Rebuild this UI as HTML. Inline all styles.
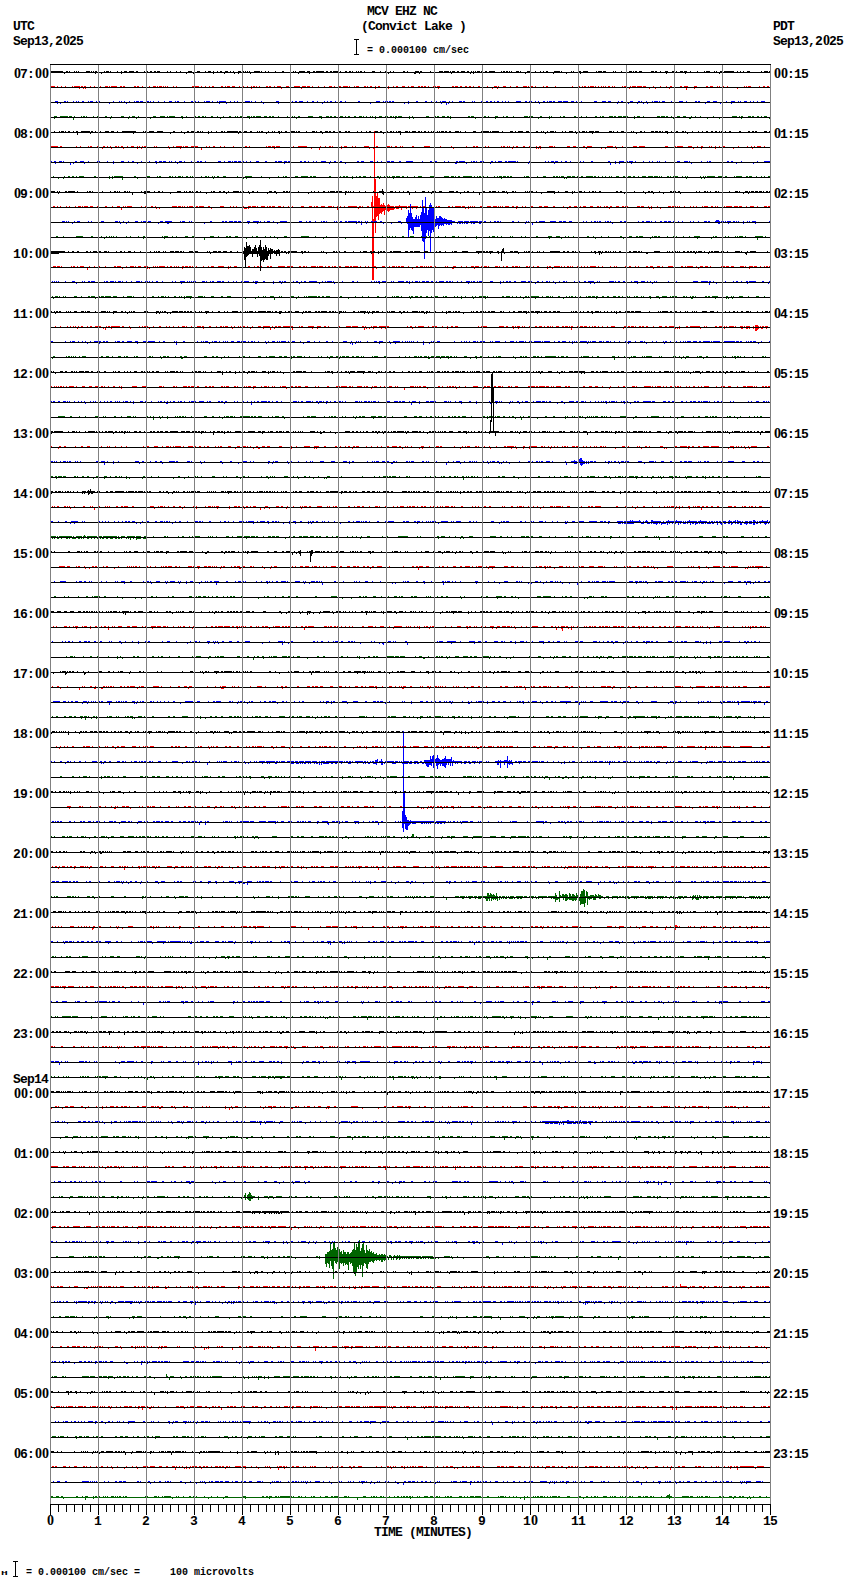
<!DOCTYPE html>
<html><head><meta charset="utf-8"><title>MCV EHZ NC helicorder</title>
<style>
html,body{margin:0;padding:0;background:#fff;}
body{width:850px;height:1584px;position:relative;overflow:hidden;}
.mu{position:absolute;left:1px;top:1569px;font-family:'Liberation Sans','DejaVu Sans',sans-serif;font-weight:bold;font-size:8px;line-height:8px;color:#000;transform:scaleX(1.4);transform-origin:0 0;}
</style></head><body>
<svg width="850" height="1584" viewBox="0 0 850 1584" shape-rendering="crispEdges" style="position:absolute;left:0;top:0"><path fill="#000000" d="M51 71h12v1h-12zM66 71h2v1h-2zM69 71h1v1h-1zM74 71h1v1h-1zM76 71h1v1h-1zM78 71h1v1h-1zM86 71h4v1h-4zM91 71h1v1h-1zM93 71h1v1h-1zM95 71h2v1h-2zM104 71h1v1h-1zM106 71h3v1h-3zM110 71h1v1h-1zM117 71h1v1h-1zM121 71h1v1h-1zM124 71h3v1h-3zM129 71h5v1h-5zM136 71h2v1h-2zM144 71h1v1h-1zM146 71h2v1h-2zM150 71h2v1h-2zM154 71h2v1h-2zM157 71h3v1h-3zM167 71h1v1h-1zM170 71h1v1h-1zM176 71h1v1h-1zM180 71h1v1h-1zM188 71h4v1h-4zM197 71h3v1h-3zM205 71h1v1h-1zM208 71h3v1h-3zM213 71h1v1h-1zM217 71h1v1h-1zM220 71h2v1h-2zM225 71h3v1h-3zM230 71h1v1h-1zM233 71h1v1h-1zM238 71h3v1h-3zM243 71h1v1h-1zM245 71h1v1h-1zM247 71h1v1h-1zM249 71h1v1h-1zM254 71h6v1h-6zM261 71h1v1h-1zM265 71h1v1h-1zM268 71h1v1h-1zM275 71h1v1h-1zM282 71h2v1h-2zM290 71h1v1h-1zM293 71h1v1h-1zM295 71h1v1h-1zM299 71h6v1h-6zM307 71h3v1h-3zM313 71h2v1h-2zM316 71h8v1h-8zM326 71h2v1h-2zM330 71h2v1h-2zM333 71h6v1h-6zM340 71h1v1h-1zM345 71h2v1h-2zM349 71h2v1h-2zM352 71h1v1h-1zM356 71h1v1h-1zM358 71h1v1h-1zM360 71h2v1h-2zM364 71h1v1h-1zM372 71h3v1h-3zM380 71h1v1h-1zM385 71h1v1h-1zM390 71h1v1h-1zM393 71h1v1h-1zM403 71h2v1h-2zM407 71h1v1h-1zM415 71h4v1h-4zM420 71h2v1h-2zM430 71h1v1h-1zM439 71h4v1h-4zM444 71h5v1h-5zM450 71h1v1h-1zM452 71h3v1h-3zM457 71h2v1h-2zM461 71h4v1h-4zM467 71h2v1h-2zM471 71h1v1h-1zM473 71h1v1h-1zM475 71h1v1h-1zM477 71h3v1h-3zM481 71h1v1h-1zM485 71h2v1h-2zM489 71h6v1h-6zM501 71h1v1h-1zM503 71h2v1h-2zM506 71h2v1h-2zM509 71h1v1h-1zM511 71h1v1h-1zM516 71h3v1h-3zM520 71h1v1h-1zM527 71h3v1h-3zM535 71h1v1h-1zM540 71h1v1h-1zM543 71h1v1h-1zM546 71h2v1h-2zM554 71h6v1h-6zM561 71h1v1h-1zM571 71h1v1h-1zM573 71h1v1h-1zM579 71h2v1h-2zM583 71h5v1h-5zM596 71h1v1h-1zM598 71h4v1h-4zM603 71h3v1h-3zM613 71h1v1h-1zM615 71h1v1h-1zM621 71h1v1h-1zM626 71h1v1h-1zM629 71h3v1h-3zM633 71h1v1h-1zM635 71h2v1h-2zM639 71h3v1h-3zM651 71h3v1h-3zM655 71h2v1h-2zM660 71h1v1h-1zM665 71h3v1h-3zM672 71h2v1h-2zM676 71h1v1h-1zM680 71h3v1h-3zM684 71h3v1h-3zM690 71h1v1h-1zM697 71h1v1h-1zM704 71h1v1h-1zM706 71h4v1h-4zM714 71h1v1h-1zM716 71h1v1h-1zM720 71h2v1h-2zM724 71h10v1h-10zM737 71h1v1h-1zM740 71h1v1h-1zM743 71h1v1h-1zM747 71h3v1h-3zM761 71h1v1h-1zM764 71h4v1h-4zM769 71h1v1h-1zM64 73h1v1h-1zM95 73h1v1h-1zM101 73h1v1h-1zM121 73h1v1h-1zM186 73h1v1h-1zM193 73h1v1h-1zM213 73h1v1h-1zM224 73h1v1h-1zM234 73h1v1h-1zM238 73h1v1h-1zM250 73h1v1h-1zM298 73h1v1h-1zM309 73h1v1h-1zM388 73h1v1h-1zM414 73h2v1h-2zM419 73h1v1h-1zM451 73h1v1h-1zM470 73h1v1h-1zM473 73h1v1h-1zM525 73h1v1h-1zM553 73h1v1h-1zM566 73h1v1h-1zM580 73h1v1h-1zM666 73h1v1h-1zM685 73h1v1h-1zM719 73h1v1h-1z"/><path fill="#ff0000" d="M51 86h4v1h-4zM57 86h1v1h-1zM61 86h1v1h-1zM65 86h1v1h-1zM72 86h1v1h-1zM74 86h6v1h-6zM81 86h2v1h-2zM84 86h2v1h-2zM90 86h1v1h-1zM94 86h1v1h-1zM100 86h1v1h-1zM105 86h3v1h-3zM109 86h1v1h-1zM111 86h6v1h-6zM120 86h2v1h-2zM123 86h2v1h-2zM134 86h2v1h-2zM137 86h2v1h-2zM142 86h1v1h-1zM149 86h1v1h-1zM153 86h3v1h-3zM157 86h1v1h-1zM159 86h3v1h-3zM163 86h1v1h-1zM165 86h1v1h-1zM167 86h1v1h-1zM173 86h1v1h-1zM176 86h1v1h-1zM192 86h7v1h-7zM201 86h1v1h-1zM205 86h1v1h-1zM209 86h1v1h-1zM212 86h2v1h-2zM221 86h2v1h-2zM225 86h1v1h-1zM227 86h3v1h-3zM232 86h3v1h-3zM239 86h1v1h-1zM242 86h2v1h-2zM247 86h1v1h-1zM251 86h1v1h-1zM253 86h2v1h-2zM256 86h1v1h-1zM259 86h1v1h-1zM266 86h2v1h-2zM269 86h2v1h-2zM274 86h1v1h-1zM277 86h4v1h-4zM286 86h3v1h-3zM294 86h6v1h-6zM302 86h4v1h-4zM307 86h3v1h-3zM312 86h1v1h-1zM318 86h1v1h-1zM324 86h1v1h-1zM329 86h3v1h-3zM334 86h1v1h-1zM338 86h3v1h-3zM343 86h5v1h-5zM349 86h1v1h-1zM354 86h1v1h-1zM356 86h3v1h-3zM364 86h2v1h-2zM367 86h1v1h-1zM370 86h2v1h-2zM375 86h1v1h-1zM378 86h2v1h-2zM386 86h1v1h-1zM388 86h1v1h-1zM393 86h1v1h-1zM396 86h2v1h-2zM402 86h3v1h-3zM408 86h1v1h-1zM411 86h3v1h-3zM418 86h2v1h-2zM421 86h2v1h-2zM424 86h2v1h-2zM428 86h1v1h-1zM433 86h3v1h-3zM437 86h3v1h-3zM452 86h2v1h-2zM455 86h3v1h-3zM460 86h2v1h-2zM465 86h2v1h-2zM469 86h2v1h-2zM473 86h1v1h-1zM478 86h2v1h-2zM487 86h1v1h-1zM494 86h3v1h-3zM498 86h1v1h-1zM503 86h3v1h-3zM510 86h1v1h-1zM516 86h2v1h-2zM523 86h4v1h-4zM528 86h1v1h-1zM530 86h3v1h-3zM535 86h1v1h-1zM543 86h1v1h-1zM546 86h2v1h-2zM555 86h1v1h-1zM572 86h1v1h-1zM579 86h1v1h-1zM582 86h1v1h-1zM584 86h2v1h-2zM588 86h1v1h-1zM590 86h4v1h-4zM595 86h1v1h-1zM598 86h1v1h-1zM601 86h1v1h-1zM603 86h1v1h-1zM605 86h1v1h-1zM608 86h2v1h-2zM612 86h1v1h-1zM614 86h1v1h-1zM622 86h1v1h-1zM624 86h3v1h-3zM630 86h1v1h-1zM632 86h4v1h-4zM637 86h5v1h-5zM643 86h3v1h-3zM653 86h1v1h-1zM660 86h1v1h-1zM666 86h1v1h-1zM670 86h2v1h-2zM674 86h1v1h-1zM680 86h2v1h-2zM684 86h4v1h-4zM694 86h3v1h-3zM706 86h2v1h-2zM710 86h3v1h-3zM717 86h1v1h-1zM719 86h1v1h-1zM723 86h1v1h-1zM727 86h1v1h-1zM744 86h1v1h-1zM746 86h1v1h-1zM748 86h3v1h-3zM759 86h1v1h-1zM763 86h2v1h-2zM767 86h2v1h-2zM79 88h1v1h-1zM83 88h1v1h-1zM85 88h1v1h-1zM251 88h1v1h-1zM281 88h1v1h-1zM301 88h1v1h-1zM375 88h1v1h-1zM388 88h1v1h-1zM438 88h1v1h-1zM492 88h1v1h-1zM497 88h1v1h-1zM629 88h1v1h-1zM649 88h1v1h-1zM655 88h1v1h-1zM669 88h1v1h-1zM686 88h1v1h-1zM694 88h1v1h-1zM737 88h1v1h-1zM686 89h1v1h-1z"/><path fill="#0000ff" d="M55 101h3v1h-3zM64 101h2v1h-2zM67 101h1v1h-1zM73 101h1v1h-1zM76 101h1v1h-1zM78 101h1v1h-1zM82 101h2v1h-2zM88 101h1v1h-1zM90 101h3v1h-3zM96 101h1v1h-1zM99 101h1v1h-1zM113 101h1v1h-1zM119 101h1v1h-1zM121 101h1v1h-1zM124 101h1v1h-1zM129 101h1v1h-1zM134 101h1v1h-1zM136 101h3v1h-3zM140 101h3v1h-3zM147 101h2v1h-2zM150 101h1v1h-1zM153 101h1v1h-1zM158 101h1v1h-1zM164 101h1v1h-1zM169 101h3v1h-3zM175 101h1v1h-1zM177 101h2v1h-2zM184 101h1v1h-1zM191 101h2v1h-2zM195 101h1v1h-1zM198 101h1v1h-1zM204 101h1v1h-1zM206 101h4v1h-4zM212 101h1v1h-1zM217 101h1v1h-1zM219 101h7v1h-7zM230 101h1v1h-1zM234 101h1v1h-1zM237 101h1v1h-1zM245 101h5v1h-5zM251 101h1v1h-1zM255 101h1v1h-1zM261 101h1v1h-1zM276 101h3v1h-3zM292 101h1v1h-1zM295 101h2v1h-2zM299 101h4v1h-4zM307 101h1v1h-1zM312 101h2v1h-2zM317 101h1v1h-1zM324 101h1v1h-1zM327 101h1v1h-1zM330 101h2v1h-2zM335 101h1v1h-1zM340 101h2v1h-2zM345 101h1v1h-1zM358 101h2v1h-2zM376 101h4v1h-4zM383 101h1v1h-1zM385 101h3v1h-3zM389 101h2v1h-2zM392 101h2v1h-2zM408 101h1v1h-1zM416 101h2v1h-2zM425 101h2v1h-2zM431 101h1v1h-1zM436 101h1v1h-1zM440 101h1v1h-1zM442 101h4v1h-4zM449 101h1v1h-1zM452 101h1v1h-1zM459 101h3v1h-3zM463 101h2v1h-2zM472 101h1v1h-1zM474 101h1v1h-1zM481 101h1v1h-1zM486 101h2v1h-2zM490 101h2v1h-2zM494 101h1v1h-1zM497 101h2v1h-2zM502 101h1v1h-1zM505 101h1v1h-1zM508 101h1v1h-1zM516 101h5v1h-5zM525 101h2v1h-2zM529 101h3v1h-3zM535 101h1v1h-1zM538 101h1v1h-1zM543 101h2v1h-2zM547 101h1v1h-1zM549 101h3v1h-3zM553 101h2v1h-2zM558 101h4v1h-4zM563 101h5v1h-5zM571 101h3v1h-3zM576 101h1v1h-1zM581 101h1v1h-1zM594 101h3v1h-3zM602 101h4v1h-4zM608 101h3v1h-3zM618 101h1v1h-1zM621 101h2v1h-2zM630 101h3v1h-3zM638 101h2v1h-2zM641 101h1v1h-1zM646 101h1v1h-1zM652 101h1v1h-1zM654 101h4v1h-4zM659 101h1v1h-1zM662 101h3v1h-3zM671 101h1v1h-1zM679 101h4v1h-4zM686 101h1v1h-1zM695 101h2v1h-2zM698 101h2v1h-2zM707 101h3v1h-3zM713 101h4v1h-4zM726 101h1v1h-1zM731 101h4v1h-4zM738 101h1v1h-1zM740 101h1v1h-1zM744 101h3v1h-3zM750 101h1v1h-1zM753 101h1v1h-1zM757 101h1v1h-1zM761 101h4v1h-4zM57 103h1v1h-1zM60 103h1v1h-1zM109 103h1v1h-1zM126 103h1v1h-1zM219 103h1v1h-1zM226 103h1v1h-1zM263 103h1v1h-1zM278 103h1v1h-1zM322 103h1v1h-1zM370 103h1v1h-1zM404 103h1v1h-1zM408 103h1v1h-1zM441 103h1v1h-1zM446 103h1v1h-1zM448 103h1v1h-1zM539 103h1v1h-1zM617 103h1v1h-1zM628 103h1v1h-1zM637 103h1v1h-1zM643 103h1v1h-1zM647 103h1v1h-1zM705 103h1v1h-1zM720 103h1v1h-1zM731 103h1v1h-1zM446 104h1v1h-1z"/><path fill="#006400" d="M54 116h3v1h-3zM60 116h8v1h-8zM69 116h3v1h-3zM74 116h1v1h-1zM81 116h1v1h-1zM83 116h2v1h-2zM86 116h1v1h-1zM93 116h1v1h-1zM97 116h1v1h-1zM105 116h2v1h-2zM111 116h1v1h-1zM121 116h3v1h-3zM129 116h1v1h-1zM132 116h3v1h-3zM138 116h1v1h-1zM153 116h3v1h-3zM160 116h5v1h-5zM167 116h1v1h-1zM169 116h6v1h-6zM181 116h2v1h-2zM186 116h1v1h-1zM194 116h2v1h-2zM198 116h2v1h-2zM202 116h2v1h-2zM205 116h1v1h-1zM211 116h2v1h-2zM217 116h1v1h-1zM223 116h1v1h-1zM229 116h2v1h-2zM235 116h1v1h-1zM237 116h1v1h-1zM240 116h3v1h-3zM247 116h3v1h-3zM251 116h1v1h-1zM253 116h2v1h-2zM256 116h5v1h-5zM264 116h3v1h-3zM269 116h2v1h-2zM272 116h2v1h-2zM278 116h1v1h-1zM287 116h1v1h-1zM292 116h1v1h-1zM294 116h1v1h-1zM298 116h2v1h-2zM308 116h5v1h-5zM319 116h3v1h-3zM326 116h3v1h-3zM330 116h2v1h-2zM334 116h2v1h-2zM340 116h3v1h-3zM345 116h1v1h-1zM348 116h2v1h-2zM354 116h2v1h-2zM359 116h3v1h-3zM363 116h1v1h-1zM366 116h1v1h-1zM370 116h1v1h-1zM372 116h1v1h-1zM375 116h1v1h-1zM379 116h3v1h-3zM385 116h3v1h-3zM390 116h2v1h-2zM393 116h1v1h-1zM395 116h2v1h-2zM398 116h4v1h-4zM409 116h1v1h-1zM412 116h1v1h-1zM426 116h3v1h-3zM435 116h1v1h-1zM437 116h2v1h-2zM442 116h3v1h-3zM447 116h2v1h-2zM450 116h1v1h-1zM468 116h2v1h-2zM471 116h3v1h-3zM482 116h1v1h-1zM484 116h2v1h-2zM488 116h1v1h-1zM495 116h3v1h-3zM503 116h1v1h-1zM506 116h2v1h-2zM513 116h1v1h-1zM524 116h4v1h-4zM529 116h4v1h-4zM540 116h2v1h-2zM549 116h1v1h-1zM551 116h1v1h-1zM560 116h1v1h-1zM563 116h2v1h-2zM574 116h2v1h-2zM581 116h1v1h-1zM586 116h1v1h-1zM595 116h2v1h-2zM600 116h1v1h-1zM602 116h2v1h-2zM609 116h4v1h-4zM614 116h2v1h-2zM618 116h4v1h-4zM623 116h3v1h-3zM627 116h1v1h-1zM634 116h1v1h-1zM637 116h3v1h-3zM643 116h1v1h-1zM657 116h3v1h-3zM661 116h4v1h-4zM666 116h2v1h-2zM671 116h1v1h-1zM674 116h1v1h-1zM677 116h3v1h-3zM683 116h3v1h-3zM691 116h1v1h-1zM695 116h1v1h-1zM700 116h1v1h-1zM713 116h1v1h-1zM732 116h5v1h-5zM739 116h1v1h-1zM741 116h2v1h-2zM748 116h3v1h-3zM752 116h2v1h-2zM757 116h2v1h-2zM761 116h1v1h-1zM764 116h3v1h-3zM54 118h1v1h-1zM73 118h1v1h-1zM110 118h1v1h-1zM128 118h1v1h-1zM136 118h1v1h-1zM150 118h1v1h-1zM182 118h1v1h-1zM220 118h1v1h-1zM249 118h1v1h-1zM296 118h1v1h-1zM321 118h1v1h-1zM375 118h1v1h-1zM395 118h1v1h-1zM409 118h1v1h-1zM413 118h1v1h-1zM450 118h1v1h-1zM475 118h1v1h-1zM495 118h1v1h-1zM538 118h1v1h-1zM549 118h1v1h-1zM634 118h1v1h-1zM673 118h1v1h-1zM689 118h2v1h-2zM707 118h1v1h-1zM719 118h1v1h-1zM741 118h1v1h-1zM769 118h1v1h-1zM73 119h1v1h-1z"/><path fill="#000000" d="M54 131h1v1h-1zM59 131h1v1h-1zM61 131h3v1h-3zM65 131h1v1h-1zM68 131h2v1h-2zM73 131h1v1h-1zM76 131h2v1h-2zM81 131h9v1h-9zM91 131h2v1h-2zM95 131h1v1h-1zM100 131h1v1h-1zM105 131h4v1h-4zM111 131h3v1h-3zM117 131h1v1h-1zM122 131h14v1h-14zM143 131h1v1h-1zM145 131h2v1h-2zM149 131h5v1h-5zM157 131h6v1h-6zM173 131h2v1h-2zM181 131h1v1h-1zM187 131h2v1h-2zM191 131h3v1h-3zM197 131h2v1h-2zM200 131h1v1h-1zM202 131h1v1h-1zM208 131h1v1h-1zM211 131h1v1h-1zM216 131h1v1h-1zM221 131h2v1h-2zM224 131h1v1h-1zM227 131h11v1h-11zM239 131h2v1h-2zM242 131h1v1h-1zM244 131h3v1h-3zM250 131h2v1h-2zM257 131h1v1h-1zM259 131h1v1h-1zM261 131h2v1h-2zM268 131h1v1h-1zM272 131h1v1h-1zM274 131h1v1h-1zM278 131h2v1h-2zM281 131h1v1h-1zM285 131h2v1h-2zM290 131h5v1h-5zM296 131h1v1h-1zM298 131h2v1h-2zM306 131h1v1h-1zM312 131h3v1h-3zM316 131h1v1h-1zM320 131h2v1h-2zM325 131h3v1h-3zM329 131h2v1h-2zM333 131h2v1h-2zM339 131h2v1h-2zM345 131h2v1h-2zM348 131h2v1h-2zM357 131h1v1h-1zM361 131h1v1h-1zM366 131h1v1h-1zM369 131h2v1h-2zM375 131h3v1h-3zM380 131h2v1h-2zM387 131h1v1h-1zM390 131h2v1h-2zM393 131h1v1h-1zM396 131h1v1h-1zM398 131h3v1h-3zM405 131h3v1h-3zM409 131h1v1h-1zM412 131h4v1h-4zM418 131h2v1h-2zM421 131h1v1h-1zM424 131h2v1h-2zM428 131h1v1h-1zM431 131h1v1h-1zM433 131h2v1h-2zM437 131h1v1h-1zM439 131h1v1h-1zM441 131h3v1h-3zM445 131h2v1h-2zM449 131h2v1h-2zM455 131h4v1h-4zM460 131h1v1h-1zM465 131h1v1h-1zM473 131h3v1h-3zM481 131h8v1h-8zM490 131h1v1h-1zM492 131h7v1h-7zM502 131h1v1h-1zM510 131h3v1h-3zM515 131h1v1h-1zM518 131h5v1h-5zM526 131h3v1h-3zM536 131h2v1h-2zM541 131h1v1h-1zM543 131h1v1h-1zM547 131h1v1h-1zM550 131h4v1h-4zM555 131h1v1h-1zM562 131h1v1h-1zM565 131h1v1h-1zM569 131h4v1h-4zM575 131h1v1h-1zM579 131h1v1h-1zM582 131h3v1h-3zM586 131h1v1h-1zM589 131h5v1h-5zM595 131h4v1h-4zM609 131h3v1h-3zM613 131h1v1h-1zM617 131h1v1h-1zM621 131h3v1h-3zM631 131h1v1h-1zM633 131h1v1h-1zM640 131h2v1h-2zM644 131h1v1h-1zM651 131h3v1h-3zM655 131h3v1h-3zM659 131h2v1h-2zM662 131h1v1h-1zM665 131h3v1h-3zM671 131h1v1h-1zM676 131h2v1h-2zM682 131h2v1h-2zM685 131h1v1h-1zM692 131h1v1h-1zM698 131h1v1h-1zM702 131h1v1h-1zM706 131h2v1h-2zM711 131h2v1h-2zM715 131h2v1h-2zM719 131h1v1h-1zM721 131h1v1h-1zM725 131h1v1h-1zM729 131h2v1h-2zM739 131h2v1h-2zM748 131h2v1h-2zM752 131h2v1h-2zM755 131h2v1h-2zM764 131h3v1h-3zM769 131h1v1h-1zM77 133h1v1h-1zM90 133h1v1h-1zM133 133h1v1h-1zM170 133h1v1h-1zM184 133h1v1h-1zM208 133h1v1h-1zM238 133h1v1h-1zM266 133h1v1h-1zM279 133h1v1h-1zM322 133h1v1h-1zM383 133h1v1h-1zM400 133h1v1h-1zM545 133h1v1h-1zM576 133h1v1h-1zM592 133h1v1h-1zM636 133h1v1h-1zM667 133h1v1h-1zM687 133h1v1h-1zM77 134h1v1h-1zM400 134h1v1h-1z"/><path fill="#ff0000" d="M51 146h7v1h-7zM60 146h2v1h-2zM76 146h1v1h-1zM80 146h1v1h-1zM88 146h1v1h-1zM90 146h2v1h-2zM97 146h2v1h-2zM103 146h2v1h-2zM107 146h1v1h-1zM110 146h1v1h-1zM115 146h2v1h-2zM118 146h1v1h-1zM121 146h2v1h-2zM127 146h1v1h-1zM131 146h3v1h-3zM137 146h1v1h-1zM139 146h1v1h-1zM142 146h1v1h-1zM144 146h3v1h-3zM154 146h1v1h-1zM156 146h1v1h-1zM168 146h1v1h-1zM173 146h1v1h-1zM176 146h6v1h-6zM183 146h1v1h-1zM185 146h3v1h-3zM191 146h3v1h-3zM195 146h3v1h-3zM206 146h1v1h-1zM209 146h1v1h-1zM213 146h2v1h-2zM220 146h1v1h-1zM224 146h1v1h-1zM233 146h1v1h-1zM245 146h2v1h-2zM249 146h1v1h-1zM266 146h1v1h-1zM268 146h3v1h-3zM272 146h3v1h-3zM276 146h4v1h-4zM293 146h1v1h-1zM298 146h9v1h-9zM320 146h1v1h-1zM325 146h1v1h-1zM329 146h2v1h-2zM332 146h1v1h-1zM341 146h1v1h-1zM344 146h3v1h-3zM352 146h1v1h-1zM355 146h1v1h-1zM364 146h5v1h-5zM376 146h2v1h-2zM386 146h4v1h-4zM391 146h1v1h-1zM395 146h2v1h-2zM400 146h1v1h-1zM402 146h1v1h-1zM412 146h2v1h-2zM424 146h6v1h-6zM434 146h1v1h-1zM440 146h1v1h-1zM451 146h1v1h-1zM466 146h1v1h-1zM473 146h2v1h-2zM476 146h2v1h-2zM485 146h1v1h-1zM488 146h1v1h-1zM501 146h1v1h-1zM503 146h2v1h-2zM507 146h1v1h-1zM509 146h1v1h-1zM513 146h1v1h-1zM516 146h2v1h-2zM523 146h2v1h-2zM529 146h1v1h-1zM536 146h1v1h-1zM539 146h2v1h-2zM549 146h4v1h-4zM554 146h1v1h-1zM567 146h3v1h-3zM573 146h3v1h-3zM583 146h2v1h-2zM587 146h5v1h-5zM607 146h6v1h-6zM615 146h1v1h-1zM622 146h1v1h-1zM633 146h4v1h-4zM639 146h6v1h-6zM665 146h3v1h-3zM674 146h2v1h-2zM677 146h6v1h-6zM688 146h4v1h-4zM697 146h1v1h-1zM701 146h2v1h-2zM709 146h1v1h-1zM711 146h1v1h-1zM715 146h1v1h-1zM719 146h1v1h-1zM722 146h3v1h-3zM738 146h1v1h-1zM747 146h1v1h-1zM751 146h1v1h-1zM754 146h1v1h-1zM757 146h4v1h-4zM764 146h1v1h-1zM102 148h1v1h-1zM111 148h1v1h-1zM123 148h1v1h-1zM137 148h1v1h-1zM141 148h1v1h-1zM169 148h1v1h-1zM180 148h1v1h-1zM201 148h1v1h-1zM274 148h1v1h-1zM311 148h1v1h-1zM319 148h1v1h-1zM341 148h1v1h-1zM369 148h1v1h-1zM373 148h2v1h-2zM453 148h1v1h-1zM512 148h1v1h-1zM536 148h1v1h-1zM538 148h1v1h-1zM540 148h1v1h-1zM586 148h1v1h-1zM601 148h1v1h-1zM605 148h1v1h-1zM616 148h1v1h-1zM693 148h1v1h-1zM701 148h1v1h-1zM715 148h1v1h-1zM733 148h1v1h-1zM752 148h1v1h-1zM201 149h1v1h-1zM319 149h1v1h-1z"/><path fill="#0000ff" d="M51 161h1v1h-1zM54 161h2v1h-2zM59 161h3v1h-3zM63 161h1v1h-1zM75 161h2v1h-2zM80 161h4v1h-4zM88 161h1v1h-1zM97 161h3v1h-3zM107 161h1v1h-1zM113 161h1v1h-1zM121 161h3v1h-3zM128 161h1v1h-1zM132 161h2v1h-2zM141 161h1v1h-1zM149 161h1v1h-1zM155 161h2v1h-2zM159 161h3v1h-3zM163 161h3v1h-3zM169 161h1v1h-1zM171 161h1v1h-1zM175 161h1v1h-1zM179 161h3v1h-3zM184 161h1v1h-1zM191 161h1v1h-1zM194 161h1v1h-1zM197 161h2v1h-2zM200 161h2v1h-2zM205 161h1v1h-1zM218 161h3v1h-3zM224 161h1v1h-1zM228 161h3v1h-3zM232 161h1v1h-1zM234 161h3v1h-3zM238 161h3v1h-3zM243 161h1v1h-1zM246 161h1v1h-1zM250 161h1v1h-1zM256 161h3v1h-3zM265 161h2v1h-2zM275 161h2v1h-2zM278 161h4v1h-4zM284 161h3v1h-3zM288 161h3v1h-3zM300 161h2v1h-2zM304 161h2v1h-2zM308 161h1v1h-1zM313 161h1v1h-1zM316 161h1v1h-1zM321 161h5v1h-5zM330 161h1v1h-1zM334 161h2v1h-2zM340 161h2v1h-2zM357 161h2v1h-2zM361 161h3v1h-3zM370 161h3v1h-3zM377 161h1v1h-1zM381 161h1v1h-1zM386 161h4v1h-4zM391 161h3v1h-3zM399 161h2v1h-2zM406 161h7v1h-7zM422 161h1v1h-1zM430 161h2v1h-2zM434 161h3v1h-3zM444 161h1v1h-1zM448 161h1v1h-1zM456 161h2v1h-2zM459 161h6v1h-6zM471 161h1v1h-1zM473 161h2v1h-2zM476 161h1v1h-1zM480 161h4v1h-4zM491 161h2v1h-2zM495 161h1v1h-1zM498 161h4v1h-4zM505 161h2v1h-2zM508 161h8v1h-8zM517 161h1v1h-1zM529 161h1v1h-1zM545 161h1v1h-1zM548 161h1v1h-1zM551 161h3v1h-3zM555 161h3v1h-3zM561 161h1v1h-1zM565 161h2v1h-2zM570 161h1v1h-1zM578 161h1v1h-1zM580 161h1v1h-1zM583 161h1v1h-1zM591 161h2v1h-2zM608 161h2v1h-2zM615 161h1v1h-1zM619 161h5v1h-5zM627 161h1v1h-1zM629 161h4v1h-4zM635 161h1v1h-1zM643 161h1v1h-1zM649 161h1v1h-1zM652 161h1v1h-1zM657 161h1v1h-1zM659 161h1v1h-1zM665 161h1v1h-1zM677 161h3v1h-3zM684 161h4v1h-4zM689 161h1v1h-1zM701 161h1v1h-1zM707 161h1v1h-1zM709 161h2v1h-2zM727 161h2v1h-2zM731 161h2v1h-2zM741 161h1v1h-1zM757 161h1v1h-1zM764 161h6v1h-6zM55 163h1v1h-1zM70 163h1v1h-1zM73 163h1v1h-1zM84 163h1v1h-1zM113 163h1v1h-1zM137 163h1v1h-1zM156 163h1v1h-1zM177 163h1v1h-1zM284 163h1v1h-1zM329 163h1v1h-1zM345 163h1v1h-1zM455 163h2v1h-2zM466 163h1v1h-1zM490 163h1v1h-1zM528 163h1v1h-1zM554 163h1v1h-1zM610 163h1v1h-1zM615 163h1v1h-1zM619 163h1v1h-1zM631 163h1v1h-1zM691 163h1v1h-1zM736 163h1v1h-1zM753 163h1v1h-1zM70 164h1v1h-1zM610 164h1v1h-1z"/><path fill="#006400" d="M53 176h1v1h-1zM64 176h1v1h-1zM68 176h2v1h-2zM72 176h2v1h-2zM76 176h1v1h-1zM79 176h5v1h-5zM94 176h2v1h-2zM109 176h1v1h-1zM112 176h1v1h-1zM114 176h9v1h-9zM134 176h2v1h-2zM147 176h3v1h-3zM157 176h1v1h-1zM159 176h2v1h-2zM169 176h2v1h-2zM172 176h1v1h-1zM175 176h1v1h-1zM178 176h3v1h-3zM182 176h1v1h-1zM186 176h2v1h-2zM190 176h1v1h-1zM192 176h1v1h-1zM201 176h1v1h-1zM205 176h2v1h-2zM208 176h1v1h-1zM212 176h1v1h-1zM214 176h1v1h-1zM217 176h2v1h-2zM223 176h3v1h-3zM237 176h1v1h-1zM245 176h7v1h-7zM261 176h1v1h-1zM278 176h1v1h-1zM283 176h1v1h-1zM285 176h2v1h-2zM295 176h3v1h-3zM301 176h7v1h-7zM310 176h2v1h-2zM313 176h3v1h-3zM329 176h2v1h-2zM340 176h1v1h-1zM343 176h2v1h-2zM346 176h2v1h-2zM352 176h1v1h-1zM356 176h1v1h-1zM359 176h2v1h-2zM363 176h3v1h-3zM370 176h1v1h-1zM377 176h2v1h-2zM380 176h1v1h-1zM384 176h1v1h-1zM387 176h1v1h-1zM389 176h1v1h-1zM392 176h3v1h-3zM396 176h4v1h-4zM402 176h2v1h-2zM407 176h1v1h-1zM414 176h1v1h-1zM418 176h4v1h-4zM430 176h4v1h-4zM444 176h5v1h-5zM451 176h3v1h-3zM455 176h1v1h-1zM458 176h2v1h-2zM463 176h9v1h-9zM474 176h1v1h-1zM477 176h1v1h-1zM479 176h2v1h-2zM482 176h2v1h-2zM487 176h1v1h-1zM494 176h1v1h-1zM497 176h1v1h-1zM499 176h3v1h-3zM503 176h3v1h-3zM507 176h2v1h-2zM510 176h2v1h-2zM524 176h1v1h-1zM526 176h3v1h-3zM537 176h1v1h-1zM543 176h3v1h-3zM553 176h2v1h-2zM556 176h2v1h-2zM559 176h1v1h-1zM561 176h3v1h-3zM567 176h4v1h-4zM572 176h3v1h-3zM577 176h1v1h-1zM581 176h2v1h-2zM586 176h7v1h-7zM594 176h2v1h-2zM598 176h1v1h-1zM602 176h1v1h-1zM605 176h1v1h-1zM609 176h1v1h-1zM611 176h1v1h-1zM616 176h3v1h-3zM623 176h2v1h-2zM628 176h3v1h-3zM633 176h2v1h-2zM638 176h1v1h-1zM642 176h4v1h-4zM648 176h5v1h-5zM654 176h4v1h-4zM659 176h1v1h-1zM661 176h1v1h-1zM667 176h2v1h-2zM670 176h1v1h-1zM673 176h5v1h-5zM682 176h1v1h-1zM685 176h1v1h-1zM687 176h1v1h-1zM700 176h1v1h-1zM703 176h1v1h-1zM705 176h1v1h-1zM707 176h8v1h-8zM718 176h4v1h-4zM725 176h2v1h-2zM734 176h1v1h-1zM736 176h6v1h-6zM746 176h2v1h-2zM749 176h3v1h-3zM756 176h1v1h-1zM761 176h1v1h-1zM764 176h1v1h-1zM768 176h2v1h-2zM58 178h1v1h-1zM63 178h1v1h-1zM109 178h1v1h-1zM112 178h1v1h-1zM122 178h1v1h-1zM137 178h1v1h-1zM213 178h1v1h-1zM243 178h1v1h-1zM246 178h1v1h-1zM269 178h1v1h-1zM352 178h1v1h-1zM379 178h1v1h-1zM393 178h1v1h-1zM501 178h1v1h-1zM564 178h1v1h-1zM566 178h1v1h-1zM686 178h1v1h-1zM701 178h1v1h-1zM704 178h1v1h-1zM122 179h1v1h-1z"/><path fill="#000000" d="M382 189h1v1h-1zM382 190h1v1h-1zM51 191h4v1h-4zM57 191h1v1h-1zM59 191h1v1h-1zM65 191h2v1h-2zM68 191h7v1h-7zM77 191h1v1h-1zM87 191h1v1h-1zM89 191h2v1h-2zM92 191h1v1h-1zM102 191h1v1h-1zM110 191h1v1h-1zM114 191h2v1h-2zM117 191h1v1h-1zM119 191h1v1h-1zM124 191h2v1h-2zM127 191h1v1h-1zM129 191h1v1h-1zM141 191h1v1h-1zM144 191h2v1h-2zM147 191h3v1h-3zM154 191h1v1h-1zM158 191h2v1h-2zM162 191h1v1h-1zM177 191h4v1h-4zM184 191h1v1h-1zM186 191h1v1h-1zM189 191h2v1h-2zM192 191h1v1h-1zM194 191h1v1h-1zM196 191h2v1h-2zM200 191h1v1h-1zM211 191h1v1h-1zM213 191h2v1h-2zM219 191h2v1h-2zM223 191h2v1h-2zM228 191h1v1h-1zM233 191h6v1h-6zM240 191h1v1h-1zM242 191h2v1h-2zM248 191h1v1h-1zM252 191h2v1h-2zM257 191h1v1h-1zM269 191h3v1h-3zM274 191h2v1h-2zM283 191h2v1h-2zM286 191h2v1h-2zM289 191h1v1h-1zM298 191h1v1h-1zM311 191h1v1h-1zM314 191h1v1h-1zM318 191h1v1h-1zM323 191h2v1h-2zM328 191h1v1h-1zM330 191h5v1h-5zM336 191h2v1h-2zM339 191h3v1h-3zM345 191h2v1h-2zM348 191h1v1h-1zM350 191h1v1h-1zM353 191h1v1h-1zM359 191h1v1h-1zM365 191h1v1h-1zM373 191h1v1h-1zM379 191h5v1h-5zM390 191h3v1h-3zM395 191h1v1h-1zM399 191h1v1h-1zM403 191h1v1h-1zM407 191h2v1h-2zM415 191h1v1h-1zM422 191h3v1h-3zM428 191h1v1h-1zM432 191h4v1h-4zM439 191h3v1h-3zM449 191h5v1h-5zM456 191h2v1h-2zM464 191h1v1h-1zM467 191h2v1h-2zM473 191h1v1h-1zM483 191h2v1h-2zM489 191h2v1h-2zM492 191h4v1h-4zM498 191h1v1h-1zM502 191h3v1h-3zM506 191h1v1h-1zM512 191h2v1h-2zM515 191h1v1h-1zM525 191h1v1h-1zM527 191h1v1h-1zM529 191h4v1h-4zM536 191h1v1h-1zM547 191h8v1h-8zM558 191h1v1h-1zM565 191h3v1h-3zM572 191h1v1h-1zM574 191h1v1h-1zM578 191h4v1h-4zM584 191h1v1h-1zM589 191h1v1h-1zM592 191h2v1h-2zM595 191h1v1h-1zM599 191h2v1h-2zM616 191h2v1h-2zM620 191h2v1h-2zM626 191h1v1h-1zM634 191h1v1h-1zM643 191h1v1h-1zM648 191h2v1h-2zM651 191h2v1h-2zM659 191h1v1h-1zM670 191h2v1h-2zM673 191h1v1h-1zM675 191h1v1h-1zM678 191h2v1h-2zM696 191h1v1h-1zM699 191h1v1h-1zM704 191h2v1h-2zM707 191h1v1h-1zM710 191h1v1h-1zM715 191h2v1h-2zM718 191h1v1h-1zM729 191h1v1h-1zM735 191h3v1h-3zM739 191h1v1h-1zM745 191h3v1h-3zM749 191h1v1h-1zM751 191h3v1h-3zM755 191h3v1h-3zM759 191h3v1h-3zM763 191h1v1h-1zM766 191h2v1h-2zM769 191h1v1h-1zM382 192h2v1h-2zM58 193h1v1h-1zM132 193h1v1h-1zM144 193h2v1h-2zM170 193h1v1h-1zM206 193h1v1h-1zM226 193h1v1h-1zM249 193h1v1h-1zM267 193h1v1h-1zM276 193h1v1h-1zM308 193h1v1h-1zM345 193h1v1h-1zM382 193h2v1h-2zM409 193h1v1h-1zM431 193h1v1h-1zM460 193h1v1h-1zM479 193h1v1h-1zM507 193h1v1h-1zM541 193h1v1h-1zM554 193h1v1h-1zM572 193h1v1h-1zM624 193h1v1h-1zM645 193h1v1h-1zM653 193h1v1h-1zM663 193h1v1h-1zM680 193h1v1h-1zM743 193h1v1h-1zM748 193h1v1h-1zM132 194h1v1h-1zM345 194h1v1h-1zM383 194h1v1h-1zM409 194h1v1h-1zM479 194h1v1h-1z"/><path fill="#ff0000" d="M374 131h1v1h-1zM374 132h1v1h-1zM374 133h1v1h-1zM374 134h1v1h-1zM374 135h1v1h-1zM374 136h1v1h-1zM374 137h1v1h-1zM374 138h1v1h-1zM374 139h1v1h-1zM374 140h1v1h-1zM374 141h1v1h-1zM374 142h1v1h-1zM374 143h1v1h-1zM374 144h1v1h-1zM374 145h1v1h-1zM374 146h1v1h-1zM374 147h1v1h-1zM374 148h1v1h-1zM374 149h1v1h-1zM374 150h1v1h-1zM374 151h1v1h-1zM374 152h1v1h-1zM374 153h1v1h-1zM374 154h1v1h-1zM374 155h1v1h-1zM374 156h1v1h-1zM374 157h1v1h-1zM374 158h1v1h-1zM374 159h1v1h-1zM374 160h1v1h-1zM374 161h1v1h-1zM374 162h1v1h-1zM374 163h1v1h-1zM374 164h1v1h-1zM374 165h1v1h-1zM374 166h1v1h-1zM374 167h1v1h-1zM374 168h1v1h-1zM374 169h1v1h-1zM374 170h1v1h-1zM374 171h1v1h-1zM374 172h1v1h-1zM374 173h1v1h-1zM374 174h1v1h-1zM374 175h1v1h-1zM374 176h1v1h-1zM374 177h1v1h-1zM374 178h1v1h-1zM374 179h2v1h-2zM374 180h2v1h-2zM374 181h2v1h-2zM374 182h2v1h-2zM374 183h2v1h-2zM374 184h2v1h-2zM374 185h2v1h-2zM374 186h2v1h-2zM374 187h2v1h-2zM374 188h2v1h-2zM374 189h2v1h-2zM374 190h2v1h-2zM374 191h2v1h-2zM374 192h2v1h-2zM374 193h2v1h-2zM377 193h1v1h-1zM374 194h2v1h-2zM377 194h1v1h-1zM374 195h2v1h-2zM377 195h1v1h-1zM372 196h1v1h-1zM374 196h4v1h-4zM372 197h1v1h-1zM374 197h4v1h-4zM372 198h1v1h-1zM374 198h6v1h-6zM372 199h1v1h-1zM374 199h6v1h-6zM372 200h1v1h-1zM374 200h6v1h-6zM372 201h1v1h-1zM374 201h6v1h-6zM371 202h2v1h-2zM374 202h6v1h-6zM371 203h2v1h-2zM374 203h6v1h-6zM383 203h1v1h-1zM371 204h2v1h-2zM374 204h6v1h-6zM381 204h1v1h-1zM383 204h1v1h-1zM388 204h1v1h-1zM371 205h2v1h-2zM374 205h11v1h-11zM387 205h3v1h-3zM399 205h1v1h-1zM53 206h2v1h-2zM57 206h1v1h-1zM60 206h1v1h-1zM66 206h1v1h-1zM69 206h1v1h-1zM75 206h1v1h-1zM78 206h3v1h-3zM82 206h1v1h-1zM84 206h4v1h-4zM90 206h3v1h-3zM97 206h1v1h-1zM105 206h2v1h-2zM112 206h1v1h-1zM117 206h3v1h-3zM123 206h1v1h-1zM125 206h1v1h-1zM127 206h5v1h-5zM141 206h1v1h-1zM145 206h1v1h-1zM151 206h2v1h-2zM155 206h1v1h-1zM172 206h5v1h-5zM178 206h3v1h-3zM182 206h1v1h-1zM184 206h1v1h-1zM187 206h1v1h-1zM189 206h4v1h-4zM196 206h2v1h-2zM199 206h5v1h-5zM208 206h2v1h-2zM220 206h4v1h-4zM230 206h1v1h-1zM233 206h1v1h-1zM236 206h1v1h-1zM243 206h1v1h-1zM248 206h3v1h-3zM252 206h4v1h-4zM257 206h1v1h-1zM261 206h4v1h-4zM267 206h1v1h-1zM269 206h2v1h-2zM272 206h3v1h-3zM278 206h3v1h-3zM283 206h1v1h-1zM288 206h1v1h-1zM292 206h1v1h-1zM301 206h3v1h-3zM309 206h3v1h-3zM314 206h1v1h-1zM316 206h2v1h-2zM321 206h4v1h-4zM328 206h4v1h-4zM333 206h1v1h-1zM337 206h2v1h-2zM340 206h1v1h-1zM344 206h1v1h-1zM348 206h9v1h-9zM359 206h2v1h-2zM362 206h1v1h-1zM367 206h2v1h-2zM371 206h23v1h-23zM395 206h12v1h-12zM408 206h10v1h-10zM420 206h1v1h-1zM423 206h3v1h-3zM436 206h1v1h-1zM438 206h2v1h-2zM448 206h2v1h-2zM452 206h1v1h-1zM455 206h6v1h-6zM462 206h3v1h-3zM468 206h1v1h-1zM470 206h1v1h-1zM472 206h1v1h-1zM474 206h1v1h-1zM480 206h2v1h-2zM487 206h4v1h-4zM493 206h4v1h-4zM498 206h1v1h-1zM500 206h1v1h-1zM502 206h1v1h-1zM505 206h4v1h-4zM512 206h2v1h-2zM516 206h2v1h-2zM522 206h1v1h-1zM525 206h1v1h-1zM531 206h2v1h-2zM539 206h3v1h-3zM544 206h4v1h-4zM553 206h2v1h-2zM563 206h1v1h-1zM569 206h2v1h-2zM574 206h3v1h-3zM580 206h1v1h-1zM583 206h3v1h-3zM590 206h3v1h-3zM597 206h2v1h-2zM600 206h1v1h-1zM604 206h1v1h-1zM606 206h2v1h-2zM610 206h2v1h-2zM616 206h3v1h-3zM622 206h2v1h-2zM625 206h1v1h-1zM627 206h1v1h-1zM637 206h3v1h-3zM641 206h3v1h-3zM648 206h1v1h-1zM651 206h1v1h-1zM657 206h1v1h-1zM668 206h3v1h-3zM672 206h4v1h-4zM677 206h1v1h-1zM679 206h1v1h-1zM684 206h1v1h-1zM690 206h1v1h-1zM693 206h1v1h-1zM696 206h1v1h-1zM702 206h1v1h-1zM704 206h4v1h-4zM711 206h2v1h-2zM715 206h1v1h-1zM717 206h1v1h-1zM724 206h1v1h-1zM726 206h6v1h-6zM734 206h4v1h-4zM739 206h3v1h-3zM746 206h1v1h-1zM750 206h4v1h-4zM757 206h1v1h-1zM764 206h3v1h-3zM768 206h2v1h-2zM371 207h2v1h-2zM374 207h30v1h-30zM405 207h2v1h-2zM408 207h5v1h-5zM415 207h3v1h-3zM121 208h1v1h-1zM156 208h1v1h-1zM159 208h1v1h-1zM211 208h1v1h-1zM244 208h3v1h-3zM248 208h1v1h-1zM337 208h1v1h-1zM358 208h1v1h-1zM372 208h1v1h-1zM374 208h21v1h-21zM396 208h3v1h-3zM401 208h1v1h-1zM406 208h1v1h-1zM412 208h1v1h-1zM416 208h1v1h-1zM434 208h1v1h-1zM465 208h1v1h-1zM468 208h1v1h-1zM516 208h1v1h-1zM567 208h1v1h-1zM609 208h1v1h-1zM649 208h1v1h-1zM651 208h1v1h-1zM660 208h1v1h-1zM121 209h1v1h-1zM337 209h1v1h-1zM372 209h1v1h-1zM374 209h20v1h-20zM401 209h1v1h-1zM372 210h1v1h-1zM374 210h11v1h-11zM387 210h3v1h-3zM372 211h1v1h-1zM374 211h9v1h-9zM384 211h1v1h-1zM388 211h1v1h-1zM372 212h1v1h-1zM374 212h8v1h-8zM384 212h1v1h-1zM372 213h1v1h-1zM374 213h6v1h-6zM381 213h1v1h-1zM384 213h1v1h-1zM372 214h1v1h-1zM374 214h5v1h-5zM384 214h1v1h-1zM372 215h1v1h-1zM374 215h5v1h-5zM372 216h1v1h-1zM374 216h3v1h-3zM378 216h1v1h-1zM372 217h1v1h-1zM374 217h2v1h-2zM378 217h1v1h-1zM372 218h1v1h-1zM374 218h2v1h-2zM378 218h1v1h-1zM372 219h4v1h-4zM378 219h1v1h-1zM372 220h4v1h-4zM372 221h4v1h-4zM372 222h2v1h-2zM375 222h1v1h-1zM372 223h2v1h-2zM375 223h1v1h-1zM372 224h2v1h-2zM375 224h1v1h-1zM372 225h2v1h-2zM375 225h1v1h-1zM372 226h2v1h-2zM375 226h1v1h-1zM372 227h2v1h-2zM375 227h1v1h-1zM372 228h2v1h-2zM375 228h1v1h-1zM372 229h2v1h-2zM375 229h1v1h-1zM372 230h2v1h-2zM375 230h1v1h-1zM372 231h2v1h-2zM375 231h1v1h-1zM372 232h2v1h-2zM375 232h1v1h-1zM372 233h2v1h-2zM372 234h2v1h-2zM372 235h2v1h-2zM372 236h2v1h-2zM372 237h2v1h-2zM372 238h2v1h-2zM372 239h2v1h-2zM372 240h2v1h-2zM372 241h2v1h-2zM372 242h2v1h-2zM372 243h2v1h-2zM372 244h2v1h-2zM372 245h2v1h-2zM372 246h2v1h-2zM372 247h2v1h-2zM372 248h2v1h-2zM372 249h2v1h-2zM372 250h2v1h-2zM372 251h2v1h-2zM372 252h2v1h-2zM372 253h2v1h-2zM372 254h2v1h-2zM372 255h2v1h-2zM372 256h2v1h-2zM372 257h2v1h-2zM372 258h2v1h-2zM372 259h2v1h-2zM372 260h2v1h-2zM372 261h2v1h-2zM372 262h2v1h-2zM372 263h2v1h-2zM372 264h2v1h-2zM372 265h2v1h-2zM372 266h2v1h-2zM372 267h2v1h-2zM372 268h2v1h-2zM372 269h2v1h-2zM372 270h2v1h-2zM372 271h2v1h-2zM372 272h2v1h-2zM372 273h2v1h-2zM372 274h2v1h-2zM372 275h2v1h-2zM372 276h2v1h-2zM372 277h2v1h-2zM372 278h2v1h-2zM372 279h2v1h-2z"/><path fill="#0000ff" d="M425 197h1v1h-1zM425 198h1v1h-1zM425 199h1v1h-1zM422 200h1v1h-1zM425 200h1v1h-1zM422 201h1v1h-1zM425 201h1v1h-1zM422 202h1v1h-1zM425 202h1v1h-1zM422 203h1v1h-1zM425 203h1v1h-1zM430 203h1v1h-1zM410 204h1v1h-1zM422 204h1v1h-1zM425 204h1v1h-1zM430 204h1v1h-1zM410 205h1v1h-1zM422 205h1v1h-1zM425 205h1v1h-1zM429 205h3v1h-3zM410 206h1v1h-1zM422 206h1v1h-1zM425 206h1v1h-1zM429 206h3v1h-3zM410 207h1v1h-1zM422 207h1v1h-1zM425 207h2v1h-2zM429 207h5v1h-5zM410 208h1v1h-1zM422 208h2v1h-2zM425 208h2v1h-2zM429 208h5v1h-5zM410 209h1v1h-1zM422 209h2v1h-2zM425 209h2v1h-2zM429 209h5v1h-5zM408 210h1v1h-1zM410 210h1v1h-1zM422 210h2v1h-2zM425 210h2v1h-2zM428 210h7v1h-7zM408 211h1v1h-1zM410 211h1v1h-1zM422 211h2v1h-2zM425 211h2v1h-2zM428 211h7v1h-7zM408 212h1v1h-1zM410 212h1v1h-1zM421 212h3v1h-3zM425 212h2v1h-2zM428 212h7v1h-7zM408 213h4v1h-4zM421 213h6v1h-6zM428 213h7v1h-7zM408 214h4v1h-4zM421 214h6v1h-6zM428 214h7v1h-7zM408 215h4v1h-4zM416 215h1v1h-1zM420 215h15v1h-15zM407 216h5v1h-5zM416 216h1v1h-1zM418 216h1v1h-1zM420 216h15v1h-15zM436 216h1v1h-1zM439 216h2v1h-2zM407 217h6v1h-6zM415 217h2v1h-2zM418 217h1v1h-1zM420 217h15v1h-15zM436 217h1v1h-1zM439 217h3v1h-3zM406 218h7v1h-7zM415 218h2v1h-2zM418 218h1v1h-1zM420 218h15v1h-15zM436 218h7v1h-7zM444 218h1v1h-1zM406 219h41v1h-41zM406 220h46v1h-46zM716 220h3v1h-3zM62 221h3v1h-3zM66 221h1v1h-1zM68 221h1v1h-1zM74 221h1v1h-1zM77 221h3v1h-3zM88 221h1v1h-1zM91 221h1v1h-1zM101 221h3v1h-3zM115 221h3v1h-3zM119 221h1v1h-1zM123 221h1v1h-1zM128 221h1v1h-1zM135 221h3v1h-3zM141 221h1v1h-1zM143 221h4v1h-4zM148 221h3v1h-3zM160 221h3v1h-3zM165 221h7v1h-7zM180 221h1v1h-1zM182 221h3v1h-3zM189 221h1v1h-1zM191 221h1v1h-1zM210 221h2v1h-2zM222 221h2v1h-2zM225 221h2v1h-2zM229 221h4v1h-4zM234 221h3v1h-3zM238 221h3v1h-3zM247 221h3v1h-3zM253 221h6v1h-6zM260 221h1v1h-1zM264 221h1v1h-1zM267 221h3v1h-3zM273 221h1v1h-1zM280 221h7v1h-7zM299 221h3v1h-3zM306 221h1v1h-1zM309 221h2v1h-2zM315 221h1v1h-1zM321 221h1v1h-1zM323 221h2v1h-2zM326 221h1v1h-1zM334 221h1v1h-1zM336 221h1v1h-1zM340 221h2v1h-2zM345 221h2v1h-2zM348 221h9v1h-9zM358 221h2v1h-2zM361 221h1v1h-1zM365 221h1v1h-1zM367 221h1v1h-1zM371 221h2v1h-2zM374 221h3v1h-3zM380 221h2v1h-2zM398 221h3v1h-3zM406 221h49v1h-49zM458 221h5v1h-5zM464 221h5v1h-5zM470 221h8v1h-8zM479 221h3v1h-3zM484 221h2v1h-2zM490 221h1v1h-1zM494 221h2v1h-2zM497 221h2v1h-2zM500 221h1v1h-1zM512 221h2v1h-2zM518 221h1v1h-1zM526 221h1v1h-1zM528 221h1v1h-1zM536 221h1v1h-1zM539 221h6v1h-6zM550 221h6v1h-6zM559 221h3v1h-3zM563 221h3v1h-3zM569 221h3v1h-3zM583 221h1v1h-1zM586 221h1v1h-1zM591 221h1v1h-1zM594 221h2v1h-2zM597 221h1v1h-1zM599 221h2v1h-2zM605 221h1v1h-1zM607 221h2v1h-2zM610 221h1v1h-1zM620 221h2v1h-2zM624 221h2v1h-2zM638 221h1v1h-1zM642 221h2v1h-2zM646 221h4v1h-4zM651 221h1v1h-1zM655 221h1v1h-1zM660 221h2v1h-2zM664 221h3v1h-3zM668 221h3v1h-3zM673 221h1v1h-1zM678 221h1v1h-1zM682 221h1v1h-1zM690 221h1v1h-1zM693 221h1v1h-1zM698 221h1v1h-1zM704 221h3v1h-3zM708 221h2v1h-2zM715 221h5v1h-5zM721 221h1v1h-1zM723 221h1v1h-1zM725 221h1v1h-1zM727 221h4v1h-4zM733 221h2v1h-2zM736 221h1v1h-1zM738 221h1v1h-1zM743 221h1v1h-1zM747 221h1v1h-1zM749 221h1v1h-1zM752 221h4v1h-4zM769 221h1v1h-1zM406 222h49v1h-49zM457 222h6v1h-6zM464 222h5v1h-5zM471 222h7v1h-7zM479 222h3v1h-3zM718 222h2v1h-2zM72 223h1v1h-1zM120 223h1v1h-1zM126 223h1v1h-1zM158 223h1v1h-1zM167 223h2v1h-2zM204 223h1v1h-1zM248 223h1v1h-1zM257 223h1v1h-1zM277 223h1v1h-1zM356 223h1v1h-1zM361 223h1v1h-1zM366 223h1v1h-1zM383 223h1v1h-1zM391 223h1v1h-1zM401 223h1v1h-1zM407 223h45v1h-45zM457 223h1v1h-1zM459 223h2v1h-2zM462 223h1v1h-1zM464 223h1v1h-1zM466 223h2v1h-2zM471 223h1v1h-1zM473 223h2v1h-2zM479 223h2v1h-2zM525 223h1v1h-1zM532 223h1v1h-1zM612 223h1v1h-1zM718 223h2v1h-2zM728 223h1v1h-1zM743 223h1v1h-1zM755 223h1v1h-1zM361 224h1v1h-1zM408 224h36v1h-36zM446 224h1v1h-1zM448 224h2v1h-2zM451 224h1v1h-1zM532 224h1v1h-1zM408 225h12v1h-12zM421 225h16v1h-16zM438 225h2v1h-2zM441 225h1v1h-1zM443 225h1v1h-1zM408 226h12v1h-12zM421 226h15v1h-15zM438 226h1v1h-1zM408 227h6v1h-6zM421 227h13v1h-13zM438 227h1v1h-1zM408 228h2v1h-2zM411 228h3v1h-3zM421 228h13v1h-13zM438 228h1v1h-1zM408 229h2v1h-2zM411 229h3v1h-3zM421 229h13v1h-13zM408 230h1v1h-1zM412 230h2v1h-2zM421 230h6v1h-6zM428 230h4v1h-4zM433 230h1v1h-1zM408 231h1v1h-1zM413 231h1v1h-1zM422 231h5v1h-5zM428 231h1v1h-1zM430 231h2v1h-2zM433 231h1v1h-1zM408 232h1v1h-1zM413 232h1v1h-1zM422 232h5v1h-5zM428 232h1v1h-1zM430 232h2v1h-2zM408 233h1v1h-1zM413 233h1v1h-1zM422 233h4v1h-4zM428 233h1v1h-1zM430 233h1v1h-1zM408 234h1v1h-1zM422 234h4v1h-4zM428 234h1v1h-1zM430 234h1v1h-1zM408 235h1v1h-1zM422 235h4v1h-4zM428 235h1v1h-1zM430 235h1v1h-1zM408 236h1v1h-1zM422 236h4v1h-4zM430 236h1v1h-1zM422 237h4v1h-4zM430 237h1v1h-1zM422 238h4v1h-4zM430 238h1v1h-1zM422 239h3v1h-3zM430 239h1v1h-1zM422 240h3v1h-3zM430 240h1v1h-1zM423 241h2v1h-2zM430 241h1v1h-1zM424 242h1v1h-1zM430 242h1v1h-1zM424 243h1v1h-1zM430 243h1v1h-1zM424 244h1v1h-1zM430 244h1v1h-1zM424 245h1v1h-1zM430 245h1v1h-1zM424 246h1v1h-1zM430 246h1v1h-1zM424 247h1v1h-1zM430 247h1v1h-1zM424 248h1v1h-1zM430 248h1v1h-1zM424 249h1v1h-1zM430 249h1v1h-1zM424 250h1v1h-1zM430 250h1v1h-1zM424 251h1v1h-1zM430 251h1v1h-1zM424 252h1v1h-1zM430 252h1v1h-1zM424 253h1v1h-1zM424 254h1v1h-1zM424 255h1v1h-1zM424 256h1v1h-1zM424 257h1v1h-1zM424 258h1v1h-1z"/><path fill="#006400" d="M56 236h2v1h-2zM63 236h1v1h-1zM76 236h7v1h-7zM91 236h2v1h-2zM101 236h1v1h-1zM106 236h1v1h-1zM109 236h1v1h-1zM111 236h1v1h-1zM113 236h1v1h-1zM116 236h1v1h-1zM126 236h1v1h-1zM130 236h1v1h-1zM138 236h1v1h-1zM143 236h2v1h-2zM162 236h1v1h-1zM164 236h4v1h-4zM172 236h1v1h-1zM176 236h1v1h-1zM185 236h3v1h-3zM192 236h2v1h-2zM210 236h4v1h-4zM218 236h1v1h-1zM226 236h2v1h-2zM229 236h2v1h-2zM235 236h3v1h-3zM252 236h1v1h-1zM256 236h2v1h-2zM265 236h1v1h-1zM270 236h1v1h-1zM274 236h1v1h-1zM284 236h3v1h-3zM301 236h8v1h-8zM315 236h1v1h-1zM326 236h1v1h-1zM364 236h1v1h-1zM367 236h1v1h-1zM382 236h1v1h-1zM387 236h1v1h-1zM389 236h1v1h-1zM392 236h1v1h-1zM395 236h1v1h-1zM402 236h2v1h-2zM410 236h4v1h-4zM421 236h1v1h-1zM426 236h1v1h-1zM429 236h1v1h-1zM438 236h1v1h-1zM445 236h1v1h-1zM452 236h3v1h-3zM458 236h1v1h-1zM465 236h1v1h-1zM476 236h1v1h-1zM489 236h1v1h-1zM492 236h3v1h-3zM497 236h1v1h-1zM501 236h1v1h-1zM510 236h1v1h-1zM512 236h1v1h-1zM521 236h1v1h-1zM525 236h1v1h-1zM536 236h2v1h-2zM548 236h4v1h-4zM556 236h4v1h-4zM565 236h1v1h-1zM568 236h1v1h-1zM573 236h1v1h-1zM587 236h2v1h-2zM593 236h1v1h-1zM601 236h1v1h-1zM608 236h1v1h-1zM620 236h2v1h-2zM629 236h3v1h-3zM636 236h2v1h-2zM639 236h4v1h-4zM652 236h1v1h-1zM654 236h3v1h-3zM658 236h2v1h-2zM667 236h1v1h-1zM673 236h2v1h-2zM676 236h1v1h-1zM683 236h1v1h-1zM689 236h1v1h-1zM694 236h6v1h-6zM713 236h1v1h-1zM715 236h2v1h-2zM725 236h1v1h-1zM728 236h1v1h-1zM735 236h1v1h-1zM737 236h1v1h-1zM739 236h4v1h-4zM745 236h1v1h-1zM755 236h8v1h-8zM765 236h1v1h-1zM104 238h1v1h-1zM143 238h1v1h-1zM164 238h1v1h-1zM204 238h1v1h-1zM246 238h1v1h-1zM277 238h1v1h-1zM323 238h1v1h-1zM345 238h1v1h-1zM386 238h1v1h-1zM476 238h1v1h-1zM549 238h1v1h-1zM561 238h1v1h-1zM595 238h1v1h-1zM623 238h1v1h-1zM650 238h1v1h-1zM697 238h1v1h-1zM711 238h1v1h-1zM757 238h1v1h-1zM204 239h1v1h-1zM757 239h1v1h-1z"/><path fill="#000000" d="M260 240h1v1h-1zM260 241h1v1h-1zM246 242h1v1h-1zM260 242h1v1h-1zM246 243h1v1h-1zM260 243h1v1h-1zM246 244h1v1h-1zM260 244h1v1h-1zM246 245h1v1h-1zM249 245h1v1h-1zM255 245h1v1h-1zM259 245h2v1h-2zM265 245h1v1h-1zM246 246h4v1h-4zM255 246h1v1h-1zM259 246h2v1h-2zM265 246h1v1h-1zM244 247h1v1h-1zM246 247h5v1h-5zM254 247h2v1h-2zM258 247h4v1h-4zM263 247h1v1h-1zM265 247h2v1h-2zM244 248h7v1h-7zM254 248h3v1h-3zM258 248h4v1h-4zM263 248h1v1h-1zM265 248h2v1h-2zM268 248h1v1h-1zM270 248h1v1h-1zM503 248h1v1h-1zM244 249h7v1h-7zM252 249h5v1h-5zM258 249h4v1h-4zM263 249h4v1h-4zM268 249h1v1h-1zM270 249h3v1h-3zM278 249h1v1h-1zM502 249h2v1h-2zM244 250h7v1h-7zM252 250h5v1h-5zM258 250h9v1h-9zM268 250h5v1h-5zM274 250h1v1h-1zM276 250h4v1h-4zM502 250h2v1h-2zM51 251h14v1h-14zM68 251h1v1h-1zM72 251h2v1h-2zM77 251h2v1h-2zM86 251h2v1h-2zM90 251h1v1h-1zM93 251h4v1h-4zM98 251h3v1h-3zM104 251h3v1h-3zM108 251h1v1h-1zM116 251h1v1h-1zM120 251h2v1h-2zM124 251h1v1h-1zM128 251h3v1h-3zM134 251h1v1h-1zM140 251h1v1h-1zM146 251h1v1h-1zM150 251h1v1h-1zM154 251h1v1h-1zM156 251h1v1h-1zM158 251h2v1h-2zM163 251h1v1h-1zM165 251h1v1h-1zM170 251h4v1h-4zM175 251h4v1h-4zM180 251h2v1h-2zM183 251h1v1h-1zM189 251h4v1h-4zM195 251h3v1h-3zM207 251h1v1h-1zM209 251h1v1h-1zM213 251h4v1h-4zM218 251h3v1h-3zM223 251h4v1h-4zM230 251h2v1h-2zM237 251h1v1h-1zM242 251h38v1h-38zM281 251h2v1h-2zM284 251h2v1h-2zM288 251h9v1h-9zM301 251h2v1h-2zM304 251h2v1h-2zM308 251h1v1h-1zM321 251h1v1h-1zM323 251h1v1h-1zM333 251h2v1h-2zM336 251h1v1h-1zM339 251h1v1h-1zM344 251h2v1h-2zM353 251h1v1h-1zM360 251h1v1h-1zM363 251h4v1h-4zM370 251h2v1h-2zM373 251h2v1h-2zM378 251h1v1h-1zM380 251h2v1h-2zM383 251h2v1h-2zM390 251h2v1h-2zM393 251h8v1h-8zM405 251h3v1h-3zM410 251h3v1h-3zM414 251h6v1h-6zM424 251h4v1h-4zM436 251h1v1h-1zM439 251h2v1h-2zM445 251h1v1h-1zM452 251h1v1h-1zM454 251h3v1h-3zM462 251h6v1h-6zM476 251h9v1h-9zM486 251h2v1h-2zM489 251h4v1h-4zM497 251h2v1h-2zM501 251h3v1h-3zM510 251h3v1h-3zM514 251h4v1h-4zM524 251h1v1h-1zM526 251h1v1h-1zM528 251h2v1h-2zM532 251h1v1h-1zM537 251h1v1h-1zM539 251h1v1h-1zM543 251h1v1h-1zM550 251h10v1h-10zM563 251h2v1h-2zM567 251h2v1h-2zM572 251h2v1h-2zM575 251h1v1h-1zM578 251h2v1h-2zM591 251h1v1h-1zM594 251h2v1h-2zM598 251h3v1h-3zM602 251h1v1h-1zM605 251h2v1h-2zM608 251h1v1h-1zM610 251h1v1h-1zM613 251h1v1h-1zM615 251h1v1h-1zM619 251h2v1h-2zM629 251h2v1h-2zM633 251h4v1h-4zM638 251h2v1h-2zM641 251h1v1h-1zM654 251h6v1h-6zM667 251h1v1h-1zM669 251h1v1h-1zM672 251h1v1h-1zM674 251h2v1h-2zM677 251h1v1h-1zM679 251h1v1h-1zM683 251h2v1h-2zM687 251h2v1h-2zM690 251h2v1h-2zM693 251h2v1h-2zM696 251h1v1h-1zM698 251h4v1h-4zM704 251h1v1h-1zM709 251h1v1h-1zM711 251h2v1h-2zM714 251h5v1h-5zM721 251h1v1h-1zM723 251h1v1h-1zM727 251h1v1h-1zM735 251h5v1h-5zM741 251h1v1h-1zM747 251h1v1h-1zM750 251h6v1h-6zM767 251h1v1h-1zM51 252h8v1h-8zM244 252h36v1h-36zM281 252h2v1h-2zM285 252h2v1h-2zM288 252h5v1h-5zM498 252h1v1h-1zM501 252h1v1h-1zM504 252h1v1h-1zM51 253h8v1h-8zM98 253h1v1h-1zM210 253h1v1h-1zM243 253h30v1h-30zM274 253h6v1h-6zM286 253h1v1h-1zM288 253h1v1h-1zM302 253h1v1h-1zM326 253h1v1h-1zM371 253h1v1h-1zM378 253h1v1h-1zM478 253h1v1h-1zM490 253h1v1h-1zM498 253h1v1h-1zM501 253h1v1h-1zM504 253h1v1h-1zM518 253h1v1h-1zM595 253h1v1h-1zM599 253h1v1h-1zM601 253h1v1h-1zM646 253h2v1h-2zM695 253h1v1h-1zM708 253h1v1h-1zM745 253h2v1h-2zM244 254h5v1h-5zM252 254h1v1h-1zM257 254h1v1h-1zM259 254h10v1h-10zM270 254h1v1h-1zM276 254h1v1h-1zM279 254h1v1h-1zM501 254h1v1h-1zM599 254h1v1h-1zM746 254h1v1h-1zM244 255h4v1h-4zM252 255h1v1h-1zM257 255h1v1h-1zM259 255h10v1h-10zM270 255h1v1h-1zM276 255h1v1h-1zM279 255h1v1h-1zM501 255h1v1h-1zM244 256h3v1h-3zM252 256h1v1h-1zM257 256h1v1h-1zM260 256h8v1h-8zM270 256h1v1h-1zM501 256h1v1h-1zM244 257h2v1h-2zM260 257h8v1h-8zM270 257h1v1h-1zM501 257h1v1h-1zM244 258h2v1h-2zM260 258h8v1h-8zM270 258h1v1h-1zM501 258h1v1h-1zM244 259h2v1h-2zM260 259h5v1h-5zM266 259h2v1h-2zM501 259h1v1h-1zM245 260h1v1h-1zM260 260h2v1h-2zM263 260h1v1h-1zM501 260h1v1h-1zM245 261h1v1h-1zM260 261h1v1h-1zM263 261h1v1h-1zM245 262h1v1h-1zM260 262h1v1h-1zM245 263h1v1h-1zM260 263h1v1h-1zM245 264h1v1h-1zM260 264h1v1h-1zM245 265h1v1h-1zM260 265h1v1h-1zM245 266h1v1h-1zM260 266h1v1h-1zM260 267h1v1h-1zM260 268h1v1h-1zM260 269h1v1h-1zM260 270h1v1h-1z"/><path fill="#ff0000" d="M53 266h3v1h-3zM57 266h3v1h-3zM61 266h1v1h-1zM71 266h1v1h-1zM73 266h2v1h-2zM77 266h1v1h-1zM80 266h4v1h-4zM89 266h1v1h-1zM94 266h1v1h-1zM98 266h2v1h-2zM105 266h1v1h-1zM114 266h2v1h-2zM117 266h4v1h-4zM126 266h1v1h-1zM130 266h4v1h-4zM135 266h1v1h-1zM138 266h3v1h-3zM144 266h4v1h-4zM153 266h1v1h-1zM155 266h1v1h-1zM157 266h1v1h-1zM159 266h6v1h-6zM167 266h1v1h-1zM170 266h2v1h-2zM174 266h1v1h-1zM176 266h1v1h-1zM178 266h1v1h-1zM182 266h2v1h-2zM185 266h3v1h-3zM189 266h2v1h-2zM192 266h1v1h-1zM194 266h1v1h-1zM196 266h1v1h-1zM203 266h1v1h-1zM208 266h1v1h-1zM211 266h3v1h-3zM218 266h6v1h-6zM228 266h1v1h-1zM230 266h1v1h-1zM234 266h3v1h-3zM248 266h2v1h-2zM254 266h1v1h-1zM257 266h2v1h-2zM261 266h1v1h-1zM267 266h2v1h-2zM270 266h2v1h-2zM278 266h7v1h-7zM287 266h6v1h-6zM299 266h2v1h-2zM303 266h2v1h-2zM306 266h1v1h-1zM311 266h5v1h-5zM317 266h1v1h-1zM319 266h4v1h-4zM325 266h1v1h-1zM328 266h2v1h-2zM332 266h1v1h-1zM334 266h2v1h-2zM339 266h2v1h-2zM345 266h4v1h-4zM350 266h2v1h-2zM353 266h5v1h-5zM360 266h1v1h-1zM365 266h1v1h-1zM368 266h1v1h-1zM372 266h1v1h-1zM374 266h2v1h-2zM382 266h3v1h-3zM386 266h1v1h-1zM389 266h1v1h-1zM392 266h3v1h-3zM396 266h1v1h-1zM398 266h2v1h-2zM401 266h3v1h-3zM408 266h1v1h-1zM416 266h2v1h-2zM420 266h3v1h-3zM424 266h1v1h-1zM426 266h1v1h-1zM428 266h1v1h-1zM430 266h2v1h-2zM434 266h2v1h-2zM445 266h1v1h-1zM447 266h1v1h-1zM453 266h3v1h-3zM461 266h1v1h-1zM466 266h1v1h-1zM471 266h3v1h-3zM475 266h4v1h-4zM481 266h1v1h-1zM484 266h3v1h-3zM488 266h1v1h-1zM495 266h3v1h-3zM499 266h1v1h-1zM503 266h1v1h-1zM506 266h2v1h-2zM512 266h2v1h-2zM515 266h3v1h-3zM519 266h1v1h-1zM526 266h2v1h-2zM529 266h2v1h-2zM533 266h1v1h-1zM537 266h2v1h-2zM547 266h1v1h-1zM549 266h2v1h-2zM554 266h6v1h-6zM561 266h1v1h-1zM564 266h1v1h-1zM567 266h2v1h-2zM570 266h1v1h-1zM572 266h1v1h-1zM577 266h2v1h-2zM581 266h1v1h-1zM584 266h1v1h-1zM587 266h1v1h-1zM590 266h6v1h-6zM598 266h1v1h-1zM602 266h1v1h-1zM610 266h1v1h-1zM614 266h1v1h-1zM616 266h1v1h-1zM625 266h1v1h-1zM629 266h2v1h-2zM635 266h1v1h-1zM638 266h1v1h-1zM646 266h2v1h-2zM650 266h3v1h-3zM657 266h3v1h-3zM662 266h1v1h-1zM668 266h5v1h-5zM674 266h1v1h-1zM681 266h2v1h-2zM685 266h1v1h-1zM687 266h6v1h-6zM696 266h1v1h-1zM700 266h3v1h-3zM705 266h3v1h-3zM710 266h1v1h-1zM721 266h4v1h-4zM726 266h3v1h-3zM731 266h3v1h-3zM740 266h4v1h-4zM745 266h1v1h-1zM749 266h4v1h-4zM754 266h3v1h-3zM760 266h1v1h-1zM764 266h1v1h-1zM766 266h2v1h-2zM769 266h1v1h-1zM87 268h1v1h-1zM122 268h1v1h-1zM147 268h1v1h-1zM149 268h1v1h-1zM182 268h1v1h-1zM228 268h1v1h-1zM376 268h1v1h-1zM412 268h1v1h-1zM452 268h2v1h-2zM474 268h1v1h-1zM547 268h1v1h-1zM552 268h1v1h-1zM653 268h1v1h-1zM698 268h1v1h-1zM749 268h1v1h-1zM87 269h1v1h-1z"/><path fill="#0000ff" d="M52 281h1v1h-1zM54 281h1v1h-1zM56 281h1v1h-1zM58 281h1v1h-1zM65 281h1v1h-1zM72 281h3v1h-3zM82 281h1v1h-1zM84 281h1v1h-1zM88 281h2v1h-2zM91 281h4v1h-4zM98 281h1v1h-1zM104 281h1v1h-1zM106 281h2v1h-2zM110 281h4v1h-4zM115 281h1v1h-1zM118 281h3v1h-3zM122 281h1v1h-1zM126 281h1v1h-1zM131 281h1v1h-1zM136 281h4v1h-4zM141 281h1v1h-1zM145 281h3v1h-3zM149 281h1v1h-1zM152 281h1v1h-1zM156 281h2v1h-2zM162 281h1v1h-1zM172 281h1v1h-1zM175 281h1v1h-1zM180 281h5v1h-5zM187 281h1v1h-1zM189 281h1v1h-1zM191 281h1v1h-1zM193 281h3v1h-3zM202 281h3v1h-3zM206 281h1v1h-1zM210 281h1v1h-1zM212 281h2v1h-2zM217 281h4v1h-4zM222 281h2v1h-2zM228 281h1v1h-1zM233 281h1v1h-1zM236 281h1v1h-1zM241 281h2v1h-2zM244 281h5v1h-5zM253 281h1v1h-1zM255 281h3v1h-3zM263 281h2v1h-2zM273 281h1v1h-1zM279 281h2v1h-2zM282 281h1v1h-1zM284 281h2v1h-2zM293 281h1v1h-1zM296 281h2v1h-2zM301 281h1v1h-1zM304 281h2v1h-2zM309 281h8v1h-8zM322 281h1v1h-1zM325 281h1v1h-1zM327 281h5v1h-5zM333 281h1v1h-1zM342 281h1v1h-1zM352 281h2v1h-2zM357 281h1v1h-1zM371 281h1v1h-1zM374 281h1v1h-1zM376 281h1v1h-1zM378 281h2v1h-2zM382 281h5v1h-5zM391 281h1v1h-1zM393 281h1v1h-1zM398 281h6v1h-6zM406 281h2v1h-2zM409 281h1v1h-1zM412 281h1v1h-1zM415 281h3v1h-3zM419 281h1v1h-1zM422 281h3v1h-3zM426 281h3v1h-3zM431 281h2v1h-2zM436 281h1v1h-1zM439 281h5v1h-5zM446 281h2v1h-2zM449 281h2v1h-2zM452 281h1v1h-1zM457 281h1v1h-1zM461 281h1v1h-1zM466 281h4v1h-4zM471 281h1v1h-1zM473 281h2v1h-2zM477 281h1v1h-1zM479 281h3v1h-3zM490 281h3v1h-3zM500 281h1v1h-1zM503 281h1v1h-1zM506 281h2v1h-2zM509 281h2v1h-2zM514 281h2v1h-2zM521 281h5v1h-5zM528 281h4v1h-4zM537 281h2v1h-2zM542 281h1v1h-1zM546 281h2v1h-2zM549 281h1v1h-1zM553 281h1v1h-1zM559 281h1v1h-1zM563 281h2v1h-2zM566 281h1v1h-1zM574 281h1v1h-1zM578 281h2v1h-2zM584 281h2v1h-2zM588 281h6v1h-6zM597 281h1v1h-1zM599 281h1v1h-1zM609 281h5v1h-5zM615 281h1v1h-1zM618 281h2v1h-2zM623 281h2v1h-2zM631 281h1v1h-1zM634 281h4v1h-4zM641 281h4v1h-4zM647 281h1v1h-1zM650 281h1v1h-1zM654 281h1v1h-1zM656 281h1v1h-1zM668 281h1v1h-1zM676 281h1v1h-1zM693 281h5v1h-5zM701 281h7v1h-7zM709 281h2v1h-2zM713 281h1v1h-1zM725 281h1v1h-1zM733 281h1v1h-1zM736 281h2v1h-2zM741 281h1v1h-1zM746 281h2v1h-2zM749 281h7v1h-7zM762 281h2v1h-2zM769 281h1v1h-1zM76 283h1v1h-1zM181 283h1v1h-1zM255 283h2v1h-2zM273 283h1v1h-1zM281 283h1v1h-1zM299 283h1v1h-1zM319 283h1v1h-1zM334 283h1v1h-1zM379 283h1v1h-1zM409 283h1v1h-1zM468 283h1v1h-1zM500 283h1v1h-1zM535 283h1v1h-1zM555 283h1v1h-1zM590 283h1v1h-1zM594 283h1v1h-1zM637 283h1v1h-1zM652 283h1v1h-1zM709 283h1v1h-1zM716 283h1v1h-1zM747 283h1v1h-1zM768 283h1v1h-1zM709 284h1v1h-1z"/><path fill="#006400" d="M52 296h1v1h-1zM55 296h3v1h-3zM59 296h1v1h-1zM63 296h1v1h-1zM65 296h1v1h-1zM74 296h3v1h-3zM81 296h1v1h-1zM88 296h2v1h-2zM91 296h4v1h-4zM99 296h1v1h-1zM101 296h3v1h-3zM105 296h6v1h-6zM113 296h4v1h-4zM123 296h1v1h-1zM127 296h5v1h-5zM133 296h1v1h-1zM143 296h1v1h-1zM146 296h1v1h-1zM152 296h2v1h-2zM158 296h1v1h-1zM161 296h3v1h-3zM165 296h1v1h-1zM168 296h1v1h-1zM174 296h2v1h-2zM179 296h1v1h-1zM181 296h1v1h-1zM184 296h1v1h-1zM186 296h6v1h-6zM198 296h5v1h-5zM204 296h1v1h-1zM211 296h3v1h-3zM221 296h2v1h-2zM227 296h4v1h-4zM258 296h1v1h-1zM263 296h1v1h-1zM265 296h1v1h-1zM270 296h4v1h-4zM279 296h1v1h-1zM281 296h1v1h-1zM290 296h4v1h-4zM298 296h1v1h-1zM304 296h1v1h-1zM306 296h1v1h-1zM308 296h9v1h-9zM318 296h2v1h-2zM322 296h2v1h-2zM326 296h4v1h-4zM340 296h2v1h-2zM355 296h1v1h-1zM362 296h1v1h-1zM368 296h1v1h-1zM377 296h2v1h-2zM385 296h2v1h-2zM392 296h1v1h-1zM394 296h1v1h-1zM396 296h3v1h-3zM401 296h1v1h-1zM409 296h1v1h-1zM411 296h2v1h-2zM415 296h3v1h-3zM420 296h2v1h-2zM426 296h2v1h-2zM431 296h1v1h-1zM435 296h3v1h-3zM443 296h1v1h-1zM445 296h2v1h-2zM454 296h1v1h-1zM457 296h1v1h-1zM461 296h1v1h-1zM465 296h1v1h-1zM472 296h1v1h-1zM475 296h1v1h-1zM479 296h7v1h-7zM487 296h1v1h-1zM502 296h2v1h-2zM506 296h4v1h-4zM512 296h1v1h-1zM516 296h1v1h-1zM520 296h1v1h-1zM525 296h2v1h-2zM528 296h1v1h-1zM531 296h8v1h-8zM542 296h1v1h-1zM546 296h3v1h-3zM550 296h1v1h-1zM552 296h1v1h-1zM558 296h2v1h-2zM566 296h1v1h-1zM569 296h1v1h-1zM571 296h2v1h-2zM575 296h1v1h-1zM580 296h1v1h-1zM586 296h1v1h-1zM588 296h3v1h-3zM592 296h3v1h-3zM596 296h2v1h-2zM602 296h2v1h-2zM607 296h2v1h-2zM613 296h3v1h-3zM618 296h2v1h-2zM622 296h1v1h-1zM627 296h1v1h-1zM629 296h1v1h-1zM634 296h1v1h-1zM636 296h2v1h-2zM641 296h1v1h-1zM643 296h1v1h-1zM649 296h2v1h-2zM656 296h3v1h-3zM662 296h5v1h-5zM670 296h1v1h-1zM672 296h2v1h-2zM675 296h2v1h-2zM683 296h2v1h-2zM686 296h1v1h-1zM690 296h1v1h-1zM692 296h2v1h-2zM695 296h1v1h-1zM705 296h2v1h-2zM708 296h2v1h-2zM712 296h6v1h-6zM726 296h2v1h-2zM731 296h1v1h-1zM733 296h1v1h-1zM739 296h4v1h-4zM748 296h1v1h-1zM756 296h3v1h-3zM764 296h1v1h-1zM53 298h1v1h-1zM95 298h1v1h-1zM184 298h1v1h-1zM190 298h1v1h-1zM245 298h1v1h-1zM255 298h1v1h-1zM274 298h1v1h-1zM296 298h1v1h-1zM348 298h1v1h-1zM410 298h1v1h-1zM461 298h1v1h-1zM473 298h1v1h-1zM485 298h1v1h-1zM523 298h1v1h-1zM535 298h1v1h-1zM563 298h1v1h-1zM596 298h1v1h-1zM650 298h1v1h-1zM659 298h1v1h-1zM691 298h2v1h-2zM715 298h1v1h-1zM726 298h1v1h-1zM728 298h1v1h-1zM732 298h1v1h-1zM274 299h1v1h-1z"/><path fill="#000000" d="M51 311h1v1h-1zM54 311h1v1h-1zM56 311h2v1h-2zM59 311h2v1h-2zM66 311h1v1h-1zM68 311h1v1h-1zM70 311h1v1h-1zM74 311h3v1h-3zM81 311h3v1h-3zM85 311h1v1h-1zM87 311h3v1h-3zM95 311h1v1h-1zM101 311h5v1h-5zM107 311h1v1h-1zM109 311h1v1h-1zM113 311h4v1h-4zM121 311h2v1h-2zM125 311h1v1h-1zM129 311h1v1h-1zM131 311h1v1h-1zM133 311h2v1h-2zM144 311h2v1h-2zM147 311h1v1h-1zM156 311h3v1h-3zM160 311h1v1h-1zM162 311h1v1h-1zM164 311h2v1h-2zM172 311h6v1h-6zM179 311h4v1h-4zM184 311h2v1h-2zM187 311h2v1h-2zM190 311h2v1h-2zM195 311h1v1h-1zM199 311h1v1h-1zM201 311h1v1h-1zM205 311h4v1h-4zM212 311h1v1h-1zM218 311h2v1h-2zM224 311h1v1h-1zM227 311h1v1h-1zM232 311h6v1h-6zM240 311h1v1h-1zM245 311h1v1h-1zM247 311h1v1h-1zM249 311h4v1h-4zM255 311h1v1h-1zM258 311h8v1h-8zM267 311h4v1h-4zM272 311h1v1h-1zM275 311h2v1h-2zM279 311h3v1h-3zM285 311h1v1h-1zM288 311h4v1h-4zM295 311h4v1h-4zM303 311h1v1h-1zM305 311h2v1h-2zM308 311h3v1h-3zM315 311h2v1h-2zM318 311h2v1h-2zM321 311h6v1h-6zM329 311h2v1h-2zM332 311h2v1h-2zM335 311h1v1h-1zM339 311h3v1h-3zM343 311h1v1h-1zM345 311h1v1h-1zM353 311h2v1h-2zM358 311h1v1h-1zM360 311h6v1h-6zM367 311h1v1h-1zM369 311h1v1h-1zM372 311h3v1h-3zM376 311h3v1h-3zM382 311h1v1h-1zM387 311h1v1h-1zM389 311h1v1h-1zM391 311h4v1h-4zM399 311h2v1h-2zM403 311h2v1h-2zM407 311h1v1h-1zM412 311h6v1h-6zM419 311h1v1h-1zM421 311h3v1h-3zM426 311h2v1h-2zM429 311h1v1h-1zM435 311h1v1h-1zM442 311h1v1h-1zM446 311h1v1h-1zM448 311h3v1h-3zM453 311h1v1h-1zM455 311h2v1h-2zM458 311h2v1h-2zM471 311h1v1h-1zM473 311h1v1h-1zM476 311h2v1h-2zM480 311h4v1h-4zM485 311h1v1h-1zM488 311h2v1h-2zM491 311h4v1h-4zM500 311h2v1h-2zM503 311h1v1h-1zM509 311h1v1h-1zM513 311h2v1h-2zM518 311h4v1h-4zM523 311h4v1h-4zM528 311h1v1h-1zM531 311h3v1h-3zM535 311h5v1h-5zM541 311h1v1h-1zM544 311h3v1h-3zM549 311h2v1h-2zM553 311h3v1h-3zM557 311h3v1h-3zM571 311h1v1h-1zM573 311h1v1h-1zM575 311h2v1h-2zM580 311h1v1h-1zM583 311h1v1h-1zM587 311h2v1h-2zM591 311h2v1h-2zM595 311h4v1h-4zM600 311h1v1h-1zM604 311h1v1h-1zM607 311h1v1h-1zM611 311h1v1h-1zM614 311h1v1h-1zM616 311h1v1h-1zM619 311h2v1h-2zM625 311h5v1h-5zM631 311h3v1h-3zM635 311h6v1h-6zM649 311h1v1h-1zM658 311h1v1h-1zM660 311h1v1h-1zM662 311h6v1h-6zM670 311h2v1h-2zM675 311h2v1h-2zM680 311h1v1h-1zM685 311h1v1h-1zM687 311h1v1h-1zM692 311h1v1h-1zM694 311h1v1h-1zM696 311h1v1h-1zM702 311h5v1h-5zM710 311h4v1h-4zM717 311h1v1h-1zM725 311h1v1h-1zM729 311h1v1h-1zM733 311h2v1h-2zM737 311h1v1h-1zM741 311h2v1h-2zM746 311h3v1h-3zM750 311h1v1h-1zM757 311h1v1h-1zM762 311h1v1h-1zM765 311h3v1h-3zM769 311h1v1h-1zM55 313h1v1h-1zM113 313h1v1h-1zM127 313h1v1h-1zM156 313h1v1h-1zM159 313h1v1h-1zM167 313h1v1h-1zM170 313h1v1h-1zM206 313h1v1h-1zM279 313h2v1h-2zM302 313h1v1h-1zM339 313h1v1h-1zM364 313h1v1h-1zM368 313h1v1h-1zM372 313h1v1h-1zM386 313h1v1h-1zM401 313h1v1h-1zM424 313h1v1h-1zM426 313h1v1h-1zM446 313h1v1h-1zM463 313h1v1h-1zM526 313h1v1h-1zM537 313h1v1h-1zM592 313h1v1h-1zM616 313h1v1h-1z"/><path fill="#ff0000" d="M755 325h3v1h-3zM55 326h1v1h-1zM60 326h1v1h-1zM67 326h1v1h-1zM70 326h1v1h-1zM73 326h1v1h-1zM75 326h1v1h-1zM78 326h1v1h-1zM81 326h2v1h-2zM87 326h1v1h-1zM90 326h2v1h-2zM95 326h3v1h-3zM99 326h2v1h-2zM106 326h1v1h-1zM108 326h2v1h-2zM111 326h9v1h-9zM122 326h2v1h-2zM129 326h1v1h-1zM139 326h1v1h-1zM142 326h1v1h-1zM144 326h2v1h-2zM147 326h1v1h-1zM153 326h1v1h-1zM159 326h2v1h-2zM166 326h1v1h-1zM169 326h1v1h-1zM173 326h1v1h-1zM178 326h1v1h-1zM182 326h3v1h-3zM186 326h1v1h-1zM191 326h1v1h-1zM197 326h4v1h-4zM202 326h2v1h-2zM209 326h2v1h-2zM216 326h1v1h-1zM220 326h2v1h-2zM223 326h1v1h-1zM225 326h3v1h-3zM231 326h1v1h-1zM234 326h1v1h-1zM238 326h1v1h-1zM240 326h1v1h-1zM242 326h3v1h-3zM247 326h1v1h-1zM252 326h1v1h-1zM258 326h3v1h-3zM263 326h7v1h-7zM272 326h1v1h-1zM275 326h2v1h-2zM278 326h3v1h-3zM283 326h10v1h-10zM299 326h1v1h-1zM301 326h2v1h-2zM308 326h6v1h-6zM317 326h4v1h-4zM324 326h2v1h-2zM328 326h1v1h-1zM339 326h1v1h-1zM346 326h5v1h-5zM352 326h6v1h-6zM362 326h2v1h-2zM365 326h1v1h-1zM371 326h1v1h-1zM373 326h4v1h-4zM379 326h10v1h-10zM407 326h1v1h-1zM410 326h2v1h-2zM415 326h1v1h-1zM418 326h6v1h-6zM428 326h1v1h-1zM432 326h2v1h-2zM435 326h2v1h-2zM442 326h1v1h-1zM447 326h1v1h-1zM451 326h2v1h-2zM455 326h3v1h-3zM478 326h1v1h-1zM481 326h6v1h-6zM499 326h5v1h-5zM506 326h2v1h-2zM512 326h2v1h-2zM515 326h1v1h-1zM517 326h3v1h-3zM522 326h1v1h-1zM524 326h1v1h-1zM529 326h1v1h-1zM535 326h2v1h-2zM539 326h3v1h-3zM544 326h1v1h-1zM547 326h2v1h-2zM550 326h1v1h-1zM552 326h1v1h-1zM556 326h3v1h-3zM562 326h2v1h-2zM565 326h3v1h-3zM569 326h1v1h-1zM571 326h2v1h-2zM577 326h1v1h-1zM580 326h3v1h-3zM584 326h3v1h-3zM589 326h1v1h-1zM592 326h1v1h-1zM594 326h2v1h-2zM598 326h1v1h-1zM602 326h1v1h-1zM607 326h1v1h-1zM611 326h4v1h-4zM624 326h3v1h-3zM628 326h2v1h-2zM631 326h3v1h-3zM635 326h1v1h-1zM639 326h2v1h-2zM642 326h2v1h-2zM646 326h2v1h-2zM653 326h1v1h-1zM659 326h3v1h-3zM665 326h2v1h-2zM669 326h5v1h-5zM679 326h1v1h-1zM686 326h2v1h-2zM690 326h10v1h-10zM704 326h1v1h-1zM706 326h1v1h-1zM715 326h2v1h-2zM719 326h3v1h-3zM724 326h1v1h-1zM726 326h1v1h-1zM729 326h5v1h-5zM735 326h1v1h-1zM740 326h3v1h-3zM744 326h1v1h-1zM746 326h4v1h-4zM753 326h1v1h-1zM755 326h4v1h-4zM760 326h1v1h-1zM762 326h2v1h-2zM765 326h3v1h-3zM740 327h30v1h-30zM77 328h1v1h-1zM103 328h1v1h-1zM105 328h1v1h-1zM111 328h1v1h-1zM130 328h1v1h-1zM149 328h1v1h-1zM203 328h1v1h-1zM232 328h1v1h-1zM250 328h1v1h-1zM263 328h1v1h-1zM270 328h1v1h-1zM274 328h1v1h-1zM292 328h1v1h-1zM312 328h1v1h-1zM317 328h1v1h-1zM364 328h1v1h-1zM366 328h1v1h-1zM369 328h1v1h-1zM373 328h1v1h-1zM381 328h1v1h-1zM385 328h1v1h-1zM412 328h1v1h-1zM447 328h1v1h-1zM513 328h1v1h-1zM518 328h1v1h-1zM571 328h1v1h-1zM578 328h1v1h-1zM623 328h1v1h-1zM675 328h1v1h-1zM677 328h1v1h-1zM679 328h1v1h-1zM700 328h1v1h-1zM724 328h1v1h-1zM741 328h2v1h-2zM746 328h2v1h-2zM749 328h1v1h-1zM753 328h1v1h-1zM755 328h4v1h-4zM761 328h2v1h-2zM766 328h1v1h-1zM105 329h1v1h-1zM270 329h1v1h-1zM292 329h1v1h-1zM364 329h1v1h-1zM571 329h1v1h-1zM755 329h3v1h-3zM755 330h2v1h-2z"/><path fill="#0000ff" d="M51 341h2v1h-2zM65 341h1v1h-1zM70 341h1v1h-1zM72 341h3v1h-3zM78 341h1v1h-1zM82 341h1v1h-1zM85 341h1v1h-1zM90 341h1v1h-1zM94 341h7v1h-7zM103 341h2v1h-2zM106 341h2v1h-2zM115 341h1v1h-1zM117 341h3v1h-3zM122 341h2v1h-2zM127 341h5v1h-5zM135 341h3v1h-3zM143 341h4v1h-4zM148 341h7v1h-7zM159 341h1v1h-1zM163 341h2v1h-2zM174 341h1v1h-1zM176 341h1v1h-1zM183 341h2v1h-2zM197 341h1v1h-1zM201 341h1v1h-1zM203 341h1v1h-1zM205 341h3v1h-3zM212 341h1v1h-1zM214 341h3v1h-3zM219 341h1v1h-1zM223 341h1v1h-1zM225 341h1v1h-1zM227 341h1v1h-1zM231 341h3v1h-3zM237 341h3v1h-3zM241 341h5v1h-5zM248 341h1v1h-1zM251 341h2v1h-2zM254 341h1v1h-1zM258 341h1v1h-1zM265 341h1v1h-1zM268 341h1v1h-1zM272 341h3v1h-3zM277 341h1v1h-1zM279 341h1v1h-1zM281 341h5v1h-5zM288 341h1v1h-1zM292 341h3v1h-3zM300 341h1v1h-1zM307 341h3v1h-3zM314 341h1v1h-1zM319 341h1v1h-1zM326 341h2v1h-2zM332 341h1v1h-1zM338 341h1v1h-1zM343 341h4v1h-4zM351 341h1v1h-1zM356 341h1v1h-1zM358 341h1v1h-1zM360 341h1v1h-1zM367 341h1v1h-1zM374 341h3v1h-3zM379 341h4v1h-4zM386 341h1v1h-1zM389 341h1v1h-1zM393 341h7v1h-7zM402 341h1v1h-1zM405 341h1v1h-1zM407 341h1v1h-1zM409 341h1v1h-1zM411 341h1v1h-1zM413 341h1v1h-1zM417 341h1v1h-1zM423 341h1v1h-1zM431 341h1v1h-1zM433 341h1v1h-1zM437 341h3v1h-3zM454 341h1v1h-1zM461 341h1v1h-1zM464 341h1v1h-1zM466 341h1v1h-1zM469 341h1v1h-1zM473 341h3v1h-3zM477 341h1v1h-1zM480 341h5v1h-5zM490 341h1v1h-1zM492 341h1v1h-1zM495 341h5v1h-5zM505 341h1v1h-1zM510 341h4v1h-4zM516 341h1v1h-1zM519 341h5v1h-5zM525 341h1v1h-1zM529 341h3v1h-3zM534 341h7v1h-7zM542 341h1v1h-1zM544 341h6v1h-6zM554 341h1v1h-1zM558 341h2v1h-2zM562 341h4v1h-4zM569 341h1v1h-1zM572 341h1v1h-1zM574 341h1v1h-1zM576 341h1v1h-1zM578 341h1v1h-1zM580 341h7v1h-7zM588 341h1v1h-1zM590 341h1v1h-1zM592 341h4v1h-4zM599 341h3v1h-3zM603 341h1v1h-1zM606 341h3v1h-3zM610 341h1v1h-1zM614 341h1v1h-1zM619 341h1v1h-1zM625 341h1v1h-1zM628 341h3v1h-3zM635 341h1v1h-1zM640 341h3v1h-3zM644 341h1v1h-1zM652 341h1v1h-1zM656 341h1v1h-1zM663 341h1v1h-1zM665 341h2v1h-2zM670 341h1v1h-1zM676 341h1v1h-1zM680 341h1v1h-1zM683 341h1v1h-1zM685 341h1v1h-1zM687 341h4v1h-4zM693 341h4v1h-4zM699 341h2v1h-2zM703 341h7v1h-7zM711 341h1v1h-1zM713 341h7v1h-7zM724 341h11v1h-11zM736 341h3v1h-3zM740 341h2v1h-2zM746 341h1v1h-1zM748 341h1v1h-1zM750 341h2v1h-2zM753 341h3v1h-3zM761 341h1v1h-1zM769 341h1v1h-1zM87 343h1v1h-1zM99 343h1v1h-1zM137 343h1v1h-1zM176 343h1v1h-1zM209 343h1v1h-1zM266 343h1v1h-1zM303 343h1v1h-1zM350 343h1v1h-1zM352 343h1v1h-1zM355 343h1v1h-1zM379 343h1v1h-1zM390 343h1v1h-1zM395 343h1v1h-1zM423 343h1v1h-1zM429 343h1v1h-1zM572 343h1v1h-1zM587 343h1v1h-1zM628 343h1v1h-1zM646 343h1v1h-1zM664 343h1v1h-1zM758 343h1v1h-1zM176 344h1v1h-1zM352 344h1v1h-1zM423 344h1v1h-1z"/><path fill="#006400" d="M53 356h2v1h-2zM66 356h1v1h-1zM68 356h2v1h-2zM71 356h1v1h-1zM73 356h1v1h-1zM75 356h1v1h-1zM79 356h1v1h-1zM82 356h4v1h-4zM101 356h2v1h-2zM106 356h3v1h-3zM112 356h1v1h-1zM118 356h3v1h-3zM124 356h1v1h-1zM126 356h2v1h-2zM134 356h1v1h-1zM136 356h2v1h-2zM149 356h2v1h-2zM152 356h1v1h-1zM160 356h1v1h-1zM163 356h3v1h-3zM167 356h2v1h-2zM175 356h1v1h-1zM180 356h2v1h-2zM184 356h3v1h-3zM204 356h3v1h-3zM212 356h2v1h-2zM216 356h2v1h-2zM224 356h1v1h-1zM228 356h1v1h-1zM239 356h1v1h-1zM242 356h3v1h-3zM249 356h1v1h-1zM258 356h3v1h-3zM266 356h1v1h-1zM269 356h6v1h-6zM279 356h3v1h-3zM284 356h3v1h-3zM291 356h1v1h-1zM293 356h2v1h-2zM297 356h5v1h-5zM304 356h1v1h-1zM309 356h1v1h-1zM318 356h1v1h-1zM321 356h1v1h-1zM327 356h1v1h-1zM330 356h3v1h-3zM336 356h3v1h-3zM340 356h1v1h-1zM342 356h3v1h-3zM346 356h3v1h-3zM352 356h2v1h-2zM356 356h3v1h-3zM361 356h1v1h-1zM363 356h1v1h-1zM372 356h1v1h-1zM374 356h4v1h-4zM384 356h2v1h-2zM399 356h1v1h-1zM405 356h1v1h-1zM409 356h1v1h-1zM414 356h3v1h-3zM418 356h1v1h-1zM420 356h2v1h-2zM424 356h3v1h-3zM428 356h1v1h-1zM431 356h3v1h-3zM436 356h4v1h-4zM441 356h4v1h-4zM446 356h3v1h-3zM450 356h2v1h-2zM454 356h1v1h-1zM456 356h1v1h-1zM464 356h3v1h-3zM475 356h2v1h-2zM480 356h3v1h-3zM488 356h1v1h-1zM493 356h1v1h-1zM496 356h1v1h-1zM498 356h3v1h-3zM513 356h1v1h-1zM520 356h2v1h-2zM523 356h1v1h-1zM525 356h2v1h-2zM533 356h3v1h-3zM537 356h2v1h-2zM541 356h1v1h-1zM545 356h11v1h-11zM558 356h1v1h-1zM561 356h3v1h-3zM566 356h2v1h-2zM581 356h1v1h-1zM583 356h6v1h-6zM592 356h1v1h-1zM597 356h2v1h-2zM612 356h3v1h-3zM618 356h1v1h-1zM624 356h1v1h-1zM626 356h1v1h-1zM631 356h1v1h-1zM633 356h3v1h-3zM642 356h1v1h-1zM644 356h1v1h-1zM646 356h6v1h-6zM659 356h1v1h-1zM661 356h1v1h-1zM673 356h1v1h-1zM675 356h1v1h-1zM679 356h1v1h-1zM683 356h1v1h-1zM686 356h3v1h-3zM697 356h1v1h-1zM699 356h3v1h-3zM706 356h2v1h-2zM722 356h2v1h-2zM725 356h1v1h-1zM732 356h1v1h-1zM734 356h2v1h-2zM737 356h2v1h-2zM740 356h1v1h-1zM744 356h1v1h-1zM752 356h1v1h-1zM762 356h2v1h-2zM765 356h1v1h-1zM52 358h1v1h-1zM161 358h1v1h-1zM181 358h2v1h-2zM221 358h1v1h-1zM291 358h1v1h-1zM329 358h1v1h-1zM339 358h1v1h-1zM428 358h2v1h-2zM440 358h1v1h-1zM448 358h1v1h-1zM470 358h1v1h-1zM476 358h1v1h-1zM515 358h1v1h-1zM614 358h1v1h-1zM629 358h1v1h-1zM681 358h1v1h-1zM685 358h1v1h-1zM703 358h1v1h-1zM735 358h1v1h-1zM614 359h1v1h-1z"/><path fill="#000000" d="M51 371h1v1h-1zM53 371h1v1h-1zM60 371h3v1h-3zM65 371h2v1h-2zM71 371h2v1h-2zM74 371h1v1h-1zM76 371h1v1h-1zM79 371h5v1h-5zM85 371h4v1h-4zM91 371h2v1h-2zM97 371h1v1h-1zM99 371h1v1h-1zM104 371h2v1h-2zM113 371h1v1h-1zM115 371h1v1h-1zM118 371h2v1h-2zM124 371h1v1h-1zM127 371h1v1h-1zM130 371h1v1h-1zM134 371h3v1h-3zM141 371h2v1h-2zM144 371h1v1h-1zM147 371h1v1h-1zM149 371h1v1h-1zM152 371h2v1h-2zM156 371h3v1h-3zM165 371h1v1h-1zM167 371h1v1h-1zM170 371h5v1h-5zM176 371h2v1h-2zM180 371h1v1h-1zM182 371h1v1h-1zM192 371h1v1h-1zM195 371h2v1h-2zM198 371h3v1h-3zM203 371h1v1h-1zM205 371h1v1h-1zM211 371h1v1h-1zM217 371h4v1h-4zM222 371h1v1h-1zM226 371h1v1h-1zM229 371h2v1h-2zM235 371h1v1h-1zM239 371h1v1h-1zM242 371h3v1h-3zM248 371h2v1h-2zM251 371h4v1h-4zM256 371h1v1h-1zM262 371h4v1h-4zM268 371h1v1h-1zM270 371h1v1h-1zM272 371h3v1h-3zM277 371h1v1h-1zM280 371h1v1h-1zM293 371h2v1h-2zM296 371h6v1h-6zM303 371h3v1h-3zM311 371h1v1h-1zM325 371h1v1h-1zM327 371h3v1h-3zM331 371h2v1h-2zM337 371h1v1h-1zM341 371h1v1h-1zM345 371h2v1h-2zM348 371h1v1h-1zM350 371h5v1h-5zM357 371h8v1h-8zM368 371h3v1h-3zM372 371h1v1h-1zM378 371h2v1h-2zM381 371h1v1h-1zM385 371h1v1h-1zM389 371h2v1h-2zM393 371h2v1h-2zM402 371h1v1h-1zM408 371h2v1h-2zM412 371h1v1h-1zM415 371h1v1h-1zM419 371h3v1h-3zM427 371h1v1h-1zM429 371h1v1h-1zM431 371h2v1h-2zM437 371h3v1h-3zM442 371h1v1h-1zM444 371h2v1h-2zM447 371h2v1h-2zM452 371h2v1h-2zM455 371h4v1h-4zM460 371h1v1h-1zM462 371h3v1h-3zM467 371h1v1h-1zM470 371h1v1h-1zM472 371h1v1h-1zM474 371h1v1h-1zM476 371h4v1h-4zM483 371h2v1h-2zM486 371h4v1h-4zM493 371h2v1h-2zM496 371h1v1h-1zM498 371h4v1h-4zM504 371h1v1h-1zM509 371h1v1h-1zM514 371h2v1h-2zM519 371h1v1h-1zM521 371h2v1h-2zM526 371h2v1h-2zM529 371h1v1h-1zM533 371h1v1h-1zM536 371h1v1h-1zM538 371h2v1h-2zM541 371h2v1h-2zM548 371h4v1h-4zM557 371h1v1h-1zM561 371h2v1h-2zM564 371h1v1h-1zM569 371h4v1h-4zM574 371h4v1h-4zM579 371h6v1h-6zM591 371h3v1h-3zM596 371h2v1h-2zM600 371h1v1h-1zM602 371h6v1h-6zM611 371h1v1h-1zM614 371h1v1h-1zM617 371h2v1h-2zM621 371h3v1h-3zM626 371h1v1h-1zM632 371h2v1h-2zM635 371h2v1h-2zM639 371h3v1h-3zM645 371h1v1h-1zM647 371h1v1h-1zM649 371h1v1h-1zM651 371h1v1h-1zM654 371h1v1h-1zM659 371h2v1h-2zM664 371h5v1h-5zM670 371h1v1h-1zM672 371h1v1h-1zM674 371h1v1h-1zM677 371h2v1h-2zM682 371h1v1h-1zM684 371h1v1h-1zM686 371h1v1h-1zM688 371h1v1h-1zM693 371h1v1h-1zM695 371h5v1h-5zM702 371h1v1h-1zM706 371h4v1h-4zM712 371h2v1h-2zM716 371h1v1h-1zM719 371h2v1h-2zM722 371h2v1h-2zM726 371h2v1h-2zM730 371h3v1h-3zM736 371h1v1h-1zM739 371h1v1h-1zM741 371h4v1h-4zM748 371h1v1h-1zM755 371h1v1h-1zM757 371h1v1h-1zM767 371h2v1h-2zM55 373h1v1h-1zM222 373h1v1h-1zM235 373h1v1h-1zM247 373h1v1h-1zM268 373h1v1h-1zM283 373h1v1h-1zM332 373h1v1h-1zM349 373h1v1h-1zM363 373h1v1h-1zM376 373h1v1h-1zM540 373h1v1h-1zM559 373h1v1h-1zM581 373h1v1h-1zM584 373h1v1h-1zM690 373h1v1h-1zM700 373h1v1h-1zM725 373h1v1h-1zM222 374h1v1h-1z"/><path fill="#ff0000" d="M51 386h1v1h-1zM54 386h1v1h-1zM56 386h1v1h-1zM58 386h1v1h-1zM60 386h2v1h-2zM63 386h1v1h-1zM66 386h1v1h-1zM69 386h5v1h-5zM76 386h1v1h-1zM82 386h3v1h-3zM89 386h3v1h-3zM95 386h4v1h-4zM101 386h2v1h-2zM104 386h1v1h-1zM108 386h1v1h-1zM113 386h2v1h-2zM119 386h1v1h-1zM121 386h1v1h-1zM132 386h5v1h-5zM142 386h4v1h-4zM159 386h3v1h-3zM163 386h1v1h-1zM173 386h2v1h-2zM176 386h1v1h-1zM183 386h4v1h-4zM188 386h2v1h-2zM191 386h4v1h-4zM197 386h2v1h-2zM205 386h2v1h-2zM209 386h2v1h-2zM212 386h2v1h-2zM221 386h2v1h-2zM224 386h1v1h-1zM226 386h3v1h-3zM234 386h2v1h-2zM237 386h1v1h-1zM242 386h1v1h-1zM244 386h1v1h-1zM246 386h1v1h-1zM248 386h3v1h-3zM253 386h3v1h-3zM261 386h1v1h-1zM264 386h3v1h-3zM268 386h1v1h-1zM272 386h1v1h-1zM274 386h1v1h-1zM280 386h1v1h-1zM282 386h4v1h-4zM290 386h3v1h-3zM295 386h2v1h-2zM298 386h3v1h-3zM305 386h3v1h-3zM315 386h1v1h-1zM318 386h1v1h-1zM327 386h2v1h-2zM336 386h4v1h-4zM341 386h6v1h-6zM349 386h2v1h-2zM352 386h1v1h-1zM357 386h5v1h-5zM364 386h1v1h-1zM366 386h2v1h-2zM372 386h1v1h-1zM374 386h3v1h-3zM380 386h1v1h-1zM384 386h1v1h-1zM389 386h3v1h-3zM395 386h1v1h-1zM397 386h1v1h-1zM410 386h4v1h-4zM415 386h1v1h-1zM417 386h1v1h-1zM419 386h2v1h-2zM423 386h3v1h-3zM438 386h2v1h-2zM442 386h1v1h-1zM447 386h1v1h-1zM449 386h2v1h-2zM452 386h2v1h-2zM455 386h1v1h-1zM459 386h1v1h-1zM465 386h1v1h-1zM473 386h5v1h-5zM484 386h2v1h-2zM487 386h3v1h-3zM494 386h2v1h-2zM498 386h3v1h-3zM502 386h1v1h-1zM508 386h2v1h-2zM511 386h1v1h-1zM515 386h3v1h-3zM528 386h2v1h-2zM531 386h4v1h-4zM536 386h2v1h-2zM539 386h6v1h-6zM546 386h3v1h-3zM551 386h1v1h-1zM553 386h1v1h-1zM556 386h5v1h-5zM565 386h2v1h-2zM568 386h2v1h-2zM583 386h2v1h-2zM589 386h3v1h-3zM595 386h3v1h-3zM602 386h1v1h-1zM610 386h1v1h-1zM618 386h1v1h-1zM623 386h2v1h-2zM632 386h3v1h-3zM636 386h1v1h-1zM644 386h7v1h-7zM652 386h1v1h-1zM655 386h1v1h-1zM657 386h4v1h-4zM663 386h1v1h-1zM666 386h1v1h-1zM670 386h2v1h-2zM675 386h1v1h-1zM677 386h2v1h-2zM680 386h1v1h-1zM686 386h1v1h-1zM689 386h1v1h-1zM693 386h2v1h-2zM698 386h1v1h-1zM701 386h1v1h-1zM704 386h5v1h-5zM716 386h1v1h-1zM721 386h4v1h-4zM728 386h3v1h-3zM737 386h1v1h-1zM743 386h3v1h-3zM747 386h6v1h-6zM754 386h1v1h-1zM756 386h1v1h-1zM762 386h2v1h-2zM765 386h2v1h-2zM768 386h2v1h-2zM121 388h1v1h-1zM253 388h1v1h-1zM286 388h1v1h-1zM371 388h1v1h-1zM404 388h1v1h-1zM427 388h1v1h-1zM456 388h1v1h-1zM483 388h1v1h-1zM530 388h1v1h-1zM609 388h1v1h-1zM626 388h1v1h-1zM404 389h1v1h-1z"/><path fill="#0000ff" d="M51 401h1v1h-1zM53 401h2v1h-2zM58 401h2v1h-2zM63 401h3v1h-3zM67 401h1v1h-1zM69 401h1v1h-1zM74 401h1v1h-1zM78 401h1v1h-1zM81 401h1v1h-1zM84 401h1v1h-1zM90 401h1v1h-1zM93 401h1v1h-1zM95 401h1v1h-1zM98 401h1v1h-1zM100 401h1v1h-1zM104 401h1v1h-1zM107 401h1v1h-1zM110 401h2v1h-2zM115 401h1v1h-1zM117 401h1v1h-1zM119 401h1v1h-1zM123 401h1v1h-1zM125 401h3v1h-3zM130 401h1v1h-1zM133 401h1v1h-1zM140 401h3v1h-3zM145 401h1v1h-1zM151 401h1v1h-1zM158 401h1v1h-1zM160 401h2v1h-2zM164 401h1v1h-1zM167 401h1v1h-1zM170 401h1v1h-1zM173 401h2v1h-2zM178 401h1v1h-1zM180 401h2v1h-2zM184 401h1v1h-1zM189 401h1v1h-1zM191 401h5v1h-5zM199 401h5v1h-5zM207 401h1v1h-1zM209 401h2v1h-2zM218 401h2v1h-2zM221 401h2v1h-2zM225 401h2v1h-2zM234 401h1v1h-1zM237 401h1v1h-1zM242 401h2v1h-2zM247 401h1v1h-1zM251 401h1v1h-1zM254 401h1v1h-1zM257 401h2v1h-2zM261 401h6v1h-6zM268 401h2v1h-2zM272 401h1v1h-1zM276 401h2v1h-2zM281 401h1v1h-1zM290 401h1v1h-1zM293 401h4v1h-4zM298 401h1v1h-1zM301 401h2v1h-2zM306 401h5v1h-5zM312 401h1v1h-1zM316 401h2v1h-2zM319 401h3v1h-3zM323 401h1v1h-1zM326 401h2v1h-2zM330 401h1v1h-1zM334 401h2v1h-2zM338 401h3v1h-3zM342 401h1v1h-1zM345 401h1v1h-1zM355 401h3v1h-3zM359 401h1v1h-1zM361 401h1v1h-1zM364 401h3v1h-3zM368 401h2v1h-2zM371 401h1v1h-1zM373 401h3v1h-3zM378 401h1v1h-1zM386 401h4v1h-4zM394 401h4v1h-4zM399 401h2v1h-2zM402 401h3v1h-3zM409 401h1v1h-1zM412 401h4v1h-4zM419 401h1v1h-1zM426 401h3v1h-3zM430 401h6v1h-6zM444 401h3v1h-3zM448 401h1v1h-1zM450 401h1v1h-1zM455 401h1v1h-1zM459 401h3v1h-3zM469 401h2v1h-2zM476 401h1v1h-1zM489 401h1v1h-1zM495 401h3v1h-3zM499 401h1v1h-1zM501 401h1v1h-1zM510 401h1v1h-1zM512 401h1v1h-1zM517 401h2v1h-2zM522 401h1v1h-1zM525 401h3v1h-3zM530 401h1v1h-1zM533 401h1v1h-1zM536 401h5v1h-5zM542 401h3v1h-3zM546 401h1v1h-1zM549 401h2v1h-2zM561 401h2v1h-2zM569 401h5v1h-5zM576 401h3v1h-3zM581 401h3v1h-3zM585 401h1v1h-1zM590 401h1v1h-1zM595 401h1v1h-1zM598 401h1v1h-1zM601 401h1v1h-1zM603 401h1v1h-1zM605 401h2v1h-2zM609 401h1v1h-1zM611 401h4v1h-4zM616 401h1v1h-1zM621 401h1v1h-1zM623 401h2v1h-2zM626 401h2v1h-2zM634 401h2v1h-2zM637 401h2v1h-2zM643 401h8v1h-8zM652 401h3v1h-3zM663 401h3v1h-3zM668 401h2v1h-2zM672 401h3v1h-3zM681 401h2v1h-2zM686 401h1v1h-1zM690 401h2v1h-2zM693 401h3v1h-3zM698 401h2v1h-2zM701 401h1v1h-1zM703 401h5v1h-5zM709 401h1v1h-1zM714 401h1v1h-1zM717 401h2v1h-2zM721 401h1v1h-1zM730 401h1v1h-1zM733 401h1v1h-1zM748 401h1v1h-1zM751 401h1v1h-1zM756 401h3v1h-3zM763 401h2v1h-2zM766 401h1v1h-1zM768 401h1v1h-1zM85 403h1v1h-1zM133 403h1v1h-1zM166 403h2v1h-2zM224 403h1v1h-1zM251 403h1v1h-1zM318 403h1v1h-1zM326 403h1v1h-1zM411 403h1v1h-1zM419 403h1v1h-1zM461 403h1v1h-1zM476 403h1v1h-1zM490 403h1v1h-1zM496 403h1v1h-1zM509 403h1v1h-1zM519 403h1v1h-1zM557 403h1v1h-1zM564 403h1v1h-1zM606 403h1v1h-1zM624 403h1v1h-1zM630 403h1v1h-1zM251 404h1v1h-1zM411 404h1v1h-1z"/><path fill="#006400" d="M58 416h7v1h-7zM70 416h2v1h-2zM79 416h1v1h-1zM85 416h1v1h-1zM95 416h3v1h-3zM103 416h1v1h-1zM105 416h1v1h-1zM114 416h2v1h-2zM121 416h1v1h-1zM127 416h4v1h-4zM133 416h1v1h-1zM135 416h1v1h-1zM146 416h2v1h-2zM150 416h1v1h-1zM153 416h1v1h-1zM159 416h1v1h-1zM162 416h1v1h-1zM167 416h1v1h-1zM175 416h1v1h-1zM177 416h1v1h-1zM179 416h2v1h-2zM182 416h2v1h-2zM185 416h1v1h-1zM191 416h1v1h-1zM204 416h3v1h-3zM212 416h2v1h-2zM219 416h1v1h-1zM224 416h1v1h-1zM226 416h3v1h-3zM230 416h3v1h-3zM234 416h1v1h-1zM240 416h10v1h-10zM251 416h2v1h-2zM254 416h2v1h-2zM258 416h4v1h-4zM268 416h1v1h-1zM272 416h1v1h-1zM275 416h4v1h-4zM282 416h2v1h-2zM303 416h1v1h-1zM307 416h3v1h-3zM311 416h5v1h-5zM324 416h1v1h-1zM329 416h1v1h-1zM331 416h2v1h-2zM334 416h2v1h-2zM342 416h1v1h-1zM345 416h1v1h-1zM353 416h1v1h-1zM356 416h1v1h-1zM359 416h2v1h-2zM362 416h3v1h-3zM371 416h5v1h-5zM378 416h4v1h-4zM384 416h3v1h-3zM392 416h1v1h-1zM404 416h3v1h-3zM414 416h3v1h-3zM419 416h3v1h-3zM426 416h1v1h-1zM430 416h2v1h-2zM435 416h1v1h-1zM438 416h1v1h-1zM442 416h1v1h-1zM448 416h2v1h-2zM452 416h1v1h-1zM454 416h2v1h-2zM458 416h2v1h-2zM462 416h4v1h-4zM471 416h1v1h-1zM482 416h3v1h-3zM487 416h1v1h-1zM489 416h4v1h-4zM495 416h1v1h-1zM497 416h3v1h-3zM503 416h2v1h-2zM509 416h1v1h-1zM512 416h2v1h-2zM520 416h1v1h-1zM523 416h1v1h-1zM528 416h2v1h-2zM545 416h2v1h-2zM553 416h2v1h-2zM565 416h1v1h-1zM567 416h1v1h-1zM572 416h1v1h-1zM574 416h1v1h-1zM579 416h2v1h-2zM582 416h1v1h-1zM587 416h1v1h-1zM589 416h1v1h-1zM591 416h1v1h-1zM593 416h1v1h-1zM595 416h3v1h-3zM601 416h2v1h-2zM604 416h1v1h-1zM606 416h1v1h-1zM610 416h1v1h-1zM620 416h6v1h-6zM635 416h2v1h-2zM647 416h1v1h-1zM651 416h8v1h-8zM663 416h1v1h-1zM670 416h1v1h-1zM681 416h3v1h-3zM693 416h1v1h-1zM698 416h2v1h-2zM705 416h3v1h-3zM710 416h1v1h-1zM712 416h2v1h-2zM715 416h2v1h-2zM727 416h1v1h-1zM729 416h2v1h-2zM734 416h1v1h-1zM740 416h1v1h-1zM749 416h1v1h-1zM754 416h1v1h-1zM757 416h1v1h-1zM760 416h2v1h-2zM153 418h1v1h-1zM160 418h1v1h-1zM167 418h1v1h-1zM222 418h1v1h-1zM284 418h1v1h-1zM338 418h1v1h-1zM355 418h1v1h-1zM373 418h1v1h-1zM487 418h1v1h-1zM515 418h1v1h-1zM521 418h1v1h-1zM537 418h1v1h-1zM565 418h1v1h-1zM585 418h1v1h-1zM633 418h1v1h-1zM677 418h1v1h-1zM737 418h1v1h-1zM153 419h1v1h-1zM521 419h1v1h-1z"/><path fill="#000000" d="M492 372h1v1h-1zM492 373h1v1h-1zM491 374h2v1h-2zM491 375h2v1h-2zM491 376h2v1h-2zM491 377h2v1h-2zM491 378h2v1h-2zM491 379h2v1h-2zM491 380h2v1h-2zM491 381h2v1h-2zM491 382h2v1h-2zM491 383h2v1h-2zM491 384h2v1h-2zM491 385h2v1h-2zM491 386h2v1h-2zM491 387h3v1h-3zM491 388h3v1h-3zM491 389h3v1h-3zM491 390h3v1h-3zM491 391h3v1h-3zM491 392h3v1h-3zM491 393h3v1h-3zM491 394h3v1h-3zM491 395h3v1h-3zM491 396h3v1h-3zM491 397h3v1h-3zM491 398h3v1h-3zM491 399h3v1h-3zM491 400h3v1h-3zM491 401h3v1h-3zM491 402h3v1h-3zM491 403h1v1h-1zM493 403h1v1h-1zM491 404h1v1h-1zM493 404h1v1h-1zM491 405h1v1h-1zM493 405h1v1h-1zM491 406h1v1h-1zM493 406h1v1h-1zM491 407h1v1h-1zM493 407h1v1h-1zM491 408h1v1h-1zM493 408h1v1h-1zM491 409h1v1h-1zM493 409h1v1h-1zM491 410h1v1h-1zM493 410h1v1h-1zM491 411h1v1h-1zM493 411h1v1h-1zM491 412h1v1h-1zM493 412h1v1h-1zM491 413h1v1h-1zM493 413h1v1h-1zM491 414h1v1h-1zM493 414h1v1h-1zM491 415h1v1h-1zM493 415h1v1h-1zM491 416h1v1h-1zM493 416h1v1h-1zM491 417h1v1h-1zM493 417h1v1h-1zM491 418h1v1h-1zM493 418h1v1h-1zM491 419h1v1h-1zM493 419h1v1h-1zM490 420h2v1h-2zM493 420h1v1h-1zM490 421h2v1h-2zM493 421h1v1h-1zM490 422h1v1h-1zM493 422h1v1h-1zM490 423h1v1h-1zM493 423h1v1h-1zM490 424h1v1h-1zM493 424h1v1h-1zM490 425h1v1h-1zM493 425h1v1h-1zM490 426h1v1h-1zM493 426h1v1h-1zM490 427h1v1h-1zM493 427h1v1h-1zM490 428h1v1h-1zM493 428h1v1h-1zM490 429h1v1h-1zM493 429h1v1h-1zM490 430h1v1h-1zM493 430h1v1h-1zM51 431h2v1h-2zM54 431h9v1h-9zM68 431h1v1h-1zM72 431h3v1h-3zM76 431h1v1h-1zM79 431h1v1h-1zM85 431h1v1h-1zM88 431h7v1h-7zM96 431h1v1h-1zM99 431h1v1h-1zM102 431h1v1h-1zM105 431h2v1h-2zM108 431h5v1h-5zM115 431h2v1h-2zM119 431h1v1h-1zM121 431h2v1h-2zM124 431h2v1h-2zM127 431h1v1h-1zM129 431h1v1h-1zM134 431h3v1h-3zM139 431h2v1h-2zM144 431h1v1h-1zM146 431h1v1h-1zM150 431h2v1h-2zM153 431h2v1h-2zM157 431h2v1h-2zM160 431h3v1h-3zM165 431h3v1h-3zM170 431h8v1h-8zM181 431h4v1h-4zM186 431h4v1h-4zM192 431h5v1h-5zM198 431h2v1h-2zM201 431h3v1h-3zM205 431h1v1h-1zM210 431h1v1h-1zM213 431h2v1h-2zM217 431h3v1h-3zM221 431h2v1h-2zM224 431h1v1h-1zM227 431h2v1h-2zM230 431h1v1h-1zM235 431h6v1h-6zM244 431h1v1h-1zM248 431h7v1h-7zM258 431h3v1h-3zM262 431h3v1h-3zM268 431h1v1h-1zM270 431h3v1h-3zM276 431h2v1h-2zM279 431h3v1h-3zM283 431h1v1h-1zM286 431h3v1h-3zM293 431h1v1h-1zM295 431h1v1h-1zM298 431h1v1h-1zM300 431h1v1h-1zM302 431h1v1h-1zM310 431h5v1h-5zM317 431h1v1h-1zM320 431h1v1h-1zM323 431h2v1h-2zM330 431h1v1h-1zM338 431h1v1h-1zM345 431h5v1h-5zM352 431h2v1h-2zM356 431h2v1h-2zM360 431h1v1h-1zM363 431h1v1h-1zM366 431h2v1h-2zM372 431h2v1h-2zM375 431h2v1h-2zM378 431h2v1h-2zM382 431h1v1h-1zM384 431h2v1h-2zM388 431h1v1h-1zM391 431h1v1h-1zM393 431h3v1h-3zM397 431h7v1h-7zM405 431h1v1h-1zM407 431h2v1h-2zM412 431h6v1h-6zM419 431h2v1h-2zM423 431h1v1h-1zM429 431h2v1h-2zM432 431h4v1h-4zM438 431h1v1h-1zM440 431h1v1h-1zM442 431h1v1h-1zM444 431h2v1h-2zM449 431h4v1h-4zM458 431h3v1h-3zM463 431h4v1h-4zM468 431h1v1h-1zM471 431h1v1h-1zM474 431h1v1h-1zM478 431h2v1h-2zM481 431h2v1h-2zM485 431h1v1h-1zM489 431h10v1h-10zM502 431h1v1h-1zM505 431h1v1h-1zM510 431h3v1h-3zM515 431h1v1h-1zM517 431h1v1h-1zM520 431h1v1h-1zM523 431h4v1h-4zM529 431h3v1h-3zM534 431h1v1h-1zM539 431h1v1h-1zM542 431h4v1h-4zM547 431h1v1h-1zM549 431h1v1h-1zM553 431h1v1h-1zM559 431h3v1h-3zM563 431h2v1h-2zM570 431h3v1h-3zM574 431h1v1h-1zM577 431h3v1h-3zM583 431h4v1h-4zM590 431h1v1h-1zM595 431h3v1h-3zM601 431h3v1h-3zM605 431h3v1h-3zM609 431h1v1h-1zM611 431h1v1h-1zM615 431h2v1h-2zM618 431h2v1h-2zM621 431h2v1h-2zM626 431h2v1h-2zM629 431h1v1h-1zM633 431h4v1h-4zM638 431h5v1h-5zM644 431h1v1h-1zM646 431h1v1h-1zM649 431h2v1h-2zM657 431h4v1h-4zM666 431h1v1h-1zM669 431h3v1h-3zM675 431h2v1h-2zM678 431h5v1h-5zM684 431h2v1h-2zM688 431h5v1h-5zM694 431h1v1h-1zM702 431h1v1h-1zM706 431h5v1h-5zM712 431h1v1h-1zM714 431h2v1h-2zM717 431h4v1h-4zM723 431h1v1h-1zM725 431h1v1h-1zM727 431h1v1h-1zM732 431h1v1h-1zM734 431h6v1h-6zM742 431h1v1h-1zM744 431h1v1h-1zM747 431h2v1h-2zM750 431h2v1h-2zM754 431h1v1h-1zM757 431h2v1h-2zM761 431h2v1h-2zM765 431h5v1h-5zM490 432h1v1h-1zM493 432h1v1h-1zM495 432h1v1h-1zM51 433h1v1h-1zM113 433h1v1h-1zM124 433h1v1h-1zM201 433h1v1h-1zM213 433h1v1h-1zM224 433h1v1h-1zM262 433h1v1h-1zM320 433h2v1h-2zM335 433h1v1h-1zM377 433h1v1h-1zM383 433h1v1h-1zM406 433h1v1h-1zM427 433h1v1h-1zM466 433h1v1h-1zM489 433h1v1h-1zM495 433h1v1h-1zM519 433h1v1h-1zM587 433h1v1h-1zM615 433h1v1h-1zM668 433h1v1h-1zM677 433h1v1h-1zM729 433h1v1h-1zM760 433h1v1h-1zM213 434h1v1h-1zM495 434h1v1h-1zM587 434h1v1h-1zM760 434h1v1h-1zM495 435h1v1h-1z"/><path fill="#ff0000" d="M51 446h1v1h-1zM59 446h2v1h-2zM64 446h2v1h-2zM75 446h1v1h-1zM81 446h2v1h-2zM87 446h3v1h-3zM101 446h1v1h-1zM107 446h1v1h-1zM109 446h1v1h-1zM115 446h1v1h-1zM121 446h1v1h-1zM126 446h1v1h-1zM143 446h1v1h-1zM147 446h2v1h-2zM154 446h4v1h-4zM162 446h1v1h-1zM166 446h3v1h-3zM170 446h1v1h-1zM173 446h1v1h-1zM175 446h6v1h-6zM183 446h1v1h-1zM188 446h5v1h-5zM195 446h1v1h-1zM199 446h2v1h-2zM204 446h1v1h-1zM207 446h2v1h-2zM215 446h1v1h-1zM218 446h1v1h-1zM220 446h2v1h-2zM228 446h3v1h-3zM237 446h3v1h-3zM243 446h3v1h-3zM247 446h1v1h-1zM250 446h1v1h-1zM256 446h2v1h-2zM262 446h3v1h-3zM267 446h3v1h-3zM279 446h3v1h-3zM290 446h2v1h-2zM296 446h1v1h-1zM304 446h6v1h-6zM314 446h5v1h-5zM324 446h2v1h-2zM335 446h2v1h-2zM338 446h1v1h-1zM340 446h1v1h-1zM345 446h1v1h-1zM348 446h2v1h-2zM353 446h2v1h-2zM356 446h3v1h-3zM366 446h1v1h-1zM371 446h1v1h-1zM377 446h1v1h-1zM381 446h1v1h-1zM386 446h3v1h-3zM392 446h5v1h-5zM399 446h2v1h-2zM405 446h1v1h-1zM407 446h1v1h-1zM411 446h1v1h-1zM421 446h3v1h-3zM429 446h1v1h-1zM436 446h3v1h-3zM440 446h2v1h-2zM454 446h1v1h-1zM462 446h1v1h-1zM465 446h1v1h-1zM467 446h3v1h-3zM475 446h2v1h-2zM478 446h1v1h-1zM482 446h1v1h-1zM484 446h1v1h-1zM489 446h1v1h-1zM496 446h1v1h-1zM504 446h2v1h-2zM507 446h7v1h-7zM515 446h1v1h-1zM523 446h2v1h-2zM529 446h8v1h-8zM541 446h2v1h-2zM544 446h1v1h-1zM548 446h1v1h-1zM551 446h1v1h-1zM554 446h1v1h-1zM557 446h1v1h-1zM562 446h1v1h-1zM564 446h2v1h-2zM567 446h1v1h-1zM572 446h3v1h-3zM576 446h3v1h-3zM583 446h1v1h-1zM586 446h1v1h-1zM590 446h1v1h-1zM594 446h1v1h-1zM596 446h1v1h-1zM600 446h2v1h-2zM603 446h1v1h-1zM605 446h1v1h-1zM622 446h3v1h-3zM628 446h1v1h-1zM637 446h1v1h-1zM639 446h1v1h-1zM645 446h2v1h-2zM649 446h1v1h-1zM660 446h3v1h-3zM674 446h3v1h-3zM680 446h7v1h-7zM688 446h2v1h-2zM692 446h2v1h-2zM698 446h2v1h-2zM703 446h6v1h-6zM711 446h8v1h-8zM722 446h1v1h-1zM730 446h4v1h-4zM736 446h1v1h-1zM738 446h1v1h-1zM741 446h1v1h-1zM744 446h1v1h-1zM748 446h1v1h-1zM751 446h6v1h-6zM767 446h2v1h-2zM58 448h1v1h-1zM235 448h1v1h-1zM253 448h1v1h-1zM258 448h2v1h-2zM291 448h1v1h-1zM314 448h1v1h-1zM316 448h1v1h-1zM352 448h1v1h-1zM402 448h1v1h-1zM419 448h1v1h-1zM422 448h1v1h-1zM460 448h1v1h-1zM490 448h1v1h-1zM511 448h1v1h-1zM516 448h1v1h-1zM523 448h1v1h-1zM529 448h1v1h-1zM550 448h1v1h-1zM615 448h1v1h-1zM641 448h1v1h-1zM664 448h1v1h-1zM666 448h1v1h-1zM688 448h1v1h-1zM728 448h1v1h-1zM733 448h1v1h-1zM745 448h1v1h-1zM749 448h1v1h-1z"/><path fill="#0000ff" d="M580 458h2v1h-2zM579 459h3v1h-3zM574 460h1v1h-1zM579 460h4v1h-4zM51 461h2v1h-2zM54 461h1v1h-1zM56 461h1v1h-1zM60 461h1v1h-1zM63 461h3v1h-3zM67 461h1v1h-1zM69 461h2v1h-2zM75 461h1v1h-1zM77 461h1v1h-1zM80 461h1v1h-1zM96 461h3v1h-3zM101 461h4v1h-4zM107 461h1v1h-1zM113 461h1v1h-1zM118 461h1v1h-1zM135 461h4v1h-4zM142 461h2v1h-2zM150 461h1v1h-1zM155 461h2v1h-2zM160 461h2v1h-2zM169 461h6v1h-6zM176 461h2v1h-2zM187 461h3v1h-3zM191 461h1v1h-1zM200 461h1v1h-1zM204 461h1v1h-1zM220 461h2v1h-2zM230 461h2v1h-2zM243 461h4v1h-4zM250 461h1v1h-1zM253 461h1v1h-1zM268 461h2v1h-2zM273 461h1v1h-1zM275 461h3v1h-3zM287 461h1v1h-1zM290 461h2v1h-2zM298 461h1v1h-1zM306 461h1v1h-1zM310 461h1v1h-1zM312 461h1v1h-1zM320 461h4v1h-4zM331 461h4v1h-4zM343 461h4v1h-4zM349 461h1v1h-1zM352 461h2v1h-2zM367 461h1v1h-1zM372 461h1v1h-1zM374 461h1v1h-1zM376 461h3v1h-3zM382 461h3v1h-3zM387 461h2v1h-2zM393 461h2v1h-2zM396 461h1v1h-1zM406 461h2v1h-2zM409 461h1v1h-1zM411 461h3v1h-3zM422 461h2v1h-2zM426 461h1v1h-1zM428 461h1v1h-1zM434 461h1v1h-1zM436 461h1v1h-1zM448 461h1v1h-1zM453 461h1v1h-1zM456 461h4v1h-4zM464 461h1v1h-1zM469 461h2v1h-2zM472 461h1v1h-1zM474 461h1v1h-1zM476 461h1v1h-1zM483 461h1v1h-1zM487 461h1v1h-1zM490 461h1v1h-1zM492 461h3v1h-3zM497 461h2v1h-2zM503 461h1v1h-1zM506 461h1v1h-1zM519 461h1v1h-1zM528 461h3v1h-3zM532 461h1v1h-1zM536 461h2v1h-2zM539 461h1v1h-1zM541 461h2v1h-2zM546 461h4v1h-4zM552 461h1v1h-1zM565 461h1v1h-1zM571 461h6v1h-6zM578 461h7v1h-7zM586 461h1v1h-1zM588 461h1v1h-1zM590 461h3v1h-3zM594 461h2v1h-2zM605 461h1v1h-1zM608 461h2v1h-2zM611 461h1v1h-1zM614 461h2v1h-2zM618 461h1v1h-1zM621 461h3v1h-3zM625 461h4v1h-4zM638 461h4v1h-4zM649 461h5v1h-5zM655 461h1v1h-1zM661 461h3v1h-3zM670 461h2v1h-2zM674 461h1v1h-1zM680 461h2v1h-2zM684 461h3v1h-3zM688 461h4v1h-4zM698 461h1v1h-1zM700 461h1v1h-1zM704 461h2v1h-2zM707 461h2v1h-2zM717 461h1v1h-1zM721 461h1v1h-1zM728 461h6v1h-6zM742 461h3v1h-3zM753 461h2v1h-2zM757 461h2v1h-2zM762 461h1v1h-1zM574 462h3v1h-3zM579 462h6v1h-6zM586 462h1v1h-1zM588 462h1v1h-1zM104 463h1v1h-1zM113 463h1v1h-1zM139 463h1v1h-1zM162 463h1v1h-1zM201 463h1v1h-1zM222 463h1v1h-1zM238 463h1v1h-1zM268 463h1v1h-1zM272 463h1v1h-1zM288 463h1v1h-1zM349 463h1v1h-1zM391 463h2v1h-2zM446 463h1v1h-1zM460 463h1v1h-1zM488 463h1v1h-1zM499 463h1v1h-1zM501 463h1v1h-1zM509 463h1v1h-1zM566 463h1v1h-1zM574 463h3v1h-3zM580 463h5v1h-5zM586 463h1v1h-1zM588 463h1v1h-1zM608 463h1v1h-1zM619 463h1v1h-1zM644 463h1v1h-1zM104 464h1v1h-1zM446 464h1v1h-1zM566 464h1v1h-1zM580 464h3v1h-3zM581 465h1v1h-1z"/><path fill="#006400" d="M51 476h2v1h-2zM55 476h2v1h-2zM58 476h4v1h-4zM63 476h3v1h-3zM74 476h2v1h-2zM77 476h1v1h-1zM82 476h2v1h-2zM87 476h2v1h-2zM96 476h3v1h-3zM104 476h3v1h-3zM110 476h1v1h-1zM115 476h2v1h-2zM119 476h1v1h-1zM121 476h1v1h-1zM126 476h1v1h-1zM143 476h2v1h-2zM151 476h1v1h-1zM158 476h1v1h-1zM178 476h2v1h-2zM188 476h1v1h-1zM195 476h1v1h-1zM197 476h1v1h-1zM201 476h1v1h-1zM212 476h3v1h-3zM223 476h1v1h-1zM226 476h1v1h-1zM236 476h2v1h-2zM243 476h2v1h-2zM248 476h1v1h-1zM261 476h1v1h-1zM266 476h2v1h-2zM270 476h1v1h-1zM272 476h1v1h-1zM274 476h1v1h-1zM284 476h4v1h-4zM293 476h1v1h-1zM297 476h1v1h-1zM304 476h2v1h-2zM309 476h1v1h-1zM318 476h1v1h-1zM327 476h3v1h-3zM341 476h1v1h-1zM362 476h1v1h-1zM374 476h1v1h-1zM379 476h1v1h-1zM383 476h5v1h-5zM389 476h2v1h-2zM392 476h4v1h-4zM399 476h1v1h-1zM406 476h2v1h-2zM409 476h1v1h-1zM425 476h1v1h-1zM430 476h1v1h-1zM435 476h1v1h-1zM441 476h1v1h-1zM443 476h2v1h-2zM449 476h2v1h-2zM454 476h2v1h-2zM457 476h1v1h-1zM462 476h2v1h-2zM466 476h1v1h-1zM468 476h1v1h-1zM471 476h2v1h-2zM474 476h1v1h-1zM477 476h1v1h-1zM486 476h1v1h-1zM488 476h1v1h-1zM498 476h2v1h-2zM502 476h3v1h-3zM513 476h2v1h-2zM525 476h1v1h-1zM538 476h2v1h-2zM549 476h1v1h-1zM554 476h1v1h-1zM560 476h1v1h-1zM564 476h4v1h-4zM570 476h1v1h-1zM577 476h1v1h-1zM581 476h1v1h-1zM587 476h2v1h-2zM590 476h5v1h-5zM598 476h1v1h-1zM604 476h3v1h-3zM609 476h1v1h-1zM615 476h1v1h-1zM618 476h3v1h-3zM622 476h1v1h-1zM625 476h2v1h-2zM629 476h5v1h-5zM635 476h3v1h-3zM641 476h2v1h-2zM647 476h1v1h-1zM652 476h2v1h-2zM658 476h1v1h-1zM660 476h1v1h-1zM663 476h1v1h-1zM669 476h4v1h-4zM674 476h3v1h-3zM679 476h1v1h-1zM685 476h1v1h-1zM687 476h5v1h-5zM696 476h2v1h-2zM702 476h2v1h-2zM705 476h1v1h-1zM709 476h1v1h-1zM712 476h2v1h-2zM718 476h2v1h-2zM726 476h2v1h-2zM744 476h1v1h-1zM756 476h1v1h-1zM758 476h3v1h-3zM56 478h1v1h-1zM93 478h1v1h-1zM104 478h1v1h-1zM126 478h1v1h-1zM129 478h1v1h-1zM142 478h1v1h-1zM173 478h1v1h-1zM184 478h1v1h-1zM240 478h1v1h-1zM268 478h1v1h-1zM298 478h1v1h-1zM313 478h1v1h-1zM324 478h1v1h-1zM326 478h1v1h-1zM434 478h1v1h-1zM463 478h1v1h-1zM518 478h1v1h-1zM610 478h1v1h-1zM636 478h1v1h-1zM651 478h1v1h-1zM661 478h1v1h-1zM672 478h1v1h-1zM686 478h1v1h-1zM705 478h1v1h-1zM463 479h1v1h-1z"/><path fill="#000000" d="M90 489h1v1h-1zM88 490h1v1h-1zM90 490h1v1h-1zM51 491h2v1h-2zM55 491h2v1h-2zM58 491h3v1h-3zM62 491h1v1h-1zM65 491h1v1h-1zM67 491h2v1h-2zM70 491h1v1h-1zM73 491h1v1h-1zM77 491h1v1h-1zM82 491h4v1h-4zM87 491h8v1h-8zM97 491h1v1h-1zM99 491h1v1h-1zM106 491h2v1h-2zM110 491h3v1h-3zM115 491h9v1h-9zM126 491h1v1h-1zM128 491h6v1h-6zM135 491h2v1h-2zM138 491h5v1h-5zM144 491h1v1h-1zM146 491h2v1h-2zM149 491h2v1h-2zM159 491h2v1h-2zM163 491h1v1h-1zM166 491h2v1h-2zM173 491h2v1h-2zM176 491h1v1h-1zM178 491h1v1h-1zM183 491h2v1h-2zM187 491h1v1h-1zM189 491h1v1h-1zM191 491h5v1h-5zM197 491h3v1h-3zM207 491h1v1h-1zM209 491h1v1h-1zM211 491h1v1h-1zM213 491h1v1h-1zM215 491h1v1h-1zM221 491h3v1h-3zM225 491h1v1h-1zM227 491h5v1h-5zM234 491h2v1h-2zM237 491h1v1h-1zM240 491h1v1h-1zM242 491h1v1h-1zM244 491h2v1h-2zM247 491h1v1h-1zM249 491h2v1h-2zM253 491h1v1h-1zM257 491h1v1h-1zM259 491h4v1h-4zM264 491h1v1h-1zM266 491h2v1h-2zM269 491h2v1h-2zM272 491h1v1h-1zM274 491h1v1h-1zM277 491h1v1h-1zM281 491h1v1h-1zM283 491h1v1h-1zM285 491h2v1h-2zM290 491h1v1h-1zM293 491h1v1h-1zM295 491h2v1h-2zM299 491h3v1h-3zM307 491h2v1h-2zM310 491h4v1h-4zM316 491h2v1h-2zM320 491h1v1h-1zM326 491h3v1h-3zM330 491h9v1h-9zM341 491h2v1h-2zM344 491h3v1h-3zM349 491h2v1h-2zM353 491h1v1h-1zM355 491h2v1h-2zM362 491h3v1h-3zM367 491h3v1h-3zM372 491h3v1h-3zM377 491h1v1h-1zM379 491h1v1h-1zM383 491h3v1h-3zM387 491h2v1h-2zM391 491h2v1h-2zM402 491h5v1h-5zM408 491h2v1h-2zM411 491h1v1h-1zM413 491h2v1h-2zM416 491h1v1h-1zM418 491h2v1h-2zM423 491h3v1h-3zM427 491h2v1h-2zM436 491h3v1h-3zM440 491h2v1h-2zM446 491h1v1h-1zM448 491h1v1h-1zM450 491h2v1h-2zM453 491h1v1h-1zM455 491h1v1h-1zM457 491h1v1h-1zM460 491h1v1h-1zM463 491h2v1h-2zM467 491h2v1h-2zM470 491h2v1h-2zM476 491h2v1h-2zM479 491h5v1h-5zM486 491h1v1h-1zM489 491h1v1h-1zM491 491h1v1h-1zM493 491h3v1h-3zM497 491h3v1h-3zM501 491h1v1h-1zM503 491h1v1h-1zM506 491h3v1h-3zM510 491h2v1h-2zM517 491h1v1h-1zM519 491h2v1h-2zM522 491h1v1h-1zM527 491h1v1h-1zM529 491h1v1h-1zM533 491h3v1h-3zM537 491h4v1h-4zM544 491h2v1h-2zM547 491h2v1h-2zM550 491h1v1h-1zM552 491h3v1h-3zM557 491h1v1h-1zM559 491h1v1h-1zM561 491h1v1h-1zM563 491h2v1h-2zM570 491h1v1h-1zM572 491h1v1h-1zM574 491h1v1h-1zM576 491h1v1h-1zM582 491h1v1h-1zM585 491h2v1h-2zM589 491h5v1h-5zM595 491h1v1h-1zM602 491h3v1h-3zM607 491h2v1h-2zM612 491h3v1h-3zM620 491h1v1h-1zM624 491h3v1h-3zM628 491h2v1h-2zM633 491h3v1h-3zM637 491h1v1h-1zM640 491h2v1h-2zM646 491h1v1h-1zM653 491h2v1h-2zM656 491h1v1h-1zM661 491h1v1h-1zM663 491h2v1h-2zM667 491h2v1h-2zM671 491h2v1h-2zM677 491h2v1h-2zM681 491h2v1h-2zM684 491h3v1h-3zM688 491h3v1h-3zM692 491h1v1h-1zM696 491h1v1h-1zM699 491h2v1h-2zM702 491h1v1h-1zM704 491h1v1h-1zM707 491h4v1h-4zM717 491h2v1h-2zM722 491h3v1h-3zM727 491h1v1h-1zM732 491h3v1h-3zM736 491h1v1h-1zM741 491h2v1h-2zM744 491h3v1h-3zM748 491h1v1h-1zM759 491h1v1h-1zM763 491h1v1h-1zM766 491h1v1h-1zM769 491h1v1h-1zM82 492h1v1h-1zM84 492h1v1h-1zM88 492h5v1h-5zM51 493h1v1h-1zM82 493h1v1h-1zM84 493h1v1h-1zM88 493h2v1h-2zM91 493h2v1h-2zM168 493h1v1h-1zM172 493h1v1h-1zM228 493h1v1h-1zM341 493h1v1h-1zM460 493h1v1h-1zM525 493h1v1h-1zM620 493h1v1h-1zM656 493h1v1h-1zM719 493h1v1h-1zM88 494h1v1h-1z"/><path fill="#ff0000" d="M52 506h1v1h-1zM54 506h1v1h-1zM57 506h2v1h-2zM64 506h2v1h-2zM67 506h1v1h-1zM69 506h1v1h-1zM74 506h1v1h-1zM83 506h2v1h-2zM90 506h1v1h-1zM92 506h1v1h-1zM99 506h1v1h-1zM105 506h1v1h-1zM107 506h1v1h-1zM109 506h1v1h-1zM116 506h2v1h-2zM121 506h2v1h-2zM124 506h4v1h-4zM132 506h2v1h-2zM150 506h4v1h-4zM158 506h1v1h-1zM160 506h3v1h-3zM164 506h1v1h-1zM168 506h1v1h-1zM173 506h2v1h-2zM179 506h2v1h-2zM184 506h1v1h-1zM193 506h1v1h-1zM196 506h1v1h-1zM205 506h1v1h-1zM208 506h3v1h-3zM212 506h1v1h-1zM214 506h1v1h-1zM216 506h3v1h-3zM229 506h1v1h-1zM234 506h3v1h-3zM238 506h2v1h-2zM242 506h2v1h-2zM246 506h2v1h-2zM250 506h1v1h-1zM253 506h3v1h-3zM265 506h3v1h-3zM276 506h3v1h-3zM281 506h2v1h-2zM287 506h1v1h-1zM293 506h1v1h-1zM300 506h1v1h-1zM302 506h1v1h-1zM304 506h3v1h-3zM309 506h2v1h-2zM317 506h5v1h-5zM327 506h1v1h-1zM329 506h1v1h-1zM333 506h1v1h-1zM335 506h2v1h-2zM348 506h2v1h-2zM354 506h1v1h-1zM357 506h3v1h-3zM362 506h2v1h-2zM369 506h1v1h-1zM375 506h3v1h-3zM379 506h1v1h-1zM385 506h1v1h-1zM393 506h1v1h-1zM397 506h1v1h-1zM400 506h4v1h-4zM407 506h1v1h-1zM409 506h2v1h-2zM412 506h3v1h-3zM417 506h1v1h-1zM421 506h2v1h-2zM424 506h2v1h-2zM430 506h1v1h-1zM433 506h2v1h-2zM437 506h1v1h-1zM440 506h1v1h-1zM442 506h1v1h-1zM445 506h4v1h-4zM451 506h2v1h-2zM454 506h1v1h-1zM461 506h2v1h-2zM472 506h1v1h-1zM475 506h1v1h-1zM478 506h1v1h-1zM482 506h1v1h-1zM484 506h2v1h-2zM489 506h2v1h-2zM502 506h1v1h-1zM504 506h1v1h-1zM511 506h2v1h-2zM517 506h1v1h-1zM519 506h3v1h-3zM523 506h1v1h-1zM528 506h1v1h-1zM533 506h1v1h-1zM537 506h1v1h-1zM543 506h1v1h-1zM550 506h3v1h-3zM554 506h1v1h-1zM556 506h5v1h-5zM562 506h1v1h-1zM567 506h3v1h-3zM581 506h1v1h-1zM588 506h2v1h-2zM591 506h2v1h-2zM595 506h6v1h-6zM616 506h2v1h-2zM625 506h2v1h-2zM632 506h1v1h-1zM637 506h1v1h-1zM643 506h2v1h-2zM652 506h1v1h-1zM659 506h1v1h-1zM664 506h1v1h-1zM667 506h1v1h-1zM669 506h1v1h-1zM671 506h4v1h-4zM676 506h1v1h-1zM679 506h1v1h-1zM682 506h1v1h-1zM688 506h2v1h-2zM693 506h1v1h-1zM695 506h1v1h-1zM697 506h3v1h-3zM702 506h2v1h-2zM706 506h2v1h-2zM711 506h2v1h-2zM717 506h2v1h-2zM722 506h1v1h-1zM728 506h4v1h-4zM734 506h2v1h-2zM742 506h1v1h-1zM744 506h2v1h-2zM749 506h1v1h-1zM751 506h2v1h-2zM755 506h1v1h-1zM759 506h3v1h-3zM70 508h1v1h-1zM94 508h1v1h-1zM154 508h1v1h-1zM182 508h1v1h-1zM196 508h1v1h-1zM217 508h1v1h-1zM229 508h1v1h-1zM244 508h1v1h-1zM260 508h1v1h-1zM264 508h1v1h-1zM269 508h1v1h-1zM286 508h1v1h-1zM301 508h1v1h-1zM530 508h1v1h-1zM540 508h1v1h-1zM635 508h1v1h-1zM675 508h1v1h-1zM679 508h1v1h-1zM689 508h1v1h-1zM701 508h1v1h-1zM94 509h1v1h-1zM260 509h1v1h-1zM701 509h1v1h-1z"/><path fill="#0000ff" d="M630 520h1v1h-1zM632 520h1v1h-1zM639 520h1v1h-1zM646 520h1v1h-1zM651 520h2v1h-2zM668 520h1v1h-1zM676 520h1v1h-1zM689 520h1v1h-1zM700 520h1v1h-1zM729 520h1v1h-1zM735 520h1v1h-1zM737 520h1v1h-1zM753 520h2v1h-2zM762 520h1v1h-1zM767 520h1v1h-1zM51 521h2v1h-2zM58 521h1v1h-1zM65 521h2v1h-2zM71 521h7v1h-7zM82 521h1v1h-1zM84 521h1v1h-1zM98 521h2v1h-2zM102 521h1v1h-1zM105 521h1v1h-1zM108 521h1v1h-1zM114 521h1v1h-1zM118 521h1v1h-1zM122 521h1v1h-1zM125 521h2v1h-2zM128 521h2v1h-2zM132 521h3v1h-3zM142 521h1v1h-1zM147 521h2v1h-2zM155 521h2v1h-2zM160 521h3v1h-3zM164 521h1v1h-1zM166 521h2v1h-2zM169 521h1v1h-1zM175 521h1v1h-1zM179 521h2v1h-2zM187 521h1v1h-1zM195 521h3v1h-3zM199 521h2v1h-2zM202 521h1v1h-1zM209 521h2v1h-2zM220 521h1v1h-1zM224 521h2v1h-2zM228 521h1v1h-1zM233 521h1v1h-1zM239 521h5v1h-5zM246 521h1v1h-1zM248 521h6v1h-6zM257 521h1v1h-1zM260 521h5v1h-5zM267 521h2v1h-2zM272 521h2v1h-2zM275 521h2v1h-2zM278 521h1v1h-1zM289 521h1v1h-1zM293 521h3v1h-3zM300 521h2v1h-2zM308 521h1v1h-1zM310 521h1v1h-1zM312 521h2v1h-2zM316 521h2v1h-2zM322 521h1v1h-1zM324 521h1v1h-1zM328 521h1v1h-1zM334 521h1v1h-1zM348 521h2v1h-2zM353 521h1v1h-1zM356 521h4v1h-4zM361 521h1v1h-1zM363 521h1v1h-1zM365 521h2v1h-2zM369 521h1v1h-1zM377 521h2v1h-2zM385 521h2v1h-2zM388 521h6v1h-6zM403 521h2v1h-2zM406 521h3v1h-3zM414 521h2v1h-2zM417 521h3v1h-3zM422 521h1v1h-1zM426 521h1v1h-1zM428 521h1v1h-1zM430 521h1v1h-1zM432 521h2v1h-2zM435 521h1v1h-1zM441 521h7v1h-7zM451 521h1v1h-1zM453 521h1v1h-1zM456 521h5v1h-5zM469 521h2v1h-2zM473 521h1v1h-1zM476 521h1v1h-1zM491 521h3v1h-3zM501 521h1v1h-1zM503 521h2v1h-2zM506 521h3v1h-3zM520 521h2v1h-2zM525 521h1v1h-1zM530 521h2v1h-2zM533 521h1v1h-1zM539 521h4v1h-4zM545 521h1v1h-1zM552 521h1v1h-1zM557 521h1v1h-1zM565 521h1v1h-1zM567 521h1v1h-1zM572 521h3v1h-3zM579 521h5v1h-5zM589 521h8v1h-8zM600 521h3v1h-3zM604 521h2v1h-2zM608 521h2v1h-2zM617 521h6v1h-6zM624 521h17v1h-17zM643 521h1v1h-1zM645 521h3v1h-3zM651 521h10v1h-10zM663 521h1v1h-1zM666 521h16v1h-16zM683 521h1v1h-1zM685 521h1v1h-1zM687 521h10v1h-10zM698 521h9v1h-9zM709 521h1v1h-1zM711 521h2v1h-2zM714 521h1v1h-1zM716 521h2v1h-2zM719 521h2v1h-2zM722 521h4v1h-4zM728 521h4v1h-4zM733 521h3v1h-3zM737 521h4v1h-4zM742 521h1v1h-1zM745 521h3v1h-3zM749 521h3v1h-3zM753 521h3v1h-3zM757 521h1v1h-1zM759 521h9v1h-9zM769 521h1v1h-1zM617 522h153v1h-153zM70 523h1v1h-1zM74 523h1v1h-1zM136 523h1v1h-1zM140 523h1v1h-1zM172 523h1v1h-1zM253 523h1v1h-1zM268 523h1v1h-1zM283 523h1v1h-1zM289 523h1v1h-1zM295 523h1v1h-1zM308 523h1v1h-1zM311 523h1v1h-1zM340 523h1v1h-1zM417 523h1v1h-1zM438 523h1v1h-1zM499 523h1v1h-1zM565 523h2v1h-2zM608 523h1v1h-1zM618 523h3v1h-3zM622 523h1v1h-1zM624 523h2v1h-2zM627 523h7v1h-7zM641 523h3v1h-3zM647 523h3v1h-3zM651 523h1v1h-1zM653 523h5v1h-5zM659 523h1v1h-1zM661 523h5v1h-5zM667 523h1v1h-1zM669 523h1v1h-1zM672 523h1v1h-1zM675 523h1v1h-1zM678 523h1v1h-1zM680 523h1v1h-1zM683 523h3v1h-3zM687 523h1v1h-1zM690 523h1v1h-1zM692 523h2v1h-2zM695 523h3v1h-3zM699 523h1v1h-1zM701 523h3v1h-3zM705 523h1v1h-1zM707 523h4v1h-4zM712 523h2v1h-2zM717 523h1v1h-1zM720 523h3v1h-3zM724 523h2v1h-2zM728 523h2v1h-2zM731 523h2v1h-2zM735 523h1v1h-1zM737 523h2v1h-2zM740 523h2v1h-2zM744 523h4v1h-4zM749 523h3v1h-3zM753 523h2v1h-2zM756 523h2v1h-2zM760 523h1v1h-1zM764 523h3v1h-3zM768 523h1v1h-1zM656 524h1v1h-1zM661 524h1v1h-1zM667 524h1v1h-1zM678 524h1v1h-1zM690 524h1v1h-1zM695 524h1v1h-1zM717 524h1v1h-1zM721 524h1v1h-1zM731 524h1v1h-1zM740 524h2v1h-2zM746 524h1v1h-1zM753 524h2v1h-2zM765 524h1v1h-1z"/><path fill="#006400" d="M84 535h1v1h-1zM51 536h5v1h-5zM57 536h1v1h-1zM59 536h13v1h-13zM73 536h1v1h-1zM76 536h6v1h-6zM83 536h3v1h-3zM87 536h10v1h-10zM98 536h4v1h-4zM103 536h14v1h-14zM118 536h1v1h-1zM121 536h4v1h-4zM127 536h8v1h-8zM136 536h5v1h-5zM144 536h2v1h-2zM153 536h1v1h-1zM164 536h2v1h-2zM167 536h1v1h-1zM178 536h1v1h-1zM182 536h2v1h-2zM189 536h1v1h-1zM192 536h1v1h-1zM195 536h5v1h-5zM208 536h1v1h-1zM210 536h1v1h-1zM212 536h1v1h-1zM216 536h1v1h-1zM226 536h3v1h-3zM232 536h1v1h-1zM237 536h6v1h-6zM244 536h6v1h-6zM251 536h4v1h-4zM256 536h2v1h-2zM263 536h1v1h-1zM268 536h3v1h-3zM272 536h3v1h-3zM276 536h3v1h-3zM289 536h1v1h-1zM293 536h2v1h-2zM299 536h3v1h-3zM303 536h5v1h-5zM310 536h4v1h-4zM316 536h2v1h-2zM319 536h2v1h-2zM326 536h2v1h-2zM332 536h1v1h-1zM336 536h3v1h-3zM347 536h1v1h-1zM352 536h1v1h-1zM356 536h1v1h-1zM361 536h1v1h-1zM367 536h3v1h-3zM382 536h1v1h-1zM387 536h1v1h-1zM398 536h10v1h-10zM417 536h1v1h-1zM420 536h1v1h-1zM434 536h1v1h-1zM437 536h2v1h-2zM441 536h4v1h-4zM449 536h1v1h-1zM455 536h1v1h-1zM461 536h2v1h-2zM469 536h4v1h-4zM490 536h6v1h-6zM500 536h2v1h-2zM507 536h1v1h-1zM511 536h1v1h-1zM521 536h4v1h-4zM526 536h3v1h-3zM530 536h3v1h-3zM539 536h3v1h-3zM549 536h1v1h-1zM555 536h1v1h-1zM568 536h2v1h-2zM571 536h2v1h-2zM582 536h1v1h-1zM586 536h3v1h-3zM590 536h1v1h-1zM598 536h2v1h-2zM604 536h1v1h-1zM610 536h2v1h-2zM619 536h1v1h-1zM632 536h2v1h-2zM645 536h3v1h-3zM654 536h1v1h-1zM656 536h1v1h-1zM658 536h1v1h-1zM668 536h2v1h-2zM676 536h1v1h-1zM699 536h4v1h-4zM712 536h4v1h-4zM723 536h2v1h-2zM726 536h2v1h-2zM741 536h3v1h-3zM752 536h1v1h-1zM758 536h1v1h-1zM765 536h2v1h-2zM51 537h95v1h-95zM52 538h1v1h-1zM54 538h1v1h-1zM57 538h2v1h-2zM61 538h1v1h-1zM66 538h2v1h-2zM69 538h1v1h-1zM72 538h4v1h-4zM78 538h2v1h-2zM81 538h1v1h-1zM83 538h1v1h-1zM87 538h2v1h-2zM91 538h1v1h-1zM94 538h1v1h-1zM97 538h2v1h-2zM100 538h1v1h-1zM102 538h2v1h-2zM106 538h2v1h-2zM110 538h3v1h-3zM115 538h2v1h-2zM118 538h2v1h-2zM121 538h1v1h-1zM126 538h1v1h-1zM128 538h1v1h-1zM130 538h1v1h-1zM133 538h1v1h-1zM136 538h5v1h-5zM143 538h3v1h-3zM246 538h1v1h-1zM285 538h1v1h-1zM360 538h1v1h-1zM438 538h1v1h-1zM460 538h1v1h-1zM463 538h1v1h-1zM610 538h1v1h-1zM659 538h1v1h-1zM130 539h1v1h-1zM136 539h1v1h-1zM659 539h1v1h-1z"/><path fill="#000000" d="M300 550h1v1h-1zM311 550h2v1h-2zM51 551h1v1h-1zM54 551h1v1h-1zM68 551h2v1h-2zM77 551h3v1h-3zM81 551h1v1h-1zM84 551h1v1h-1zM86 551h2v1h-2zM94 551h2v1h-2zM97 551h1v1h-1zM100 551h2v1h-2zM108 551h1v1h-1zM114 551h1v1h-1zM124 551h1v1h-1zM126 551h1v1h-1zM129 551h2v1h-2zM134 551h4v1h-4zM143 551h1v1h-1zM146 551h4v1h-4zM154 551h1v1h-1zM156 551h3v1h-3zM160 551h3v1h-3zM166 551h3v1h-3zM177 551h2v1h-2zM180 551h7v1h-7zM189 551h4v1h-4zM202 551h1v1h-1zM207 551h2v1h-2zM221 551h2v1h-2zM225 551h2v1h-2zM228 551h2v1h-2zM231 551h4v1h-4zM238 551h1v1h-1zM243 551h1v1h-1zM245 551h1v1h-1zM247 551h2v1h-2zM251 551h7v1h-7zM267 551h2v1h-2zM274 551h3v1h-3zM282 551h2v1h-2zM286 551h4v1h-4zM294 551h1v1h-1zM298 551h3v1h-3zM307 551h1v1h-1zM309 551h4v1h-4zM315 551h5v1h-5zM321 551h1v1h-1zM323 551h2v1h-2zM327 551h2v1h-2zM331 551h1v1h-1zM336 551h2v1h-2zM340 551h4v1h-4zM350 551h1v1h-1zM352 551h2v1h-2zM355 551h1v1h-1zM357 551h1v1h-1zM360 551h2v1h-2zM368 551h3v1h-3zM372 551h2v1h-2zM381 551h1v1h-1zM392 551h1v1h-1zM394 551h4v1h-4zM400 551h1v1h-1zM405 551h1v1h-1zM407 551h1v1h-1zM416 551h1v1h-1zM421 551h1v1h-1zM425 551h4v1h-4zM433 551h2v1h-2zM438 551h3v1h-3zM444 551h1v1h-1zM446 551h4v1h-4zM452 551h1v1h-1zM456 551h1v1h-1zM459 551h2v1h-2zM462 551h1v1h-1zM470 551h2v1h-2zM476 551h2v1h-2zM484 551h5v1h-5zM490 551h5v1h-5zM502 551h1v1h-1zM508 551h1v1h-1zM510 551h1v1h-1zM522 551h1v1h-1zM524 551h3v1h-3zM529 551h1v1h-1zM535 551h4v1h-4zM540 551h3v1h-3zM545 551h2v1h-2zM548 551h1v1h-1zM551 551h1v1h-1zM555 551h1v1h-1zM565 551h1v1h-1zM567 551h1v1h-1zM570 551h1v1h-1zM575 551h1v1h-1zM579 551h2v1h-2zM588 551h1v1h-1zM590 551h2v1h-2zM594 551h2v1h-2zM600 551h2v1h-2zM603 551h1v1h-1zM609 551h1v1h-1zM611 551h1v1h-1zM615 551h2v1h-2zM620 551h1v1h-1zM622 551h2v1h-2zM634 551h2v1h-2zM638 551h3v1h-3zM642 551h4v1h-4zM647 551h3v1h-3zM652 551h2v1h-2zM656 551h1v1h-1zM658 551h1v1h-1zM661 551h3v1h-3zM665 551h1v1h-1zM670 551h2v1h-2zM673 551h3v1h-3zM677 551h1v1h-1zM679 551h1v1h-1zM686 551h2v1h-2zM690 551h2v1h-2zM694 551h4v1h-4zM701 551h1v1h-1zM704 551h4v1h-4zM709 551h3v1h-3zM715 551h1v1h-1zM718 551h2v1h-2zM721 551h1v1h-1zM723 551h2v1h-2zM737 551h1v1h-1zM739 551h3v1h-3zM746 551h1v1h-1zM750 551h1v1h-1zM758 551h1v1h-1zM760 551h1v1h-1zM300 552h1v1h-1zM310 552h3v1h-3zM166 553h1v1h-1zM205 553h2v1h-2zM224 553h1v1h-1zM247 553h1v1h-1zM292 553h1v1h-1zM296 553h1v1h-1zM299 553h2v1h-2zM310 553h3v1h-3zM370 553h1v1h-1zM442 553h1v1h-1zM455 553h1v1h-1zM472 553h1v1h-1zM503 553h1v1h-1zM505 553h1v1h-1zM550 553h1v1h-1zM607 553h1v1h-1zM614 553h1v1h-1zM621 553h1v1h-1zM681 553h1v1h-1zM708 553h1v1h-1zM721 553h1v1h-1zM726 553h1v1h-1zM292 554h1v1h-1zM300 554h1v1h-1zM310 554h2v1h-2zM300 555h1v1h-1zM310 555h2v1h-2zM310 556h1v1h-1zM310 557h1v1h-1zM310 558h1v1h-1zM310 559h1v1h-1zM310 560h1v1h-1zM310 561h1v1h-1z"/><path fill="#ff0000" d="M59 566h6v1h-6zM67 566h3v1h-3zM76 566h1v1h-1zM78 566h2v1h-2zM84 566h1v1h-1zM92 566h2v1h-2zM95 566h2v1h-2zM103 566h1v1h-1zM106 566h2v1h-2zM118 566h1v1h-1zM127 566h1v1h-1zM129 566h1v1h-1zM131 566h1v1h-1zM133 566h1v1h-1zM135 566h2v1h-2zM139 566h1v1h-1zM146 566h2v1h-2zM150 566h1v1h-1zM155 566h1v1h-1zM161 566h1v1h-1zM163 566h1v1h-1zM165 566h2v1h-2zM168 566h4v1h-4zM175 566h2v1h-2zM179 566h1v1h-1zM188 566h4v1h-4zM193 566h2v1h-2zM197 566h3v1h-3zM204 566h3v1h-3zM208 566h3v1h-3zM212 566h1v1h-1zM214 566h1v1h-1zM216 566h1v1h-1zM221 566h1v1h-1zM223 566h2v1h-2zM231 566h1v1h-1zM234 566h2v1h-2zM237 566h3v1h-3zM242 566h3v1h-3zM250 566h2v1h-2zM253 566h1v1h-1zM262 566h1v1h-1zM271 566h1v1h-1zM274 566h3v1h-3zM292 566h1v1h-1zM295 566h1v1h-1zM300 566h3v1h-3zM305 566h4v1h-4zM312 566h1v1h-1zM314 566h3v1h-3zM319 566h1v1h-1zM323 566h1v1h-1zM326 566h1v1h-1zM331 566h5v1h-5zM338 566h1v1h-1zM340 566h2v1h-2zM347 566h3v1h-3zM353 566h3v1h-3zM357 566h2v1h-2zM363 566h2v1h-2zM367 566h2v1h-2zM372 566h2v1h-2zM377 566h5v1h-5zM389 566h1v1h-1zM403 566h1v1h-1zM412 566h2v1h-2zM416 566h2v1h-2zM419 566h4v1h-4zM426 566h3v1h-3zM439 566h1v1h-1zM442 566h2v1h-2zM447 566h1v1h-1zM453 566h3v1h-3zM460 566h2v1h-2zM465 566h5v1h-5zM472 566h1v1h-1zM476 566h1v1h-1zM478 566h4v1h-4zM486 566h1v1h-1zM489 566h6v1h-6zM504 566h4v1h-4zM511 566h3v1h-3zM517 566h1v1h-1zM522 566h1v1h-1zM536 566h1v1h-1zM539 566h3v1h-3zM544 566h2v1h-2zM547 566h1v1h-1zM549 566h2v1h-2zM559 566h4v1h-4zM566 566h1v1h-1zM569 566h1v1h-1zM573 566h1v1h-1zM579 566h1v1h-1zM581 566h3v1h-3zM589 566h5v1h-5zM598 566h5v1h-5zM604 566h1v1h-1zM614 566h1v1h-1zM616 566h1v1h-1zM624 566h1v1h-1zM627 566h1v1h-1zM629 566h2v1h-2zM637 566h2v1h-2zM643 566h3v1h-3zM647 566h2v1h-2zM651 566h1v1h-1zM653 566h1v1h-1zM667 566h6v1h-6zM688 566h1v1h-1zM691 566h1v1h-1zM693 566h1v1h-1zM698 566h2v1h-2zM706 566h1v1h-1zM713 566h7v1h-7zM723 566h2v1h-2zM729 566h1v1h-1zM731 566h7v1h-7zM748 566h1v1h-1zM750 566h1v1h-1zM752 566h2v1h-2zM755 566h8v1h-8zM766 566h1v1h-1zM85 568h1v1h-1zM89 568h1v1h-1zM114 568h1v1h-1zM198 568h1v1h-1zM220 568h1v1h-1zM239 568h2v1h-2zM264 568h1v1h-1zM270 568h1v1h-1zM370 568h1v1h-1zM418 568h1v1h-1zM488 568h1v1h-1zM492 568h1v1h-1zM545 568h1v1h-1zM554 568h1v1h-1zM654 568h1v1h-1zM657 568h1v1h-1zM699 568h1v1h-1zM708 568h1v1h-1zM745 568h1v1h-1zM747 568h1v1h-1zM758 568h1v1h-1zM418 569h1v1h-1z"/><path fill="#0000ff" d="M54 581h1v1h-1zM60 581h6v1h-6zM76 581h1v1h-1zM79 581h3v1h-3zM84 581h2v1h-2zM89 581h1v1h-1zM91 581h1v1h-1zM98 581h1v1h-1zM101 581h1v1h-1zM106 581h1v1h-1zM115 581h1v1h-1zM117 581h1v1h-1zM121 581h4v1h-4zM130 581h2v1h-2zM143 581h1v1h-1zM146 581h3v1h-3zM150 581h1v1h-1zM156 581h4v1h-4zM165 581h1v1h-1zM167 581h1v1h-1zM170 581h5v1h-5zM178 581h1v1h-1zM180 581h1v1h-1zM186 581h1v1h-1zM190 581h3v1h-3zM201 581h1v1h-1zM205 581h1v1h-1zM207 581h1v1h-1zM210 581h2v1h-2zM214 581h5v1h-5zM226 581h2v1h-2zM235 581h1v1h-1zM238 581h3v1h-3zM243 581h1v1h-1zM245 581h1v1h-1zM256 581h1v1h-1zM261 581h1v1h-1zM266 581h2v1h-2zM269 581h1v1h-1zM272 581h1v1h-1zM276 581h2v1h-2zM281 581h5v1h-5zM287 581h1v1h-1zM290 581h1v1h-1zM295 581h5v1h-5zM303 581h1v1h-1zM305 581h1v1h-1zM311 581h4v1h-4zM316 581h2v1h-2zM319 581h1v1h-1zM321 581h1v1h-1zM334 581h2v1h-2zM338 581h1v1h-1zM343 581h1v1h-1zM354 581h1v1h-1zM356 581h1v1h-1zM359 581h1v1h-1zM365 581h3v1h-3zM372 581h1v1h-1zM380 581h1v1h-1zM403 581h1v1h-1zM405 581h1v1h-1zM407 581h2v1h-2zM416 581h2v1h-2zM423 581h2v1h-2zM431 581h1v1h-1zM442 581h2v1h-2zM445 581h1v1h-1zM447 581h3v1h-3zM452 581h1v1h-1zM455 581h1v1h-1zM460 581h1v1h-1zM475 581h3v1h-3zM482 581h1v1h-1zM488 581h1v1h-1zM494 581h1v1h-1zM504 581h4v1h-4zM516 581h2v1h-2zM519 581h1v1h-1zM521 581h1v1h-1zM535 581h3v1h-3zM540 581h1v1h-1zM546 581h1v1h-1zM550 581h3v1h-3zM555 581h1v1h-1zM557 581h1v1h-1zM560 581h1v1h-1zM581 581h1v1h-1zM588 581h2v1h-2zM592 581h1v1h-1zM594 581h1v1h-1zM596 581h3v1h-3zM602 581h4v1h-4zM607 581h1v1h-1zM609 581h6v1h-6zM629 581h4v1h-4zM635 581h3v1h-3zM639 581h3v1h-3zM643 581h1v1h-1zM645 581h2v1h-2zM655 581h2v1h-2zM658 581h5v1h-5zM668 581h2v1h-2zM671 581h2v1h-2zM675 581h2v1h-2zM680 581h6v1h-6zM687 581h1v1h-1zM692 581h1v1h-1zM694 581h3v1h-3zM700 581h1v1h-1zM703 581h2v1h-2zM706 581h1v1h-1zM710 581h1v1h-1zM712 581h2v1h-2zM728 581h5v1h-5zM738 581h3v1h-3zM744 581h2v1h-2zM747 581h4v1h-4zM755 581h1v1h-1zM758 581h2v1h-2zM764 581h2v1h-2zM768 581h2v1h-2zM124 583h1v1h-1zM151 583h1v1h-1zM166 583h1v1h-1zM179 583h1v1h-1zM186 583h1v1h-1zM199 583h1v1h-1zM216 583h1v1h-1zM267 583h1v1h-1zM304 583h1v1h-1zM309 583h1v1h-1zM322 583h1v1h-1zM392 583h1v1h-1zM395 583h1v1h-1zM424 583h1v1h-1zM443 583h1v1h-1zM476 583h1v1h-1zM499 583h1v1h-1zM528 583h1v1h-1zM530 583h2v1h-2zM543 583h1v1h-1zM562 583h1v1h-1zM569 583h1v1h-1zM577 583h1v1h-1zM636 583h1v1h-1zM647 583h1v1h-1zM702 583h1v1h-1zM724 583h1v1h-1zM746 583h1v1h-1zM750 583h1v1h-1zM753 583h1v1h-1zM216 584h1v1h-1zM322 584h1v1h-1zM443 584h1v1h-1zM577 584h1v1h-1zM746 584h1v1h-1z"/><path fill="#006400" d="M54 596h2v1h-2zM64 596h1v1h-1zM68 596h1v1h-1zM78 596h1v1h-1zM86 596h2v1h-2zM92 596h1v1h-1zM94 596h6v1h-6zM104 596h2v1h-2zM117 596h1v1h-1zM151 596h2v1h-2zM156 596h1v1h-1zM168 596h1v1h-1zM172 596h2v1h-2zM189 596h3v1h-3zM194 596h1v1h-1zM196 596h1v1h-1zM198 596h3v1h-3zM203 596h3v1h-3zM208 596h1v1h-1zM212 596h1v1h-1zM216 596h2v1h-2zM223 596h1v1h-1zM227 596h1v1h-1zM230 596h2v1h-2zM233 596h2v1h-2zM241 596h1v1h-1zM264 596h1v1h-1zM267 596h2v1h-2zM275 596h1v1h-1zM282 596h2v1h-2zM288 596h2v1h-2zM296 596h2v1h-2zM315 596h2v1h-2zM331 596h6v1h-6zM359 596h2v1h-2zM363 596h1v1h-1zM365 596h2v1h-2zM373 596h3v1h-3zM381 596h1v1h-1zM388 596h1v1h-1zM394 596h3v1h-3zM399 596h1v1h-1zM401 596h2v1h-2zM411 596h2v1h-2zM414 596h3v1h-3zM426 596h1v1h-1zM428 596h1v1h-1zM430 596h1v1h-1zM437 596h1v1h-1zM441 596h2v1h-2zM446 596h2v1h-2zM460 596h1v1h-1zM464 596h1v1h-1zM481 596h2v1h-2zM486 596h2v1h-2zM496 596h6v1h-6zM504 596h2v1h-2zM511 596h2v1h-2zM515 596h1v1h-1zM537 596h4v1h-4zM543 596h8v1h-8zM554 596h1v1h-1zM562 596h1v1h-1zM565 596h2v1h-2zM570 596h2v1h-2zM589 596h3v1h-3zM593 596h1v1h-1zM601 596h3v1h-3zM605 596h2v1h-2zM627 596h2v1h-2zM632 596h2v1h-2zM639 596h1v1h-1zM643 596h1v1h-1zM647 596h1v1h-1zM655 596h1v1h-1zM657 596h1v1h-1zM659 596h1v1h-1zM666 596h3v1h-3zM672 596h2v1h-2zM676 596h1v1h-1zM688 596h1v1h-1zM693 596h1v1h-1zM697 596h2v1h-2zM700 596h1v1h-1zM704 596h2v1h-2zM721 596h2v1h-2zM724 596h3v1h-3zM729 596h1v1h-1zM738 596h3v1h-3zM759 596h2v1h-2zM764 596h2v1h-2zM767 596h2v1h-2zM122 598h1v1h-1zM135 598h1v1h-1zM141 598h1v1h-1zM258 598h1v1h-1zM342 598h1v1h-1zM351 598h1v1h-1zM461 598h1v1h-1zM497 598h1v1h-1zM518 598h1v1h-1zM584 598h1v1h-1zM587 598h1v1h-1zM653 598h1v1h-1z"/><path fill="#000000" d="M51 611h3v1h-3zM57 611h4v1h-4zM64 611h3v1h-3zM70 611h4v1h-4zM78 611h3v1h-3zM83 611h2v1h-2zM86 611h2v1h-2zM89 611h1v1h-1zM91 611h2v1h-2zM94 611h1v1h-1zM96 611h1v1h-1zM98 611h2v1h-2zM102 611h1v1h-1zM106 611h1v1h-1zM108 611h1v1h-1zM110 611h2v1h-2zM113 611h4v1h-4zM119 611h1v1h-1zM122 611h7v1h-7zM130 611h1v1h-1zM134 611h2v1h-2zM138 611h5v1h-5zM149 611h3v1h-3zM154 611h1v1h-1zM157 611h1v1h-1zM166 611h2v1h-2zM169 611h2v1h-2zM176 611h1v1h-1zM178 611h1v1h-1zM180 611h1v1h-1zM182 611h2v1h-2zM189 611h3v1h-3zM193 611h1v1h-1zM201 611h1v1h-1zM209 611h1v1h-1zM212 611h1v1h-1zM215 611h2v1h-2zM218 611h1v1h-1zM221 611h2v1h-2zM227 611h2v1h-2zM230 611h2v1h-2zM233 611h2v1h-2zM236 611h2v1h-2zM240 611h3v1h-3zM246 611h4v1h-4zM252 611h2v1h-2zM263 611h3v1h-3zM279 611h2v1h-2zM288 611h2v1h-2zM292 611h1v1h-1zM299 611h1v1h-1zM302 611h1v1h-1zM307 611h4v1h-4zM320 611h1v1h-1zM323 611h7v1h-7zM332 611h1v1h-1zM336 611h2v1h-2zM339 611h2v1h-2zM343 611h1v1h-1zM345 611h1v1h-1zM349 611h1v1h-1zM352 611h1v1h-1zM355 611h1v1h-1zM361 611h2v1h-2zM365 611h3v1h-3zM369 611h1v1h-1zM371 611h1v1h-1zM373 611h3v1h-3zM381 611h1v1h-1zM383 611h1v1h-1zM386 611h6v1h-6zM394 611h2v1h-2zM399 611h4v1h-4zM405 611h1v1h-1zM410 611h2v1h-2zM413 611h1v1h-1zM415 611h1v1h-1zM419 611h1v1h-1zM421 611h2v1h-2zM426 611h1v1h-1zM433 611h1v1h-1zM442 611h1v1h-1zM446 611h2v1h-2zM449 611h1v1h-1zM451 611h6v1h-6zM458 611h4v1h-4zM468 611h1v1h-1zM471 611h1v1h-1zM475 611h1v1h-1zM480 611h5v1h-5zM486 611h2v1h-2zM490 611h2v1h-2zM496 611h1v1h-1zM499 611h3v1h-3zM504 611h1v1h-1zM506 611h3v1h-3zM512 611h2v1h-2zM516 611h1v1h-1zM518 611h1v1h-1zM522 611h1v1h-1zM526 611h2v1h-2zM529 611h5v1h-5zM536 611h1v1h-1zM541 611h2v1h-2zM545 611h1v1h-1zM549 611h1v1h-1zM552 611h4v1h-4zM559 611h1v1h-1zM562 611h2v1h-2zM565 611h1v1h-1zM568 611h1v1h-1zM571 611h1v1h-1zM575 611h2v1h-2zM578 611h1v1h-1zM581 611h1v1h-1zM583 611h2v1h-2zM588 611h2v1h-2zM592 611h1v1h-1zM598 611h1v1h-1zM602 611h1v1h-1zM605 611h3v1h-3zM609 611h1v1h-1zM612 611h2v1h-2zM616 611h2v1h-2zM621 611h2v1h-2zM625 611h2v1h-2zM629 611h1v1h-1zM635 611h1v1h-1zM642 611h4v1h-4zM648 611h2v1h-2zM654 611h1v1h-1zM656 611h2v1h-2zM659 611h2v1h-2zM663 611h1v1h-1zM665 611h1v1h-1zM669 611h1v1h-1zM675 611h3v1h-3zM679 611h2v1h-2zM688 611h2v1h-2zM697 611h3v1h-3zM701 611h4v1h-4zM706 611h1v1h-1zM709 611h4v1h-4zM724 611h4v1h-4zM733 611h1v1h-1zM737 611h1v1h-1zM741 611h1v1h-1zM743 611h1v1h-1zM747 611h1v1h-1zM751 611h1v1h-1zM758 611h1v1h-1zM765 611h2v1h-2zM123 613h1v1h-1zM125 613h1v1h-1zM172 613h1v1h-1zM214 613h1v1h-1zM281 613h1v1h-1zM286 613h1v1h-1zM300 613h1v1h-1zM307 613h1v1h-1zM309 613h1v1h-1zM313 613h1v1h-1zM319 613h1v1h-1zM333 613h1v1h-1zM366 613h1v1h-1zM383 613h1v1h-1zM396 613h1v1h-1zM440 613h1v1h-1zM453 613h1v1h-1zM468 613h1v1h-1zM511 613h1v1h-1zM548 613h1v1h-1zM638 613h1v1h-1zM645 613h1v1h-1zM693 613h1v1h-1zM701 613h1v1h-1zM125 614h1v1h-1zM307 614h1v1h-1zM366 614h1v1h-1z"/><path fill="#ff0000" d="M53 626h1v1h-1zM56 626h1v1h-1zM64 626h3v1h-3zM69 626h1v1h-1zM73 626h1v1h-1zM75 626h3v1h-3zM82 626h1v1h-1zM84 626h3v1h-3zM90 626h1v1h-1zM95 626h2v1h-2zM98 626h1v1h-1zM101 626h1v1h-1zM104 626h2v1h-2zM108 626h1v1h-1zM112 626h1v1h-1zM114 626h1v1h-1zM118 626h4v1h-4zM127 626h3v1h-3zM132 626h5v1h-5zM142 626h1v1h-1zM145 626h2v1h-2zM151 626h5v1h-5zM157 626h4v1h-4zM163 626h3v1h-3zM167 626h1v1h-1zM173 626h1v1h-1zM178 626h1v1h-1zM180 626h1v1h-1zM183 626h2v1h-2zM189 626h1v1h-1zM193 626h1v1h-1zM206 626h1v1h-1zM211 626h2v1h-2zM215 626h2v1h-2zM218 626h5v1h-5zM224 626h6v1h-6zM232 626h2v1h-2zM236 626h2v1h-2zM239 626h1v1h-1zM241 626h1v1h-1zM243 626h1v1h-1zM245 626h1v1h-1zM250 626h2v1h-2zM256 626h1v1h-1zM258 626h1v1h-1zM262 626h2v1h-2zM265 626h3v1h-3zM273 626h1v1h-1zM275 626h5v1h-5zM282 626h2v1h-2zM285 626h2v1h-2zM288 626h2v1h-2zM296 626h1v1h-1zM301 626h2v1h-2zM305 626h2v1h-2zM308 626h6v1h-6zM324 626h3v1h-3zM328 626h1v1h-1zM330 626h2v1h-2zM334 626h2v1h-2zM337 626h1v1h-1zM341 626h1v1h-1zM345 626h1v1h-1zM349 626h1v1h-1zM352 626h1v1h-1zM362 626h2v1h-2zM368 626h5v1h-5zM375 626h1v1h-1zM380 626h4v1h-4zM386 626h1v1h-1zM389 626h1v1h-1zM394 626h8v1h-8zM406 626h1v1h-1zM408 626h1v1h-1zM410 626h1v1h-1zM414 626h1v1h-1zM417 626h1v1h-1zM419 626h1v1h-1zM424 626h1v1h-1zM426 626h2v1h-2zM430 626h1v1h-1zM432 626h3v1h-3zM445 626h1v1h-1zM451 626h1v1h-1zM457 626h4v1h-4zM466 626h2v1h-2zM469 626h2v1h-2zM474 626h1v1h-1zM476 626h1v1h-1zM481 626h1v1h-1zM485 626h1v1h-1zM490 626h4v1h-4zM497 626h3v1h-3zM502 626h4v1h-4zM507 626h3v1h-3zM511 626h1v1h-1zM514 626h1v1h-1zM521 626h1v1h-1zM526 626h1v1h-1zM532 626h6v1h-6zM543 626h2v1h-2zM551 626h2v1h-2zM555 626h1v1h-1zM558 626h1v1h-1zM561 626h4v1h-4zM566 626h2v1h-2zM571 626h1v1h-1zM573 626h1v1h-1zM577 626h2v1h-2zM584 626h1v1h-1zM586 626h1v1h-1zM589 626h2v1h-2zM592 626h1v1h-1zM594 626h2v1h-2zM599 626h2v1h-2zM602 626h2v1h-2zM605 626h3v1h-3zM609 626h1v1h-1zM613 626h4v1h-4zM618 626h2v1h-2zM621 626h3v1h-3zM626 626h1v1h-1zM628 626h1v1h-1zM632 626h3v1h-3zM638 626h2v1h-2zM641 626h1v1h-1zM643 626h1v1h-1zM646 626h2v1h-2zM652 626h2v1h-2zM659 626h2v1h-2zM664 626h2v1h-2zM669 626h1v1h-1zM673 626h1v1h-1zM676 626h5v1h-5zM685 626h3v1h-3zM689 626h1v1h-1zM692 626h2v1h-2zM697 626h1v1h-1zM700 626h1v1h-1zM702 626h1v1h-1zM707 626h1v1h-1zM714 626h1v1h-1zM716 626h4v1h-4zM722 626h1v1h-1zM727 626h1v1h-1zM733 626h1v1h-1zM742 626h1v1h-1zM745 626h1v1h-1zM748 626h1v1h-1zM750 626h1v1h-1zM752 626h2v1h-2zM755 626h2v1h-2zM760 626h2v1h-2zM763 626h1v1h-1zM765 626h1v1h-1zM561 627h2v1h-2zM76 628h1v1h-1zM90 628h1v1h-1zM108 628h1v1h-1zM152 628h1v1h-1zM192 628h1v1h-1zM237 628h1v1h-1zM269 628h1v1h-1zM304 628h1v1h-1zM393 628h1v1h-1zM419 628h1v1h-1zM429 628h1v1h-1zM467 628h1v1h-1zM492 628h1v1h-1zM496 628h1v1h-1zM515 628h1v1h-1zM556 628h1v1h-1zM561 628h2v1h-2zM568 628h1v1h-1zM571 628h1v1h-1zM639 628h1v1h-1zM709 628h1v1h-1zM750 628h1v1h-1zM108 629h1v1h-1zM304 629h1v1h-1zM556 629h1v1h-1zM562 629h1v1h-1zM571 629h1v1h-1zM562 630h1v1h-1z"/><path fill="#0000ff" d="M52 641h1v1h-1zM62 641h1v1h-1zM65 641h1v1h-1zM68 641h2v1h-2zM72 641h1v1h-1zM79 641h2v1h-2zM84 641h3v1h-3zM88 641h2v1h-2zM94 641h2v1h-2zM100 641h2v1h-2zM109 641h1v1h-1zM111 641h1v1h-1zM119 641h2v1h-2zM125 641h1v1h-1zM132 641h1v1h-1zM138 641h1v1h-1zM145 641h1v1h-1zM148 641h2v1h-2zM162 641h1v1h-1zM167 641h3v1h-3zM176 641h1v1h-1zM190 641h1v1h-1zM194 641h3v1h-3zM199 641h1v1h-1zM207 641h3v1h-3zM213 641h1v1h-1zM215 641h1v1h-1zM217 641h1v1h-1zM222 641h2v1h-2zM229 641h3v1h-3zM237 641h2v1h-2zM245 641h5v1h-5zM269 641h1v1h-1zM278 641h5v1h-5zM284 641h1v1h-1zM291 641h2v1h-2zM313 641h2v1h-2zM317 641h1v1h-1zM321 641h2v1h-2zM328 641h1v1h-1zM333 641h1v1h-1zM335 641h3v1h-3zM341 641h2v1h-2zM348 641h2v1h-2zM351 641h2v1h-2zM354 641h1v1h-1zM371 641h1v1h-1zM374 641h1v1h-1zM388 641h3v1h-3zM393 641h1v1h-1zM395 641h1v1h-1zM405 641h2v1h-2zM437 641h1v1h-1zM439 641h4v1h-4zM447 641h9v1h-9zM460 641h1v1h-1zM469 641h6v1h-6zM478 641h3v1h-3zM485 641h2v1h-2zM494 641h4v1h-4zM501 641h2v1h-2zM504 641h1v1h-1zM510 641h2v1h-2zM515 641h1v1h-1zM520 641h4v1h-4zM526 641h1v1h-1zM532 641h1v1h-1zM539 641h5v1h-5zM548 641h2v1h-2zM553 641h1v1h-1zM557 641h3v1h-3zM564 641h1v1h-1zM566 641h1v1h-1zM575 641h4v1h-4zM580 641h3v1h-3zM593 641h4v1h-4zM599 641h1v1h-1zM603 641h1v1h-1zM607 641h2v1h-2zM611 641h2v1h-2zM615 641h3v1h-3zM625 641h3v1h-3zM631 641h1v1h-1zM636 641h2v1h-2zM643 641h2v1h-2zM646 641h4v1h-4zM651 641h2v1h-2zM656 641h2v1h-2zM668 641h4v1h-4zM677 641h1v1h-1zM681 641h2v1h-2zM684 641h3v1h-3zM695 641h4v1h-4zM700 641h1v1h-1zM706 641h1v1h-1zM710 641h1v1h-1zM719 641h3v1h-3zM724 641h6v1h-6zM739 641h1v1h-1zM744 641h2v1h-2zM747 641h2v1h-2zM751 641h1v1h-1zM754 641h2v1h-2zM759 641h1v1h-1zM121 643h1v1h-1zM138 643h1v1h-1zM187 643h1v1h-1zM208 643h1v1h-1zM214 643h1v1h-1zM218 643h1v1h-1zM262 643h1v1h-1zM282 643h1v1h-1zM288 643h1v1h-1zM360 643h1v1h-1zM379 643h1v1h-1zM382 643h2v1h-2zM407 643h1v1h-1zM451 643h1v1h-1zM474 643h1v1h-1zM482 643h1v1h-1zM515 643h1v1h-1zM543 643h1v1h-1zM613 643h1v1h-1zM623 643h1v1h-1zM646 643h1v1h-1zM703 643h1v1h-1zM706 643h1v1h-1zM710 643h1v1h-1zM746 643h1v1h-1zM282 644h1v1h-1zM383 644h1v1h-1zM407 644h1v1h-1z"/><path fill="#006400" d="M66 656h1v1h-1zM70 656h3v1h-3zM74 656h1v1h-1zM83 656h1v1h-1zM90 656h2v1h-2zM97 656h2v1h-2zM108 656h1v1h-1zM117 656h1v1h-1zM120 656h1v1h-1zM133 656h2v1h-2zM137 656h2v1h-2zM152 656h2v1h-2zM158 656h1v1h-1zM161 656h2v1h-2zM169 656h1v1h-1zM178 656h2v1h-2zM192 656h1v1h-1zM196 656h5v1h-5zM209 656h2v1h-2zM215 656h1v1h-1zM217 656h2v1h-2zM220 656h4v1h-4zM237 656h3v1h-3zM247 656h2v1h-2zM254 656h1v1h-1zM257 656h2v1h-2zM262 656h2v1h-2zM269 656h1v1h-1zM271 656h1v1h-1zM273 656h4v1h-4zM282 656h5v1h-5zM288 656h3v1h-3zM293 656h1v1h-1zM297 656h3v1h-3zM317 656h2v1h-2zM323 656h2v1h-2zM338 656h1v1h-1zM341 656h2v1h-2zM347 656h1v1h-1zM357 656h1v1h-1zM359 656h1v1h-1zM368 656h2v1h-2zM373 656h2v1h-2zM376 656h2v1h-2zM387 656h7v1h-7zM395 656h4v1h-4zM400 656h5v1h-5zM415 656h1v1h-1zM419 656h3v1h-3zM428 656h1v1h-1zM434 656h1v1h-1zM436 656h2v1h-2zM439 656h1v1h-1zM441 656h2v1h-2zM446 656h1v1h-1zM449 656h1v1h-1zM455 656h4v1h-4zM463 656h5v1h-5zM470 656h2v1h-2zM474 656h3v1h-3zM483 656h6v1h-6zM490 656h1v1h-1zM494 656h1v1h-1zM499 656h2v1h-2zM513 656h1v1h-1zM529 656h2v1h-2zM538 656h3v1h-3zM550 656h1v1h-1zM554 656h1v1h-1zM556 656h2v1h-2zM562 656h4v1h-4zM569 656h2v1h-2zM577 656h2v1h-2zM583 656h1v1h-1zM587 656h2v1h-2zM593 656h1v1h-1zM596 656h2v1h-2zM600 656h2v1h-2zM603 656h1v1h-1zM608 656h4v1h-4zM618 656h1v1h-1zM622 656h4v1h-4zM627 656h1v1h-1zM629 656h4v1h-4zM634 656h2v1h-2zM638 656h4v1h-4zM644 656h2v1h-2zM647 656h1v1h-1zM650 656h1v1h-1zM652 656h3v1h-3zM657 656h1v1h-1zM663 656h1v1h-1zM667 656h1v1h-1zM669 656h6v1h-6zM680 656h2v1h-2zM684 656h1v1h-1zM686 656h2v1h-2zM694 656h1v1h-1zM697 656h1v1h-1zM700 656h1v1h-1zM708 656h3v1h-3zM714 656h2v1h-2zM717 656h3v1h-3zM721 656h1v1h-1zM729 656h2v1h-2zM733 656h1v1h-1zM736 656h2v1h-2zM739 656h1v1h-1zM742 656h2v1h-2zM746 656h2v1h-2zM754 656h1v1h-1zM756 656h2v1h-2zM759 656h1v1h-1zM767 656h2v1h-2zM117 658h1v1h-1zM122 658h1v1h-1zM208 658h1v1h-1zM253 658h1v1h-1zM263 658h1v1h-1zM307 658h1v1h-1zM359 658h1v1h-1zM364 658h1v1h-1zM423 658h2v1h-2zM447 658h1v1h-1zM489 658h1v1h-1zM506 658h1v1h-1zM510 658h1v1h-1zM543 658h1v1h-1zM553 658h1v1h-1zM599 658h1v1h-1zM607 658h1v1h-1zM613 658h1v1h-1zM679 658h1v1h-1zM695 658h1v1h-1zM710 658h1v1h-1zM253 659h1v1h-1z"/><path fill="#000000" d="M60 671h1v1h-1zM62 671h4v1h-4zM67 671h1v1h-1zM69 671h2v1h-2zM72 671h2v1h-2zM77 671h1v1h-1zM83 671h1v1h-1zM88 671h1v1h-1zM99 671h3v1h-3zM108 671h2v1h-2zM113 671h1v1h-1zM118 671h1v1h-1zM120 671h3v1h-3zM130 671h1v1h-1zM139 671h2v1h-2zM143 671h1v1h-1zM146 671h1v1h-1zM157 671h1v1h-1zM161 671h1v1h-1zM182 671h1v1h-1zM190 671h3v1h-3zM200 671h1v1h-1zM202 671h1v1h-1zM205 671h2v1h-2zM208 671h1v1h-1zM214 671h5v1h-5zM221 671h2v1h-2zM224 671h8v1h-8zM233 671h1v1h-1zM236 671h2v1h-2zM239 671h1v1h-1zM242 671h2v1h-2zM245 671h1v1h-1zM247 671h1v1h-1zM250 671h2v1h-2zM269 671h2v1h-2zM275 671h1v1h-1zM288 671h1v1h-1zM291 671h1v1h-1zM294 671h5v1h-5zM303 671h1v1h-1zM309 671h2v1h-2zM312 671h2v1h-2zM315 671h5v1h-5zM324 671h1v1h-1zM326 671h1v1h-1zM328 671h1v1h-1zM335 671h2v1h-2zM343 671h2v1h-2zM348 671h3v1h-3zM354 671h7v1h-7zM362 671h4v1h-4zM367 671h1v1h-1zM369 671h1v1h-1zM371 671h1v1h-1zM373 671h1v1h-1zM378 671h3v1h-3zM384 671h1v1h-1zM392 671h1v1h-1zM397 671h2v1h-2zM400 671h5v1h-5zM411 671h4v1h-4zM420 671h1v1h-1zM426 671h3v1h-3zM432 671h4v1h-4zM439 671h2v1h-2zM450 671h2v1h-2zM454 671h1v1h-1zM461 671h1v1h-1zM468 671h2v1h-2zM478 671h1v1h-1zM482 671h2v1h-2zM485 671h1v1h-1zM489 671h2v1h-2zM494 671h1v1h-1zM497 671h2v1h-2zM501 671h6v1h-6zM508 671h2v1h-2zM518 671h3v1h-3zM525 671h4v1h-4zM530 671h2v1h-2zM542 671h2v1h-2zM547 671h1v1h-1zM550 671h1v1h-1zM555 671h4v1h-4zM571 671h1v1h-1zM575 671h3v1h-3zM580 671h3v1h-3zM587 671h1v1h-1zM591 671h1v1h-1zM593 671h2v1h-2zM596 671h1v1h-1zM601 671h4v1h-4zM609 671h1v1h-1zM611 671h3v1h-3zM622 671h3v1h-3zM627 671h2v1h-2zM639 671h1v1h-1zM646 671h5v1h-5zM652 671h1v1h-1zM655 671h1v1h-1zM660 671h2v1h-2zM663 671h1v1h-1zM666 671h2v1h-2zM669 671h2v1h-2zM673 671h2v1h-2zM676 671h2v1h-2zM682 671h2v1h-2zM689 671h2v1h-2zM692 671h2v1h-2zM695 671h2v1h-2zM698 671h2v1h-2zM702 671h1v1h-1zM704 671h1v1h-1zM715 671h2v1h-2zM718 671h3v1h-3zM725 671h1v1h-1zM727 671h2v1h-2zM733 671h1v1h-1zM735 671h2v1h-2zM742 671h1v1h-1zM744 671h1v1h-1zM746 671h1v1h-1zM752 671h1v1h-1zM767 671h2v1h-2zM53 673h1v1h-1zM65 673h2v1h-2zM84 673h2v1h-2zM129 673h1v1h-1zM203 673h1v1h-1zM216 673h1v1h-1zM279 673h1v1h-1zM311 673h1v1h-1zM357 673h1v1h-1zM364 673h1v1h-1zM389 673h1v1h-1zM428 673h1v1h-1zM458 673h1v1h-1zM493 673h1v1h-1zM540 673h1v1h-1zM685 673h1v1h-1zM696 673h1v1h-1zM700 673h1v1h-1zM65 674h1v1h-1zM84 674h1v1h-1zM311 674h1v1h-1z"/><path fill="#ff0000" d="M52 686h1v1h-1zM57 686h2v1h-2zM67 686h1v1h-1zM82 686h1v1h-1zM84 686h1v1h-1zM90 686h2v1h-2zM95 686h1v1h-1zM103 686h2v1h-2zM106 686h1v1h-1zM108 686h1v1h-1zM110 686h2v1h-2zM113 686h1v1h-1zM120 686h2v1h-2zM124 686h1v1h-1zM127 686h2v1h-2zM130 686h5v1h-5zM139 686h1v1h-1zM141 686h3v1h-3zM153 686h6v1h-6zM161 686h1v1h-1zM170 686h1v1h-1zM178 686h2v1h-2zM184 686h3v1h-3zM189 686h3v1h-3zM207 686h1v1h-1zM215 686h1v1h-1zM220 686h1v1h-1zM222 686h4v1h-4zM232 686h1v1h-1zM234 686h1v1h-1zM238 686h1v1h-1zM250 686h1v1h-1zM257 686h5v1h-5zM265 686h1v1h-1zM277 686h1v1h-1zM281 686h2v1h-2zM285 686h2v1h-2zM297 686h2v1h-2zM307 686h3v1h-3zM312 686h2v1h-2zM315 686h3v1h-3zM320 686h3v1h-3zM330 686h3v1h-3zM339 686h3v1h-3zM345 686h1v1h-1zM349 686h1v1h-1zM355 686h3v1h-3zM361 686h2v1h-2zM365 686h1v1h-1zM369 686h5v1h-5zM375 686h2v1h-2zM382 686h1v1h-1zM389 686h3v1h-3zM395 686h1v1h-1zM399 686h1v1h-1zM401 686h1v1h-1zM403 686h3v1h-3zM410 686h2v1h-2zM420 686h1v1h-1zM422 686h1v1h-1zM427 686h2v1h-2zM430 686h1v1h-1zM434 686h3v1h-3zM438 686h1v1h-1zM440 686h1v1h-1zM442 686h1v1h-1zM445 686h1v1h-1zM453 686h1v1h-1zM456 686h1v1h-1zM458 686h1v1h-1zM464 686h1v1h-1zM471 686h3v1h-3zM478 686h2v1h-2zM482 686h1v1h-1zM486 686h1v1h-1zM500 686h2v1h-2zM505 686h3v1h-3zM514 686h1v1h-1zM516 686h2v1h-2zM519 686h3v1h-3zM524 686h1v1h-1zM531 686h1v1h-1zM533 686h2v1h-2zM539 686h2v1h-2zM543 686h4v1h-4zM548 686h1v1h-1zM550 686h1v1h-1zM557 686h2v1h-2zM565 686h3v1h-3zM571 686h2v1h-2zM579 686h1v1h-1zM586 686h1v1h-1zM593 686h1v1h-1zM601 686h5v1h-5zM607 686h4v1h-4zM613 686h2v1h-2zM628 686h2v1h-2zM635 686h2v1h-2zM646 686h2v1h-2zM654 686h1v1h-1zM656 686h1v1h-1zM662 686h1v1h-1zM675 686h6v1h-6zM682 686h1v1h-1zM690 686h1v1h-1zM696 686h9v1h-9zM708 686h1v1h-1zM710 686h3v1h-3zM715 686h5v1h-5zM721 686h3v1h-3zM726 686h2v1h-2zM733 686h1v1h-1zM735 686h1v1h-1zM738 686h2v1h-2zM743 686h4v1h-4zM759 686h3v1h-3zM764 686h1v1h-1zM766 686h4v1h-4zM60 688h1v1h-1zM79 688h1v1h-1zM94 688h2v1h-2zM101 688h2v1h-2zM137 688h1v1h-1zM188 688h1v1h-1zM221 688h3v1h-3zM282 688h1v1h-1zM376 688h1v1h-1zM402 688h2v1h-2zM429 688h1v1h-1zM467 688h1v1h-1zM525 688h1v1h-1zM569 688h1v1h-1zM612 688h1v1h-1zM620 688h1v1h-1zM630 688h1v1h-1zM692 688h1v1h-1zM79 689h1v1h-1zM525 689h1v1h-1z"/><path fill="#0000ff" d="M53 701h7v1h-7zM63 701h3v1h-3zM68 701h1v1h-1zM71 701h2v1h-2zM75 701h3v1h-3zM83 701h4v1h-4zM88 701h1v1h-1zM91 701h1v1h-1zM93 701h1v1h-1zM95 701h1v1h-1zM98 701h2v1h-2zM101 701h2v1h-2zM107 701h5v1h-5zM116 701h1v1h-1zM118 701h2v1h-2zM121 701h1v1h-1zM123 701h1v1h-1zM125 701h2v1h-2zM132 701h3v1h-3zM137 701h1v1h-1zM140 701h1v1h-1zM142 701h2v1h-2zM150 701h2v1h-2zM153 701h1v1h-1zM157 701h1v1h-1zM160 701h1v1h-1zM164 701h1v1h-1zM168 701h1v1h-1zM173 701h2v1h-2zM185 701h8v1h-8zM197 701h3v1h-3zM208 701h1v1h-1zM213 701h2v1h-2zM216 701h5v1h-5zM229 701h2v1h-2zM232 701h1v1h-1zM238 701h1v1h-1zM240 701h3v1h-3zM244 701h1v1h-1zM249 701h1v1h-1zM251 701h2v1h-2zM260 701h1v1h-1zM264 701h2v1h-2zM269 701h2v1h-2zM272 701h4v1h-4zM282 701h2v1h-2zM286 701h1v1h-1zM294 701h1v1h-1zM299 701h1v1h-1zM302 701h2v1h-2zM320 701h1v1h-1zM323 701h1v1h-1zM326 701h3v1h-3zM331 701h1v1h-1zM333 701h2v1h-2zM342 701h5v1h-5zM353 701h5v1h-5zM365 701h2v1h-2zM373 701h3v1h-3zM377 701h2v1h-2zM380 701h3v1h-3zM389 701h1v1h-1zM402 701h1v1h-1zM404 701h1v1h-1zM411 701h1v1h-1zM420 701h3v1h-3zM426 701h2v1h-2zM431 701h1v1h-1zM435 701h1v1h-1zM439 701h2v1h-2zM444 701h1v1h-1zM446 701h1v1h-1zM449 701h2v1h-2zM452 701h1v1h-1zM462 701h1v1h-1zM468 701h1v1h-1zM471 701h1v1h-1zM476 701h1v1h-1zM478 701h6v1h-6zM487 701h1v1h-1zM492 701h3v1h-3zM498 701h2v1h-2zM503 701h3v1h-3zM510 701h1v1h-1zM517 701h1v1h-1zM519 701h2v1h-2zM522 701h2v1h-2zM528 701h1v1h-1zM532 701h5v1h-5zM540 701h1v1h-1zM546 701h2v1h-2zM551 701h2v1h-2zM555 701h1v1h-1zM560 701h11v1h-11zM575 701h3v1h-3zM581 701h1v1h-1zM583 701h1v1h-1zM585 701h1v1h-1zM590 701h3v1h-3zM600 701h8v1h-8zM611 701h2v1h-2zM614 701h3v1h-3zM620 701h1v1h-1zM623 701h3v1h-3zM627 701h2v1h-2zM636 701h2v1h-2zM642 701h1v1h-1zM651 701h6v1h-6zM670 701h3v1h-3zM675 701h2v1h-2zM680 701h1v1h-1zM686 701h1v1h-1zM698 701h1v1h-1zM701 701h1v1h-1zM703 701h1v1h-1zM707 701h2v1h-2zM710 701h1v1h-1zM720 701h1v1h-1zM722 701h3v1h-3zM727 701h4v1h-4zM732 701h1v1h-1zM734 701h1v1h-1zM737 701h2v1h-2zM741 701h9v1h-9zM751 701h1v1h-1zM753 701h4v1h-4zM758 701h3v1h-3zM766 701h2v1h-2zM82 703h1v1h-1zM87 703h1v1h-1zM109 703h1v1h-1zM134 703h1v1h-1zM136 703h1v1h-1zM180 703h1v1h-1zM237 703h1v1h-1zM247 703h1v1h-1zM277 703h1v1h-1zM326 703h1v1h-1zM331 703h1v1h-1zM347 703h1v1h-1zM385 703h1v1h-1zM411 703h1v1h-1zM451 703h1v1h-1zM468 703h2v1h-2zM487 703h1v1h-1zM523 703h1v1h-1zM542 703h1v1h-1zM566 703h1v1h-1zM579 703h1v1h-1zM622 703h1v1h-1zM638 703h1v1h-1zM668 703h1v1h-1zM673 703h1v1h-1zM675 703h1v1h-1zM698 703h1v1h-1zM721 703h1v1h-1zM738 703h1v1h-1zM754 703h1v1h-1zM764 703h1v1h-1zM109 704h1v1h-1zM579 704h1v1h-1zM738 704h1v1h-1zM764 704h1v1h-1z"/><path fill="#006400" d="M52 716h1v1h-1zM56 716h2v1h-2zM64 716h2v1h-2zM69 716h3v1h-3zM74 716h2v1h-2zM80 716h3v1h-3zM84 716h3v1h-3zM88 716h1v1h-1zM93 716h2v1h-2zM96 716h1v1h-1zM98 716h1v1h-1zM107 716h1v1h-1zM109 716h3v1h-3zM116 716h1v1h-1zM118 716h1v1h-1zM125 716h1v1h-1zM127 716h2v1h-2zM130 716h3v1h-3zM138 716h4v1h-4zM144 716h1v1h-1zM152 716h2v1h-2zM168 716h2v1h-2zM173 716h2v1h-2zM182 716h6v1h-6zM197 716h1v1h-1zM200 716h1v1h-1zM210 716h2v1h-2zM215 716h2v1h-2zM221 716h2v1h-2zM229 716h3v1h-3zM234 716h2v1h-2zM237 716h2v1h-2zM240 716h1v1h-1zM242 716h1v1h-1zM247 716h1v1h-1zM252 716h1v1h-1zM255 716h3v1h-3zM259 716h2v1h-2zM265 716h3v1h-3zM270 716h1v1h-1zM279 716h6v1h-6zM289 716h2v1h-2zM292 716h2v1h-2zM297 716h1v1h-1zM299 716h3v1h-3zM306 716h4v1h-4zM312 716h1v1h-1zM317 716h1v1h-1zM321 716h1v1h-1zM324 716h3v1h-3zM328 716h2v1h-2zM335 716h2v1h-2zM344 716h1v1h-1zM359 716h6v1h-6zM366 716h1v1h-1zM373 716h1v1h-1zM388 716h2v1h-2zM391 716h5v1h-5zM403 716h3v1h-3zM409 716h1v1h-1zM413 716h1v1h-1zM420 716h3v1h-3zM427 716h1v1h-1zM429 716h2v1h-2zM435 716h6v1h-6zM442 716h1v1h-1zM448 716h1v1h-1zM452 716h3v1h-3zM458 716h2v1h-2zM462 716h1v1h-1zM468 716h1v1h-1zM471 716h1v1h-1zM479 716h1v1h-1zM481 716h1v1h-1zM489 716h2v1h-2zM494 716h2v1h-2zM504 716h1v1h-1zM509 716h7v1h-7zM518 716h1v1h-1zM529 716h1v1h-1zM533 716h1v1h-1zM546 716h3v1h-3zM551 716h2v1h-2zM558 716h3v1h-3zM563 716h3v1h-3zM572 716h1v1h-1zM575 716h1v1h-1zM577 716h1v1h-1zM580 716h8v1h-8zM595 716h1v1h-1zM598 716h4v1h-4zM606 716h3v1h-3zM620 716h3v1h-3zM629 716h2v1h-2zM633 716h12v1h-12zM647 716h1v1h-1zM651 716h6v1h-6zM658 716h2v1h-2zM668 716h1v1h-1zM670 716h2v1h-2zM676 716h6v1h-6zM684 716h5v1h-5zM690 716h2v1h-2zM694 716h2v1h-2zM697 716h2v1h-2zM700 716h1v1h-1zM709 716h6v1h-6zM716 716h1v1h-1zM718 716h1v1h-1zM724 716h1v1h-1zM726 716h6v1h-6zM735 716h2v1h-2zM738 716h3v1h-3zM748 716h1v1h-1zM750 716h1v1h-1zM754 716h1v1h-1zM763 716h1v1h-1zM81 718h1v1h-1zM85 718h1v1h-1zM91 718h1v1h-1zM96 718h1v1h-1zM132 718h1v1h-1zM134 718h1v1h-1zM200 718h1v1h-1zM205 718h1v1h-1zM315 718h1v1h-1zM417 718h1v1h-1zM420 718h1v1h-1zM454 718h1v1h-1zM471 718h1v1h-1zM507 718h1v1h-1zM598 718h1v1h-1zM605 718h1v1h-1zM628 718h1v1h-1zM635 718h1v1h-1zM656 718h1v1h-1zM665 718h1v1h-1zM719 718h1v1h-1zM737 718h1v1h-1zM754 718h1v1h-1zM85 719h1v1h-1z"/><path fill="#000000" d="M52 731h3v1h-3zM56 731h1v1h-1zM59 731h1v1h-1zM61 731h1v1h-1zM63 731h1v1h-1zM65 731h1v1h-1zM68 731h1v1h-1zM75 731h1v1h-1zM80 731h2v1h-2zM83 731h1v1h-1zM85 731h2v1h-2zM90 731h3v1h-3zM94 731h3v1h-3zM99 731h3v1h-3zM103 731h2v1h-2zM106 731h2v1h-2zM111 731h1v1h-1zM114 731h2v1h-2zM118 731h1v1h-1zM120 731h2v1h-2zM125 731h3v1h-3zM130 731h2v1h-2zM135 731h1v1h-1zM137 731h2v1h-2zM143 731h1v1h-1zM145 731h1v1h-1zM148 731h4v1h-4zM156 731h1v1h-1zM158 731h3v1h-3zM162 731h1v1h-1zM164 731h1v1h-1zM168 731h7v1h-7zM176 731h2v1h-2zM179 731h2v1h-2zM184 731h1v1h-1zM190 731h2v1h-2zM194 731h1v1h-1zM198 731h1v1h-1zM206 731h1v1h-1zM210 731h3v1h-3zM214 731h2v1h-2zM217 731h1v1h-1zM219 731h1v1h-1zM224 731h5v1h-5zM233 731h4v1h-4zM239 731h2v1h-2zM242 731h3v1h-3zM247 731h8v1h-8zM258 731h3v1h-3zM262 731h1v1h-1zM268 731h1v1h-1zM272 731h1v1h-1zM276 731h4v1h-4zM281 731h1v1h-1zM283 731h2v1h-2zM290 731h1v1h-1zM293 731h1v1h-1zM297 731h1v1h-1zM299 731h6v1h-6zM306 731h2v1h-2zM309 731h4v1h-4zM315 731h3v1h-3zM319 731h1v1h-1zM321 731h2v1h-2zM325 731h3v1h-3zM330 731h3v1h-3zM335 731h2v1h-2zM339 731h6v1h-6zM347 731h1v1h-1zM352 731h3v1h-3zM356 731h2v1h-2zM361 731h1v1h-1zM363 731h1v1h-1zM366 731h2v1h-2zM372 731h5v1h-5zM378 731h2v1h-2zM381 731h1v1h-1zM383 731h1v1h-1zM385 731h1v1h-1zM388 731h1v1h-1zM391 731h3v1h-3zM396 731h4v1h-4zM402 731h2v1h-2zM408 731h2v1h-2zM411 731h6v1h-6zM419 731h4v1h-4zM425 731h3v1h-3zM431 731h1v1h-1zM433 731h3v1h-3zM440 731h2v1h-2zM444 731h7v1h-7zM455 731h2v1h-2zM459 731h1v1h-1zM461 731h1v1h-1zM465 731h1v1h-1zM471 731h2v1h-2zM476 731h1v1h-1zM479 731h1v1h-1zM486 731h4v1h-4zM494 731h1v1h-1zM496 731h4v1h-4zM501 731h1v1h-1zM503 731h2v1h-2zM507 731h1v1h-1zM512 731h1v1h-1zM514 731h4v1h-4zM524 731h1v1h-1zM527 731h1v1h-1zM532 731h1v1h-1zM538 731h1v1h-1zM540 731h2v1h-2zM544 731h1v1h-1zM547 731h2v1h-2zM553 731h1v1h-1zM556 731h3v1h-3zM560 731h1v1h-1zM563 731h1v1h-1zM566 731h1v1h-1zM572 731h1v1h-1zM574 731h2v1h-2zM577 731h2v1h-2zM581 731h1v1h-1zM583 731h3v1h-3zM587 731h1v1h-1zM589 731h1v1h-1zM591 731h2v1h-2zM595 731h1v1h-1zM614 731h3v1h-3zM623 731h1v1h-1zM628 731h1v1h-1zM632 731h1v1h-1zM637 731h1v1h-1zM641 731h1v1h-1zM644 731h7v1h-7zM653 731h1v1h-1zM656 731h3v1h-3zM668 731h1v1h-1zM673 731h3v1h-3zM677 731h3v1h-3zM682 731h2v1h-2zM685 731h1v1h-1zM687 731h1v1h-1zM689 731h1v1h-1zM692 731h1v1h-1zM700 731h1v1h-1zM702 731h1v1h-1zM704 731h5v1h-5zM711 731h4v1h-4zM719 731h3v1h-3zM723 731h1v1h-1zM731 731h3v1h-3zM735 731h1v1h-1zM737 731h1v1h-1zM739 731h1v1h-1zM742 731h2v1h-2zM745 731h2v1h-2zM748 731h1v1h-1zM750 731h1v1h-1zM759 731h2v1h-2zM762 731h3v1h-3zM766 731h3v1h-3zM51 733h1v1h-1zM68 733h1v1h-1zM79 733h1v1h-1zM129 733h1v1h-1zM146 733h1v1h-1zM149 733h1v1h-1zM167 733h1v1h-1zM196 733h1v1h-1zM213 733h1v1h-1zM229 733h1v1h-1zM231 733h1v1h-1zM306 733h1v1h-1zM320 733h1v1h-1zM338 733h1v1h-1zM349 733h1v1h-1zM362 733h1v1h-1zM443 733h1v1h-1zM454 733h1v1h-1zM461 733h1v1h-1zM465 733h1v1h-1zM468 733h1v1h-1zM549 733h1v1h-1zM600 733h1v1h-1zM621 733h1v1h-1zM647 733h1v1h-1zM659 733h1v1h-1zM678 733h1v1h-1zM680 733h1v1h-1zM705 733h1v1h-1zM764 733h1v1h-1zM68 734h1v1h-1zM443 734h1v1h-1z"/><path fill="#ff0000" d="M56 746h1v1h-1zM60 746h1v1h-1zM64 746h1v1h-1zM67 746h1v1h-1zM72 746h2v1h-2zM83 746h2v1h-2zM86 746h4v1h-4zM92 746h1v1h-1zM98 746h2v1h-2zM105 746h1v1h-1zM107 746h1v1h-1zM112 746h2v1h-2zM117 746h2v1h-2zM121 746h4v1h-4zM132 746h4v1h-4zM139 746h1v1h-1zM143 746h1v1h-1zM145 746h3v1h-3zM150 746h4v1h-4zM171 746h2v1h-2zM175 746h2v1h-2zM178 746h2v1h-2zM185 746h2v1h-2zM198 746h1v1h-1zM200 746h2v1h-2zM208 746h1v1h-1zM211 746h1v1h-1zM213 746h1v1h-1zM216 746h2v1h-2zM225 746h2v1h-2zM229 746h2v1h-2zM237 746h2v1h-2zM246 746h1v1h-1zM249 746h1v1h-1zM252 746h2v1h-2zM255 746h1v1h-1zM257 746h5v1h-5zM263 746h1v1h-1zM271 746h2v1h-2zM276 746h1v1h-1zM281 746h4v1h-4zM290 746h1v1h-1zM292 746h1v1h-1zM300 746h2v1h-2zM308 746h2v1h-2zM315 746h1v1h-1zM319 746h2v1h-2zM322 746h1v1h-1zM324 746h3v1h-3zM329 746h2v1h-2zM334 746h1v1h-1zM344 746h2v1h-2zM357 746h1v1h-1zM359 746h2v1h-2zM364 746h1v1h-1zM366 746h1v1h-1zM372 746h2v1h-2zM375 746h3v1h-3zM380 746h1v1h-1zM383 746h1v1h-1zM393 746h1v1h-1zM397 746h2v1h-2zM400 746h1v1h-1zM402 746h4v1h-4zM410 746h1v1h-1zM413 746h6v1h-6zM424 746h4v1h-4zM431 746h1v1h-1zM436 746h3v1h-3zM441 746h1v1h-1zM443 746h1v1h-1zM445 746h1v1h-1zM447 746h3v1h-3zM451 746h3v1h-3zM455 746h2v1h-2zM459 746h3v1h-3zM465 746h1v1h-1zM467 746h3v1h-3zM472 746h1v1h-1zM474 746h1v1h-1zM476 746h1v1h-1zM480 746h3v1h-3zM484 746h1v1h-1zM488 746h4v1h-4zM493 746h1v1h-1zM497 746h2v1h-2zM500 746h2v1h-2zM503 746h2v1h-2zM506 746h2v1h-2zM509 746h4v1h-4zM517 746h1v1h-1zM533 746h3v1h-3zM539 746h1v1h-1zM544 746h1v1h-1zM547 746h5v1h-5zM555 746h3v1h-3zM563 746h3v1h-3zM567 746h1v1h-1zM572 746h2v1h-2zM587 746h3v1h-3zM594 746h1v1h-1zM597 746h4v1h-4zM607 746h1v1h-1zM609 746h1v1h-1zM614 746h2v1h-2zM617 746h5v1h-5zM624 746h1v1h-1zM628 746h1v1h-1zM630 746h2v1h-2zM639 746h1v1h-1zM641 746h3v1h-3zM645 746h3v1h-3zM649 746h1v1h-1zM651 746h1v1h-1zM654 746h1v1h-1zM656 746h6v1h-6zM663 746h4v1h-4zM677 746h1v1h-1zM679 746h1v1h-1zM681 746h2v1h-2zM687 746h8v1h-8zM698 746h1v1h-1zM700 746h2v1h-2zM705 746h2v1h-2zM709 746h1v1h-1zM711 746h2v1h-2zM714 746h1v1h-1zM716 746h1v1h-1zM720 746h1v1h-1zM722 746h9v1h-9zM733 746h1v1h-1zM740 746h12v1h-12zM761 746h2v1h-2zM767 746h3v1h-3zM59 748h1v1h-1zM115 748h1v1h-1zM209 748h1v1h-1zM273 748h1v1h-1zM289 748h1v1h-1zM353 748h1v1h-1zM366 748h1v1h-1zM443 748h1v1h-1zM477 748h2v1h-2zM554 748h1v1h-1zM581 748h1v1h-1zM619 748h1v1h-1zM639 748h1v1h-1zM662 748h1v1h-1zM705 748h1v1h-1zM705 749h1v1h-1z"/><path fill="#0000ff" d="M433 755h1v1h-1zM437 755h1v1h-1zM430 756h1v1h-1zM432 756h2v1h-2zM437 756h1v1h-1zM445 756h1v1h-1zM507 756h1v1h-1zM430 757h1v1h-1zM432 757h2v1h-2zM437 757h1v1h-1zM445 757h1v1h-1zM451 757h1v1h-1zM507 757h1v1h-1zM430 758h1v1h-1zM432 758h3v1h-3zM436 758h3v1h-3zM444 758h2v1h-2zM451 758h1v1h-1zM507 758h1v1h-1zM377 759h1v1h-1zM381 759h1v1h-1zM430 759h10v1h-10zM442 759h10v1h-10zM507 759h1v1h-1zM375 760h3v1h-3zM381 760h1v1h-1zM424 760h28v1h-28zM453 760h1v1h-1zM498 760h1v1h-1zM500 760h1v1h-1zM504 760h4v1h-4zM509 760h1v1h-1zM511 760h1v1h-1zM51 761h1v1h-1zM54 761h1v1h-1zM60 761h2v1h-2zM67 761h2v1h-2zM70 761h1v1h-1zM74 761h1v1h-1zM79 761h2v1h-2zM85 761h1v1h-1zM92 761h5v1h-5zM100 761h2v1h-2zM104 761h2v1h-2zM109 761h2v1h-2zM117 761h3v1h-3zM122 761h2v1h-2zM125 761h1v1h-1zM131 761h1v1h-1zM134 761h3v1h-3zM139 761h1v1h-1zM141 761h2v1h-2zM144 761h3v1h-3zM149 761h2v1h-2zM152 761h1v1h-1zM158 761h3v1h-3zM166 761h1v1h-1zM172 761h6v1h-6zM186 761h2v1h-2zM189 761h1v1h-1zM192 761h5v1h-5zM199 761h1v1h-1zM209 761h1v1h-1zM217 761h1v1h-1zM219 761h1v1h-1zM221 761h1v1h-1zM223 761h4v1h-4zM231 761h1v1h-1zM234 761h3v1h-3zM238 761h1v1h-1zM244 761h1v1h-1zM250 761h1v1h-1zM254 761h1v1h-1zM256 761h1v1h-1zM259 761h6v1h-6zM266 761h9v1h-9zM276 761h2v1h-2zM279 761h1v1h-1zM281 761h4v1h-4zM287 761h7v1h-7zM295 761h3v1h-3zM299 761h5v1h-5zM305 761h6v1h-6zM312 761h5v1h-5zM319 761h1v1h-1zM321 761h4v1h-4zM326 761h12v1h-12zM339 761h4v1h-4zM344 761h1v1h-1zM346 761h2v1h-2zM349 761h2v1h-2zM352 761h1v1h-1zM355 761h8v1h-8zM364 761h2v1h-2zM367 761h1v1h-1zM370 761h1v1h-1zM372 761h2v1h-2zM375 761h3v1h-3zM379 761h4v1h-4zM385 761h9v1h-9zM395 761h3v1h-3zM399 761h1v1h-1zM401 761h1v1h-1zM403 761h6v1h-6zM410 761h2v1h-2zM414 761h4v1h-4zM420 761h2v1h-2zM424 761h38v1h-38zM464 761h3v1h-3zM468 761h2v1h-2zM472 761h4v1h-4zM477 761h1v1h-1zM479 761h4v1h-4zM486 761h1v1h-1zM488 761h1v1h-1zM495 761h17v1h-17zM515 761h2v1h-2zM518 761h4v1h-4zM523 761h3v1h-3zM528 761h3v1h-3zM532 761h6v1h-6zM539 761h1v1h-1zM541 761h3v1h-3zM547 761h1v1h-1zM553 761h1v1h-1zM558 761h1v1h-1zM564 761h1v1h-1zM569 761h1v1h-1zM572 761h3v1h-3zM581 761h1v1h-1zM587 761h1v1h-1zM590 761h1v1h-1zM592 761h1v1h-1zM594 761h3v1h-3zM599 761h4v1h-4zM605 761h1v1h-1zM607 761h1v1h-1zM609 761h2v1h-2zM612 761h1v1h-1zM614 761h1v1h-1zM618 761h2v1h-2zM623 761h5v1h-5zM630 761h1v1h-1zM634 761h1v1h-1zM639 761h1v1h-1zM641 761h1v1h-1zM644 761h1v1h-1zM646 761h3v1h-3zM650 761h2v1h-2zM654 761h1v1h-1zM657 761h3v1h-3zM667 761h1v1h-1zM670 761h1v1h-1zM673 761h1v1h-1zM678 761h4v1h-4zM686 761h1v1h-1zM690 761h1v1h-1zM692 761h6v1h-6zM707 761h1v1h-1zM709 761h4v1h-4zM714 761h1v1h-1zM718 761h8v1h-8zM729 761h1v1h-1zM731 761h1v1h-1zM734 761h1v1h-1zM738 761h3v1h-3zM742 761h4v1h-4zM751 761h1v1h-1zM754 761h1v1h-1zM756 761h2v1h-2zM759 761h1v1h-1zM762 761h3v1h-3zM767 761h2v1h-2zM262 762h1v1h-1zM264 762h1v1h-1zM266 762h7v1h-7zM274 762h4v1h-4zM279 762h1v1h-1zM281 762h1v1h-1zM283 762h2v1h-2zM287 762h2v1h-2zM291 762h3v1h-3zM295 762h10v1h-10zM306 762h1v1h-1zM308 762h1v1h-1zM310 762h1v1h-1zM312 762h1v1h-1zM314 762h4v1h-4zM319 762h1v1h-1zM321 762h12v1h-12zM334 762h5v1h-5zM340 762h3v1h-3zM344 762h1v1h-1zM346 762h2v1h-2zM349 762h2v1h-2zM352 762h1v1h-1zM355 762h1v1h-1zM357 762h1v1h-1zM359 762h2v1h-2zM362 762h4v1h-4zM367 762h4v1h-4zM372 762h6v1h-6zM379 762h4v1h-4zM385 762h11v1h-11zM397 762h1v1h-1zM399 762h1v1h-1zM402 762h1v1h-1zM404 762h8v1h-8zM414 762h2v1h-2zM417 762h2v1h-2zM420 762h38v1h-38zM459 762h3v1h-3zM464 762h2v1h-2zM468 762h3v1h-3zM472 762h4v1h-4zM477 762h1v1h-1zM479 762h1v1h-1zM481 762h2v1h-2zM496 762h7v1h-7zM504 762h9v1h-9zM65 763h1v1h-1zM101 763h1v1h-1zM103 763h1v1h-1zM182 763h1v1h-1zM207 763h1v1h-1zM245 763h1v1h-1zM248 763h1v1h-1zM262 763h1v1h-1zM267 763h1v1h-1zM269 763h1v1h-1zM275 763h2v1h-2zM291 763h3v1h-3zM296 763h3v1h-3zM300 763h1v1h-1zM302 763h1v1h-1zM304 763h2v1h-2zM308 763h1v1h-1zM310 763h1v1h-1zM314 763h1v1h-1zM316 763h2v1h-2zM319 763h1v1h-1zM321 763h1v1h-1zM323 763h6v1h-6zM331 763h2v1h-2zM335 763h2v1h-2zM338 763h1v1h-1zM341 763h1v1h-1zM348 763h3v1h-3zM357 763h1v1h-1zM363 763h1v1h-1zM365 763h1v1h-1zM368 763h2v1h-2zM373 763h4v1h-4zM381 763h2v1h-2zM384 763h1v1h-1zM386 763h1v1h-1zM392 763h4v1h-4zM402 763h1v1h-1zM404 763h4v1h-4zM409 763h3v1h-3zM414 763h2v1h-2zM417 763h2v1h-2zM422 763h2v1h-2zM425 763h7v1h-7zM433 763h2v1h-2zM436 763h11v1h-11zM448 763h1v1h-1zM450 763h1v1h-1zM452 763h1v1h-1zM455 763h1v1h-1zM457 763h1v1h-1zM461 763h1v1h-1zM464 763h2v1h-2zM469 763h2v1h-2zM474 763h1v1h-1zM479 763h1v1h-1zM497 763h2v1h-2zM500 763h1v1h-1zM504 763h1v1h-1zM507 763h6v1h-6zM519 763h1v1h-1zM530 763h1v1h-1zM561 763h1v1h-1zM564 763h1v1h-1zM609 763h1v1h-1zM656 763h1v1h-1zM666 763h1v1h-1zM701 763h1v1h-1zM706 763h1v1h-1zM207 764h1v1h-1zM319 764h1v1h-1zM321 764h1v1h-1zM376 764h1v1h-1zM381 764h2v1h-2zM426 764h6v1h-6zM433 764h2v1h-2zM436 764h3v1h-3zM440 764h1v1h-1zM442 764h5v1h-5zM448 764h1v1h-1zM450 764h1v1h-1zM452 764h1v1h-1zM497 764h2v1h-2zM500 764h1v1h-1zM504 764h1v1h-1zM507 764h1v1h-1zM509 764h1v1h-1zM512 764h1v1h-1zM609 764h1v1h-1zM426 765h3v1h-3zM431 765h1v1h-1zM433 765h2v1h-2zM436 765h2v1h-2zM440 765h1v1h-1zM442 765h4v1h-4zM450 765h1v1h-1zM452 765h1v1h-1zM500 765h1v1h-1zM507 765h1v1h-1zM427 766h2v1h-2zM433 766h1v1h-1zM437 766h1v1h-1zM444 766h2v1h-2zM500 766h1v1h-1zM507 766h1v1h-1zM433 767h1v1h-1zM437 767h1v1h-1zM445 767h1v1h-1zM500 767h1v1h-1zM507 767h1v1h-1zM437 768h1v1h-1z"/><path fill="#006400" d="M60 776h2v1h-2zM72 776h2v1h-2zM79 776h1v1h-1zM83 776h4v1h-4zM89 776h1v1h-1zM98 776h1v1h-1zM101 776h1v1h-1zM104 776h2v1h-2zM107 776h3v1h-3zM112 776h1v1h-1zM118 776h1v1h-1zM123 776h3v1h-3zM140 776h3v1h-3zM145 776h3v1h-3zM152 776h3v1h-3zM157 776h3v1h-3zM166 776h3v1h-3zM172 776h1v1h-1zM176 776h2v1h-2zM181 776h1v1h-1zM187 776h1v1h-1zM195 776h1v1h-1zM202 776h1v1h-1zM204 776h4v1h-4zM210 776h1v1h-1zM218 776h2v1h-2zM222 776h3v1h-3zM236 776h1v1h-1zM239 776h2v1h-2zM243 776h1v1h-1zM246 776h1v1h-1zM249 776h2v1h-2zM261 776h3v1h-3zM268 776h4v1h-4zM275 776h2v1h-2zM278 776h1v1h-1zM281 776h1v1h-1zM284 776h1v1h-1zM289 776h2v1h-2zM298 776h2v1h-2zM304 776h1v1h-1zM316 776h1v1h-1zM322 776h1v1h-1zM326 776h1v1h-1zM331 776h2v1h-2zM338 776h1v1h-1zM342 776h1v1h-1zM348 776h3v1h-3zM352 776h1v1h-1zM360 776h1v1h-1zM365 776h1v1h-1zM367 776h4v1h-4zM372 776h1v1h-1zM380 776h1v1h-1zM386 776h3v1h-3zM390 776h7v1h-7zM402 776h1v1h-1zM408 776h2v1h-2zM419 776h6v1h-6zM430 776h3v1h-3zM435 776h2v1h-2zM438 776h3v1h-3zM443 776h1v1h-1zM449 776h1v1h-1zM463 776h3v1h-3zM467 776h5v1h-5zM473 776h1v1h-1zM475 776h1v1h-1zM479 776h2v1h-2zM482 776h2v1h-2zM487 776h2v1h-2zM490 776h1v1h-1zM497 776h1v1h-1zM499 776h2v1h-2zM504 776h4v1h-4zM511 776h1v1h-1zM513 776h2v1h-2zM523 776h1v1h-1zM526 776h3v1h-3zM530 776h2v1h-2zM534 776h2v1h-2zM539 776h1v1h-1zM542 776h1v1h-1zM545 776h3v1h-3zM555 776h1v1h-1zM558 776h2v1h-2zM565 776h2v1h-2zM572 776h2v1h-2zM582 776h2v1h-2zM587 776h1v1h-1zM589 776h2v1h-2zM595 776h1v1h-1zM603 776h1v1h-1zM612 776h1v1h-1zM627 776h1v1h-1zM630 776h2v1h-2zM633 776h1v1h-1zM639 776h6v1h-6zM647 776h3v1h-3zM655 776h2v1h-2zM668 776h2v1h-2zM672 776h6v1h-6zM687 776h3v1h-3zM691 776h2v1h-2zM702 776h1v1h-1zM709 776h2v1h-2zM717 776h1v1h-1zM719 776h2v1h-2zM722 776h1v1h-1zM726 776h2v1h-2zM729 776h3v1h-3zM734 776h1v1h-1zM740 776h1v1h-1zM745 776h1v1h-1zM751 776h1v1h-1zM755 776h1v1h-1zM760 776h2v1h-2zM763 776h5v1h-5zM101 778h1v1h-1zM250 778h1v1h-1zM264 778h1v1h-1zM269 778h1v1h-1zM301 778h1v1h-1zM338 778h1v1h-1zM342 778h1v1h-1zM361 778h1v1h-1zM375 778h1v1h-1zM383 778h1v1h-1zM505 778h1v1h-1zM544 778h1v1h-1zM549 778h1v1h-1zM562 778h2v1h-2zM568 778h1v1h-1zM581 778h1v1h-1zM595 778h1v1h-1zM608 778h1v1h-1zM610 778h1v1h-1zM639 778h1v1h-1zM733 778h1v1h-1zM549 779h1v1h-1zM733 779h1v1h-1z"/><path fill="#000000" d="M51 791h2v1h-2zM55 791h1v1h-1zM59 791h2v1h-2zM63 791h2v1h-2zM66 791h1v1h-1zM68 791h1v1h-1zM70 791h1v1h-1zM74 791h1v1h-1zM77 791h1v1h-1zM79 791h1v1h-1zM86 791h3v1h-3zM91 791h1v1h-1zM98 791h2v1h-2zM110 791h1v1h-1zM112 791h3v1h-3zM118 791h3v1h-3zM129 791h1v1h-1zM134 791h2v1h-2zM154 791h1v1h-1zM159 791h1v1h-1zM163 791h1v1h-1zM166 791h1v1h-1zM173 791h3v1h-3zM178 791h3v1h-3zM183 791h1v1h-1zM186 791h1v1h-1zM188 791h3v1h-3zM196 791h3v1h-3zM200 791h1v1h-1zM202 791h1v1h-1zM209 791h1v1h-1zM220 791h2v1h-2zM228 791h1v1h-1zM231 791h1v1h-1zM236 791h1v1h-1zM238 791h1v1h-1zM240 791h1v1h-1zM243 791h1v1h-1zM245 791h1v1h-1zM247 791h1v1h-1zM252 791h4v1h-4zM257 791h1v1h-1zM259 791h3v1h-3zM265 791h1v1h-1zM267 791h1v1h-1zM270 791h2v1h-2zM273 791h3v1h-3zM277 791h3v1h-3zM281 791h1v1h-1zM288 791h6v1h-6zM295 791h1v1h-1zM298 791h3v1h-3zM303 791h1v1h-1zM308 791h1v1h-1zM313 791h3v1h-3zM322 791h1v1h-1zM325 791h2v1h-2zM329 791h1v1h-1zM332 791h2v1h-2zM336 791h1v1h-1zM338 791h1v1h-1zM341 791h1v1h-1zM343 791h4v1h-4zM348 791h1v1h-1zM350 791h1v1h-1zM353 791h5v1h-5zM360 791h3v1h-3zM369 791h4v1h-4zM377 791h2v1h-2zM392 791h1v1h-1zM394 791h3v1h-3zM400 791h1v1h-1zM403 791h3v1h-3zM409 791h1v1h-1zM414 791h1v1h-1zM417 791h1v1h-1zM419 791h1v1h-1zM423 791h1v1h-1zM426 791h8v1h-8zM436 791h2v1h-2zM439 791h4v1h-4zM444 791h4v1h-4zM450 791h2v1h-2zM456 791h1v1h-1zM463 791h1v1h-1zM469 791h2v1h-2zM477 791h7v1h-7zM494 791h2v1h-2zM497 791h6v1h-6zM507 791h4v1h-4zM513 791h2v1h-2zM517 791h2v1h-2zM521 791h5v1h-5zM527 791h3v1h-3zM534 791h3v1h-3zM542 791h3v1h-3zM548 791h1v1h-1zM550 791h2v1h-2zM553 791h1v1h-1zM556 791h1v1h-1zM563 791h1v1h-1zM565 791h1v1h-1zM567 791h5v1h-5zM579 791h1v1h-1zM583 791h3v1h-3zM595 791h1v1h-1zM598 791h1v1h-1zM600 791h2v1h-2zM603 791h1v1h-1zM605 791h1v1h-1zM609 791h1v1h-1zM615 791h1v1h-1zM618 791h1v1h-1zM627 791h2v1h-2zM634 791h1v1h-1zM637 791h1v1h-1zM641 791h1v1h-1zM643 791h1v1h-1zM646 791h2v1h-2zM650 791h2v1h-2zM654 791h2v1h-2zM658 791h2v1h-2zM665 791h1v1h-1zM667 791h1v1h-1zM669 791h1v1h-1zM671 791h2v1h-2zM676 791h1v1h-1zM678 791h1v1h-1zM681 791h1v1h-1zM684 791h3v1h-3zM689 791h1v1h-1zM693 791h1v1h-1zM696 791h2v1h-2zM701 791h1v1h-1zM703 791h2v1h-2zM709 791h2v1h-2zM712 791h1v1h-1zM721 791h1v1h-1zM723 791h2v1h-2zM729 791h2v1h-2zM734 791h2v1h-2zM738 791h2v1h-2zM742 791h3v1h-3zM746 791h1v1h-1zM749 791h1v1h-1zM751 791h1v1h-1zM756 791h1v1h-1zM758 791h1v1h-1zM762 791h2v1h-2zM766 791h1v1h-1zM70 793h1v1h-1zM98 793h1v1h-1zM103 793h1v1h-1zM123 793h1v1h-1zM180 793h1v1h-1zM189 793h1v1h-1zM200 793h1v1h-1zM206 793h1v1h-1zM244 793h1v1h-1zM250 793h1v1h-1zM264 793h1v1h-1zM270 793h1v1h-1zM303 793h1v1h-1zM395 793h1v1h-1zM431 793h1v1h-1zM458 793h1v1h-1zM469 793h1v1h-1zM494 793h1v1h-1zM519 793h2v1h-2zM612 793h1v1h-1zM614 793h1v1h-1zM682 793h1v1h-1zM768 793h1v1h-1zM244 794h1v1h-1zM270 794h1v1h-1zM458 794h1v1h-1z"/><path fill="#ff0000" d="M67 806h4v1h-4zM79 806h2v1h-2zM82 806h1v1h-1zM90 806h1v1h-1zM98 806h3v1h-3zM105 806h1v1h-1zM111 806h1v1h-1zM115 806h1v1h-1zM117 806h1v1h-1zM122 806h3v1h-3zM126 806h3v1h-3zM139 806h1v1h-1zM142 806h1v1h-1zM146 806h3v1h-3zM150 806h1v1h-1zM152 806h3v1h-3zM160 806h1v1h-1zM168 806h2v1h-2zM176 806h1v1h-1zM178 806h1v1h-1zM184 806h2v1h-2zM188 806h3v1h-3zM195 806h1v1h-1zM202 806h1v1h-1zM207 806h3v1h-3zM215 806h2v1h-2zM220 806h2v1h-2zM223 806h1v1h-1zM231 806h2v1h-2zM234 806h1v1h-1zM239 806h1v1h-1zM245 806h2v1h-2zM248 806h1v1h-1zM254 806h2v1h-2zM259 806h1v1h-1zM263 806h3v1h-3zM278 806h1v1h-1zM281 806h6v1h-6zM288 806h1v1h-1zM296 806h2v1h-2zM299 806h1v1h-1zM301 806h3v1h-3zM314 806h3v1h-3zM319 806h3v1h-3zM329 806h1v1h-1zM333 806h1v1h-1zM341 806h3v1h-3zM347 806h3v1h-3zM352 806h1v1h-1zM357 806h2v1h-2zM364 806h4v1h-4zM370 806h1v1h-1zM372 806h2v1h-2zM384 806h1v1h-1zM389 806h2v1h-2zM400 806h2v1h-2zM417 806h2v1h-2zM428 806h1v1h-1zM430 806h2v1h-2zM433 806h1v1h-1zM437 806h2v1h-2zM440 806h2v1h-2zM444 806h1v1h-1zM446 806h2v1h-2zM451 806h3v1h-3zM458 806h1v1h-1zM460 806h1v1h-1zM471 806h3v1h-3zM478 806h3v1h-3zM487 806h1v1h-1zM489 806h3v1h-3zM496 806h1v1h-1zM502 806h2v1h-2zM509 806h3v1h-3zM518 806h3v1h-3zM523 806h1v1h-1zM532 806h1v1h-1zM535 806h2v1h-2zM542 806h1v1h-1zM547 806h1v1h-1zM551 806h2v1h-2zM560 806h1v1h-1zM563 806h1v1h-1zM565 806h1v1h-1zM567 806h3v1h-3zM573 806h3v1h-3zM580 806h1v1h-1zM591 806h1v1h-1zM593 806h1v1h-1zM595 806h6v1h-6zM602 806h1v1h-1zM604 806h1v1h-1zM608 806h4v1h-4zM617 806h1v1h-1zM622 806h1v1h-1zM624 806h1v1h-1zM627 806h1v1h-1zM630 806h4v1h-4zM635 806h1v1h-1zM637 806h1v1h-1zM640 806h1v1h-1zM647 806h3v1h-3zM656 806h2v1h-2zM662 806h2v1h-2zM668 806h1v1h-1zM675 806h7v1h-7zM685 806h1v1h-1zM689 806h1v1h-1zM699 806h2v1h-2zM703 806h1v1h-1zM705 806h3v1h-3zM712 806h3v1h-3zM716 806h2v1h-2zM719 806h1v1h-1zM730 806h1v1h-1zM734 806h1v1h-1zM737 806h1v1h-1zM739 806h1v1h-1zM746 806h2v1h-2zM753 806h3v1h-3zM761 806h1v1h-1zM769 806h1v1h-1zM69 808h1v1h-1zM114 808h2v1h-2zM130 808h1v1h-1zM214 808h1v1h-1zM235 808h1v1h-1zM421 808h1v1h-1zM423 808h1v1h-1zM427 808h1v1h-1zM432 808h1v1h-1zM442 808h1v1h-1zM453 808h1v1h-1zM484 808h1v1h-1zM538 808h1v1h-1zM568 808h1v1h-1zM615 808h1v1h-1zM692 808h1v1h-1zM717 808h1v1h-1zM739 808h1v1h-1z"/><path fill="#0000ff" d="M403 731h1v1h-1zM403 732h1v1h-1zM403 733h1v1h-1zM403 734h1v1h-1zM403 735h1v1h-1zM403 736h1v1h-1zM403 737h1v1h-1zM403 738h1v1h-1zM403 739h1v1h-1zM403 740h1v1h-1zM403 741h1v1h-1zM403 742h1v1h-1zM403 743h1v1h-1zM403 744h1v1h-1zM403 745h1v1h-1zM403 746h1v1h-1zM403 747h1v1h-1zM403 748h1v1h-1zM403 749h1v1h-1zM403 750h1v1h-1zM403 751h1v1h-1zM403 752h1v1h-1zM403 753h1v1h-1zM403 754h1v1h-1zM403 755h1v1h-1zM403 756h1v1h-1zM403 757h1v1h-1zM403 758h1v1h-1zM403 759h1v1h-1zM403 760h1v1h-1zM403 761h1v1h-1zM403 762h1v1h-1zM403 763h1v1h-1zM403 764h1v1h-1zM403 765h1v1h-1zM403 766h1v1h-1zM403 767h1v1h-1zM403 768h1v1h-1zM403 769h1v1h-1zM403 770h1v1h-1zM403 771h1v1h-1zM403 772h1v1h-1zM403 773h1v1h-1zM403 774h1v1h-1zM403 775h1v1h-1zM403 776h1v1h-1zM403 777h1v1h-1zM403 778h1v1h-1zM403 779h1v1h-1zM403 780h1v1h-1zM403 781h1v1h-1zM403 782h1v1h-1zM403 783h1v1h-1zM403 784h1v1h-1zM403 785h1v1h-1zM403 786h1v1h-1zM403 787h1v1h-1zM403 788h1v1h-1zM403 789h1v1h-1zM403 790h1v1h-1zM403 791h1v1h-1zM403 792h2v1h-2zM403 793h2v1h-2zM403 794h2v1h-2zM403 795h2v1h-2zM403 796h2v1h-2zM403 797h2v1h-2zM403 798h2v1h-2zM403 799h2v1h-2zM403 800h2v1h-2zM403 801h2v1h-2zM403 802h2v1h-2zM403 803h2v1h-2zM403 804h2v1h-2zM403 805h2v1h-2zM403 806h2v1h-2zM403 807h2v1h-2zM403 808h2v1h-2zM403 809h2v1h-2zM403 810h2v1h-2zM402 811h3v1h-3zM402 812h3v1h-3zM402 813h3v1h-3zM402 814h3v1h-3zM402 815h4v1h-4zM402 816h4v1h-4zM402 817h5v1h-5zM402 818h5v1h-5zM402 819h5v1h-5zM402 820h7v1h-7zM410 820h1v1h-1zM52 821h2v1h-2zM55 821h1v1h-1zM57 821h2v1h-2zM60 821h2v1h-2zM69 821h2v1h-2zM74 821h1v1h-1zM80 821h2v1h-2zM83 821h2v1h-2zM88 821h3v1h-3zM93 821h1v1h-1zM96 821h4v1h-4zM104 821h1v1h-1zM109 821h4v1h-4zM114 821h2v1h-2zM121 821h5v1h-5zM128 821h2v1h-2zM131 821h1v1h-1zM138 821h4v1h-4zM144 821h1v1h-1zM146 821h2v1h-2zM153 821h2v1h-2zM156 821h4v1h-4zM161 821h2v1h-2zM165 821h4v1h-4zM171 821h2v1h-2zM179 821h2v1h-2zM183 821h3v1h-3zM188 821h2v1h-2zM191 821h5v1h-5zM197 821h1v1h-1zM200 821h2v1h-2zM205 821h1v1h-1zM207 821h2v1h-2zM223 821h1v1h-1zM225 821h3v1h-3zM229 821h1v1h-1zM231 821h1v1h-1zM237 821h1v1h-1zM240 821h2v1h-2zM243 821h6v1h-6zM250 821h4v1h-4zM259 821h7v1h-7zM268 821h8v1h-8zM277 821h1v1h-1zM281 821h3v1h-3zM288 821h4v1h-4zM297 821h2v1h-2zM300 821h1v1h-1zM302 821h2v1h-2zM305 821h1v1h-1zM308 821h3v1h-3zM317 821h2v1h-2zM322 821h6v1h-6zM332 821h3v1h-3zM336 821h2v1h-2zM339 821h1v1h-1zM342 821h1v1h-1zM345 821h3v1h-3zM354 821h5v1h-5zM363 821h1v1h-1zM369 821h1v1h-1zM372 821h2v1h-2zM375 821h3v1h-3zM381 821h2v1h-2zM386 821h1v1h-1zM395 821h1v1h-1zM398 821h1v1h-1zM400 821h1v1h-1zM402 821h33v1h-33zM436 821h10v1h-10zM448 821h1v1h-1zM450 821h1v1h-1zM453 821h2v1h-2zM457 821h1v1h-1zM460 821h1v1h-1zM462 821h6v1h-6zM470 821h3v1h-3zM478 821h1v1h-1zM480 821h1v1h-1zM488 821h1v1h-1zM498 821h1v1h-1zM501 821h1v1h-1zM510 821h1v1h-1zM512 821h5v1h-5zM527 821h1v1h-1zM536 821h8v1h-8zM545 821h2v1h-2zM558 821h2v1h-2zM561 821h2v1h-2zM564 821h1v1h-1zM567 821h2v1h-2zM570 821h2v1h-2zM576 821h1v1h-1zM578 821h4v1h-4zM583 821h1v1h-1zM592 821h1v1h-1zM597 821h1v1h-1zM599 821h4v1h-4zM604 821h1v1h-1zM606 821h3v1h-3zM610 821h1v1h-1zM615 821h1v1h-1zM619 821h1v1h-1zM621 821h3v1h-3zM628 821h1v1h-1zM632 821h2v1h-2zM639 821h4v1h-4zM646 821h3v1h-3zM651 821h1v1h-1zM658 821h3v1h-3zM662 821h5v1h-5zM670 821h3v1h-3zM677 821h1v1h-1zM681 821h2v1h-2zM687 821h1v1h-1zM695 821h3v1h-3zM700 821h1v1h-1zM703 821h3v1h-3zM707 821h2v1h-2zM710 821h5v1h-5zM719 821h2v1h-2zM732 821h4v1h-4zM738 821h3v1h-3zM746 821h1v1h-1zM751 821h3v1h-3zM760 821h2v1h-2zM765 821h2v1h-2zM402 822h40v1h-40zM443 822h3v1h-3zM119 823h1v1h-1zM137 823h1v1h-1zM194 823h1v1h-1zM199 823h1v1h-1zM205 823h1v1h-1zM275 823h1v1h-1zM317 823h1v1h-1zM327 823h2v1h-2zM339 823h1v1h-1zM355 823h1v1h-1zM358 823h1v1h-1zM378 823h1v1h-1zM402 823h9v1h-9zM412 823h4v1h-4zM421 823h2v1h-2zM424 823h1v1h-1zM426 823h1v1h-1zM428 823h1v1h-1zM430 823h1v1h-1zM435 823h1v1h-1zM437 823h2v1h-2zM440 823h2v1h-2zM444 823h1v1h-1zM461 823h1v1h-1zM543 823h1v1h-1zM550 823h1v1h-1zM565 823h1v1h-1zM651 823h1v1h-1zM705 823h1v1h-1zM199 824h1v1h-1zM205 824h1v1h-1zM328 824h1v1h-1zM378 824h1v1h-1zM402 824h2v1h-2zM405 824h5v1h-5zM402 825h2v1h-2zM405 825h4v1h-4zM402 826h2v1h-2zM405 826h3v1h-3zM402 827h2v1h-2zM405 827h3v1h-3zM403 828h1v1h-1zM405 828h3v1h-3zM403 829h1v1h-1zM406 829h2v1h-2zM403 830h1v1h-1zM403 831h1v1h-1z"/><path fill="#006400" d="M412 834h2v1h-2zM412 835h2v1h-2zM51 836h1v1h-1zM54 836h1v1h-1zM62 836h3v1h-3zM67 836h1v1h-1zM69 836h3v1h-3zM77 836h1v1h-1zM81 836h3v1h-3zM85 836h1v1h-1zM94 836h2v1h-2zM101 836h4v1h-4zM106 836h1v1h-1zM111 836h3v1h-3zM120 836h4v1h-4zM128 836h6v1h-6zM136 836h1v1h-1zM139 836h2v1h-2zM142 836h3v1h-3zM147 836h2v1h-2zM150 836h1v1h-1zM155 836h2v1h-2zM158 836h1v1h-1zM162 836h2v1h-2zM166 836h2v1h-2zM174 836h1v1h-1zM179 836h1v1h-1zM183 836h1v1h-1zM191 836h3v1h-3zM198 836h4v1h-4zM204 836h1v1h-1zM212 836h1v1h-1zM214 836h1v1h-1zM218 836h1v1h-1zM227 836h1v1h-1zM234 836h2v1h-2zM237 836h1v1h-1zM240 836h2v1h-2zM243 836h1v1h-1zM247 836h1v1h-1zM252 836h2v1h-2zM255 836h3v1h-3zM272 836h5v1h-5zM291 836h2v1h-2zM297 836h2v1h-2zM301 836h3v1h-3zM311 836h2v1h-2zM319 836h5v1h-5zM325 836h2v1h-2zM329 836h2v1h-2zM332 836h2v1h-2zM336 836h1v1h-1zM338 836h1v1h-1zM345 836h2v1h-2zM353 836h1v1h-1zM365 836h1v1h-1zM367 836h2v1h-2zM370 836h1v1h-1zM372 836h1v1h-1zM376 836h1v1h-1zM381 836h1v1h-1zM383 836h1v1h-1zM385 836h1v1h-1zM387 836h3v1h-3zM393 836h2v1h-2zM404 836h1v1h-1zM407 836h1v1h-1zM411 836h3v1h-3zM416 836h1v1h-1zM425 836h1v1h-1zM428 836h3v1h-3zM434 836h1v1h-1zM442 836h1v1h-1zM447 836h3v1h-3zM451 836h4v1h-4zM463 836h5v1h-5zM473 836h10v1h-10zM490 836h6v1h-6zM501 836h4v1h-4zM511 836h5v1h-5zM518 836h8v1h-8zM527 836h2v1h-2zM533 836h1v1h-1zM536 836h1v1h-1zM539 836h3v1h-3zM548 836h1v1h-1zM563 836h2v1h-2zM566 836h1v1h-1zM569 836h3v1h-3zM577 836h2v1h-2zM584 836h1v1h-1zM586 836h1v1h-1zM594 836h2v1h-2zM599 836h1v1h-1zM608 836h2v1h-2zM615 836h1v1h-1zM617 836h3v1h-3zM622 836h2v1h-2zM627 836h2v1h-2zM634 836h3v1h-3zM639 836h3v1h-3zM645 836h1v1h-1zM647 836h3v1h-3zM653 836h1v1h-1zM655 836h5v1h-5zM664 836h2v1h-2zM667 836h3v1h-3zM675 836h1v1h-1zM682 836h4v1h-4zM696 836h3v1h-3zM702 836h5v1h-5zM715 836h2v1h-2zM723 836h5v1h-5zM740 836h4v1h-4zM759 836h1v1h-1zM761 836h1v1h-1zM764 836h3v1h-3zM89 838h1v1h-1zM108 838h1v1h-1zM235 838h1v1h-1zM254 838h1v1h-1zM258 838h1v1h-1zM342 838h1v1h-1zM348 838h1v1h-1zM401 838h1v1h-1zM407 838h1v1h-1zM419 838h1v1h-1zM441 838h1v1h-1zM451 838h1v1h-1zM472 838h1v1h-1zM510 838h1v1h-1zM570 838h1v1h-1zM583 838h1v1h-1zM682 838h1v1h-1zM714 838h1v1h-1zM737 838h1v1h-1z"/><path fill="#000000" d="M51 851h2v1h-2zM56 851h1v1h-1zM59 851h2v1h-2zM63 851h2v1h-2zM66 851h1v1h-1zM80 851h2v1h-2zM83 851h2v1h-2zM91 851h2v1h-2zM94 851h1v1h-1zM99 851h2v1h-2zM102 851h2v1h-2zM105 851h1v1h-1zM107 851h1v1h-1zM109 851h1v1h-1zM111 851h1v1h-1zM123 851h3v1h-3zM127 851h4v1h-4zM135 851h3v1h-3zM141 851h1v1h-1zM143 851h2v1h-2zM147 851h2v1h-2zM152 851h1v1h-1zM157 851h1v1h-1zM160 851h2v1h-2zM163 851h1v1h-1zM166 851h6v1h-6zM173 851h1v1h-1zM180 851h1v1h-1zM182 851h2v1h-2zM186 851h1v1h-1zM188 851h1v1h-1zM196 851h2v1h-2zM201 851h2v1h-2zM207 851h2v1h-2zM212 851h2v1h-2zM217 851h2v1h-2zM221 851h3v1h-3zM225 851h1v1h-1zM228 851h3v1h-3zM232 851h2v1h-2zM237 851h1v1h-1zM240 851h1v1h-1zM242 851h1v1h-1zM251 851h3v1h-3zM255 851h2v1h-2zM260 851h1v1h-1zM262 851h2v1h-2zM265 851h2v1h-2zM270 851h2v1h-2zM275 851h4v1h-4zM282 851h1v1h-1zM287 851h5v1h-5zM293 851h1v1h-1zM295 851h1v1h-1zM297 851h1v1h-1zM300 851h1v1h-1zM302 851h3v1h-3zM308 851h1v1h-1zM310 851h1v1h-1zM312 851h7v1h-7zM320 851h1v1h-1zM324 851h2v1h-2zM327 851h6v1h-6zM335 851h1v1h-1zM337 851h1v1h-1zM342 851h1v1h-1zM344 851h3v1h-3zM350 851h1v1h-1zM353 851h1v1h-1zM362 851h1v1h-1zM365 851h1v1h-1zM368 851h3v1h-3zM372 851h1v1h-1zM374 851h1v1h-1zM379 851h1v1h-1zM381 851h3v1h-3zM385 851h1v1h-1zM387 851h1v1h-1zM389 851h1v1h-1zM392 851h1v1h-1zM398 851h2v1h-2zM402 851h1v1h-1zM404 851h1v1h-1zM406 851h2v1h-2zM410 851h6v1h-6zM419 851h1v1h-1zM428 851h1v1h-1zM431 851h2v1h-2zM435 851h1v1h-1zM437 851h1v1h-1zM439 851h3v1h-3zM444 851h5v1h-5zM450 851h6v1h-6zM461 851h1v1h-1zM464 851h5v1h-5zM470 851h2v1h-2zM474 851h1v1h-1zM481 851h1v1h-1zM490 851h1v1h-1zM492 851h1v1h-1zM495 851h4v1h-4zM501 851h1v1h-1zM504 851h2v1h-2zM509 851h2v1h-2zM513 851h6v1h-6zM522 851h1v1h-1zM525 851h1v1h-1zM528 851h2v1h-2zM531 851h3v1h-3zM537 851h1v1h-1zM543 851h3v1h-3zM549 851h3v1h-3zM553 851h3v1h-3zM557 851h1v1h-1zM561 851h1v1h-1zM563 851h1v1h-1zM565 851h1v1h-1zM571 851h1v1h-1zM578 851h1v1h-1zM588 851h2v1h-2zM598 851h4v1h-4zM604 851h1v1h-1zM609 851h2v1h-2zM612 851h4v1h-4zM617 851h3v1h-3zM621 851h2v1h-2zM627 851h1v1h-1zM631 851h4v1h-4zM636 851h2v1h-2zM642 851h1v1h-1zM650 851h2v1h-2zM654 851h1v1h-1zM657 851h3v1h-3zM661 851h2v1h-2zM667 851h2v1h-2zM671 851h3v1h-3zM677 851h1v1h-1zM683 851h1v1h-1zM688 851h2v1h-2zM691 851h3v1h-3zM696 851h1v1h-1zM699 851h2v1h-2zM704 851h1v1h-1zM706 851h2v1h-2zM710 851h2v1h-2zM717 851h1v1h-1zM719 851h3v1h-3zM723 851h1v1h-1zM725 851h3v1h-3zM729 851h4v1h-4zM736 851h1v1h-1zM738 851h3v1h-3zM745 851h1v1h-1zM748 851h1v1h-1zM751 851h4v1h-4zM759 851h1v1h-1zM763 851h4v1h-4zM768 851h2v1h-2zM90 853h1v1h-1zM95 853h1v1h-1zM100 853h2v1h-2zM181 853h1v1h-1zM214 853h1v1h-1zM290 853h1v1h-1zM320 853h1v1h-1zM380 853h1v1h-1zM409 853h1v1h-1zM432 853h1v1h-1zM457 853h1v1h-1zM478 853h1v1h-1zM547 853h1v1h-1zM640 853h1v1h-1zM659 853h1v1h-1zM682 853h1v1h-1zM685 853h1v1h-1zM714 853h1v1h-1zM763 853h1v1h-1zM768 853h1v1h-1zM380 854h1v1h-1z"/><path fill="#ff0000" d="M52 866h1v1h-1zM55 866h2v1h-2zM59 866h1v1h-1zM62 866h3v1h-3zM67 866h1v1h-1zM70 866h2v1h-2zM74 866h2v1h-2zM80 866h4v1h-4zM85 866h1v1h-1zM87 866h1v1h-1zM90 866h2v1h-2zM98 866h1v1h-1zM100 866h3v1h-3zM105 866h1v1h-1zM111 866h3v1h-3zM119 866h2v1h-2zM122 866h1v1h-1zM124 866h2v1h-2zM127 866h1v1h-1zM132 866h1v1h-1zM138 866h2v1h-2zM141 866h1v1h-1zM143 866h5v1h-5zM149 866h1v1h-1zM152 866h3v1h-3zM156 866h1v1h-1zM158 866h2v1h-2zM167 866h5v1h-5zM175 866h3v1h-3zM181 866h3v1h-3zM186 866h1v1h-1zM188 866h1v1h-1zM190 866h2v1h-2zM197 866h1v1h-1zM204 866h3v1h-3zM208 866h3v1h-3zM215 866h1v1h-1zM218 866h2v1h-2zM221 866h2v1h-2zM229 866h1v1h-1zM237 866h2v1h-2zM243 866h3v1h-3zM250 866h2v1h-2zM255 866h2v1h-2zM258 866h1v1h-1zM262 866h4v1h-4zM267 866h3v1h-3zM275 866h1v1h-1zM279 866h1v1h-1zM281 866h4v1h-4zM287 866h1v1h-1zM291 866h2v1h-2zM297 866h2v1h-2zM301 866h1v1h-1zM303 866h1v1h-1zM311 866h2v1h-2zM314 866h1v1h-1zM316 866h2v1h-2zM321 866h3v1h-3zM330 866h4v1h-4zM335 866h4v1h-4zM345 866h2v1h-2zM348 866h1v1h-1zM350 866h1v1h-1zM352 866h2v1h-2zM356 866h1v1h-1zM358 866h4v1h-4zM365 866h3v1h-3zM371 866h1v1h-1zM373 866h1v1h-1zM376 866h2v1h-2zM382 866h2v1h-2zM388 866h1v1h-1zM393 866h2v1h-2zM396 866h5v1h-5zM403 866h3v1h-3zM413 866h6v1h-6zM425 866h1v1h-1zM431 866h2v1h-2zM436 866h1v1h-1zM438 866h1v1h-1zM444 866h1v1h-1zM446 866h3v1h-3zM451 866h6v1h-6zM458 866h1v1h-1zM460 866h3v1h-3zM464 866h2v1h-2zM467 866h3v1h-3zM471 866h1v1h-1zM474 866h1v1h-1zM476 866h2v1h-2zM479 866h1v1h-1zM482 866h5v1h-5zM491 866h1v1h-1zM495 866h8v1h-8zM512 866h3v1h-3zM517 866h1v1h-1zM519 866h1v1h-1zM522 866h4v1h-4zM528 866h4v1h-4zM533 866h2v1h-2zM542 866h1v1h-1zM544 866h2v1h-2zM547 866h3v1h-3zM554 866h1v1h-1zM557 866h1v1h-1zM561 866h1v1h-1zM565 866h1v1h-1zM568 866h4v1h-4zM573 866h3v1h-3zM577 866h1v1h-1zM579 866h2v1h-2zM582 866h1v1h-1zM584 866h1v1h-1zM586 866h3v1h-3zM590 866h2v1h-2zM595 866h3v1h-3zM602 866h1v1h-1zM605 866h3v1h-3zM618 866h2v1h-2zM622 866h2v1h-2zM625 866h1v1h-1zM627 866h7v1h-7zM636 866h2v1h-2zM639 866h1v1h-1zM641 866h2v1h-2zM646 866h1v1h-1zM648 866h6v1h-6zM655 866h1v1h-1zM662 866h2v1h-2zM671 866h4v1h-4zM676 866h1v1h-1zM680 866h5v1h-5zM687 866h3v1h-3zM692 866h1v1h-1zM694 866h1v1h-1zM696 866h2v1h-2zM703 866h1v1h-1zM705 866h1v1h-1zM707 866h1v1h-1zM712 866h1v1h-1zM714 866h3v1h-3zM721 866h5v1h-5zM728 866h1v1h-1zM731 866h1v1h-1zM734 866h2v1h-2zM737 866h2v1h-2zM740 866h2v1h-2zM744 866h2v1h-2zM751 866h1v1h-1zM754 866h2v1h-2zM758 866h1v1h-1zM761 866h1v1h-1zM764 866h3v1h-3zM58 868h1v1h-1zM74 868h1v1h-1zM89 868h1v1h-1zM124 868h1v1h-1zM139 868h1v1h-1zM155 868h1v1h-1zM174 868h1v1h-1zM217 868h1v1h-1zM232 868h1v1h-1zM275 868h1v1h-1zM280 868h1v1h-1zM301 868h1v1h-1zM306 868h1v1h-1zM359 868h1v1h-1zM378 868h1v1h-1zM439 868h1v1h-1zM536 868h1v1h-1zM564 868h1v1h-1zM567 868h1v1h-1zM586 868h1v1h-1zM609 868h1v1h-1zM651 868h1v1h-1zM752 868h1v1h-1zM124 869h1v1h-1zM378 869h1v1h-1z"/><path fill="#0000ff" d="M52 881h3v1h-3zM56 881h3v1h-3zM62 881h6v1h-6zM69 881h2v1h-2zM73 881h2v1h-2zM76 881h2v1h-2zM86 881h1v1h-1zM89 881h2v1h-2zM98 881h2v1h-2zM108 881h2v1h-2zM114 881h1v1h-1zM116 881h4v1h-4zM121 881h1v1h-1zM123 881h1v1h-1zM126 881h1v1h-1zM130 881h2v1h-2zM135 881h2v1h-2zM141 881h1v1h-1zM147 881h1v1h-1zM155 881h3v1h-3zM161 881h4v1h-4zM174 881h1v1h-1zM177 881h2v1h-2zM180 881h2v1h-2zM193 881h3v1h-3zM200 881h2v1h-2zM208 881h3v1h-3zM215 881h2v1h-2zM223 881h1v1h-1zM229 881h5v1h-5zM238 881h4v1h-4zM247 881h5v1h-5zM257 881h1v1h-1zM259 881h2v1h-2zM262 881h2v1h-2zM265 881h4v1h-4zM270 881h2v1h-2zM280 881h1v1h-1zM290 881h2v1h-2zM294 881h4v1h-4zM302 881h1v1h-1zM309 881h1v1h-1zM312 881h3v1h-3zM318 881h1v1h-1zM320 881h2v1h-2zM323 881h2v1h-2zM329 881h1v1h-1zM333 881h3v1h-3zM352 881h1v1h-1zM355 881h1v1h-1zM359 881h1v1h-1zM366 881h1v1h-1zM368 881h1v1h-1zM370 881h1v1h-1zM374 881h2v1h-2zM381 881h5v1h-5zM391 881h1v1h-1zM398 881h1v1h-1zM406 881h3v1h-3zM411 881h2v1h-2zM415 881h1v1h-1zM432 881h1v1h-1zM434 881h1v1h-1zM446 881h2v1h-2zM449 881h2v1h-2zM454 881h2v1h-2zM461 881h1v1h-1zM466 881h1v1h-1zM468 881h1v1h-1zM472 881h5v1h-5zM481 881h4v1h-4zM488 881h1v1h-1zM498 881h1v1h-1zM500 881h2v1h-2zM505 881h1v1h-1zM507 881h1v1h-1zM512 881h1v1h-1zM517 881h4v1h-4zM525 881h1v1h-1zM527 881h1v1h-1zM531 881h1v1h-1zM535 881h2v1h-2zM548 881h1v1h-1zM555 881h3v1h-3zM567 881h1v1h-1zM569 881h1v1h-1zM571 881h1v1h-1zM575 881h1v1h-1zM577 881h1v1h-1zM580 881h2v1h-2zM586 881h6v1h-6zM600 881h1v1h-1zM604 881h1v1h-1zM609 881h2v1h-2zM613 881h1v1h-1zM618 881h1v1h-1zM623 881h1v1h-1zM626 881h1v1h-1zM628 881h1v1h-1zM634 881h3v1h-3zM638 881h2v1h-2zM646 881h3v1h-3zM653 881h1v1h-1zM656 881h3v1h-3zM665 881h1v1h-1zM672 881h1v1h-1zM676 881h1v1h-1zM678 881h3v1h-3zM691 881h2v1h-2zM694 881h2v1h-2zM701 881h1v1h-1zM703 881h1v1h-1zM706 881h3v1h-3zM713 881h1v1h-1zM715 881h1v1h-1zM717 881h2v1h-2zM723 881h6v1h-6zM730 881h3v1h-3zM734 881h3v1h-3zM738 881h1v1h-1zM740 881h1v1h-1zM743 881h1v1h-1zM745 881h1v1h-1zM748 881h2v1h-2zM752 881h1v1h-1zM754 881h2v1h-2zM762 881h4v1h-4zM122 883h1v1h-1zM128 883h1v1h-1zM140 883h1v1h-1zM158 883h1v1h-1zM208 883h1v1h-1zM216 883h1v1h-1zM235 883h1v1h-1zM239 883h1v1h-1zM243 883h2v1h-2zM247 883h1v1h-1zM370 883h1v1h-1zM395 883h1v1h-1zM410 883h1v1h-1zM423 883h1v1h-1zM449 883h1v1h-1zM549 883h1v1h-1zM598 883h1v1h-1zM614 883h1v1h-1zM616 883h1v1h-1zM649 883h1v1h-1zM247 884h1v1h-1zM598 884h1v1h-1z"/><path fill="#006400" d="M583 889h1v1h-1zM583 890h2v1h-2zM559 891h1v1h-1zM581 891h4v1h-4zM586 891h1v1h-1zM559 892h1v1h-1zM581 892h4v1h-4zM586 892h2v1h-2zM487 893h2v1h-2zM490 893h1v1h-1zM496 893h1v1h-1zM555 893h1v1h-1zM559 893h1v1h-1zM569 893h1v1h-1zM576 893h1v1h-1zM581 893h4v1h-4zM586 893h2v1h-2zM487 894h2v1h-2zM490 894h2v1h-2zM493 894h1v1h-1zM496 894h1v1h-1zM555 894h1v1h-1zM559 894h1v1h-1zM562 894h2v1h-2zM565 894h2v1h-2zM569 894h2v1h-2zM572 894h2v1h-2zM576 894h1v1h-1zM578 894h1v1h-1zM580 894h5v1h-5zM586 894h2v1h-2zM595 894h1v1h-1zM598 894h1v1h-1zM487 895h8v1h-8zM496 895h1v1h-1zM555 895h2v1h-2zM559 895h2v1h-2zM562 895h6v1h-6zM569 895h2v1h-2zM572 895h3v1h-3zM576 895h3v1h-3zM580 895h5v1h-5zM586 895h2v1h-2zM590 895h4v1h-4zM595 895h2v1h-2zM598 895h3v1h-3zM693 895h1v1h-1zM695 895h1v1h-1zM697 895h1v1h-1zM699 895h1v1h-1zM51 896h1v1h-1zM54 896h1v1h-1zM56 896h2v1h-2zM67 896h4v1h-4zM72 896h2v1h-2zM75 896h1v1h-1zM78 896h1v1h-1zM87 896h3v1h-3zM92 896h2v1h-2zM98 896h2v1h-2zM111 896h3v1h-3zM124 896h2v1h-2zM142 896h2v1h-2zM145 896h1v1h-1zM150 896h1v1h-1zM161 896h1v1h-1zM166 896h3v1h-3zM174 896h1v1h-1zM179 896h5v1h-5zM185 896h3v1h-3zM197 896h1v1h-1zM201 896h1v1h-1zM212 896h1v1h-1zM224 896h1v1h-1zM236 896h2v1h-2zM242 896h1v1h-1zM253 896h1v1h-1zM258 896h1v1h-1zM266 896h4v1h-4zM272 896h1v1h-1zM278 896h1v1h-1zM288 896h2v1h-2zM291 896h3v1h-3zM295 896h2v1h-2zM298 896h1v1h-1zM305 896h5v1h-5zM318 896h1v1h-1zM323 896h1v1h-1zM328 896h2v1h-2zM334 896h3v1h-3zM339 896h1v1h-1zM343 896h1v1h-1zM359 896h3v1h-3zM369 896h5v1h-5zM378 896h1v1h-1zM382 896h1v1h-1zM386 896h3v1h-3zM390 896h3v1h-3zM398 896h1v1h-1zM405 896h2v1h-2zM408 896h1v1h-1zM410 896h1v1h-1zM412 896h1v1h-1zM414 896h1v1h-1zM416 896h2v1h-2zM419 896h2v1h-2zM424 896h2v1h-2zM430 896h4v1h-4zM443 896h1v1h-1zM455 896h4v1h-4zM460 896h5v1h-5zM466 896h1v1h-1zM468 896h5v1h-5zM474 896h3v1h-3zM478 896h20v1h-20zM499 896h2v1h-2zM502 896h3v1h-3zM506 896h1v1h-1zM508 896h1v1h-1zM510 896h4v1h-4zM516 896h7v1h-7zM524 896h3v1h-3zM529 896h1v1h-1zM531 896h3v1h-3zM535 896h1v1h-1zM538 896h9v1h-9zM548 896h9v1h-9zM559 896h9v1h-9zM569 896h10v1h-10zM580 896h23v1h-23zM606 896h3v1h-3zM612 896h6v1h-6zM619 896h2v1h-2zM622 896h2v1h-2zM625 896h1v1h-1zM627 896h2v1h-2zM631 896h8v1h-8zM640 896h4v1h-4zM645 896h1v1h-1zM647 896h6v1h-6zM654 896h1v1h-1zM657 896h7v1h-7zM665 896h2v1h-2zM670 896h2v1h-2zM673 896h2v1h-2zM678 896h5v1h-5zM684 896h3v1h-3zM690 896h1v1h-1zM692 896h4v1h-4zM697 896h1v1h-1zM699 896h3v1h-3zM703 896h6v1h-6zM710 896h4v1h-4zM716 896h6v1h-6zM725 896h11v1h-11zM737 896h5v1h-5zM743 896h1v1h-1zM749 896h6v1h-6zM756 896h1v1h-1zM758 896h2v1h-2zM761 896h1v1h-1zM763 896h2v1h-2zM766 896h2v1h-2zM769 896h1v1h-1zM462 897h3v1h-3zM466 897h1v1h-1zM468 897h5v1h-5zM474 897h3v1h-3zM478 897h20v1h-20zM499 897h8v1h-8zM508 897h1v1h-1zM510 897h5v1h-5zM516 897h7v1h-7zM524 897h3v1h-3zM529 897h5v1h-5zM535 897h2v1h-2zM538 897h5v1h-5zM544 897h1v1h-1zM546 897h1v1h-1zM548 897h13v1h-13zM562 897h41v1h-41zM604 897h1v1h-1zM607 897h2v1h-2zM612 897h6v1h-6zM620 897h1v1h-1zM622 897h2v1h-2zM625 897h5v1h-5zM631 897h8v1h-8zM640 897h4v1h-4zM645 897h6v1h-6zM652 897h1v1h-1zM654 897h1v1h-1zM657 897h2v1h-2zM660 897h1v1h-1zM662 897h2v1h-2zM665 897h2v1h-2zM669 897h3v1h-3zM673 897h3v1h-3zM677 897h10v1h-10zM690 897h1v1h-1zM692 897h10v1h-10zM703 897h6v1h-6zM710 897h4v1h-4zM716 897h2v1h-2zM719 897h4v1h-4zM725 897h9v1h-9zM736 897h6v1h-6zM743 897h1v1h-1zM745 897h1v1h-1zM749 897h11v1h-11zM763 897h2v1h-2zM766 897h4v1h-4zM94 898h1v1h-1zM142 898h1v1h-1zM175 898h1v1h-1zM201 898h1v1h-1zM254 898h1v1h-1zM278 898h1v1h-1zM366 898h1v1h-1zM413 898h1v1h-1zM446 898h1v1h-1zM462 898h2v1h-2zM469 898h2v1h-2zM475 898h1v1h-1zM478 898h3v1h-3zM482 898h1v1h-1zM485 898h5v1h-5zM491 898h7v1h-7zM499 898h1v1h-1zM501 898h1v1h-1zM503 898h1v1h-1zM505 898h2v1h-2zM509 898h4v1h-4zM514 898h1v1h-1zM517 898h2v1h-2zM520 898h2v1h-2zM530 898h1v1h-1zM532 898h1v1h-1zM536 898h1v1h-1zM538 898h1v1h-1zM542 898h1v1h-1zM551 898h1v1h-1zM553 898h7v1h-7zM563 898h1v1h-1zM565 898h12v1h-12zM578 898h8v1h-8zM587 898h5v1h-5zM593 898h3v1h-3zM599 898h2v1h-2zM604 898h1v1h-1zM608 898h1v1h-1zM612 898h1v1h-1zM617 898h1v1h-1zM625 898h2v1h-2zM628 898h2v1h-2zM634 898h1v1h-1zM636 898h1v1h-1zM645 898h2v1h-2zM648 898h3v1h-3zM652 898h1v1h-1zM657 898h1v1h-1zM660 898h1v1h-1zM662 898h1v1h-1zM669 898h1v1h-1zM673 898h1v1h-1zM675 898h1v1h-1zM677 898h1v1h-1zM679 898h2v1h-2zM683 898h1v1h-1zM692 898h2v1h-2zM695 898h4v1h-4zM700 898h1v1h-1zM703 898h1v1h-1zM706 898h2v1h-2zM713 898h1v1h-1zM719 898h1v1h-1zM722 898h1v1h-1zM725 898h1v1h-1zM730 898h1v1h-1zM732 898h1v1h-1zM736 898h1v1h-1zM745 898h1v1h-1zM751 898h1v1h-1zM753 898h1v1h-1zM755 898h1v1h-1zM757 898h1v1h-1zM759 898h2v1h-2zM768 898h1v1h-1zM446 899h1v1h-1zM486 899h2v1h-2zM489 899h1v1h-1zM491 899h1v1h-1zM493 899h1v1h-1zM495 899h1v1h-1zM497 899h1v1h-1zM499 899h1v1h-1zM555 899h3v1h-3zM559 899h1v1h-1zM563 899h1v1h-1zM565 899h3v1h-3zM569 899h8v1h-8zM578 899h8v1h-8zM587 899h1v1h-1zM589 899h1v1h-1zM593 899h3v1h-3zM692 899h1v1h-1zM696 899h3v1h-3zM725 899h1v1h-1zM486 900h2v1h-2zM489 900h1v1h-1zM491 900h1v1h-1zM497 900h1v1h-1zM555 900h1v1h-1zM559 900h1v1h-1zM565 900h2v1h-2zM572 900h2v1h-2zM575 900h1v1h-1zM578 900h8v1h-8zM587 900h1v1h-1zM555 901h1v1h-1zM559 901h1v1h-1zM580 901h6v1h-6zM587 901h1v1h-1zM580 902h6v1h-6zM587 902h1v1h-1zM580 903h5v1h-5zM587 903h1v1h-1zM580 904h1v1h-1zM584 904h1v1h-1zM587 904h1v1h-1zM584 905h1v1h-1zM584 906h1v1h-1z"/><path fill="#000000" d="M53 911h3v1h-3zM58 911h4v1h-4zM63 911h1v1h-1zM65 911h1v1h-1zM69 911h2v1h-2zM75 911h1v1h-1zM78 911h1v1h-1zM82 911h1v1h-1zM84 911h2v1h-2zM88 911h2v1h-2zM96 911h2v1h-2zM99 911h1v1h-1zM105 911h1v1h-1zM108 911h1v1h-1zM110 911h1v1h-1zM112 911h3v1h-3zM116 911h3v1h-3zM121 911h4v1h-4zM126 911h2v1h-2zM129 911h2v1h-2zM132 911h1v1h-1zM135 911h1v1h-1zM140 911h1v1h-1zM142 911h5v1h-5zM149 911h1v1h-1zM152 911h1v1h-1zM157 911h1v1h-1zM159 911h1v1h-1zM163 911h2v1h-2zM179 911h3v1h-3zM186 911h4v1h-4zM191 911h5v1h-5zM200 911h1v1h-1zM208 911h1v1h-1zM212 911h2v1h-2zM215 911h3v1h-3zM219 911h1v1h-1zM221 911h4v1h-4zM228 911h1v1h-1zM230 911h6v1h-6zM237 911h1v1h-1zM239 911h1v1h-1zM241 911h1v1h-1zM251 911h4v1h-4zM256 911h10v1h-10zM267 911h2v1h-2zM270 911h1v1h-1zM272 911h1v1h-1zM280 911h3v1h-3zM286 911h1v1h-1zM288 911h2v1h-2zM291 911h1v1h-1zM294 911h4v1h-4zM299 911h2v1h-2zM303 911h1v1h-1zM308 911h1v1h-1zM312 911h1v1h-1zM315 911h1v1h-1zM317 911h2v1h-2zM320 911h1v1h-1zM325 911h1v1h-1zM327 911h1v1h-1zM331 911h2v1h-2zM335 911h1v1h-1zM337 911h3v1h-3zM341 911h1v1h-1zM343 911h1v1h-1zM346 911h1v1h-1zM348 911h2v1h-2zM353 911h3v1h-3zM360 911h1v1h-1zM364 911h1v1h-1zM368 911h3v1h-3zM372 911h5v1h-5zM379 911h1v1h-1zM381 911h1v1h-1zM383 911h1v1h-1zM387 911h4v1h-4zM392 911h3v1h-3zM400 911h3v1h-3zM405 911h2v1h-2zM410 911h1v1h-1zM414 911h2v1h-2zM417 911h1v1h-1zM422 911h1v1h-1zM425 911h3v1h-3zM430 911h2v1h-2zM433 911h1v1h-1zM436 911h1v1h-1zM438 911h2v1h-2zM445 911h1v1h-1zM449 911h1v1h-1zM452 911h1v1h-1zM461 911h1v1h-1zM464 911h1v1h-1zM467 911h3v1h-3zM472 911h1v1h-1zM477 911h1v1h-1zM480 911h1v1h-1zM488 911h2v1h-2zM491 911h2v1h-2zM499 911h1v1h-1zM503 911h2v1h-2zM507 911h2v1h-2zM510 911h1v1h-1zM515 911h1v1h-1zM518 911h4v1h-4zM524 911h2v1h-2zM528 911h1v1h-1zM533 911h1v1h-1zM538 911h1v1h-1zM548 911h1v1h-1zM551 911h6v1h-6zM558 911h1v1h-1zM561 911h1v1h-1zM565 911h2v1h-2zM571 911h2v1h-2zM574 911h1v1h-1zM576 911h1v1h-1zM580 911h3v1h-3zM584 911h2v1h-2zM587 911h1v1h-1zM593 911h1v1h-1zM596 911h1v1h-1zM600 911h2v1h-2zM603 911h1v1h-1zM607 911h1v1h-1zM609 911h2v1h-2zM612 911h1v1h-1zM614 911h1v1h-1zM616 911h1v1h-1zM619 911h2v1h-2zM625 911h2v1h-2zM629 911h1v1h-1zM631 911h2v1h-2zM634 911h2v1h-2zM638 911h1v1h-1zM640 911h2v1h-2zM644 911h3v1h-3zM650 911h1v1h-1zM652 911h1v1h-1zM659 911h1v1h-1zM661 911h1v1h-1zM663 911h2v1h-2zM668 911h2v1h-2zM672 911h2v1h-2zM676 911h2v1h-2zM679 911h2v1h-2zM683 911h1v1h-1zM687 911h1v1h-1zM690 911h1v1h-1zM693 911h3v1h-3zM705 911h1v1h-1zM707 911h1v1h-1zM710 911h1v1h-1zM715 911h2v1h-2zM719 911h4v1h-4zM724 911h2v1h-2zM727 911h1v1h-1zM731 911h2v1h-2zM738 911h4v1h-4zM744 911h4v1h-4zM749 911h4v1h-4zM754 911h3v1h-3zM758 911h2v1h-2zM762 911h3v1h-3zM125 913h1v1h-1zM145 913h1v1h-1zM178 913h1v1h-1zM196 913h1v1h-1zM236 913h1v1h-1zM277 913h1v1h-1zM330 913h1v1h-1zM345 913h1v1h-1zM372 913h1v1h-1zM400 913h1v1h-1zM587 913h1v1h-1zM606 913h1v1h-1zM652 913h1v1h-1zM677 913h1v1h-1zM679 913h1v1h-1zM681 913h1v1h-1zM717 913h1v1h-1zM722 913h1v1h-1zM766 913h1v1h-1zM400 914h1v1h-1zM717 914h1v1h-1z"/><path fill="#ff0000" d="M675 925h2v1h-2zM52 926h1v1h-1zM55 926h1v1h-1zM58 926h1v1h-1zM61 926h1v1h-1zM70 926h4v1h-4zM78 926h1v1h-1zM81 926h1v1h-1zM84 926h1v1h-1zM86 926h1v1h-1zM89 926h1v1h-1zM93 926h2v1h-2zM99 926h2v1h-2zM110 926h1v1h-1zM116 926h1v1h-1zM118 926h1v1h-1zM128 926h5v1h-5zM150 926h2v1h-2zM153 926h1v1h-1zM156 926h1v1h-1zM158 926h1v1h-1zM166 926h1v1h-1zM169 926h1v1h-1zM173 926h1v1h-1zM179 926h2v1h-2zM198 926h2v1h-2zM208 926h1v1h-1zM214 926h1v1h-1zM221 926h3v1h-3zM231 926h1v1h-1zM234 926h1v1h-1zM241 926h6v1h-6zM249 926h2v1h-2zM253 926h3v1h-3zM257 926h7v1h-7zM269 926h1v1h-1zM291 926h5v1h-5zM301 926h1v1h-1zM320 926h1v1h-1zM326 926h5v1h-5zM332 926h6v1h-6zM345 926h2v1h-2zM351 926h1v1h-1zM353 926h4v1h-4zM362 926h1v1h-1zM372 926h2v1h-2zM383 926h2v1h-2zM386 926h3v1h-3zM392 926h1v1h-1zM398 926h1v1h-1zM400 926h4v1h-4zM405 926h2v1h-2zM413 926h1v1h-1zM418 926h1v1h-1zM420 926h3v1h-3zM425 926h1v1h-1zM430 926h7v1h-7zM438 926h2v1h-2zM447 926h1v1h-1zM451 926h2v1h-2zM458 926h2v1h-2zM465 926h1v1h-1zM467 926h1v1h-1zM471 926h2v1h-2zM478 926h2v1h-2zM483 926h3v1h-3zM491 926h2v1h-2zM494 926h1v1h-1zM500 926h2v1h-2zM511 926h2v1h-2zM519 926h1v1h-1zM530 926h3v1h-3zM535 926h3v1h-3zM540 926h2v1h-2zM543 926h1v1h-1zM547 926h2v1h-2zM552 926h1v1h-1zM555 926h1v1h-1zM560 926h3v1h-3zM566 926h2v1h-2zM572 926h6v1h-6zM580 926h1v1h-1zM590 926h2v1h-2zM607 926h5v1h-5zM615 926h1v1h-1zM619 926h5v1h-5zM630 926h1v1h-1zM636 926h1v1h-1zM642 926h4v1h-4zM650 926h3v1h-3zM656 926h2v1h-2zM666 926h1v1h-1zM670 926h1v1h-1zM675 926h3v1h-3zM679 926h1v1h-1zM688 926h1v1h-1zM690 926h1v1h-1zM694 926h1v1h-1zM701 926h1v1h-1zM703 926h2v1h-2zM706 926h1v1h-1zM713 926h3v1h-3zM720 926h1v1h-1zM725 926h1v1h-1zM733 926h1v1h-1zM739 926h2v1h-2zM746 926h1v1h-1zM751 926h2v1h-2zM754 926h1v1h-1zM756 926h2v1h-2zM763 926h1v1h-1zM766 926h1v1h-1zM675 927h1v1h-1zM92 928h2v1h-2zM117 928h1v1h-1zM122 928h1v1h-1zM153 928h1v1h-1zM179 928h1v1h-1zM193 928h1v1h-1zM255 928h1v1h-1zM308 928h1v1h-1zM356 928h1v1h-1zM389 928h1v1h-1zM402 928h1v1h-1zM522 928h1v1h-1zM542 928h1v1h-1zM619 928h1v1h-1zM639 928h1v1h-1zM665 928h1v1h-1zM675 928h1v1h-1zM700 928h1v1h-1zM723 928h1v1h-1zM730 928h1v1h-1zM747 928h1v1h-1zM751 928h1v1h-1zM92 929h1v1h-1zM308 929h1v1h-1zM665 929h1v1h-1zM675 929h1v1h-1z"/><path fill="#0000ff" d="M51 941h2v1h-2zM57 941h1v1h-1zM63 941h1v1h-1zM65 941h3v1h-3zM69 941h3v1h-3zM73 941h1v1h-1zM77 941h2v1h-2zM81 941h3v1h-3zM87 941h2v1h-2zM91 941h2v1h-2zM96 941h5v1h-5zM105 941h6v1h-6zM116 941h2v1h-2zM121 941h1v1h-1zM131 941h1v1h-1zM138 941h1v1h-1zM140 941h3v1h-3zM144 941h1v1h-1zM147 941h5v1h-5zM157 941h9v1h-9zM168 941h1v1h-1zM170 941h11v1h-11zM182 941h1v1h-1zM184 941h1v1h-1zM187 941h1v1h-1zM189 941h1v1h-1zM191 941h1v1h-1zM194 941h1v1h-1zM197 941h1v1h-1zM200 941h4v1h-4zM206 941h3v1h-3zM215 941h4v1h-4zM222 941h2v1h-2zM225 941h1v1h-1zM228 941h5v1h-5zM235 941h1v1h-1zM242 941h1v1h-1zM247 941h1v1h-1zM250 941h3v1h-3zM255 941h1v1h-1zM259 941h1v1h-1zM267 941h1v1h-1zM270 941h2v1h-2zM281 941h1v1h-1zM284 941h2v1h-2zM287 941h3v1h-3zM295 941h1v1h-1zM303 941h1v1h-1zM313 941h1v1h-1zM317 941h1v1h-1zM321 941h3v1h-3zM327 941h4v1h-4zM333 941h2v1h-2zM338 941h4v1h-4zM344 941h1v1h-1zM347 941h1v1h-1zM349 941h1v1h-1zM351 941h1v1h-1zM356 941h1v1h-1zM368 941h2v1h-2zM373 941h2v1h-2zM376 941h1v1h-1zM380 941h4v1h-4zM388 941h1v1h-1zM391 941h3v1h-3zM399 941h2v1h-2zM402 941h1v1h-1zM404 941h2v1h-2zM408 941h6v1h-6zM415 941h2v1h-2zM421 941h3v1h-3zM432 941h1v1h-1zM441 941h2v1h-2zM446 941h2v1h-2zM450 941h2v1h-2zM453 941h4v1h-4zM458 941h1v1h-1zM461 941h1v1h-1zM469 941h2v1h-2zM472 941h1v1h-1zM476 941h1v1h-1zM478 941h2v1h-2zM482 941h3v1h-3zM488 941h1v1h-1zM491 941h3v1h-3zM496 941h1v1h-1zM499 941h3v1h-3zM507 941h1v1h-1zM509 941h1v1h-1zM511 941h1v1h-1zM513 941h1v1h-1zM515 941h1v1h-1zM517 941h2v1h-2zM520 941h4v1h-4zM525 941h2v1h-2zM537 941h1v1h-1zM540 941h3v1h-3zM550 941h1v1h-1zM553 941h1v1h-1zM555 941h1v1h-1zM558 941h1v1h-1zM560 941h1v1h-1zM562 941h2v1h-2zM567 941h1v1h-1zM574 941h2v1h-2zM585 941h1v1h-1zM587 941h1v1h-1zM593 941h2v1h-2zM597 941h1v1h-1zM603 941h1v1h-1zM609 941h4v1h-4zM615 941h4v1h-4zM622 941h1v1h-1zM633 941h1v1h-1zM638 941h1v1h-1zM640 941h1v1h-1zM643 941h3v1h-3zM648 941h1v1h-1zM650 941h6v1h-6zM659 941h2v1h-2zM664 941h1v1h-1zM666 941h1v1h-1zM669 941h1v1h-1zM671 941h1v1h-1zM673 941h2v1h-2zM683 941h1v1h-1zM687 941h4v1h-4zM696 941h1v1h-1zM698 941h1v1h-1zM700 941h5v1h-5zM706 941h1v1h-1zM713 941h1v1h-1zM719 941h2v1h-2zM722 941h1v1h-1zM725 941h3v1h-3zM731 941h2v1h-2zM734 941h3v1h-3zM739 941h1v1h-1zM746 941h3v1h-3zM750 941h3v1h-3zM754 941h4v1h-4zM764 941h1v1h-1zM766 941h4v1h-4zM64 943h1v1h-1zM108 943h1v1h-1zM152 943h1v1h-1zM163 943h1v1h-1zM190 943h2v1h-2zM194 943h1v1h-1zM234 943h1v1h-1zM251 943h1v1h-1zM289 943h1v1h-1zM328 943h1v1h-1zM330 943h1v1h-1zM342 943h1v1h-1zM344 943h1v1h-1zM474 943h1v1h-1zM509 943h1v1h-1zM566 943h1v1h-1zM600 943h1v1h-1zM619 943h1v1h-1zM626 943h1v1h-1zM634 943h1v1h-1zM674 943h1v1h-1zM713 943h1v1h-1zM757 943h1v1h-1zM194 944h1v1h-1zM330 944h1v1h-1zM474 944h1v1h-1z"/><path fill="#006400" d="M52 956h2v1h-2zM55 956h1v1h-1zM61 956h1v1h-1zM66 956h2v1h-2zM69 956h2v1h-2zM79 956h1v1h-1zM82 956h6v1h-6zM102 956h1v1h-1zM105 956h1v1h-1zM110 956h4v1h-4zM117 956h3v1h-3zM136 956h4v1h-4zM141 956h1v1h-1zM145 956h1v1h-1zM160 956h1v1h-1zM165 956h1v1h-1zM168 956h1v1h-1zM170 956h1v1h-1zM172 956h1v1h-1zM180 956h1v1h-1zM185 956h1v1h-1zM198 956h1v1h-1zM203 956h1v1h-1zM216 956h1v1h-1zM221 956h4v1h-4zM227 956h3v1h-3zM232 956h2v1h-2zM236 956h4v1h-4zM253 956h1v1h-1zM255 956h2v1h-2zM267 956h3v1h-3zM271 956h1v1h-1zM278 956h2v1h-2zM285 956h5v1h-5zM297 956h2v1h-2zM302 956h2v1h-2zM315 956h1v1h-1zM317 956h1v1h-1zM322 956h1v1h-1zM327 956h3v1h-3zM331 956h1v1h-1zM344 956h3v1h-3zM356 956h1v1h-1zM364 956h1v1h-1zM371 956h1v1h-1zM374 956h1v1h-1zM377 956h1v1h-1zM382 956h2v1h-2zM389 956h2v1h-2zM410 956h1v1h-1zM419 956h1v1h-1zM424 956h1v1h-1zM432 956h2v1h-2zM438 956h2v1h-2zM445 956h1v1h-1zM451 956h2v1h-2zM460 956h2v1h-2zM465 956h3v1h-3zM469 956h1v1h-1zM476 956h1v1h-1zM479 956h2v1h-2zM482 956h1v1h-1zM486 956h4v1h-4zM494 956h1v1h-1zM496 956h2v1h-2zM500 956h4v1h-4zM507 956h1v1h-1zM510 956h3v1h-3zM525 956h3v1h-3zM538 956h1v1h-1zM543 956h1v1h-1zM549 956h2v1h-2zM565 956h5v1h-5zM572 956h1v1h-1zM585 956h1v1h-1zM588 956h3v1h-3zM600 956h2v1h-2zM609 956h5v1h-5zM620 956h2v1h-2zM623 956h1v1h-1zM630 956h1v1h-1zM640 956h2v1h-2zM648 956h2v1h-2zM654 956h3v1h-3zM660 956h2v1h-2zM666 956h2v1h-2zM669 956h2v1h-2zM678 956h1v1h-1zM680 956h4v1h-4zM694 956h2v1h-2zM697 956h5v1h-5zM704 956h6v1h-6zM715 956h1v1h-1zM717 956h4v1h-4zM727 956h2v1h-2zM746 956h1v1h-1zM752 956h1v1h-1zM755 956h2v1h-2zM762 956h3v1h-3zM144 958h1v1h-1zM209 958h1v1h-1zM215 958h1v1h-1zM225 958h1v1h-1zM228 958h1v1h-1zM242 958h1v1h-1zM348 958h1v1h-1zM364 958h1v1h-1zM440 958h1v1h-1zM490 958h1v1h-1zM505 958h1v1h-1zM527 958h1v1h-1zM532 958h1v1h-1zM547 958h1v1h-1zM602 958h1v1h-1zM617 958h1v1h-1zM708 958h1v1h-1zM765 958h1v1h-1zM547 959h1v1h-1zM708 959h1v1h-1z"/><path fill="#000000" d="M51 971h1v1h-1zM54 971h2v1h-2zM65 971h5v1h-5zM72 971h4v1h-4zM82 971h2v1h-2zM86 971h1v1h-1zM91 971h5v1h-5zM98 971h2v1h-2zM104 971h1v1h-1zM106 971h1v1h-1zM112 971h1v1h-1zM114 971h5v1h-5zM121 971h1v1h-1zM124 971h2v1h-2zM132 971h1v1h-1zM134 971h3v1h-3zM139 971h2v1h-2zM143 971h2v1h-2zM146 971h1v1h-1zM148 971h6v1h-6zM164 971h7v1h-7zM173 971h2v1h-2zM176 971h1v1h-1zM178 971h1v1h-1zM181 971h2v1h-2zM184 971h3v1h-3zM188 971h3v1h-3zM193 971h2v1h-2zM201 971h1v1h-1zM203 971h1v1h-1zM207 971h2v1h-2zM213 971h3v1h-3zM217 971h1v1h-1zM220 971h3v1h-3zM225 971h3v1h-3zM229 971h1v1h-1zM234 971h1v1h-1zM236 971h1v1h-1zM238 971h3v1h-3zM242 971h6v1h-6zM250 971h1v1h-1zM252 971h2v1h-2zM260 971h1v1h-1zM268 971h2v1h-2zM276 971h1v1h-1zM278 971h1v1h-1zM287 971h2v1h-2zM294 971h4v1h-4zM299 971h1v1h-1zM302 971h4v1h-4zM309 971h2v1h-2zM312 971h1v1h-1zM316 971h3v1h-3zM320 971h2v1h-2zM323 971h2v1h-2zM327 971h1v1h-1zM330 971h8v1h-8zM339 971h1v1h-1zM341 971h1v1h-1zM344 971h1v1h-1zM347 971h7v1h-7zM356 971h1v1h-1zM362 971h4v1h-4zM368 971h3v1h-3zM374 971h1v1h-1zM377 971h1v1h-1zM388 971h1v1h-1zM397 971h3v1h-3zM404 971h1v1h-1zM413 971h1v1h-1zM417 971h7v1h-7zM425 971h1v1h-1zM427 971h1v1h-1zM429 971h1v1h-1zM431 971h2v1h-2zM435 971h1v1h-1zM437 971h1v1h-1zM442 971h1v1h-1zM444 971h1v1h-1zM447 971h1v1h-1zM452 971h1v1h-1zM454 971h2v1h-2zM458 971h3v1h-3zM462 971h1v1h-1zM464 971h1v1h-1zM467 971h1v1h-1zM471 971h4v1h-4zM478 971h1v1h-1zM483 971h3v1h-3zM487 971h3v1h-3zM491 971h2v1h-2zM495 971h1v1h-1zM497 971h1v1h-1zM499 971h1v1h-1zM501 971h2v1h-2zM504 971h3v1h-3zM508 971h3v1h-3zM512 971h5v1h-5zM526 971h1v1h-1zM531 971h1v1h-1zM544 971h3v1h-3zM548 971h2v1h-2zM552 971h1v1h-1zM554 971h4v1h-4zM560 971h3v1h-3zM564 971h2v1h-2zM567 971h1v1h-1zM571 971h1v1h-1zM574 971h2v1h-2zM577 971h1v1h-1zM581 971h2v1h-2zM586 971h1v1h-1zM593 971h1v1h-1zM598 971h1v1h-1zM600 971h3v1h-3zM605 971h2v1h-2zM617 971h2v1h-2zM625 971h1v1h-1zM627 971h2v1h-2zM630 971h2v1h-2zM633 971h1v1h-1zM635 971h3v1h-3zM640 971h3v1h-3zM644 971h2v1h-2zM647 971h1v1h-1zM650 971h1v1h-1zM652 971h2v1h-2zM655 971h2v1h-2zM660 971h1v1h-1zM666 971h1v1h-1zM670 971h3v1h-3zM674 971h1v1h-1zM676 971h1v1h-1zM678 971h2v1h-2zM683 971h1v1h-1zM686 971h1v1h-1zM689 971h1v1h-1zM694 971h1v1h-1zM699 971h2v1h-2zM702 971h1v1h-1zM705 971h2v1h-2zM710 971h3v1h-3zM716 971h1v1h-1zM719 971h2v1h-2zM723 971h1v1h-1zM725 971h1v1h-1zM732 971h1v1h-1zM741 971h2v1h-2zM744 971h3v1h-3zM749 971h3v1h-3zM753 971h1v1h-1zM755 971h1v1h-1zM760 971h1v1h-1zM762 971h2v1h-2zM767 971h1v1h-1zM769 971h1v1h-1zM135 973h1v1h-1zM186 973h1v1h-1zM205 973h1v1h-1zM275 973h1v1h-1zM281 973h1v1h-1zM316 973h1v1h-1zM369 973h1v1h-1zM373 973h1v1h-1zM462 973h1v1h-1zM521 973h1v1h-1zM556 973h1v1h-1zM738 973h1v1h-1zM764 973h1v1h-1z"/><path fill="#ff0000" d="M51 986h3v1h-3zM55 986h4v1h-4zM60 986h1v1h-1zM62 986h4v1h-4zM68 986h6v1h-6zM79 986h1v1h-1zM82 986h1v1h-1zM86 986h2v1h-2zM90 986h4v1h-4zM99 986h2v1h-2zM105 986h1v1h-1zM108 986h1v1h-1zM110 986h2v1h-2zM113 986h3v1h-3zM117 986h1v1h-1zM119 986h1v1h-1zM122 986h2v1h-2zM130 986h3v1h-3zM134 986h3v1h-3zM139 986h2v1h-2zM142 986h3v1h-3zM147 986h2v1h-2zM150 986h1v1h-1zM152 986h1v1h-1zM158 986h1v1h-1zM161 986h2v1h-2zM165 986h8v1h-8zM176 986h1v1h-1zM178 986h2v1h-2zM181 986h1v1h-1zM185 986h1v1h-1zM192 986h1v1h-1zM195 986h1v1h-1zM201 986h5v1h-5zM208 986h1v1h-1zM210 986h4v1h-4zM215 986h2v1h-2zM224 986h1v1h-1zM227 986h2v1h-2zM232 986h1v1h-1zM238 986h1v1h-1zM254 986h1v1h-1zM258 986h2v1h-2zM265 986h1v1h-1zM267 986h2v1h-2zM272 986h2v1h-2zM281 986h3v1h-3zM285 986h1v1h-1zM287 986h3v1h-3zM292 986h2v1h-2zM295 986h2v1h-2zM304 986h1v1h-1zM306 986h1v1h-1zM313 986h1v1h-1zM323 986h1v1h-1zM325 986h2v1h-2zM330 986h1v1h-1zM334 986h1v1h-1zM336 986h3v1h-3zM343 986h1v1h-1zM347 986h2v1h-2zM351 986h2v1h-2zM355 986h3v1h-3zM362 986h1v1h-1zM364 986h1v1h-1zM366 986h1v1h-1zM368 986h1v1h-1zM371 986h1v1h-1zM376 986h2v1h-2zM383 986h3v1h-3zM389 986h3v1h-3zM397 986h1v1h-1zM403 986h3v1h-3zM409 986h1v1h-1zM411 986h1v1h-1zM415 986h2v1h-2zM419 986h2v1h-2zM422 986h2v1h-2zM425 986h2v1h-2zM428 986h1v1h-1zM432 986h1v1h-1zM437 986h1v1h-1zM445 986h2v1h-2zM448 986h3v1h-3zM453 986h1v1h-1zM458 986h6v1h-6zM469 986h4v1h-4zM476 986h1v1h-1zM487 986h1v1h-1zM489 986h1v1h-1zM496 986h3v1h-3zM502 986h1v1h-1zM511 986h1v1h-1zM513 986h1v1h-1zM517 986h1v1h-1zM523 986h1v1h-1zM525 986h4v1h-4zM534 986h1v1h-1zM537 986h3v1h-3zM541 986h4v1h-4zM547 986h5v1h-5zM554 986h1v1h-1zM559 986h4v1h-4zM565 986h1v1h-1zM574 986h1v1h-1zM576 986h1v1h-1zM583 986h1v1h-1zM595 986h1v1h-1zM599 986h1v1h-1zM610 986h3v1h-3zM615 986h2v1h-2zM629 986h2v1h-2zM632 986h1v1h-1zM638 986h2v1h-2zM642 986h6v1h-6zM649 986h2v1h-2zM653 986h2v1h-2zM658 986h1v1h-1zM660 986h1v1h-1zM667 986h3v1h-3zM678 986h1v1h-1zM680 986h2v1h-2zM683 986h2v1h-2zM688 986h2v1h-2zM693 986h1v1h-1zM706 986h1v1h-1zM708 986h1v1h-1zM717 986h3v1h-3zM724 986h3v1h-3zM731 986h2v1h-2zM734 986h3v1h-3zM740 986h1v1h-1zM745 986h2v1h-2zM752 986h3v1h-3zM759 986h1v1h-1zM761 986h2v1h-2zM766 986h1v1h-1zM64 988h1v1h-1zM125 988h1v1h-1zM176 988h1v1h-1zM182 988h1v1h-1zM196 988h1v1h-1zM206 988h1v1h-1zM284 988h1v1h-1zM314 988h1v1h-1zM355 988h1v1h-1zM367 988h1v1h-1zM392 988h1v1h-1zM439 988h1v1h-1zM444 988h1v1h-1zM467 988h1v1h-1zM539 988h1v1h-1zM541 988h1v1h-1zM590 988h1v1h-1zM596 988h1v1h-1zM610 988h1v1h-1zM677 988h1v1h-1zM746 988h1v1h-1zM766 988h1v1h-1zM768 988h1v1h-1z"/><path fill="#0000ff" d="M51 1001h1v1h-1zM56 1001h2v1h-2zM62 1001h5v1h-5zM75 1001h1v1h-1zM77 1001h3v1h-3zM85 1001h2v1h-2zM95 1001h1v1h-1zM97 1001h10v1h-10zM109 1001h1v1h-1zM112 1001h3v1h-3zM118 1001h2v1h-2zM131 1001h1v1h-1zM138 1001h1v1h-1zM146 1001h1v1h-1zM159 1001h2v1h-2zM163 1001h1v1h-1zM165 1001h1v1h-1zM167 1001h3v1h-3zM181 1001h3v1h-3zM185 1001h3v1h-3zM191 1001h2v1h-2zM198 1001h1v1h-1zM202 1001h1v1h-1zM208 1001h1v1h-1zM210 1001h4v1h-4zM233 1001h2v1h-2zM237 1001h1v1h-1zM243 1001h2v1h-2zM248 1001h2v1h-2zM251 1001h1v1h-1zM253 1001h2v1h-2zM256 1001h2v1h-2zM259 1001h5v1h-5zM266 1001h4v1h-4zM280 1001h2v1h-2zM300 1001h1v1h-1zM304 1001h1v1h-1zM306 1001h3v1h-3zM314 1001h2v1h-2zM317 1001h2v1h-2zM320 1001h1v1h-1zM322 1001h1v1h-1zM326 1001h3v1h-3zM335 1001h4v1h-4zM347 1001h1v1h-1zM361 1001h1v1h-1zM363 1001h1v1h-1zM368 1001h1v1h-1zM375 1001h3v1h-3zM379 1001h1v1h-1zM386 1001h1v1h-1zM391 1001h2v1h-2zM396 1001h3v1h-3zM400 1001h2v1h-2zM408 1001h2v1h-2zM411 1001h1v1h-1zM426 1001h1v1h-1zM432 1001h1v1h-1zM434 1001h3v1h-3zM439 1001h2v1h-2zM451 1001h2v1h-2zM457 1001h1v1h-1zM460 1001h1v1h-1zM462 1001h1v1h-1zM474 1001h2v1h-2zM486 1001h6v1h-6zM495 1001h1v1h-1zM498 1001h1v1h-1zM500 1001h4v1h-4zM513 1001h1v1h-1zM517 1001h2v1h-2zM524 1001h3v1h-3zM532 1001h2v1h-2zM537 1001h3v1h-3zM552 1001h4v1h-4zM557 1001h1v1h-1zM565 1001h1v1h-1zM568 1001h5v1h-5zM580 1001h4v1h-4zM593 1001h1v1h-1zM597 1001h1v1h-1zM602 1001h5v1h-5zM616 1001h2v1h-2zM621 1001h2v1h-2zM627 1001h1v1h-1zM629 1001h1v1h-1zM631 1001h3v1h-3zM640 1001h2v1h-2zM645 1001h2v1h-2zM654 1001h1v1h-1zM658 1001h2v1h-2zM661 1001h1v1h-1zM668 1001h1v1h-1zM673 1001h1v1h-1zM675 1001h2v1h-2zM678 1001h1v1h-1zM692 1001h3v1h-3zM696 1001h1v1h-1zM707 1001h2v1h-2zM715 1001h1v1h-1zM719 1001h9v1h-9zM739 1001h2v1h-2zM748 1001h1v1h-1zM761 1001h4v1h-4zM768 1001h2v1h-2zM143 1003h1v1h-1zM183 1003h1v1h-1zM233 1003h1v1h-1zM318 1003h1v1h-1zM362 1003h1v1h-1zM480 1003h1v1h-1zM532 1003h1v1h-1zM580 1003h1v1h-1zM604 1003h1v1h-1zM663 1003h1v1h-1zM719 1003h1v1h-1zM721 1003h1v1h-1zM143 1004h1v1h-1zM532 1004h1v1h-1z"/><path fill="#006400" d="M51 1016h1v1h-1zM55 1016h1v1h-1zM57 1016h1v1h-1zM62 1016h9v1h-9zM72 1016h6v1h-6zM91 1016h1v1h-1zM101 1016h6v1h-6zM112 1016h1v1h-1zM115 1016h1v1h-1zM123 1016h1v1h-1zM125 1016h3v1h-3zM131 1016h1v1h-1zM133 1016h2v1h-2zM138 1016h2v1h-2zM146 1016h1v1h-1zM148 1016h1v1h-1zM152 1016h5v1h-5zM160 1016h1v1h-1zM163 1016h1v1h-1zM188 1016h3v1h-3zM195 1016h2v1h-2zM200 1016h2v1h-2zM206 1016h2v1h-2zM213 1016h2v1h-2zM216 1016h2v1h-2zM220 1016h3v1h-3zM229 1016h5v1h-5zM243 1016h1v1h-1zM245 1016h1v1h-1zM249 1016h1v1h-1zM251 1016h1v1h-1zM257 1016h3v1h-3zM265 1016h3v1h-3zM270 1016h3v1h-3zM276 1016h1v1h-1zM281 1016h1v1h-1zM283 1016h2v1h-2zM292 1016h1v1h-1zM300 1016h2v1h-2zM304 1016h3v1h-3zM309 1016h2v1h-2zM312 1016h1v1h-1zM315 1016h1v1h-1zM320 1016h1v1h-1zM323 1016h1v1h-1zM329 1016h2v1h-2zM333 1016h1v1h-1zM338 1016h2v1h-2zM353 1016h3v1h-3zM358 1016h1v1h-1zM361 1016h6v1h-6zM368 1016h4v1h-4zM373 1016h1v1h-1zM376 1016h1v1h-1zM379 1016h2v1h-2zM383 1016h1v1h-1zM388 1016h2v1h-2zM393 1016h1v1h-1zM395 1016h5v1h-5zM402 1016h2v1h-2zM407 1016h1v1h-1zM412 1016h1v1h-1zM414 1016h1v1h-1zM417 1016h2v1h-2zM424 1016h1v1h-1zM433 1016h2v1h-2zM440 1016h2v1h-2zM444 1016h1v1h-1zM451 1016h1v1h-1zM454 1016h1v1h-1zM456 1016h3v1h-3zM462 1016h1v1h-1zM465 1016h1v1h-1zM468 1016h1v1h-1zM470 1016h3v1h-3zM475 1016h1v1h-1zM479 1016h1v1h-1zM484 1016h1v1h-1zM486 1016h1v1h-1zM492 1016h9v1h-9zM502 1016h2v1h-2zM506 1016h1v1h-1zM510 1016h4v1h-4zM518 1016h1v1h-1zM520 1016h1v1h-1zM531 1016h6v1h-6zM538 1016h1v1h-1zM540 1016h1v1h-1zM549 1016h4v1h-4zM566 1016h7v1h-7zM585 1016h2v1h-2zM588 1016h1v1h-1zM590 1016h2v1h-2zM596 1016h1v1h-1zM600 1016h1v1h-1zM610 1016h1v1h-1zM616 1016h1v1h-1zM620 1016h4v1h-4zM625 1016h3v1h-3zM629 1016h2v1h-2zM639 1016h4v1h-4zM648 1016h4v1h-4zM660 1016h1v1h-1zM663 1016h2v1h-2zM667 1016h1v1h-1zM672 1016h1v1h-1zM674 1016h2v1h-2zM679 1016h2v1h-2zM682 1016h1v1h-1zM687 1016h4v1h-4zM696 1016h2v1h-2zM701 1016h7v1h-7zM709 1016h4v1h-4zM714 1016h1v1h-1zM726 1016h1v1h-1zM730 1016h2v1h-2zM735 1016h3v1h-3zM741 1016h6v1h-6zM749 1016h2v1h-2zM753 1016h2v1h-2zM756 1016h1v1h-1zM758 1016h1v1h-1zM766 1016h1v1h-1zM91 1018h1v1h-1zM252 1018h1v1h-1zM286 1018h1v1h-1zM325 1018h1v1h-1zM327 1018h1v1h-1zM367 1018h1v1h-1zM437 1018h1v1h-1zM482 1018h1v1h-1zM487 1018h1v1h-1zM504 1018h1v1h-1zM511 1018h1v1h-1zM520 1018h1v1h-1zM525 1018h1v1h-1zM535 1018h1v1h-1zM543 1018h1v1h-1zM587 1018h1v1h-1zM658 1018h1v1h-1zM703 1018h1v1h-1zM367 1019h1v1h-1zM437 1019h1v1h-1zM482 1019h1v1h-1zM658 1019h1v1h-1z"/><path fill="#000000" d="M52 1031h2v1h-2zM56 1031h2v1h-2zM59 1031h2v1h-2zM64 1031h3v1h-3zM68 1031h1v1h-1zM74 1031h3v1h-3zM78 1031h1v1h-1zM80 1031h3v1h-3zM84 1031h2v1h-2zM87 1031h1v1h-1zM93 1031h1v1h-1zM96 1031h1v1h-1zM99 1031h3v1h-3zM103 1031h3v1h-3zM108 1031h4v1h-4zM113 1031h1v1h-1zM118 1031h2v1h-2zM124 1031h1v1h-1zM127 1031h2v1h-2zM132 1031h2v1h-2zM135 1031h3v1h-3zM141 1031h4v1h-4zM149 1031h1v1h-1zM152 1031h1v1h-1zM154 1031h2v1h-2zM157 1031h3v1h-3zM161 1031h3v1h-3zM169 1031h1v1h-1zM173 1031h2v1h-2zM178 1031h1v1h-1zM181 1031h2v1h-2zM184 1031h3v1h-3zM189 1031h1v1h-1zM195 1031h4v1h-4zM201 1031h2v1h-2zM204 1031h2v1h-2zM208 1031h1v1h-1zM210 1031h1v1h-1zM213 1031h3v1h-3zM220 1031h1v1h-1zM225 1031h1v1h-1zM230 1031h1v1h-1zM232 1031h2v1h-2zM236 1031h1v1h-1zM238 1031h2v1h-2zM241 1031h1v1h-1zM245 1031h2v1h-2zM249 1031h1v1h-1zM251 1031h1v1h-1zM253 1031h1v1h-1zM259 1031h2v1h-2zM263 1031h1v1h-1zM265 1031h3v1h-3zM270 1031h2v1h-2zM277 1031h1v1h-1zM279 1031h1v1h-1zM282 1031h2v1h-2zM286 1031h3v1h-3zM290 1031h1v1h-1zM295 1031h1v1h-1zM299 1031h6v1h-6zM309 1031h6v1h-6zM316 1031h1v1h-1zM320 1031h1v1h-1zM323 1031h2v1h-2zM337 1031h1v1h-1zM340 1031h2v1h-2zM344 1031h2v1h-2zM348 1031h1v1h-1zM354 1031h2v1h-2zM357 1031h1v1h-1zM362 1031h2v1h-2zM365 1031h5v1h-5zM371 1031h2v1h-2zM379 1031h5v1h-5zM386 1031h2v1h-2zM390 1031h2v1h-2zM398 1031h1v1h-1zM400 1031h1v1h-1zM402 1031h1v1h-1zM405 1031h3v1h-3zM410 1031h1v1h-1zM413 1031h5v1h-5zM419 1031h3v1h-3zM424 1031h1v1h-1zM430 1031h1v1h-1zM432 1031h2v1h-2zM435 1031h12v1h-12zM454 1031h2v1h-2zM458 1031h3v1h-3zM464 1031h1v1h-1zM468 1031h2v1h-2zM473 1031h1v1h-1zM478 1031h1v1h-1zM482 1031h1v1h-1zM485 1031h3v1h-3zM489 1031h2v1h-2zM492 1031h1v1h-1zM497 1031h2v1h-2zM515 1031h1v1h-1zM518 1031h1v1h-1zM522 1031h1v1h-1zM526 1031h1v1h-1zM529 1031h2v1h-2zM533 1031h3v1h-3zM537 1031h2v1h-2zM540 1031h1v1h-1zM542 1031h2v1h-2zM545 1031h2v1h-2zM548 1031h1v1h-1zM552 1031h1v1h-1zM554 1031h1v1h-1zM558 1031h3v1h-3zM562 1031h2v1h-2zM565 1031h2v1h-2zM572 1031h1v1h-1zM575 1031h1v1h-1zM582 1031h4v1h-4zM587 1031h7v1h-7zM596 1031h1v1h-1zM600 1031h1v1h-1zM602 1031h1v1h-1zM604 1031h1v1h-1zM607 1031h1v1h-1zM610 1031h3v1h-3zM614 1031h2v1h-2zM617 1031h1v1h-1zM624 1031h1v1h-1zM627 1031h2v1h-2zM631 1031h4v1h-4zM636 1031h2v1h-2zM639 1031h1v1h-1zM642 1031h1v1h-1zM644 1031h4v1h-4zM650 1031h1v1h-1zM652 1031h8v1h-8zM661 1031h1v1h-1zM668 1031h6v1h-6zM676 1031h2v1h-2zM679 1031h1v1h-1zM683 1031h3v1h-3zM687 1031h2v1h-2zM694 1031h1v1h-1zM697 1031h4v1h-4zM706 1031h2v1h-2zM710 1031h2v1h-2zM718 1031h2v1h-2zM722 1031h3v1h-3zM732 1031h1v1h-1zM734 1031h1v1h-1zM740 1031h6v1h-6zM752 1031h2v1h-2zM756 1031h1v1h-1zM763 1031h1v1h-1zM767 1031h2v1h-2zM70 1033h1v1h-1zM86 1033h1v1h-1zM109 1033h1v1h-1zM124 1033h1v1h-1zM161 1033h1v1h-1zM173 1033h1v1h-1zM202 1033h1v1h-1zM226 1033h1v1h-1zM233 1033h1v1h-1zM280 1033h2v1h-2zM316 1033h1v1h-1zM346 1033h1v1h-1zM379 1033h1v1h-1zM396 1033h1v1h-1zM423 1033h1v1h-1zM514 1033h1v1h-1zM520 1033h1v1h-1zM522 1033h1v1h-1zM612 1033h1v1h-1zM653 1033h1v1h-1zM672 1033h1v1h-1zM687 1033h1v1h-1zM689 1033h1v1h-1zM696 1033h1v1h-1zM710 1033h1v1h-1zM109 1034h1v1h-1zM124 1034h1v1h-1zM514 1034h1v1h-1z"/><path fill="#ff0000" d="M51 1046h2v1h-2zM54 1046h1v1h-1zM61 1046h2v1h-2zM73 1046h2v1h-2zM81 1046h1v1h-1zM83 1046h1v1h-1zM88 1046h1v1h-1zM93 1046h1v1h-1zM98 1046h1v1h-1zM102 1046h2v1h-2zM105 1046h2v1h-2zM109 1046h1v1h-1zM111 1046h1v1h-1zM117 1046h1v1h-1zM119 1046h1v1h-1zM121 1046h1v1h-1zM124 1046h1v1h-1zM134 1046h2v1h-2zM137 1046h2v1h-2zM141 1046h5v1h-5zM147 1046h3v1h-3zM151 1046h1v1h-1zM153 1046h1v1h-1zM155 1046h1v1h-1zM158 1046h5v1h-5zM166 1046h1v1h-1zM175 1046h1v1h-1zM180 1046h1v1h-1zM185 1046h1v1h-1zM190 1046h2v1h-2zM202 1046h2v1h-2zM205 1046h1v1h-1zM207 1046h1v1h-1zM210 1046h1v1h-1zM212 1046h6v1h-6zM220 1046h1v1h-1zM222 1046h3v1h-3zM227 1046h1v1h-1zM232 1046h3v1h-3zM236 1046h1v1h-1zM244 1046h1v1h-1zM249 1046h1v1h-1zM251 1046h1v1h-1zM254 1046h2v1h-2zM258 1046h1v1h-1zM263 1046h2v1h-2zM270 1046h5v1h-5zM276 1046h1v1h-1zM279 1046h3v1h-3zM284 1046h4v1h-4zM291 1046h1v1h-1zM293 1046h1v1h-1zM302 1046h4v1h-4zM307 1046h1v1h-1zM315 1046h1v1h-1zM317 1046h1v1h-1zM320 1046h3v1h-3zM329 1046h2v1h-2zM332 1046h1v1h-1zM334 1046h1v1h-1zM337 1046h2v1h-2zM345 1046h1v1h-1zM347 1046h2v1h-2zM355 1046h1v1h-1zM359 1046h1v1h-1zM363 1046h3v1h-3zM367 1046h1v1h-1zM371 1046h1v1h-1zM374 1046h7v1h-7zM383 1046h1v1h-1zM386 1046h2v1h-2zM392 1046h10v1h-10zM404 1046h1v1h-1zM406 1046h1v1h-1zM408 1046h2v1h-2zM411 1046h3v1h-3zM415 1046h3v1h-3zM429 1046h1v1h-1zM432 1046h5v1h-5zM447 1046h4v1h-4zM452 1046h3v1h-3zM456 1046h1v1h-1zM460 1046h1v1h-1zM464 1046h1v1h-1zM466 1046h1v1h-1zM469 1046h2v1h-2zM473 1046h2v1h-2zM477 1046h1v1h-1zM479 1046h1v1h-1zM483 1046h1v1h-1zM485 1046h4v1h-4zM495 1046h2v1h-2zM508 1046h1v1h-1zM512 1046h3v1h-3zM516 1046h4v1h-4zM521 1046h2v1h-2zM526 1046h1v1h-1zM529 1046h2v1h-2zM538 1046h2v1h-2zM543 1046h2v1h-2zM547 1046h3v1h-3zM552 1046h1v1h-1zM559 1046h1v1h-1zM561 1046h1v1h-1zM564 1046h1v1h-1zM568 1046h5v1h-5zM574 1046h4v1h-4zM581 1046h5v1h-5zM589 1046h3v1h-3zM596 1046h3v1h-3zM606 1046h1v1h-1zM617 1046h2v1h-2zM621 1046h2v1h-2zM624 1046h2v1h-2zM627 1046h1v1h-1zM630 1046h4v1h-4zM635 1046h2v1h-2zM640 1046h6v1h-6zM647 1046h1v1h-1zM654 1046h4v1h-4zM659 1046h4v1h-4zM665 1046h6v1h-6zM672 1046h2v1h-2zM677 1046h2v1h-2zM680 1046h2v1h-2zM686 1046h1v1h-1zM688 1046h2v1h-2zM692 1046h2v1h-2zM695 1046h4v1h-4zM700 1046h1v1h-1zM709 1046h2v1h-2zM716 1046h1v1h-1zM722 1046h1v1h-1zM727 1046h2v1h-2zM731 1046h1v1h-1zM736 1046h2v1h-2zM747 1046h3v1h-3zM752 1046h2v1h-2zM760 1046h2v1h-2zM765 1046h1v1h-1zM768 1046h2v1h-2zM118 1048h1v1h-1zM143 1048h1v1h-1zM218 1048h1v1h-1zM228 1048h1v1h-1zM247 1048h1v1h-1zM261 1048h1v1h-1zM286 1048h1v1h-1zM294 1048h2v1h-2zM323 1048h1v1h-1zM421 1048h1v1h-1zM449 1048h1v1h-1zM465 1048h1v1h-1zM480 1048h1v1h-1zM511 1048h1v1h-1zM531 1048h1v1h-1zM541 1048h1v1h-1zM554 1048h1v1h-1zM576 1048h1v1h-1zM616 1048h1v1h-1zM619 1048h1v1h-1zM632 1048h1v1h-1zM634 1048h1v1h-1zM709 1048h1v1h-1zM755 1048h1v1h-1zM480 1049h1v1h-1z"/><path fill="#0000ff" d="M51 1061h3v1h-3zM55 1061h4v1h-4zM61 1061h1v1h-1zM65 1061h1v1h-1zM67 1061h1v1h-1zM79 1061h5v1h-5zM85 1061h2v1h-2zM89 1061h1v1h-1zM94 1061h1v1h-1zM96 1061h1v1h-1zM115 1061h1v1h-1zM121 1061h4v1h-4zM127 1061h7v1h-7zM136 1061h1v1h-1zM141 1061h2v1h-2zM151 1061h2v1h-2zM161 1061h1v1h-1zM163 1061h1v1h-1zM168 1061h3v1h-3zM176 1061h2v1h-2zM183 1061h1v1h-1zM185 1061h1v1h-1zM193 1061h1v1h-1zM198 1061h1v1h-1zM202 1061h1v1h-1zM205 1061h2v1h-2zM208 1061h1v1h-1zM211 1061h1v1h-1zM213 1061h1v1h-1zM217 1061h1v1h-1zM228 1061h4v1h-4zM236 1061h1v1h-1zM238 1061h3v1h-3zM245 1061h2v1h-2zM251 1061h1v1h-1zM253 1061h2v1h-2zM259 1061h5v1h-5zM269 1061h3v1h-3zM273 1061h2v1h-2zM277 1061h2v1h-2zM281 1061h1v1h-1zM303 1061h1v1h-1zM306 1061h3v1h-3zM312 1061h4v1h-4zM318 1061h2v1h-2zM323 1061h1v1h-1zM326 1061h1v1h-1zM337 1061h1v1h-1zM339 1061h1v1h-1zM345 1061h1v1h-1zM347 1061h3v1h-3zM352 1061h4v1h-4zM360 1061h10v1h-10zM377 1061h1v1h-1zM389 1061h1v1h-1zM394 1061h4v1h-4zM400 1061h2v1h-2zM404 1061h2v1h-2zM407 1061h1v1h-1zM415 1061h2v1h-2zM419 1061h1v1h-1zM422 1061h2v1h-2zM429 1061h2v1h-2zM434 1061h1v1h-1zM438 1061h2v1h-2zM441 1061h1v1h-1zM448 1061h2v1h-2zM457 1061h3v1h-3zM462 1061h1v1h-1zM464 1061h2v1h-2zM467 1061h2v1h-2zM470 1061h3v1h-3zM475 1061h1v1h-1zM486 1061h1v1h-1zM490 1061h3v1h-3zM494 1061h1v1h-1zM498 1061h3v1h-3zM502 1061h2v1h-2zM506 1061h4v1h-4zM511 1061h1v1h-1zM517 1061h4v1h-4zM525 1061h3v1h-3zM529 1061h2v1h-2zM533 1061h2v1h-2zM539 1061h2v1h-2zM547 1061h1v1h-1zM550 1061h1v1h-1zM552 1061h1v1h-1zM554 1061h2v1h-2zM557 1061h2v1h-2zM565 1061h1v1h-1zM568 1061h2v1h-2zM575 1061h1v1h-1zM588 1061h3v1h-3zM594 1061h1v1h-1zM600 1061h1v1h-1zM602 1061h2v1h-2zM608 1061h2v1h-2zM611 1061h2v1h-2zM614 1061h1v1h-1zM618 1061h1v1h-1zM628 1061h1v1h-1zM632 1061h1v1h-1zM635 1061h2v1h-2zM639 1061h3v1h-3zM643 1061h5v1h-5zM649 1061h2v1h-2zM656 1061h2v1h-2zM659 1061h1v1h-1zM661 1061h1v1h-1zM666 1061h2v1h-2zM676 1061h1v1h-1zM682 1061h4v1h-4zM688 1061h4v1h-4zM695 1061h1v1h-1zM697 1061h1v1h-1zM707 1061h1v1h-1zM714 1061h1v1h-1zM721 1061h1v1h-1zM726 1061h1v1h-1zM730 1061h2v1h-2zM734 1061h1v1h-1zM737 1061h3v1h-3zM748 1061h1v1h-1zM753 1061h2v1h-2zM756 1061h4v1h-4zM761 1061h1v1h-1zM59 1063h1v1h-1zM119 1063h1v1h-1zM151 1063h1v1h-1zM198 1063h1v1h-1zM211 1063h1v1h-1zM231 1063h1v1h-1zM281 1063h1v1h-1zM302 1063h1v1h-1zM319 1063h1v1h-1zM347 1063h1v1h-1zM355 1063h1v1h-1zM394 1063h1v1h-1zM413 1063h1v1h-1zM440 1063h1v1h-1zM471 1063h1v1h-1zM507 1063h1v1h-1zM542 1063h1v1h-1zM560 1063h1v1h-1zM594 1063h2v1h-2zM633 1063h2v1h-2zM642 1063h1v1h-1zM659 1063h1v1h-1zM673 1063h1v1h-1zM697 1063h1v1h-1zM730 1063h1v1h-1zM753 1063h1v1h-1zM761 1063h1v1h-1zM59 1064h1v1h-1zM198 1064h1v1h-1zM231 1064h1v1h-1zM542 1064h1v1h-1zM753 1064h1v1h-1z"/><path fill="#006400" d="M51 1076h1v1h-1zM54 1076h1v1h-1zM58 1076h1v1h-1zM63 1076h1v1h-1zM66 1076h1v1h-1zM68 1076h1v1h-1zM80 1076h1v1h-1zM82 1076h2v1h-2zM85 1076h1v1h-1zM87 1076h2v1h-2zM95 1076h1v1h-1zM97 1076h4v1h-4zM102 1076h6v1h-6zM114 1076h3v1h-3zM120 1076h1v1h-1zM134 1076h1v1h-1zM138 1076h1v1h-1zM141 1076h1v1h-1zM150 1076h2v1h-2zM153 1076h1v1h-1zM162 1076h1v1h-1zM168 1076h1v1h-1zM172 1076h2v1h-2zM181 1076h1v1h-1zM183 1076h1v1h-1zM196 1076h3v1h-3zM201 1076h1v1h-1zM204 1076h1v1h-1zM215 1076h2v1h-2zM218 1076h5v1h-5zM225 1076h4v1h-4zM233 1076h3v1h-3zM237 1076h2v1h-2zM252 1076h4v1h-4zM259 1076h1v1h-1zM261 1076h5v1h-5zM268 1076h3v1h-3zM272 1076h2v1h-2zM275 1076h10v1h-10zM287 1076h3v1h-3zM302 1076h2v1h-2zM307 1076h3v1h-3zM314 1076h4v1h-4zM324 1076h1v1h-1zM329 1076h1v1h-1zM336 1076h1v1h-1zM339 1076h2v1h-2zM342 1076h1v1h-1zM345 1076h1v1h-1zM359 1076h2v1h-2zM367 1076h1v1h-1zM370 1076h1v1h-1zM372 1076h1v1h-1zM374 1076h1v1h-1zM377 1076h1v1h-1zM389 1076h2v1h-2zM392 1076h2v1h-2zM398 1076h5v1h-5zM404 1076h2v1h-2zM408 1076h1v1h-1zM411 1076h3v1h-3zM416 1076h1v1h-1zM420 1076h1v1h-1zM426 1076h1v1h-1zM431 1076h1v1h-1zM434 1076h1v1h-1zM439 1076h2v1h-2zM459 1076h1v1h-1zM461 1076h1v1h-1zM463 1076h1v1h-1zM470 1076h1v1h-1zM483 1076h1v1h-1zM487 1076h1v1h-1zM490 1076h1v1h-1zM494 1076h3v1h-3zM502 1076h5v1h-5zM517 1076h1v1h-1zM524 1076h1v1h-1zM529 1076h1v1h-1zM538 1076h1v1h-1zM541 1076h6v1h-6zM553 1076h1v1h-1zM561 1076h1v1h-1zM563 1076h2v1h-2zM567 1076h1v1h-1zM581 1076h1v1h-1zM590 1076h1v1h-1zM601 1076h2v1h-2zM605 1076h1v1h-1zM611 1076h4v1h-4zM622 1076h3v1h-3zM626 1076h1v1h-1zM630 1076h2v1h-2zM633 1076h1v1h-1zM638 1076h1v1h-1zM640 1076h1v1h-1zM651 1076h1v1h-1zM653 1076h2v1h-2zM658 1076h1v1h-1zM663 1076h1v1h-1zM665 1076h3v1h-3zM671 1076h3v1h-3zM678 1076h2v1h-2zM691 1076h4v1h-4zM696 1076h2v1h-2zM704 1076h1v1h-1zM710 1076h1v1h-1zM713 1076h3v1h-3zM723 1076h3v1h-3zM735 1076h5v1h-5zM741 1076h1v1h-1zM744 1076h2v1h-2zM752 1076h3v1h-3zM756 1076h2v1h-2zM767 1076h2v1h-2zM105 1078h1v1h-1zM128 1078h1v1h-1zM144 1078h1v1h-1zM147 1078h1v1h-1zM154 1078h1v1h-1zM219 1078h1v1h-1zM241 1078h1v1h-1zM268 1078h1v1h-1zM274 1078h1v1h-1zM280 1078h2v1h-2zM341 1078h1v1h-1zM364 1078h1v1h-1zM393 1078h1v1h-1zM412 1078h1v1h-1zM414 1078h1v1h-1zM417 1078h1v1h-1zM429 1078h1v1h-1zM439 1078h2v1h-2zM454 1078h1v1h-1zM496 1078h1v1h-1zM650 1078h1v1h-1zM700 1078h1v1h-1zM705 1078h1v1h-1zM709 1078h1v1h-1zM147 1079h1v1h-1zM341 1079h1v1h-1zM393 1079h1v1h-1zM496 1079h1v1h-1z"/><path fill="#000000" d="M51 1091h3v1h-3zM56 1091h4v1h-4zM61 1091h1v1h-1zM63 1091h1v1h-1zM65 1091h1v1h-1zM67 1091h4v1h-4zM72 1091h1v1h-1zM79 1091h1v1h-1zM82 1091h1v1h-1zM84 1091h3v1h-3zM90 1091h1v1h-1zM95 1091h1v1h-1zM97 1091h2v1h-2zM104 1091h2v1h-2zM107 1091h1v1h-1zM110 1091h3v1h-3zM114 1091h1v1h-1zM117 1091h1v1h-1zM119 1091h1v1h-1zM125 1091h1v1h-1zM128 1091h5v1h-5zM135 1091h3v1h-3zM141 1091h1v1h-1zM143 1091h2v1h-2zM146 1091h4v1h-4zM151 1091h1v1h-1zM157 1091h3v1h-3zM162 1091h1v1h-1zM166 1091h2v1h-2zM169 1091h5v1h-5zM175 1091h2v1h-2zM179 1091h3v1h-3zM184 1091h1v1h-1zM187 1091h1v1h-1zM191 1091h2v1h-2zM197 1091h2v1h-2zM201 1091h1v1h-1zM203 1091h2v1h-2zM210 1091h5v1h-5zM217 1091h7v1h-7zM225 1091h2v1h-2zM229 1091h1v1h-1zM233 1091h1v1h-1zM235 1091h6v1h-6zM242 1091h1v1h-1zM257 1091h4v1h-4zM262 1091h1v1h-1zM266 1091h1v1h-1zM268 1091h4v1h-4zM274 1091h3v1h-3zM279 1091h6v1h-6zM286 1091h1v1h-1zM288 1091h1v1h-1zM291 1091h2v1h-2zM294 1091h1v1h-1zM298 1091h1v1h-1zM302 1091h1v1h-1zM306 1091h1v1h-1zM309 1091h2v1h-2zM312 1091h2v1h-2zM316 1091h1v1h-1zM319 1091h1v1h-1zM327 1091h1v1h-1zM331 1091h4v1h-4zM336 1091h1v1h-1zM338 1091h1v1h-1zM341 1091h1v1h-1zM343 1091h1v1h-1zM346 1091h1v1h-1zM349 1091h1v1h-1zM352 1091h3v1h-3zM364 1091h1v1h-1zM368 1091h1v1h-1zM374 1091h2v1h-2zM381 1091h1v1h-1zM384 1091h2v1h-2zM389 1091h2v1h-2zM392 1091h1v1h-1zM394 1091h1v1h-1zM398 1091h3v1h-3zM405 1091h2v1h-2zM408 1091h1v1h-1zM412 1091h1v1h-1zM416 1091h1v1h-1zM419 1091h1v1h-1zM424 1091h2v1h-2zM427 1091h1v1h-1zM429 1091h2v1h-2zM438 1091h1v1h-1zM440 1091h1v1h-1zM442 1091h1v1h-1zM444 1091h2v1h-2zM447 1091h2v1h-2zM452 1091h2v1h-2zM457 1091h1v1h-1zM464 1091h1v1h-1zM466 1091h1v1h-1zM468 1091h4v1h-4zM473 1091h1v1h-1zM477 1091h2v1h-2zM480 1091h1v1h-1zM483 1091h2v1h-2zM486 1091h2v1h-2zM491 1091h3v1h-3zM506 1091h1v1h-1zM509 1091h2v1h-2zM516 1091h1v1h-1zM518 1091h1v1h-1zM521 1091h1v1h-1zM524 1091h1v1h-1zM527 1091h1v1h-1zM530 1091h4v1h-4zM535 1091h5v1h-5zM541 1091h4v1h-4zM546 1091h1v1h-1zM549 1091h3v1h-3zM554 1091h1v1h-1zM556 1091h1v1h-1zM558 1091h3v1h-3zM562 1091h2v1h-2zM565 1091h2v1h-2zM568 1091h3v1h-3zM572 1091h1v1h-1zM574 1091h2v1h-2zM579 1091h1v1h-1zM581 1091h5v1h-5zM590 1091h1v1h-1zM592 1091h2v1h-2zM595 1091h2v1h-2zM598 1091h3v1h-3zM602 1091h1v1h-1zM605 1091h1v1h-1zM607 1091h3v1h-3zM612 1091h1v1h-1zM615 1091h1v1h-1zM620 1091h3v1h-3zM627 1091h2v1h-2zM631 1091h9v1h-9zM644 1091h1v1h-1zM648 1091h1v1h-1zM650 1091h2v1h-2zM653 1091h1v1h-1zM657 1091h2v1h-2zM663 1091h1v1h-1zM667 1091h3v1h-3zM673 1091h1v1h-1zM678 1091h1v1h-1zM682 1091h1v1h-1zM686 1091h2v1h-2zM692 1091h1v1h-1zM699 1091h1v1h-1zM703 1091h2v1h-2zM706 1091h3v1h-3zM710 1091h1v1h-1zM720 1091h1v1h-1zM722 1091h1v1h-1zM724 1091h1v1h-1zM726 1091h4v1h-4zM733 1091h1v1h-1zM735 1091h2v1h-2zM738 1091h3v1h-3zM743 1091h4v1h-4zM749 1091h1v1h-1zM751 1091h1v1h-1zM754 1091h1v1h-1zM756 1091h3v1h-3zM761 1091h3v1h-3zM767 1091h1v1h-1zM151 1093h1v1h-1zM183 1093h1v1h-1zM234 1093h1v1h-1zM260 1093h1v1h-1zM262 1093h1v1h-1zM278 1093h1v1h-1zM290 1093h1v1h-1zM322 1093h1v1h-1zM346 1093h1v1h-1zM387 1093h1v1h-1zM410 1093h1v1h-1zM472 1093h1v1h-1zM476 1093h1v1h-1zM534 1093h1v1h-1zM540 1093h1v1h-1zM575 1093h1v1h-1zM620 1093h1v1h-1zM387 1094h1v1h-1zM620 1094h1v1h-1z"/><path fill="#ff0000" d="M55 1106h2v1h-2zM58 1106h1v1h-1zM65 1106h3v1h-3zM70 1106h4v1h-4zM81 1106h2v1h-2zM88 1106h1v1h-1zM96 1106h1v1h-1zM102 1106h1v1h-1zM106 1106h1v1h-1zM110 1106h4v1h-4zM116 1106h2v1h-2zM121 1106h2v1h-2zM124 1106h3v1h-3zM129 1106h1v1h-1zM137 1106h2v1h-2zM142 1106h4v1h-4zM151 1106h3v1h-3zM155 1106h1v1h-1zM157 1106h2v1h-2zM161 1106h2v1h-2zM171 1106h2v1h-2zM174 1106h1v1h-1zM183 1106h2v1h-2zM186 1106h2v1h-2zM202 1106h1v1h-1zM206 1106h1v1h-1zM209 1106h1v1h-1zM225 1106h1v1h-1zM231 1106h1v1h-1zM235 1106h3v1h-3zM245 1106h1v1h-1zM260 1106h1v1h-1zM265 1106h1v1h-1zM268 1106h4v1h-4zM273 1106h3v1h-3zM280 1106h1v1h-1zM284 1106h1v1h-1zM295 1106h2v1h-2zM298 1106h1v1h-1zM304 1106h1v1h-1zM307 1106h3v1h-3zM314 1106h1v1h-1zM318 1106h3v1h-3zM327 1106h3v1h-3zM334 1106h2v1h-2zM351 1106h7v1h-7zM384 1106h2v1h-2zM392 1106h2v1h-2zM397 1106h6v1h-6zM405 1106h2v1h-2zM408 1106h3v1h-3zM419 1106h1v1h-1zM424 1106h2v1h-2zM442 1106h1v1h-1zM448 1106h1v1h-1zM450 1106h1v1h-1zM458 1106h1v1h-1zM461 1106h1v1h-1zM463 1106h5v1h-5zM471 1106h2v1h-2zM482 1106h1v1h-1zM486 1106h2v1h-2zM493 1106h1v1h-1zM502 1106h2v1h-2zM507 1106h1v1h-1zM510 1106h1v1h-1zM523 1106h4v1h-4zM530 1106h2v1h-2zM533 1106h4v1h-4zM543 1106h2v1h-2zM548 1106h4v1h-4zM554 1106h2v1h-2zM557 1106h3v1h-3zM564 1106h4v1h-4zM571 1106h3v1h-3zM575 1106h1v1h-1zM580 1106h1v1h-1zM584 1106h1v1h-1zM589 1106h1v1h-1zM592 1106h2v1h-2zM595 1106h1v1h-1zM598 1106h1v1h-1zM600 1106h2v1h-2zM605 1106h1v1h-1zM607 1106h1v1h-1zM614 1106h2v1h-2zM617 1106h1v1h-1zM620 1106h3v1h-3zM625 1106h1v1h-1zM629 1106h1v1h-1zM638 1106h3v1h-3zM647 1106h2v1h-2zM650 1106h3v1h-3zM661 1106h1v1h-1zM663 1106h5v1h-5zM669 1106h1v1h-1zM674 1106h2v1h-2zM678 1106h2v1h-2zM685 1106h1v1h-1zM689 1106h1v1h-1zM692 1106h4v1h-4zM698 1106h5v1h-5zM706 1106h1v1h-1zM708 1106h1v1h-1zM725 1106h2v1h-2zM728 1106h1v1h-1zM730 1106h3v1h-3zM734 1106h2v1h-2zM743 1106h1v1h-1zM746 1106h2v1h-2zM762 1106h1v1h-1zM764 1106h1v1h-1zM768 1106h1v1h-1zM51 1108h1v1h-1zM62 1108h1v1h-1zM85 1108h1v1h-1zM102 1108h1v1h-1zM159 1108h2v1h-2zM175 1108h1v1h-1zM191 1108h1v1h-1zM225 1108h1v1h-1zM229 1108h1v1h-1zM232 1108h1v1h-1zM263 1108h1v1h-1zM271 1108h1v1h-1zM291 1108h2v1h-2zM326 1108h1v1h-1zM328 1108h1v1h-1zM362 1108h1v1h-1zM378 1108h1v1h-1zM409 1108h1v1h-1zM431 1108h1v1h-1zM558 1108h1v1h-1zM561 1108h1v1h-1zM599 1108h1v1h-1zM684 1108h1v1h-1zM708 1108h1v1h-1zM738 1108h1v1h-1zM229 1109h1v1h-1z"/><path fill="#0000ff" d="M567 1120h2v1h-2zM580 1120h1v1h-1zM55 1121h1v1h-1zM57 1121h2v1h-2zM62 1121h1v1h-1zM64 1121h1v1h-1zM78 1121h3v1h-3zM83 1121h3v1h-3zM88 1121h2v1h-2zM92 1121h1v1h-1zM95 1121h5v1h-5zM102 1121h1v1h-1zM111 1121h1v1h-1zM114 1121h3v1h-3zM120 1121h1v1h-1zM124 1121h1v1h-1zM126 1121h1v1h-1zM128 1121h3v1h-3zM132 1121h6v1h-6zM139 1121h2v1h-2zM142 1121h1v1h-1zM144 1121h1v1h-1zM151 1121h1v1h-1zM153 1121h1v1h-1zM156 1121h1v1h-1zM158 1121h1v1h-1zM160 1121h1v1h-1zM168 1121h1v1h-1zM171 1121h1v1h-1zM177 1121h3v1h-3zM181 1121h1v1h-1zM183 1121h1v1h-1zM187 1121h4v1h-4zM192 1121h1v1h-1zM196 1121h1v1h-1zM201 1121h3v1h-3zM206 1121h1v1h-1zM209 1121h1v1h-1zM213 1121h1v1h-1zM217 1121h2v1h-2zM226 1121h1v1h-1zM233 1121h1v1h-1zM236 1121h2v1h-2zM241 1121h1v1h-1zM244 1121h1v1h-1zM250 1121h6v1h-6zM257 1121h1v1h-1zM259 1121h3v1h-3zM264 1121h1v1h-1zM266 1121h7v1h-7zM274 1121h1v1h-1zM280 1121h3v1h-3zM292 1121h1v1h-1zM294 1121h1v1h-1zM297 1121h1v1h-1zM299 1121h3v1h-3zM310 1121h1v1h-1zM315 1121h1v1h-1zM320 1121h1v1h-1zM326 1121h1v1h-1zM335 1121h1v1h-1zM341 1121h7v1h-7zM349 1121h1v1h-1zM353 1121h2v1h-2zM356 1121h2v1h-2zM362 1121h1v1h-1zM365 1121h1v1h-1zM367 1121h1v1h-1zM373 1121h1v1h-1zM375 1121h2v1h-2zM381 1121h2v1h-2zM388 1121h1v1h-1zM398 1121h7v1h-7zM407 1121h2v1h-2zM411 1121h2v1h-2zM415 1121h1v1h-1zM422 1121h2v1h-2zM425 1121h4v1h-4zM430 1121h4v1h-4zM439 1121h1v1h-1zM441 1121h1v1h-1zM445 1121h1v1h-1zM448 1121h1v1h-1zM452 1121h6v1h-6zM459 1121h2v1h-2zM462 1121h2v1h-2zM467 1121h1v1h-1zM470 1121h1v1h-1zM472 1121h1v1h-1zM477 1121h1v1h-1zM485 1121h1v1h-1zM488 1121h1v1h-1zM495 1121h1v1h-1zM497 1121h2v1h-2zM500 1121h1v1h-1zM502 1121h2v1h-2zM505 1121h1v1h-1zM508 1121h1v1h-1zM512 1121h5v1h-5zM519 1121h1v1h-1zM525 1121h1v1h-1zM530 1121h2v1h-2zM535 1121h1v1h-1zM540 1121h1v1h-1zM542 1121h17v1h-17zM560 1121h1v1h-1zM562 1121h12v1h-12zM575 1121h6v1h-6zM582 1121h5v1h-5zM588 1121h5v1h-5zM595 1121h2v1h-2zM602 1121h1v1h-1zM606 1121h1v1h-1zM609 1121h1v1h-1zM611 1121h1v1h-1zM613 1121h1v1h-1zM615 1121h2v1h-2zM619 1121h1v1h-1zM621 1121h1v1h-1zM623 1121h2v1h-2zM627 1121h2v1h-2zM631 1121h9v1h-9zM643 1121h2v1h-2zM646 1121h1v1h-1zM648 1121h1v1h-1zM651 1121h2v1h-2zM656 1121h2v1h-2zM663 1121h1v1h-1zM670 1121h3v1h-3zM675 1121h3v1h-3zM679 1121h2v1h-2zM685 1121h1v1h-1zM687 1121h1v1h-1zM690 1121h4v1h-4zM699 1121h1v1h-1zM705 1121h2v1h-2zM711 1121h1v1h-1zM715 1121h4v1h-4zM720 1121h1v1h-1zM723 1121h1v1h-1zM725 1121h1v1h-1zM731 1121h3v1h-3zM736 1121h1v1h-1zM738 1121h1v1h-1zM740 1121h1v1h-1zM747 1121h1v1h-1zM749 1121h1v1h-1zM751 1121h1v1h-1zM756 1121h4v1h-4zM765 1121h2v1h-2zM768 1121h1v1h-1zM545 1122h48v1h-48zM67 1123h1v1h-1zM104 1123h1v1h-1zM111 1123h1v1h-1zM172 1123h1v1h-1zM182 1123h1v1h-1zM205 1123h1v1h-1zM260 1123h1v1h-1zM265 1123h1v1h-1zM279 1123h1v1h-1zM305 1123h1v1h-1zM339 1123h1v1h-1zM351 1123h1v1h-1zM447 1123h1v1h-1zM449 1123h1v1h-1zM471 1123h1v1h-1zM513 1123h1v1h-1zM545 1123h4v1h-4zM550 1123h3v1h-3zM554 1123h4v1h-4zM559 1123h1v1h-1zM561 1123h1v1h-1zM563 1123h1v1h-1zM567 1123h5v1h-5zM573 1123h3v1h-3zM577 1123h1v1h-1zM579 1123h1v1h-1zM581 1123h1v1h-1zM583 1123h4v1h-4zM589 1123h2v1h-2zM658 1123h1v1h-1zM690 1123h1v1h-1zM733 1123h1v1h-1zM260 1124h1v1h-1zM471 1124h1v1h-1zM559 1124h1v1h-1zM563 1124h1v1h-1zM590 1124h1v1h-1z"/><path fill="#006400" d="M65 1136h3v1h-3zM73 1136h5v1h-5zM80 1136h1v1h-1zM86 1136h1v1h-1zM91 1136h2v1h-2zM96 1136h1v1h-1zM101 1136h7v1h-7zM113 1136h2v1h-2zM116 1136h3v1h-3zM122 1136h4v1h-4zM128 1136h1v1h-1zM130 1136h1v1h-1zM135 1136h2v1h-2zM138 1136h1v1h-1zM155 1136h2v1h-2zM161 1136h2v1h-2zM166 1136h1v1h-1zM176 1136h2v1h-2zM181 1136h1v1h-1zM188 1136h5v1h-5zM194 1136h2v1h-2zM203 1136h6v1h-6zM212 1136h1v1h-1zM228 1136h1v1h-1zM230 1136h5v1h-5zM236 1136h2v1h-2zM251 1136h2v1h-2zM261 1136h1v1h-1zM273 1136h2v1h-2zM287 1136h2v1h-2zM296 1136h2v1h-2zM299 1136h2v1h-2zM309 1136h2v1h-2zM313 1136h1v1h-1zM330 1136h5v1h-5zM347 1136h4v1h-4zM354 1136h2v1h-2zM358 1136h2v1h-2zM362 1136h4v1h-4zM367 1136h2v1h-2zM376 1136h2v1h-2zM383 1136h1v1h-1zM385 1136h5v1h-5zM394 1136h2v1h-2zM398 1136h2v1h-2zM401 1136h2v1h-2zM408 1136h2v1h-2zM417 1136h1v1h-1zM421 1136h1v1h-1zM427 1136h3v1h-3zM438 1136h1v1h-1zM442 1136h3v1h-3zM448 1136h1v1h-1zM450 1136h3v1h-3zM457 1136h3v1h-3zM461 1136h1v1h-1zM472 1136h1v1h-1zM475 1136h1v1h-1zM490 1136h5v1h-5zM499 1136h1v1h-1zM502 1136h6v1h-6zM510 1136h2v1h-2zM516 1136h3v1h-3zM520 1136h1v1h-1zM531 1136h3v1h-3zM537 1136h2v1h-2zM547 1136h1v1h-1zM554 1136h1v1h-1zM572 1136h2v1h-2zM580 1136h5v1h-5zM586 1136h1v1h-1zM589 1136h1v1h-1zM604 1136h1v1h-1zM607 1136h1v1h-1zM609 1136h2v1h-2zM619 1136h1v1h-1zM635 1136h1v1h-1zM638 1136h3v1h-3zM648 1136h3v1h-3zM654 1136h2v1h-2zM658 1136h1v1h-1zM662 1136h4v1h-4zM668 1136h2v1h-2zM672 1136h3v1h-3zM691 1136h1v1h-1zM697 1136h1v1h-1zM706 1136h1v1h-1zM712 1136h2v1h-2zM722 1136h7v1h-7zM744 1136h1v1h-1zM749 1136h4v1h-4zM756 1136h2v1h-2zM762 1136h1v1h-1zM766 1136h1v1h-1zM60 1138h1v1h-1zM72 1138h1v1h-1zM138 1138h1v1h-1zM166 1138h1v1h-1zM186 1138h1v1h-1zM188 1138h1v1h-1zM206 1138h1v1h-1zM220 1138h2v1h-2zM226 1138h1v1h-1zM241 1138h1v1h-1zM246 1138h2v1h-2zM262 1138h1v1h-1zM339 1138h1v1h-1zM352 1138h1v1h-1zM383 1138h1v1h-1zM439 1138h1v1h-1zM504 1138h1v1h-1zM515 1138h1v1h-1zM521 1138h1v1h-1zM532 1138h1v1h-1zM549 1138h1v1h-1zM606 1138h1v1h-1zM634 1138h1v1h-1zM636 1138h1v1h-1zM658 1138h1v1h-1zM664 1138h1v1h-1zM694 1138h1v1h-1zM715 1138h1v1h-1zM352 1139h1v1h-1zM439 1139h1v1h-1zM504 1139h1v1h-1zM532 1139h1v1h-1zM636 1139h1v1h-1z"/><path fill="#000000" d="M53 1151h1v1h-1zM59 1151h1v1h-1zM63 1151h1v1h-1zM65 1151h1v1h-1zM71 1151h1v1h-1zM74 1151h3v1h-3zM81 1151h1v1h-1zM87 1151h2v1h-2zM90 1151h1v1h-1zM92 1151h8v1h-8zM101 1151h1v1h-1zM108 1151h1v1h-1zM115 1151h3v1h-3zM122 1151h2v1h-2zM126 1151h2v1h-2zM132 1151h1v1h-1zM135 1151h1v1h-1zM137 1151h1v1h-1zM143 1151h1v1h-1zM148 1151h1v1h-1zM150 1151h1v1h-1zM153 1151h1v1h-1zM160 1151h1v1h-1zM164 1151h1v1h-1zM168 1151h1v1h-1zM170 1151h1v1h-1zM176 1151h1v1h-1zM178 1151h1v1h-1zM181 1151h2v1h-2zM184 1151h1v1h-1zM189 1151h1v1h-1zM192 1151h3v1h-3zM202 1151h1v1h-1zM204 1151h1v1h-1zM206 1151h4v1h-4zM211 1151h2v1h-2zM215 1151h1v1h-1zM218 1151h3v1h-3zM225 1151h4v1h-4zM232 1151h5v1h-5zM239 1151h1v1h-1zM243 1151h1v1h-1zM246 1151h5v1h-5zM254 1151h1v1h-1zM258 1151h1v1h-1zM260 1151h1v1h-1zM265 1151h2v1h-2zM269 1151h1v1h-1zM278 1151h5v1h-5zM284 1151h2v1h-2zM294 1151h2v1h-2zM297 1151h1v1h-1zM307 1151h3v1h-3zM312 1151h6v1h-6zM320 1151h1v1h-1zM323 1151h1v1h-1zM325 1151h1v1h-1zM335 1151h2v1h-2zM342 1151h2v1h-2zM346 1151h1v1h-1zM349 1151h2v1h-2zM352 1151h1v1h-1zM360 1151h2v1h-2zM365 1151h2v1h-2zM368 1151h3v1h-3zM374 1151h2v1h-2zM378 1151h1v1h-1zM380 1151h2v1h-2zM385 1151h1v1h-1zM388 1151h2v1h-2zM391 1151h2v1h-2zM394 1151h2v1h-2zM398 1151h2v1h-2zM402 1151h2v1h-2zM407 1151h1v1h-1zM411 1151h4v1h-4zM416 1151h1v1h-1zM418 1151h2v1h-2zM425 1151h3v1h-3zM433 1151h4v1h-4zM438 1151h1v1h-1zM441 1151h1v1h-1zM445 1151h3v1h-3zM451 1151h1v1h-1zM453 1151h2v1h-2zM458 1151h1v1h-1zM463 1151h5v1h-5zM482 1151h2v1h-2zM487 1151h1v1h-1zM490 1151h1v1h-1zM493 1151h8v1h-8zM503 1151h2v1h-2zM509 1151h1v1h-1zM522 1151h1v1h-1zM526 1151h1v1h-1zM533 1151h2v1h-2zM536 1151h1v1h-1zM539 1151h1v1h-1zM545 1151h1v1h-1zM552 1151h2v1h-2zM555 1151h3v1h-3zM560 1151h1v1h-1zM569 1151h1v1h-1zM574 1151h3v1h-3zM592 1151h1v1h-1zM594 1151h1v1h-1zM597 1151h1v1h-1zM600 1151h1v1h-1zM610 1151h4v1h-4zM619 1151h1v1h-1zM622 1151h2v1h-2zM626 1151h2v1h-2zM632 1151h1v1h-1zM644 1151h5v1h-5zM652 1151h1v1h-1zM654 1151h1v1h-1zM658 1151h2v1h-2zM663 1151h2v1h-2zM670 1151h1v1h-1zM675 1151h2v1h-2zM680 1151h3v1h-3zM685 1151h1v1h-1zM688 1151h3v1h-3zM696 1151h1v1h-1zM700 1151h2v1h-2zM712 1151h2v1h-2zM717 1151h1v1h-1zM720 1151h1v1h-1zM722 1151h2v1h-2zM727 1151h3v1h-3zM732 1151h1v1h-1zM734 1151h1v1h-1zM741 1151h1v1h-1zM748 1151h1v1h-1zM751 1151h2v1h-2zM754 1151h2v1h-2zM759 1151h1v1h-1zM761 1151h1v1h-1zM768 1151h1v1h-1zM64 1153h1v1h-1zM82 1153h1v1h-1zM162 1153h1v1h-1zM192 1153h1v1h-1zM308 1153h1v1h-1zM365 1153h1v1h-1zM382 1153h1v1h-1zM406 1153h1v1h-1zM438 1153h1v1h-1zM447 1153h1v1h-1zM459 1153h1v1h-1zM517 1153h1v1h-1zM534 1153h1v1h-1zM540 1153h1v1h-1zM573 1153h1v1h-1zM587 1153h1v1h-1zM590 1153h1v1h-1zM602 1153h1v1h-1zM648 1153h1v1h-1zM653 1153h1v1h-1zM659 1153h1v1h-1zM675 1153h1v1h-1zM681 1153h1v1h-1zM687 1153h1v1h-1zM698 1153h1v1h-1zM701 1153h1v1h-1zM712 1153h1v1h-1zM718 1153h1v1h-1zM730 1153h1v1h-1zM701 1154h1v1h-1z"/><path fill="#ff0000" d="M51 1166h7v1h-7zM63 1166h2v1h-2zM66 1166h3v1h-3zM72 1166h4v1h-4zM79 1166h1v1h-1zM81 1166h1v1h-1zM83 1166h2v1h-2zM89 1166h1v1h-1zM91 1166h1v1h-1zM94 1166h1v1h-1zM98 1166h2v1h-2zM102 1166h1v1h-1zM107 1166h2v1h-2zM110 1166h2v1h-2zM114 1166h3v1h-3zM118 1166h1v1h-1zM121 1166h1v1h-1zM123 1166h1v1h-1zM132 1166h1v1h-1zM134 1166h1v1h-1zM136 1166h2v1h-2zM143 1166h1v1h-1zM145 1166h3v1h-3zM165 1166h2v1h-2zM168 1166h2v1h-2zM172 1166h2v1h-2zM183 1166h3v1h-3zM190 1166h1v1h-1zM193 1166h1v1h-1zM200 1166h1v1h-1zM203 1166h1v1h-1zM206 1166h1v1h-1zM211 1166h1v1h-1zM214 1166h3v1h-3zM220 1166h2v1h-2zM223 1166h1v1h-1zM228 1166h1v1h-1zM232 1166h1v1h-1zM237 1166h3v1h-3zM241 1166h1v1h-1zM243 1166h3v1h-3zM247 1166h1v1h-1zM250 1166h1v1h-1zM252 1166h2v1h-2zM260 1166h2v1h-2zM265 1166h3v1h-3zM271 1166h1v1h-1zM281 1166h2v1h-2zM284 1166h3v1h-3zM288 1166h2v1h-2zM291 1166h1v1h-1zM295 1166h3v1h-3zM299 1166h2v1h-2zM304 1166h4v1h-4zM310 1166h3v1h-3zM315 1166h1v1h-1zM318 1166h1v1h-1zM321 1166h1v1h-1zM324 1166h4v1h-4zM329 1166h2v1h-2zM334 1166h1v1h-1zM338 1166h1v1h-1zM340 1166h6v1h-6zM349 1166h1v1h-1zM352 1166h1v1h-1zM355 1166h3v1h-3zM359 1166h1v1h-1zM361 1166h3v1h-3zM365 1166h2v1h-2zM369 1166h1v1h-1zM378 1166h3v1h-3zM383 1166h3v1h-3zM387 1166h1v1h-1zM389 1166h1v1h-1zM395 1166h2v1h-2zM403 1166h1v1h-1zM406 1166h4v1h-4zM413 1166h7v1h-7zM421 1166h2v1h-2zM426 1166h2v1h-2zM429 1166h1v1h-1zM433 1166h3v1h-3zM440 1166h1v1h-1zM442 1166h2v1h-2zM445 1166h3v1h-3zM453 1166h1v1h-1zM455 1166h1v1h-1zM457 1166h1v1h-1zM459 1166h2v1h-2zM464 1166h1v1h-1zM470 1166h2v1h-2zM474 1166h1v1h-1zM477 1166h4v1h-4zM482 1166h2v1h-2zM485 1166h1v1h-1zM492 1166h1v1h-1zM495 1166h1v1h-1zM500 1166h2v1h-2zM504 1166h1v1h-1zM511 1166h1v1h-1zM515 1166h3v1h-3zM519 1166h4v1h-4zM531 1166h3v1h-3zM535 1166h1v1h-1zM537 1166h2v1h-2zM543 1166h2v1h-2zM546 1166h2v1h-2zM552 1166h1v1h-1zM554 1166h2v1h-2zM561 1166h3v1h-3zM568 1166h1v1h-1zM573 1166h3v1h-3zM582 1166h1v1h-1zM584 1166h1v1h-1zM587 1166h1v1h-1zM589 1166h3v1h-3zM593 1166h4v1h-4zM598 1166h1v1h-1zM601 1166h3v1h-3zM608 1166h2v1h-2zM617 1166h2v1h-2zM621 1166h2v1h-2zM629 1166h1v1h-1zM632 1166h4v1h-4zM637 1166h3v1h-3zM642 1166h1v1h-1zM646 1166h2v1h-2zM650 1166h4v1h-4zM655 1166h1v1h-1zM657 1166h4v1h-4zM663 1166h2v1h-2zM668 1166h4v1h-4zM673 1166h2v1h-2zM683 1166h2v1h-2zM689 1166h8v1h-8zM702 1166h1v1h-1zM705 1166h4v1h-4zM712 1166h2v1h-2zM715 1166h1v1h-1zM717 1166h1v1h-1zM720 1166h3v1h-3zM724 1166h1v1h-1zM729 1166h7v1h-7zM742 1166h1v1h-1zM744 1166h1v1h-1zM750 1166h1v1h-1zM755 1166h3v1h-3zM759 1166h1v1h-1zM761 1166h2v1h-2zM764 1166h1v1h-1zM766 1166h2v1h-2zM105 1168h1v1h-1zM119 1168h1v1h-1zM201 1168h1v1h-1zM216 1168h1v1h-1zM279 1168h1v1h-1zM305 1168h1v1h-1zM313 1168h1v1h-1zM341 1168h1v1h-1zM385 1168h1v1h-1zM455 1168h1v1h-1zM535 1168h1v1h-1zM562 1168h1v1h-1zM592 1168h1v1h-1zM640 1168h1v1h-1zM667 1168h1v1h-1zM724 1168h1v1h-1zM305 1169h1v1h-1zM385 1169h1v1h-1zM455 1169h1v1h-1z"/><path fill="#0000ff" d="M54 1181h1v1h-1zM58 1181h3v1h-3zM65 1181h1v1h-1zM70 1181h2v1h-2zM74 1181h2v1h-2zM79 1181h1v1h-1zM81 1181h1v1h-1zM86 1181h1v1h-1zM92 1181h1v1h-1zM95 1181h2v1h-2zM99 1181h2v1h-2zM104 1181h1v1h-1zM120 1181h2v1h-2zM134 1181h1v1h-1zM137 1181h1v1h-1zM146 1181h4v1h-4zM151 1181h6v1h-6zM162 1181h2v1h-2zM171 1181h1v1h-1zM174 1181h2v1h-2zM181 1181h1v1h-1zM186 1181h4v1h-4zM191 1181h3v1h-3zM212 1181h1v1h-1zM219 1181h1v1h-1zM223 1181h3v1h-3zM234 1181h1v1h-1zM244 1181h2v1h-2zM258 1181h1v1h-1zM264 1181h3v1h-3zM274 1181h3v1h-3zM283 1181h1v1h-1zM292 1181h1v1h-1zM295 1181h5v1h-5zM304 1181h1v1h-1zM308 1181h2v1h-2zM344 1181h1v1h-1zM350 1181h2v1h-2zM355 1181h2v1h-2zM372 1181h2v1h-2zM378 1181h2v1h-2zM386 1181h3v1h-3zM395 1181h1v1h-1zM399 1181h3v1h-3zM403 1181h2v1h-2zM411 1181h2v1h-2zM424 1181h2v1h-2zM429 1181h1v1h-1zM433 1181h4v1h-4zM452 1181h6v1h-6zM459 1181h2v1h-2zM464 1181h2v1h-2zM467 1181h2v1h-2zM489 1181h9v1h-9zM500 1181h1v1h-1zM505 1181h1v1h-1zM509 1181h1v1h-1zM511 1181h2v1h-2zM520 1181h4v1h-4zM525 1181h1v1h-1zM543 1181h3v1h-3zM547 1181h1v1h-1zM559 1181h1v1h-1zM572 1181h2v1h-2zM577 1181h1v1h-1zM584 1181h3v1h-3zM588 1181h1v1h-1zM590 1181h1v1h-1zM597 1181h1v1h-1zM602 1181h1v1h-1zM604 1181h2v1h-2zM612 1181h1v1h-1zM616 1181h1v1h-1zM619 1181h2v1h-2zM625 1181h1v1h-1zM628 1181h1v1h-1zM639 1181h1v1h-1zM644 1181h1v1h-1zM646 1181h3v1h-3zM650 1181h1v1h-1zM653 1181h2v1h-2zM658 1181h1v1h-1zM664 1181h3v1h-3zM682 1181h2v1h-2zM690 1181h3v1h-3zM695 1181h1v1h-1zM706 1181h2v1h-2zM709 1181h1v1h-1zM716 1181h5v1h-5zM723 1181h2v1h-2zM730 1181h2v1h-2zM734 1181h2v1h-2zM742 1181h1v1h-1zM749 1181h4v1h-4zM764 1181h1v1h-1zM766 1181h1v1h-1zM189 1183h2v1h-2zM215 1183h1v1h-1zM279 1183h1v1h-1zM293 1183h1v1h-1zM305 1183h1v1h-1zM378 1183h1v1h-1zM392 1183h1v1h-1zM399 1183h1v1h-1zM513 1183h1v1h-1zM647 1183h1v1h-1zM658 1183h1v1h-1zM661 1183h1v1h-1zM670 1183h1v1h-1zM717 1183h1v1h-1zM769 1183h1v1h-1zM658 1184h1v1h-1zM661 1184h1v1h-1zM670 1184h1v1h-1z"/><path fill="#006400" d="M249 1192h1v1h-1zM245 1193h1v1h-1zM249 1193h2v1h-2zM245 1194h1v1h-1zM248 1194h3v1h-3zM244 1195h2v1h-2zM247 1195h5v1h-5zM53 1196h1v1h-1zM59 1196h1v1h-1zM61 1196h2v1h-2zM70 1196h3v1h-3zM78 1196h5v1h-5zM84 1196h1v1h-1zM87 1196h1v1h-1zM90 1196h2v1h-2zM93 1196h1v1h-1zM95 1196h1v1h-1zM99 1196h1v1h-1zM102 1196h3v1h-3zM111 1196h3v1h-3zM117 1196h2v1h-2zM121 1196h2v1h-2zM126 1196h1v1h-1zM128 1196h1v1h-1zM138 1196h1v1h-1zM143 1196h1v1h-1zM146 1196h3v1h-3zM154 1196h1v1h-1zM157 1196h8v1h-8zM167 1196h1v1h-1zM178 1196h2v1h-2zM183 1196h2v1h-2zM187 1196h2v1h-2zM199 1196h2v1h-2zM204 1196h1v1h-1zM206 1196h2v1h-2zM212 1196h1v1h-1zM224 1196h1v1h-1zM228 1196h2v1h-2zM232 1196h1v1h-1zM244 1196h2v1h-2zM247 1196h8v1h-8zM258 1196h1v1h-1zM264 1196h4v1h-4zM269 1196h4v1h-4zM276 1196h6v1h-6zM289 1196h1v1h-1zM291 1196h1v1h-1zM295 1196h2v1h-2zM306 1196h2v1h-2zM310 1196h2v1h-2zM318 1196h1v1h-1zM334 1196h3v1h-3zM339 1196h1v1h-1zM344 1196h1v1h-1zM346 1196h2v1h-2zM349 1196h1v1h-1zM365 1196h1v1h-1zM367 1196h1v1h-1zM372 1196h2v1h-2zM378 1196h4v1h-4zM384 1196h4v1h-4zM389 1196h1v1h-1zM392 1196h1v1h-1zM396 1196h3v1h-3zM401 1196h1v1h-1zM404 1196h1v1h-1zM407 1196h2v1h-2zM413 1196h1v1h-1zM427 1196h4v1h-4zM442 1196h1v1h-1zM445 1196h2v1h-2zM450 1196h1v1h-1zM457 1196h1v1h-1zM463 1196h4v1h-4zM468 1196h1v1h-1zM473 1196h2v1h-2zM478 1196h1v1h-1zM481 1196h3v1h-3zM485 1196h1v1h-1zM489 1196h4v1h-4zM498 1196h1v1h-1zM502 1196h1v1h-1zM506 1196h1v1h-1zM515 1196h4v1h-4zM522 1196h4v1h-4zM527 1196h2v1h-2zM531 1196h1v1h-1zM554 1196h1v1h-1zM560 1196h1v1h-1zM563 1196h2v1h-2zM569 1196h2v1h-2zM573 1196h1v1h-1zM581 1196h1v1h-1zM583 1196h1v1h-1zM586 1196h2v1h-2zM590 1196h1v1h-1zM592 1196h1v1h-1zM597 1196h1v1h-1zM600 1196h1v1h-1zM604 1196h7v1h-7zM625 1196h1v1h-1zM633 1196h6v1h-6zM640 1196h2v1h-2zM647 1196h4v1h-4zM653 1196h2v1h-2zM657 1196h1v1h-1zM659 1196h2v1h-2zM675 1196h1v1h-1zM681 1196h3v1h-3zM685 1196h2v1h-2zM689 1196h1v1h-1zM691 1196h1v1h-1zM693 1196h1v1h-1zM702 1196h3v1h-3zM706 1196h2v1h-2zM711 1196h7v1h-7zM725 1196h4v1h-4zM732 1196h2v1h-2zM736 1196h1v1h-1zM740 1196h2v1h-2zM744 1196h1v1h-1zM747 1196h5v1h-5zM757 1196h3v1h-3zM764 1196h3v1h-3zM244 1197h2v1h-2zM247 1197h6v1h-6zM69 1198h1v1h-1zM117 1198h1v1h-1zM133 1198h1v1h-1zM142 1198h1v1h-1zM193 1198h1v1h-1zM241 1198h1v1h-1zM245 1198h1v1h-1zM247 1198h6v1h-6zM258 1198h1v1h-1zM268 1198h1v1h-1zM273 1198h1v1h-1zM290 1198h1v1h-1zM320 1198h1v1h-1zM375 1198h1v1h-1zM430 1198h1v1h-1zM446 1198h1v1h-1zM485 1198h1v1h-1zM495 1198h1v1h-1zM529 1198h1v1h-1zM550 1198h1v1h-1zM579 1198h1v1h-1zM584 1198h1v1h-1zM587 1198h1v1h-1zM657 1198h1v1h-1zM667 1198h1v1h-1zM680 1198h1v1h-1zM727 1198h1v1h-1zM245 1199h1v1h-1zM248 1199h3v1h-3zM258 1199h1v1h-1zM727 1199h1v1h-1zM249 1200h2v1h-2z"/><path fill="#000000" d="M52 1211h1v1h-1zM54 1211h2v1h-2zM60 1211h1v1h-1zM62 1211h2v1h-2zM66 1211h4v1h-4zM74 1211h2v1h-2zM79 1211h1v1h-1zM87 1211h1v1h-1zM92 1211h1v1h-1zM96 1211h1v1h-1zM98 1211h2v1h-2zM103 1211h1v1h-1zM107 1211h2v1h-2zM110 1211h1v1h-1zM112 1211h1v1h-1zM114 1211h1v1h-1zM117 1211h3v1h-3zM121 1211h1v1h-1zM123 1211h2v1h-2zM127 1211h1v1h-1zM132 1211h1v1h-1zM138 1211h1v1h-1zM141 1211h2v1h-2zM144 1211h3v1h-3zM148 1211h1v1h-1zM150 1211h1v1h-1zM157 1211h3v1h-3zM161 1211h2v1h-2zM166 1211h5v1h-5zM172 1211h3v1h-3zM176 1211h1v1h-1zM178 1211h2v1h-2zM185 1211h3v1h-3zM189 1211h2v1h-2zM193 1211h1v1h-1zM195 1211h5v1h-5zM201 1211h1v1h-1zM203 1211h2v1h-2zM207 1211h2v1h-2zM210 1211h2v1h-2zM213 1211h2v1h-2zM218 1211h1v1h-1zM220 1211h2v1h-2zM226 1211h1v1h-1zM232 1211h1v1h-1zM236 1211h4v1h-4zM243 1211h8v1h-8zM252 1211h9v1h-9zM262 1211h17v1h-17zM280 1211h9v1h-9zM290 1211h1v1h-1zM292 1211h1v1h-1zM296 1211h2v1h-2zM299 1211h3v1h-3zM305 1211h3v1h-3zM312 1211h1v1h-1zM314 1211h1v1h-1zM316 1211h2v1h-2zM321 1211h6v1h-6zM328 1211h1v1h-1zM331 1211h1v1h-1zM334 1211h2v1h-2zM338 1211h1v1h-1zM340 1211h1v1h-1zM342 1211h2v1h-2zM346 1211h1v1h-1zM350 1211h1v1h-1zM352 1211h3v1h-3zM356 1211h2v1h-2zM360 1211h1v1h-1zM362 1211h1v1h-1zM365 1211h1v1h-1zM367 1211h1v1h-1zM373 1211h1v1h-1zM375 1211h1v1h-1zM381 1211h3v1h-3zM390 1211h2v1h-2zM396 1211h1v1h-1zM398 1211h2v1h-2zM404 1211h4v1h-4zM409 1211h1v1h-1zM411 1211h1v1h-1zM413 1211h3v1h-3zM418 1211h2v1h-2zM422 1211h2v1h-2zM426 1211h5v1h-5zM432 1211h1v1h-1zM434 1211h1v1h-1zM438 1211h1v1h-1zM442 1211h10v1h-10zM454 1211h2v1h-2zM457 1211h1v1h-1zM459 1211h2v1h-2zM462 1211h2v1h-2zM468 1211h3v1h-3zM473 1211h1v1h-1zM475 1211h1v1h-1zM478 1211h3v1h-3zM487 1211h3v1h-3zM491 1211h4v1h-4zM496 1211h1v1h-1zM498 1211h1v1h-1zM500 1211h2v1h-2zM503 1211h1v1h-1zM507 1211h3v1h-3zM512 1211h1v1h-1zM515 1211h2v1h-2zM523 1211h1v1h-1zM525 1211h5v1h-5zM531 1211h2v1h-2zM534 1211h2v1h-2zM537 1211h2v1h-2zM540 1211h2v1h-2zM543 1211h3v1h-3zM547 1211h1v1h-1zM550 1211h1v1h-1zM554 1211h1v1h-1zM556 1211h2v1h-2zM559 1211h1v1h-1zM561 1211h2v1h-2zM565 1211h5v1h-5zM573 1211h4v1h-4zM579 1211h1v1h-1zM582 1211h3v1h-3zM586 1211h1v1h-1zM588 1211h2v1h-2zM591 1211h2v1h-2zM594 1211h2v1h-2zM597 1211h4v1h-4zM605 1211h2v1h-2zM609 1211h1v1h-1zM612 1211h2v1h-2zM615 1211h1v1h-1zM617 1211h1v1h-1zM619 1211h6v1h-6zM626 1211h2v1h-2zM630 1211h1v1h-1zM635 1211h2v1h-2zM638 1211h1v1h-1zM640 1211h2v1h-2zM643 1211h10v1h-10zM656 1211h1v1h-1zM659 1211h1v1h-1zM661 1211h1v1h-1zM667 1211h1v1h-1zM671 1211h1v1h-1zM673 1211h1v1h-1zM676 1211h3v1h-3zM683 1211h2v1h-2zM686 1211h2v1h-2zM690 1211h1v1h-1zM692 1211h2v1h-2zM696 1211h1v1h-1zM703 1211h1v1h-1zM709 1211h1v1h-1zM712 1211h1v1h-1zM714 1211h2v1h-2zM717 1211h1v1h-1zM721 1211h1v1h-1zM730 1211h1v1h-1zM733 1211h2v1h-2zM736 1211h2v1h-2zM740 1211h1v1h-1zM743 1211h2v1h-2zM757 1211h1v1h-1zM759 1211h2v1h-2zM764 1211h1v1h-1zM767 1211h3v1h-3zM250 1212h1v1h-1zM252 1212h3v1h-3zM256 1212h5v1h-5zM262 1212h18v1h-18zM281 1212h1v1h-1zM283 1212h5v1h-5zM89 1213h1v1h-1zM140 1213h1v1h-1zM252 1213h1v1h-1zM254 1213h1v1h-1zM259 1213h1v1h-1zM264 1213h2v1h-2zM269 1213h1v1h-1zM271 1213h1v1h-1zM274 1213h1v1h-1zM276 1213h1v1h-1zM278 1213h2v1h-2zM281 1213h1v1h-1zM366 1213h1v1h-1zM390 1213h1v1h-1zM394 1213h1v1h-1zM415 1213h1v1h-1zM464 1213h1v1h-1zM468 1213h1v1h-1zM482 1213h1v1h-1zM487 1213h1v1h-1zM489 1213h1v1h-1zM500 1213h1v1h-1zM516 1213h1v1h-1zM526 1213h1v1h-1zM542 1213h1v1h-1zM632 1213h1v1h-1zM649 1213h1v1h-1zM89 1214h1v1h-1zM415 1214h1v1h-1zM464 1214h1v1h-1zM482 1214h1v1h-1z"/><path fill="#ff0000" d="M52 1226h4v1h-4zM59 1226h2v1h-2zM64 1226h1v1h-1zM67 1226h2v1h-2zM73 1226h7v1h-7zM84 1226h1v1h-1zM86 1226h5v1h-5zM96 1226h2v1h-2zM99 1226h1v1h-1zM102 1226h3v1h-3zM107 1226h1v1h-1zM109 1226h1v1h-1zM111 1226h4v1h-4zM117 1226h2v1h-2zM123 1226h1v1h-1zM125 1226h3v1h-3zM132 1226h1v1h-1zM138 1226h5v1h-5zM144 1226h2v1h-2zM147 1226h4v1h-4zM152 1226h2v1h-2zM156 1226h1v1h-1zM160 1226h2v1h-2zM164 1226h2v1h-2zM170 1226h2v1h-2zM173 1226h1v1h-1zM175 1226h1v1h-1zM179 1226h1v1h-1zM183 1226h1v1h-1zM186 1226h1v1h-1zM192 1226h1v1h-1zM199 1226h2v1h-2zM204 1226h1v1h-1zM207 1226h1v1h-1zM211 1226h1v1h-1zM219 1226h2v1h-2zM225 1226h2v1h-2zM232 1226h3v1h-3zM236 1226h4v1h-4zM243 1226h1v1h-1zM245 1226h3v1h-3zM249 1226h1v1h-1zM251 1226h3v1h-3zM257 1226h2v1h-2zM260 1226h3v1h-3zM265 1226h1v1h-1zM268 1226h2v1h-2zM271 1226h5v1h-5zM278 1226h8v1h-8zM289 1226h1v1h-1zM294 1226h2v1h-2zM304 1226h2v1h-2zM307 1226h1v1h-1zM309 1226h1v1h-1zM311 1226h1v1h-1zM316 1226h1v1h-1zM320 1226h2v1h-2zM323 1226h1v1h-1zM330 1226h2v1h-2zM337 1226h3v1h-3zM341 1226h1v1h-1zM343 1226h1v1h-1zM347 1226h1v1h-1zM350 1226h1v1h-1zM352 1226h3v1h-3zM356 1226h2v1h-2zM360 1226h6v1h-6zM368 1226h1v1h-1zM371 1226h2v1h-2zM374 1226h1v1h-1zM376 1226h2v1h-2zM380 1226h1v1h-1zM387 1226h1v1h-1zM389 1226h3v1h-3zM394 1226h3v1h-3zM401 1226h1v1h-1zM403 1226h1v1h-1zM407 1226h1v1h-1zM409 1226h2v1h-2zM418 1226h1v1h-1zM421 1226h1v1h-1zM426 1226h4v1h-4zM432 1226h1v1h-1zM434 1226h8v1h-8zM443 1226h1v1h-1zM452 1226h2v1h-2zM460 1226h2v1h-2zM463 1226h3v1h-3zM469 1226h2v1h-2zM473 1226h5v1h-5zM481 1226h1v1h-1zM488 1226h6v1h-6zM495 1226h2v1h-2zM498 1226h6v1h-6zM505 1226h2v1h-2zM508 1226h2v1h-2zM518 1226h2v1h-2zM521 1226h3v1h-3zM525 1226h5v1h-5zM534 1226h2v1h-2zM538 1226h1v1h-1zM546 1226h3v1h-3zM557 1226h1v1h-1zM559 1226h1v1h-1zM563 1226h3v1h-3zM568 1226h1v1h-1zM572 1226h5v1h-5zM581 1226h1v1h-1zM583 1226h1v1h-1zM588 1226h6v1h-6zM595 1226h1v1h-1zM599 1226h1v1h-1zM601 1226h1v1h-1zM603 1226h3v1h-3zM607 1226h4v1h-4zM614 1226h1v1h-1zM619 1226h2v1h-2zM630 1226h1v1h-1zM632 1226h1v1h-1zM635 1226h6v1h-6zM643 1226h2v1h-2zM646 1226h2v1h-2zM651 1226h1v1h-1zM656 1226h1v1h-1zM658 1226h1v1h-1zM661 1226h1v1h-1zM663 1226h1v1h-1zM665 1226h2v1h-2zM671 1226h1v1h-1zM673 1226h1v1h-1zM676 1226h1v1h-1zM682 1226h1v1h-1zM686 1226h1v1h-1zM692 1226h2v1h-2zM702 1226h3v1h-3zM708 1226h1v1h-1zM711 1226h3v1h-3zM716 1226h3v1h-3zM720 1226h2v1h-2zM724 1226h1v1h-1zM728 1226h1v1h-1zM735 1226h1v1h-1zM737 1226h1v1h-1zM740 1226h6v1h-6zM750 1226h2v1h-2zM753 1226h5v1h-5zM759 1226h2v1h-2zM763 1226h3v1h-3zM767 1226h2v1h-2zM291 1227h1v1h-1zM52 1228h1v1h-1zM137 1228h1v1h-1zM210 1228h1v1h-1zM216 1228h1v1h-1zM240 1228h1v1h-1zM270 1228h1v1h-1zM291 1228h1v1h-1zM298 1228h1v1h-1zM319 1228h1v1h-1zM342 1228h1v1h-1zM397 1228h1v1h-1zM517 1228h1v1h-1zM542 1228h1v1h-1zM575 1228h1v1h-1zM584 1228h1v1h-1zM680 1228h1v1h-1zM691 1228h1v1h-1zM719 1228h1v1h-1zM746 1228h1v1h-1zM291 1229h1v1h-1z"/><path fill="#0000ff" d="M51 1241h2v1h-2zM56 1241h1v1h-1zM65 1241h2v1h-2zM69 1241h1v1h-1zM72 1241h3v1h-3zM76 1241h2v1h-2zM79 1241h1v1h-1zM81 1241h1v1h-1zM85 1241h1v1h-1zM93 1241h1v1h-1zM96 1241h1v1h-1zM100 1241h1v1h-1zM106 1241h3v1h-3zM111 1241h3v1h-3zM123 1241h1v1h-1zM125 1241h2v1h-2zM128 1241h1v1h-1zM130 1241h1v1h-1zM138 1241h1v1h-1zM144 1241h2v1h-2zM149 1241h1v1h-1zM158 1241h2v1h-2zM161 1241h1v1h-1zM163 1241h3v1h-3zM170 1241h2v1h-2zM178 1241h1v1h-1zM182 1241h3v1h-3zM186 1241h2v1h-2zM192 1241h3v1h-3zM196 1241h5v1h-5zM203 1241h3v1h-3zM208 1241h1v1h-1zM210 1241h1v1h-1zM214 1241h2v1h-2zM219 1241h1v1h-1zM226 1241h1v1h-1zM232 1241h1v1h-1zM238 1241h1v1h-1zM246 1241h1v1h-1zM249 1241h2v1h-2zM253 1241h3v1h-3zM263 1241h1v1h-1zM265 1241h5v1h-5zM274 1241h2v1h-2zM283 1241h1v1h-1zM286 1241h1v1h-1zM291 1241h2v1h-2zM298 1241h1v1h-1zM301 1241h5v1h-5zM309 1241h1v1h-1zM313 1241h1v1h-1zM316 1241h1v1h-1zM324 1241h2v1h-2zM329 1241h1v1h-1zM332 1241h1v1h-1zM334 1241h1v1h-1zM338 1241h1v1h-1zM342 1241h1v1h-1zM345 1241h1v1h-1zM348 1241h2v1h-2zM358 1241h1v1h-1zM362 1241h3v1h-3zM369 1241h1v1h-1zM373 1241h1v1h-1zM376 1241h1v1h-1zM380 1241h1v1h-1zM387 1241h2v1h-2zM390 1241h2v1h-2zM395 1241h2v1h-2zM398 1241h3v1h-3zM405 1241h2v1h-2zM409 1241h4v1h-4zM416 1241h1v1h-1zM418 1241h1v1h-1zM420 1241h3v1h-3zM428 1241h1v1h-1zM431 1241h1v1h-1zM434 1241h4v1h-4zM446 1241h1v1h-1zM448 1241h1v1h-1zM452 1241h1v1h-1zM454 1241h3v1h-3zM468 1241h2v1h-2zM472 1241h3v1h-3zM476 1241h2v1h-2zM483 1241h1v1h-1zM495 1241h3v1h-3zM509 1241h1v1h-1zM511 1241h1v1h-1zM516 1241h1v1h-1zM526 1241h1v1h-1zM534 1241h1v1h-1zM538 1241h1v1h-1zM540 1241h2v1h-2zM543 1241h1v1h-1zM552 1241h1v1h-1zM555 1241h3v1h-3zM571 1241h1v1h-1zM580 1241h1v1h-1zM582 1241h2v1h-2zM591 1241h4v1h-4zM597 1241h1v1h-1zM603 1241h2v1h-2zM607 1241h1v1h-1zM612 1241h9v1h-9zM628 1241h2v1h-2zM637 1241h1v1h-1zM642 1241h1v1h-1zM644 1241h1v1h-1zM647 1241h1v1h-1zM649 1241h1v1h-1zM655 1241h2v1h-2zM658 1241h1v1h-1zM665 1241h1v1h-1zM668 1241h1v1h-1zM671 1241h1v1h-1zM676 1241h1v1h-1zM678 1241h3v1h-3zM682 1241h1v1h-1zM684 1241h1v1h-1zM686 1241h3v1h-3zM690 1241h2v1h-2zM693 1241h1v1h-1zM707 1241h2v1h-2zM710 1241h1v1h-1zM715 1241h2v1h-2zM721 1241h2v1h-2zM729 1241h4v1h-4zM737 1241h3v1h-3zM747 1241h1v1h-1zM762 1241h1v1h-1zM768 1241h2v1h-2zM107 1243h1v1h-1zM138 1243h1v1h-1zM191 1243h1v1h-1zM197 1243h1v1h-1zM268 1243h1v1h-1zM283 1243h1v1h-1zM287 1243h1v1h-1zM308 1243h1v1h-1zM315 1243h1v1h-1zM331 1243h1v1h-1zM391 1243h1v1h-1zM411 1243h1v1h-1zM424 1243h1v1h-1zM456 1243h1v1h-1zM473 1243h2v1h-2zM479 1243h1v1h-1zM502 1243h1v1h-1zM514 1243h1v1h-1zM541 1243h1v1h-1zM546 1243h1v1h-1zM633 1243h1v1h-1zM636 1243h1v1h-1zM686 1243h1v1h-1zM723 1243h1v1h-1zM755 1243h1v1h-1zM502 1244h1v1h-1zM686 1244h1v1h-1z"/><path fill="#006400" d="M359 1240h1v1h-1zM359 1241h1v1h-1zM354 1242h1v1h-1zM358 1242h2v1h-2zM363 1242h1v1h-1zM330 1243h1v1h-1zM333 1243h2v1h-2zM354 1243h1v1h-1zM358 1243h2v1h-2zM363 1243h1v1h-1zM330 1244h1v1h-1zM333 1244h2v1h-2zM354 1244h1v1h-1zM356 1244h1v1h-1zM358 1244h2v1h-2zM362 1244h2v1h-2zM330 1245h1v1h-1zM333 1245h2v1h-2zM354 1245h1v1h-1zM356 1245h1v1h-1zM358 1245h2v1h-2zM362 1245h2v1h-2zM366 1245h1v1h-1zM330 1246h1v1h-1zM333 1246h2v1h-2zM354 1246h1v1h-1zM356 1246h1v1h-1zM358 1246h2v1h-2zM362 1246h2v1h-2zM366 1246h1v1h-1zM330 1247h1v1h-1zM333 1247h2v1h-2zM337 1247h1v1h-1zM354 1247h1v1h-1zM356 1247h4v1h-4zM362 1247h2v1h-2zM366 1247h1v1h-1zM330 1248h1v1h-1zM333 1248h3v1h-3zM337 1248h1v1h-1zM354 1248h1v1h-1zM356 1248h4v1h-4zM361 1248h3v1h-3zM366 1248h1v1h-1zM330 1249h1v1h-1zM332 1249h4v1h-4zM337 1249h1v1h-1zM339 1249h1v1h-1zM353 1249h2v1h-2zM356 1249h4v1h-4zM361 1249h3v1h-3zM366 1249h1v1h-1zM369 1249h1v1h-1zM330 1250h10v1h-10zM343 1250h1v1h-1zM352 1250h8v1h-8zM361 1250h4v1h-4zM366 1250h2v1h-2zM369 1250h1v1h-1zM329 1251h11v1h-11zM341 1251h1v1h-1zM343 1251h1v1h-1zM352 1251h13v1h-13zM366 1251h4v1h-4zM371 1251h1v1h-1zM327 1252h15v1h-15zM343 1252h3v1h-3zM347 1252h2v1h-2zM351 1252h14v1h-14zM366 1252h6v1h-6zM373 1252h1v1h-1zM327 1253h15v1h-15zM343 1253h3v1h-3zM347 1253h2v1h-2zM350 1253h24v1h-24zM376 1253h1v1h-1zM325 1254h52v1h-52zM379 1254h1v1h-1zM381 1254h2v1h-2zM384 1254h1v1h-1zM325 1255h62v1h-62zM389 1255h2v1h-2zM394 1255h1v1h-1zM397 1255h1v1h-1zM399 1255h1v1h-1zM56 1256h2v1h-2zM69 1256h5v1h-5zM83 1256h1v1h-1zM85 1256h1v1h-1zM88 1256h4v1h-4zM93 1256h1v1h-1zM95 1256h2v1h-2zM98 1256h4v1h-4zM103 1256h2v1h-2zM116 1256h1v1h-1zM134 1256h1v1h-1zM137 1256h1v1h-1zM144 1256h3v1h-3zM148 1256h3v1h-3zM161 1256h2v1h-2zM167 1256h2v1h-2zM170 1256h1v1h-1zM174 1256h6v1h-6zM201 1256h1v1h-1zM207 1256h1v1h-1zM209 1256h4v1h-4zM217 1256h2v1h-2zM234 1256h1v1h-1zM241 1256h4v1h-4zM248 1256h4v1h-4zM254 1256h1v1h-1zM261 1256h3v1h-3zM267 1256h1v1h-1zM272 1256h1v1h-1zM278 1256h2v1h-2zM283 1256h2v1h-2zM287 1256h5v1h-5zM307 1256h1v1h-1zM316 1256h2v1h-2zM319 1256h1v1h-1zM325 1256h63v1h-63zM389 1256h3v1h-3zM393 1256h28v1h-28zM422 1256h11v1h-11zM444 1256h6v1h-6zM451 1256h1v1h-1zM457 1256h1v1h-1zM486 1256h3v1h-3zM496 1256h3v1h-3zM503 1256h1v1h-1zM513 1256h1v1h-1zM515 1256h1v1h-1zM524 1256h1v1h-1zM531 1256h7v1h-7zM539 1256h1v1h-1zM545 1256h1v1h-1zM549 1256h1v1h-1zM551 1256h1v1h-1zM554 1256h2v1h-2zM576 1256h3v1h-3zM591 1256h2v1h-2zM597 1256h4v1h-4zM608 1256h1v1h-1zM610 1256h2v1h-2zM619 1256h2v1h-2zM638 1256h1v1h-1zM659 1256h2v1h-2zM666 1256h1v1h-1zM676 1256h3v1h-3zM682 1256h2v1h-2zM688 1256h1v1h-1zM691 1256h3v1h-3zM699 1256h1v1h-1zM720 1256h2v1h-2zM730 1256h2v1h-2zM737 1256h8v1h-8zM747 1256h4v1h-4zM759 1256h2v1h-2zM764 1256h5v1h-5zM325 1257h67v1h-67zM393 1257h10v1h-10zM404 1257h10v1h-10zM415 1257h18v1h-18zM141 1258h1v1h-1zM157 1258h2v1h-2zM178 1258h1v1h-1zM264 1258h1v1h-1zM267 1258h1v1h-1zM295 1258h1v1h-1zM319 1258h1v1h-1zM325 1258h62v1h-62zM388 1258h1v1h-1zM391 1258h1v1h-1zM393 1258h1v1h-1zM396 1258h2v1h-2zM399 1258h2v1h-2zM402 1258h1v1h-1zM404 1258h1v1h-1zM406 1258h1v1h-1zM408 1258h2v1h-2zM411 1258h1v1h-1zM413 1258h1v1h-1zM416 1258h3v1h-3zM420 1258h2v1h-2zM423 1258h1v1h-1zM425 1258h1v1h-1zM428 1258h1v1h-1zM430 1258h4v1h-4zM435 1258h1v1h-1zM438 1258h1v1h-1zM452 1258h1v1h-1zM463 1258h1v1h-1zM489 1258h1v1h-1zM568 1258h1v1h-1zM618 1258h1v1h-1zM728 1258h1v1h-1zM753 1258h1v1h-1zM325 1259h62v1h-62zM388 1259h1v1h-1zM391 1259h1v1h-1zM393 1259h1v1h-1zM396 1259h1v1h-1zM399 1259h1v1h-1zM618 1259h1v1h-1zM325 1260h50v1h-50zM376 1260h1v1h-1zM379 1260h1v1h-1zM381 1260h2v1h-2zM384 1260h1v1h-1zM325 1261h5v1h-5zM331 1261h3v1h-3zM335 1261h36v1h-36zM372 1261h2v1h-2zM381 1261h2v1h-2zM325 1262h5v1h-5zM331 1262h3v1h-3zM335 1262h2v1h-2zM338 1262h11v1h-11zM350 1262h19v1h-19zM373 1262h1v1h-1zM325 1263h2v1h-2zM328 1263h2v1h-2zM331 1263h3v1h-3zM336 1263h1v1h-1zM339 1263h1v1h-1zM341 1263h1v1h-1zM343 1263h1v1h-1zM345 1263h4v1h-4zM350 1263h1v1h-1zM352 1263h12v1h-12zM365 1263h4v1h-4zM326 1264h1v1h-1zM329 1264h1v1h-1zM331 1264h3v1h-3zM339 1264h1v1h-1zM343 1264h1v1h-1zM345 1264h1v1h-1zM347 1264h2v1h-2zM352 1264h12v1h-12zM366 1264h2v1h-2zM326 1265h1v1h-1zM329 1265h1v1h-1zM331 1265h3v1h-3zM339 1265h1v1h-1zM343 1265h1v1h-1zM348 1265h1v1h-1zM352 1265h7v1h-7zM360 1265h1v1h-1zM362 1265h2v1h-2zM366 1265h2v1h-2zM326 1266h1v1h-1zM329 1266h1v1h-1zM332 1266h2v1h-2zM339 1266h1v1h-1zM348 1266h1v1h-1zM353 1266h6v1h-6zM360 1266h1v1h-1zM362 1266h1v1h-1zM366 1266h2v1h-2zM329 1267h1v1h-1zM332 1267h2v1h-2zM339 1267h1v1h-1zM348 1267h1v1h-1zM353 1267h4v1h-4zM358 1267h1v1h-1zM360 1267h1v1h-1zM362 1267h1v1h-1zM366 1267h2v1h-2zM332 1268h2v1h-2zM339 1268h1v1h-1zM348 1268h1v1h-1zM353 1268h4v1h-4zM358 1268h1v1h-1zM360 1268h1v1h-1zM362 1268h1v1h-1zM367 1268h1v1h-1zM333 1269h1v1h-1zM348 1269h1v1h-1zM353 1269h4v1h-4zM362 1269h1v1h-1zM333 1270h1v1h-1zM353 1270h4v1h-4zM362 1270h1v1h-1zM333 1271h1v1h-1zM353 1271h4v1h-4zM362 1271h1v1h-1zM333 1272h1v1h-1zM354 1272h2v1h-2zM362 1272h1v1h-1zM333 1273h1v1h-1zM355 1273h1v1h-1zM362 1273h1v1h-1zM333 1274h1v1h-1zM355 1274h1v1h-1zM362 1274h1v1h-1zM333 1275h1v1h-1zM355 1275h1v1h-1zM362 1275h1v1h-1zM333 1276h1v1h-1zM362 1276h1v1h-1zM333 1277h1v1h-1zM333 1278h1v1h-1z"/><path fill="#000000" d="M54 1271h2v1h-2zM59 1271h1v1h-1zM64 1271h1v1h-1zM68 1271h1v1h-1zM74 1271h1v1h-1zM76 1271h1v1h-1zM78 1271h3v1h-3zM82 1271h1v1h-1zM84 1271h5v1h-5zM91 1271h3v1h-3zM95 1271h1v1h-1zM101 1271h6v1h-6zM116 1271h1v1h-1zM119 1271h1v1h-1zM122 1271h2v1h-2zM130 1271h2v1h-2zM137 1271h3v1h-3zM154 1271h1v1h-1zM159 1271h2v1h-2zM164 1271h2v1h-2zM168 1271h1v1h-1zM174 1271h2v1h-2zM178 1271h2v1h-2zM182 1271h1v1h-1zM187 1271h5v1h-5zM204 1271h1v1h-1zM223 1271h1v1h-1zM232 1271h5v1h-5zM238 1271h2v1h-2zM249 1271h1v1h-1zM255 1271h3v1h-3zM261 1271h2v1h-2zM273 1271h2v1h-2zM279 1271h1v1h-1zM284 1271h1v1h-1zM292 1271h1v1h-1zM297 1271h1v1h-1zM299 1271h2v1h-2zM305 1271h1v1h-1zM309 1271h1v1h-1zM316 1271h1v1h-1zM322 1271h1v1h-1zM328 1271h1v1h-1zM335 1271h2v1h-2zM345 1271h1v1h-1zM366 1271h1v1h-1zM380 1271h2v1h-2zM383 1271h1v1h-1zM386 1271h2v1h-2zM393 1271h1v1h-1zM395 1271h1v1h-1zM407 1271h1v1h-1zM411 1271h1v1h-1zM418 1271h1v1h-1zM426 1271h3v1h-3zM430 1271h1v1h-1zM434 1271h5v1h-5zM440 1271h1v1h-1zM447 1271h1v1h-1zM450 1271h7v1h-7zM458 1271h2v1h-2zM462 1271h1v1h-1zM467 1271h1v1h-1zM471 1271h7v1h-7zM485 1271h1v1h-1zM494 1271h1v1h-1zM497 1271h1v1h-1zM501 1271h1v1h-1zM506 1271h1v1h-1zM514 1271h2v1h-2zM517 1271h3v1h-3zM527 1271h1v1h-1zM529 1271h2v1h-2zM535 1271h2v1h-2zM539 1271h1v1h-1zM541 1271h6v1h-6zM548 1271h1v1h-1zM551 1271h2v1h-2zM564 1271h4v1h-4zM570 1271h2v1h-2zM575 1271h1v1h-1zM578 1271h1v1h-1zM581 1271h1v1h-1zM587 1271h3v1h-3zM594 1271h2v1h-2zM597 1271h1v1h-1zM603 1271h1v1h-1zM606 1271h1v1h-1zM609 1271h1v1h-1zM612 1271h1v1h-1zM616 1271h5v1h-5zM634 1271h2v1h-2zM638 1271h3v1h-3zM644 1271h2v1h-2zM649 1271h1v1h-1zM651 1271h1v1h-1zM673 1271h1v1h-1zM678 1271h2v1h-2zM682 1271h2v1h-2zM690 1271h7v1h-7zM702 1271h5v1h-5zM710 1271h1v1h-1zM715 1271h3v1h-3zM720 1271h5v1h-5zM726 1271h2v1h-2zM729 1271h2v1h-2zM733 1271h2v1h-2zM742 1271h2v1h-2zM758 1271h1v1h-1zM762 1271h3v1h-3zM767 1271h1v1h-1zM769 1271h1v1h-1zM115 1273h1v1h-1zM170 1273h1v1h-1zM198 1273h1v1h-1zM250 1273h1v1h-1zM254 1273h1v1h-1zM257 1273h1v1h-1zM267 1273h1v1h-1zM272 1273h1v1h-1zM285 1273h1v1h-1zM291 1273h1v1h-1zM333 1273h1v1h-1zM343 1273h1v1h-1zM354 1273h1v1h-1zM372 1273h1v1h-1zM409 1273h1v1h-1zM411 1273h1v1h-1zM449 1273h1v1h-1zM494 1273h1v1h-1zM572 1273h1v1h-1zM593 1273h1v1h-1zM642 1273h1v1h-1zM702 1273h1v1h-1zM704 1273h1v1h-1zM756 1273h1v1h-1zM115 1274h1v1h-1zM411 1274h1v1h-1zM642 1274h1v1h-1z"/><path fill="#ff0000" d="M680 1284h1v1h-1zM680 1285h1v1h-1zM51 1286h1v1h-1zM53 1286h1v1h-1zM57 1286h2v1h-2zM60 1286h3v1h-3zM69 1286h1v1h-1zM74 1286h4v1h-4zM88 1286h1v1h-1zM91 1286h1v1h-1zM93 1286h1v1h-1zM95 1286h1v1h-1zM97 1286h5v1h-5zM104 1286h1v1h-1zM106 1286h1v1h-1zM108 1286h3v1h-3zM113 1286h1v1h-1zM116 1286h1v1h-1zM120 1286h4v1h-4zM134 1286h2v1h-2zM138 1286h1v1h-1zM142 1286h1v1h-1zM144 1286h1v1h-1zM146 1286h1v1h-1zM148 1286h2v1h-2zM152 1286h1v1h-1zM154 1286h1v1h-1zM156 1286h3v1h-3zM165 1286h1v1h-1zM168 1286h1v1h-1zM176 1286h1v1h-1zM180 1286h1v1h-1zM188 1286h1v1h-1zM190 1286h1v1h-1zM192 1286h1v1h-1zM196 1286h2v1h-2zM203 1286h4v1h-4zM208 1286h2v1h-2zM211 1286h1v1h-1zM217 1286h2v1h-2zM221 1286h4v1h-4zM238 1286h2v1h-2zM243 1286h2v1h-2zM250 1286h4v1h-4zM256 1286h2v1h-2zM259 1286h1v1h-1zM263 1286h5v1h-5zM269 1286h1v1h-1zM272 1286h3v1h-3zM277 1286h3v1h-3zM283 1286h2v1h-2zM287 1286h3v1h-3zM292 1286h1v1h-1zM295 1286h1v1h-1zM299 1286h2v1h-2zM303 1286h2v1h-2zM306 1286h4v1h-4zM316 1286h3v1h-3zM320 1286h1v1h-1zM322 1286h3v1h-3zM328 1286h1v1h-1zM330 1286h3v1h-3zM334 1286h2v1h-2zM338 1286h1v1h-1zM342 1286h1v1h-1zM344 1286h1v1h-1zM349 1286h1v1h-1zM353 1286h1v1h-1zM355 1286h1v1h-1zM359 1286h1v1h-1zM361 1286h2v1h-2zM364 1286h6v1h-6zM372 1286h7v1h-7zM384 1286h1v1h-1zM386 1286h4v1h-4zM391 1286h1v1h-1zM397 1286h1v1h-1zM402 1286h5v1h-5zM408 1286h2v1h-2zM412 1286h1v1h-1zM415 1286h3v1h-3zM420 1286h2v1h-2zM423 1286h1v1h-1zM426 1286h2v1h-2zM430 1286h1v1h-1zM437 1286h4v1h-4zM452 1286h1v1h-1zM454 1286h1v1h-1zM459 1286h1v1h-1zM464 1286h1v1h-1zM466 1286h1v1h-1zM470 1286h2v1h-2zM473 1286h2v1h-2zM477 1286h1v1h-1zM481 1286h4v1h-4zM488 1286h3v1h-3zM493 1286h1v1h-1zM496 1286h1v1h-1zM499 1286h1v1h-1zM502 1286h1v1h-1zM504 1286h3v1h-3zM508 1286h4v1h-4zM515 1286h1v1h-1zM517 1286h1v1h-1zM520 1286h2v1h-2zM523 1286h1v1h-1zM528 1286h6v1h-6zM535 1286h1v1h-1zM537 1286h1v1h-1zM544 1286h2v1h-2zM548 1286h1v1h-1zM550 1286h1v1h-1zM556 1286h1v1h-1zM561 1286h1v1h-1zM563 1286h3v1h-3zM570 1286h1v1h-1zM572 1286h5v1h-5zM578 1286h2v1h-2zM581 1286h1v1h-1zM587 1286h5v1h-5zM594 1286h1v1h-1zM598 1286h1v1h-1zM603 1286h3v1h-3zM608 1286h3v1h-3zM613 1286h1v1h-1zM618 1286h4v1h-4zM623 1286h1v1h-1zM625 1286h1v1h-1zM629 1286h1v1h-1zM632 1286h1v1h-1zM639 1286h1v1h-1zM646 1286h1v1h-1zM651 1286h1v1h-1zM662 1286h2v1h-2zM665 1286h3v1h-3zM672 1286h3v1h-3zM676 1286h1v1h-1zM680 1286h7v1h-7zM690 1286h1v1h-1zM692 1286h3v1h-3zM699 1286h3v1h-3zM704 1286h2v1h-2zM708 1286h1v1h-1zM714 1286h3v1h-3zM719 1286h1v1h-1zM721 1286h2v1h-2zM729 1286h3v1h-3zM736 1286h1v1h-1zM739 1286h2v1h-2zM742 1286h3v1h-3zM750 1286h2v1h-2zM756 1286h3v1h-3zM760 1286h1v1h-1zM762 1286h2v1h-2zM765 1286h4v1h-4zM84 1288h1v1h-1zM86 1288h2v1h-2zM152 1288h1v1h-1zM165 1288h2v1h-2zM192 1288h1v1h-1zM198 1288h1v1h-1zM238 1288h1v1h-1zM299 1288h1v1h-1zM324 1288h1v1h-1zM349 1288h1v1h-1zM354 1288h2v1h-2zM361 1288h1v1h-1zM384 1288h1v1h-1zM432 1288h1v1h-1zM461 1288h1v1h-1zM547 1288h1v1h-1zM553 1288h1v1h-1zM562 1288h1v1h-1zM575 1288h1v1h-1zM611 1288h1v1h-1zM637 1288h1v1h-1zM688 1288h1v1h-1zM703 1288h1v1h-1zM741 1288h1v1h-1z"/><path fill="#0000ff" d="M54 1301h1v1h-1zM57 1301h1v1h-1zM59 1301h2v1h-2zM63 1301h1v1h-1zM66 1301h2v1h-2zM74 1301h1v1h-1zM76 1301h1v1h-1zM78 1301h9v1h-9zM88 1301h2v1h-2zM91 1301h2v1h-2zM94 1301h2v1h-2zM100 1301h1v1h-1zM102 1301h1v1h-1zM105 1301h1v1h-1zM107 1301h1v1h-1zM111 1301h2v1h-2zM118 1301h6v1h-6zM125 1301h8v1h-8zM134 1301h1v1h-1zM136 1301h1v1h-1zM138 1301h1v1h-1zM140 1301h2v1h-2zM145 1301h4v1h-4zM150 1301h1v1h-1zM152 1301h3v1h-3zM157 1301h5v1h-5zM163 1301h2v1h-2zM166 1301h1v1h-1zM168 1301h4v1h-4zM178 1301h2v1h-2zM183 1301h4v1h-4zM190 1301h3v1h-3zM195 1301h1v1h-1zM197 1301h1v1h-1zM200 1301h1v1h-1zM206 1301h4v1h-4zM212 1301h1v1h-1zM215 1301h1v1h-1zM219 1301h1v1h-1zM225 1301h1v1h-1zM228 1301h2v1h-2zM231 1301h1v1h-1zM233 1301h2v1h-2zM236 1301h1v1h-1zM238 1301h3v1h-3zM242 1301h2v1h-2zM247 1301h1v1h-1zM253 1301h1v1h-1zM255 1301h3v1h-3zM261 1301h1v1h-1zM264 1301h5v1h-5zM270 1301h1v1h-1zM272 1301h3v1h-3zM281 1301h2v1h-2zM287 1301h2v1h-2zM293 1301h1v1h-1zM298 1301h1v1h-1zM302 1301h3v1h-3zM308 1301h3v1h-3zM312 1301h1v1h-1zM316 1301h6v1h-6zM323 1301h1v1h-1zM328 1301h2v1h-2zM332 1301h3v1h-3zM339 1301h1v1h-1zM341 1301h2v1h-2zM345 1301h1v1h-1zM347 1301h2v1h-2zM351 1301h1v1h-1zM353 1301h4v1h-4zM359 1301h1v1h-1zM363 1301h1v1h-1zM367 1301h1v1h-1zM369 1301h2v1h-2zM374 1301h6v1h-6zM384 1301h4v1h-4zM397 1301h1v1h-1zM400 1301h1v1h-1zM403 1301h1v1h-1zM407 1301h4v1h-4zM414 1301h3v1h-3zM420 1301h1v1h-1zM424 1301h3v1h-3zM430 1301h1v1h-1zM433 1301h1v1h-1zM435 1301h3v1h-3zM445 1301h1v1h-1zM447 1301h1v1h-1zM452 1301h1v1h-1zM454 1301h7v1h-7zM468 1301h1v1h-1zM473 1301h2v1h-2zM476 1301h1v1h-1zM479 1301h2v1h-2zM483 1301h8v1h-8zM493 1301h3v1h-3zM500 1301h2v1h-2zM504 1301h1v1h-1zM507 1301h7v1h-7zM515 1301h1v1h-1zM517 1301h1v1h-1zM519 1301h2v1h-2zM522 1301h1v1h-1zM525 1301h1v1h-1zM527 1301h3v1h-3zM532 1301h1v1h-1zM534 1301h2v1h-2zM537 1301h2v1h-2zM540 1301h1v1h-1zM544 1301h4v1h-4zM549 1301h2v1h-2zM553 1301h1v1h-1zM555 1301h1v1h-1zM557 1301h2v1h-2zM561 1301h1v1h-1zM563 1301h1v1h-1zM567 1301h1v1h-1zM570 1301h2v1h-2zM579 1301h2v1h-2zM585 1301h5v1h-5zM591 1301h1v1h-1zM593 1301h1v1h-1zM595 1301h2v1h-2zM598 1301h4v1h-4zM609 1301h1v1h-1zM611 1301h2v1h-2zM614 1301h1v1h-1zM617 1301h1v1h-1zM624 1301h1v1h-1zM628 1301h1v1h-1zM631 1301h2v1h-2zM637 1301h5v1h-5zM643 1301h1v1h-1zM645 1301h1v1h-1zM650 1301h1v1h-1zM656 1301h1v1h-1zM659 1301h2v1h-2zM662 1301h1v1h-1zM665 1301h1v1h-1zM667 1301h1v1h-1zM671 1301h1v1h-1zM679 1301h1v1h-1zM682 1301h5v1h-5zM688 1301h3v1h-3zM692 1301h2v1h-2zM696 1301h2v1h-2zM700 1301h5v1h-5zM706 1301h1v1h-1zM708 1301h1v1h-1zM710 1301h1v1h-1zM712 1301h2v1h-2zM716 1301h2v1h-2zM723 1301h5v1h-5zM738 1301h1v1h-1zM740 1301h7v1h-7zM750 1301h1v1h-1zM754 1301h4v1h-4zM764 1301h2v1h-2zM769 1301h1v1h-1zM76 1303h1v1h-1zM88 1303h1v1h-1zM94 1303h1v1h-1zM101 1303h1v1h-1zM110 1303h1v1h-1zM115 1303h1v1h-1zM130 1303h2v1h-2zM139 1303h1v1h-1zM191 1303h1v1h-1zM195 1303h1v1h-1zM222 1303h1v1h-1zM227 1303h1v1h-1zM231 1303h1v1h-1zM233 1303h1v1h-1zM274 1303h1v1h-1zM276 1303h1v1h-1zM303 1303h1v1h-1zM310 1303h1v1h-1zM324 1303h1v1h-1zM326 1303h1v1h-1zM341 1303h1v1h-1zM373 1303h1v1h-1zM558 1303h1v1h-1zM583 1303h1v1h-1zM585 1303h1v1h-1zM587 1303h1v1h-1zM594 1303h1v1h-1zM604 1303h1v1h-1zM611 1303h1v1h-1zM620 1303h1v1h-1zM697 1303h1v1h-1zM702 1303h1v1h-1zM733 1303h1v1h-1zM195 1304h1v1h-1zM585 1304h1v1h-1z"/><path fill="#006400" d="M53 1316h1v1h-1zM59 1316h2v1h-2zM65 1316h4v1h-4zM70 1316h5v1h-5zM76 1316h1v1h-1zM82 1316h1v1h-1zM96 1316h1v1h-1zM106 1316h3v1h-3zM110 1316h1v1h-1zM132 1316h3v1h-3zM137 1316h5v1h-5zM160 1316h1v1h-1zM174 1316h1v1h-1zM179 1316h2v1h-2zM183 1316h3v1h-3zM189 1316h2v1h-2zM194 1316h1v1h-1zM200 1316h1v1h-1zM208 1316h1v1h-1zM215 1316h4v1h-4zM238 1316h3v1h-3zM242 1316h4v1h-4zM250 1316h2v1h-2zM281 1316h2v1h-2zM294 1316h2v1h-2zM300 1316h7v1h-7zM322 1316h4v1h-4zM339 1316h3v1h-3zM345 1316h2v1h-2zM348 1316h1v1h-1zM354 1316h1v1h-1zM360 1316h2v1h-2zM369 1316h2v1h-2zM376 1316h1v1h-1zM380 1316h1v1h-1zM386 1316h1v1h-1zM420 1316h3v1h-3zM432 1316h3v1h-3zM441 1316h1v1h-1zM450 1316h1v1h-1zM452 1316h1v1h-1zM456 1316h1v1h-1zM466 1316h2v1h-2zM473 1316h4v1h-4zM480 1316h2v1h-2zM484 1316h8v1h-8zM498 1316h1v1h-1zM510 1316h1v1h-1zM512 1316h1v1h-1zM519 1316h6v1h-6zM534 1316h1v1h-1zM537 1316h3v1h-3zM546 1316h1v1h-1zM549 1316h1v1h-1zM551 1316h3v1h-3zM555 1316h9v1h-9zM570 1316h1v1h-1zM574 1316h1v1h-1zM577 1316h6v1h-6zM594 1316h2v1h-2zM598 1316h2v1h-2zM607 1316h1v1h-1zM618 1316h1v1h-1zM627 1316h1v1h-1zM631 1316h4v1h-4zM639 1316h2v1h-2zM642 1316h1v1h-1zM644 1316h5v1h-5zM673 1316h1v1h-1zM676 1316h2v1h-2zM683 1316h1v1h-1zM690 1316h1v1h-1zM692 1316h1v1h-1zM696 1316h1v1h-1zM700 1316h3v1h-3zM704 1316h3v1h-3zM713 1316h1v1h-1zM730 1316h2v1h-2zM735 1316h1v1h-1zM752 1316h1v1h-1zM754 1316h1v1h-1zM763 1316h2v1h-2zM94 1318h1v1h-1zM108 1318h1v1h-1zM129 1318h1v1h-1zM133 1318h1v1h-1zM186 1318h1v1h-1zM229 1318h1v1h-1zM270 1318h1v1h-1zM336 1318h1v1h-1zM448 1318h1v1h-1zM456 1318h1v1h-1zM491 1318h1v1h-1zM500 1318h1v1h-1zM527 1318h1v1h-1zM533 1318h1v1h-1zM536 1318h1v1h-1zM552 1318h1v1h-1zM569 1318h1v1h-1zM593 1318h1v1h-1zM629 1318h1v1h-1zM632 1318h1v1h-1zM669 1318h1v1h-1zM700 1318h1v1h-1zM500 1319h1v1h-1z"/><path fill="#000000" d="M51 1331h1v1h-1zM53 1331h1v1h-1zM56 1331h2v1h-2zM62 1331h1v1h-1zM70 1331h2v1h-2zM74 1331h2v1h-2zM78 1331h1v1h-1zM80 1331h1v1h-1zM92 1331h1v1h-1zM98 1331h1v1h-1zM106 1331h1v1h-1zM111 1331h1v1h-1zM115 1331h6v1h-6zM124 1331h1v1h-1zM128 1331h2v1h-2zM131 1331h4v1h-4zM137 1331h7v1h-7zM148 1331h1v1h-1zM150 1331h2v1h-2zM153 1331h6v1h-6zM162 1331h4v1h-4zM167 1331h2v1h-2zM174 1331h1v1h-1zM178 1331h1v1h-1zM181 1331h2v1h-2zM185 1331h1v1h-1zM187 1331h1v1h-1zM202 1331h1v1h-1zM208 1331h2v1h-2zM211 1331h1v1h-1zM213 1331h3v1h-3zM217 1331h7v1h-7zM225 1331h2v1h-2zM228 1331h3v1h-3zM236 1331h1v1h-1zM239 1331h1v1h-1zM247 1331h2v1h-2zM250 1331h5v1h-5zM261 1331h2v1h-2zM267 1331h1v1h-1zM269 1331h3v1h-3zM279 1331h2v1h-2zM286 1331h1v1h-1zM288 1331h1v1h-1zM292 1331h3v1h-3zM296 1331h1v1h-1zM300 1331h4v1h-4zM307 1331h1v1h-1zM312 1331h1v1h-1zM318 1331h1v1h-1zM334 1331h1v1h-1zM337 1331h3v1h-3zM343 1331h2v1h-2zM349 1331h1v1h-1zM351 1331h1v1h-1zM355 1331h1v1h-1zM358 1331h4v1h-4zM365 1331h3v1h-3zM369 1331h1v1h-1zM371 1331h2v1h-2zM374 1331h1v1h-1zM382 1331h1v1h-1zM384 1331h1v1h-1zM386 1331h2v1h-2zM391 1331h1v1h-1zM397 1331h1v1h-1zM402 1331h1v1h-1zM413 1331h2v1h-2zM417 1331h1v1h-1zM425 1331h1v1h-1zM427 1331h2v1h-2zM433 1331h1v1h-1zM441 1331h1v1h-1zM443 1331h1v1h-1zM447 1331h3v1h-3zM452 1331h5v1h-5zM458 1331h1v1h-1zM461 1331h1v1h-1zM463 1331h5v1h-5zM470 1331h1v1h-1zM473 1331h3v1h-3zM479 1331h2v1h-2zM484 1331h1v1h-1zM487 1331h2v1h-2zM495 1331h2v1h-2zM499 1331h2v1h-2zM502 1331h2v1h-2zM510 1331h1v1h-1zM517 1331h1v1h-1zM519 1331h1v1h-1zM523 1331h2v1h-2zM533 1331h1v1h-1zM541 1331h1v1h-1zM543 1331h3v1h-3zM547 1331h2v1h-2zM551 1331h2v1h-2zM554 1331h2v1h-2zM558 1331h5v1h-5zM566 1331h3v1h-3zM572 1331h2v1h-2zM578 1331h1v1h-1zM580 1331h1v1h-1zM593 1331h1v1h-1zM599 1331h1v1h-1zM603 1331h3v1h-3zM609 1331h3v1h-3zM615 1331h1v1h-1zM618 1331h1v1h-1zM624 1331h1v1h-1zM627 1331h2v1h-2zM630 1331h2v1h-2zM635 1331h1v1h-1zM639 1331h3v1h-3zM644 1331h2v1h-2zM647 1331h2v1h-2zM650 1331h4v1h-4zM656 1331h1v1h-1zM658 1331h4v1h-4zM672 1331h2v1h-2zM675 1331h3v1h-3zM679 1331h5v1h-5zM690 1331h2v1h-2zM695 1331h3v1h-3zM700 1331h3v1h-3zM704 1331h3v1h-3zM708 1331h2v1h-2zM711 1331h1v1h-1zM715 1331h1v1h-1zM720 1331h4v1h-4zM725 1331h4v1h-4zM731 1331h2v1h-2zM736 1331h3v1h-3zM740 1331h1v1h-1zM742 1331h1v1h-1zM746 1331h2v1h-2zM754 1331h1v1h-1zM756 1331h3v1h-3zM767 1331h3v1h-3zM76 1333h1v1h-1zM93 1333h1v1h-1zM97 1333h1v1h-1zM126 1333h1v1h-1zM234 1333h1v1h-1zM251 1333h1v1h-1zM281 1333h1v1h-1zM316 1333h1v1h-1zM343 1333h1v1h-1zM439 1333h1v1h-1zM443 1333h1v1h-1zM457 1333h1v1h-1zM459 1333h1v1h-1zM478 1333h1v1h-1zM492 1333h1v1h-1zM497 1333h1v1h-1zM549 1333h2v1h-2zM705 1333h1v1h-1zM710 1333h1v1h-1zM752 1333h1v1h-1z"/><path fill="#ff0000" d="M52 1346h1v1h-1zM60 1346h2v1h-2zM67 1346h2v1h-2zM72 1346h4v1h-4zM77 1346h3v1h-3zM83 1346h2v1h-2zM86 1346h1v1h-1zM90 1346h1v1h-1zM95 1346h1v1h-1zM97 1346h1v1h-1zM99 1346h2v1h-2zM102 1346h1v1h-1zM115 1346h3v1h-3zM120 1346h1v1h-1zM131 1346h2v1h-2zM135 1346h1v1h-1zM137 1346h1v1h-1zM139 1346h1v1h-1zM141 1346h1v1h-1zM143 1346h2v1h-2zM147 1346h1v1h-1zM151 1346h1v1h-1zM159 1346h1v1h-1zM161 1346h2v1h-2zM164 1346h3v1h-3zM177 1346h1v1h-1zM179 1346h1v1h-1zM194 1346h2v1h-2zM201 1346h1v1h-1zM208 1346h1v1h-1zM217 1346h1v1h-1zM219 1346h1v1h-1zM221 1346h2v1h-2zM239 1346h2v1h-2zM246 1346h1v1h-1zM249 1346h4v1h-4zM258 1346h3v1h-3zM262 1346h1v1h-1zM264 1346h1v1h-1zM267 1346h2v1h-2zM270 1346h1v1h-1zM277 1346h3v1h-3zM285 1346h1v1h-1zM290 1346h2v1h-2zM297 1346h4v1h-4zM309 1346h1v1h-1zM313 1346h6v1h-6zM321 1346h1v1h-1zM325 1346h2v1h-2zM332 1346h5v1h-5zM342 1346h1v1h-1zM344 1346h5v1h-5zM351 1346h2v1h-2zM355 1346h8v1h-8zM366 1346h1v1h-1zM369 1346h1v1h-1zM375 1346h3v1h-3zM379 1346h1v1h-1zM382 1346h1v1h-1zM384 1346h2v1h-2zM388 1346h3v1h-3zM396 1346h3v1h-3zM403 1346h1v1h-1zM407 1346h3v1h-3zM411 1346h1v1h-1zM415 1346h1v1h-1zM417 1346h1v1h-1zM420 1346h2v1h-2zM427 1346h1v1h-1zM430 1346h1v1h-1zM432 1346h1v1h-1zM437 1346h1v1h-1zM442 1346h4v1h-4zM449 1346h4v1h-4zM457 1346h1v1h-1zM461 1346h1v1h-1zM464 1346h2v1h-2zM467 1346h2v1h-2zM472 1346h1v1h-1zM474 1346h3v1h-3zM478 1346h1v1h-1zM484 1346h3v1h-3zM492 1346h2v1h-2zM496 1346h1v1h-1zM507 1346h1v1h-1zM514 1346h1v1h-1zM517 1346h1v1h-1zM520 1346h1v1h-1zM523 1346h1v1h-1zM532 1346h1v1h-1zM539 1346h3v1h-3zM544 1346h1v1h-1zM550 1346h4v1h-4zM555 1346h1v1h-1zM557 1346h1v1h-1zM561 1346h1v1h-1zM567 1346h1v1h-1zM569 1346h2v1h-2zM579 1346h1v1h-1zM584 1346h2v1h-2zM591 1346h2v1h-2zM596 1346h3v1h-3zM603 1346h1v1h-1zM610 1346h2v1h-2zM618 1346h1v1h-1zM620 1346h1v1h-1zM628 1346h1v1h-1zM633 1346h1v1h-1zM636 1346h1v1h-1zM638 1346h1v1h-1zM641 1346h1v1h-1zM652 1346h2v1h-2zM662 1346h2v1h-2zM666 1346h2v1h-2zM669 1346h1v1h-1zM671 1346h9v1h-9zM685 1346h2v1h-2zM688 1346h4v1h-4zM693 1346h3v1h-3zM701 1346h1v1h-1zM709 1346h1v1h-1zM714 1346h4v1h-4zM720 1346h1v1h-1zM723 1346h1v1h-1zM729 1346h1v1h-1zM731 1346h1v1h-1zM736 1346h1v1h-1zM740 1346h1v1h-1zM748 1346h2v1h-2zM755 1346h3v1h-3zM761 1346h1v1h-1zM764 1346h1v1h-1zM315 1347h1v1h-1zM94 1348h1v1h-1zM108 1348h1v1h-1zM121 1348h1v1h-1zM135 1348h1v1h-1zM158 1348h1v1h-1zM161 1348h1v1h-1zM193 1348h2v1h-2zM204 1348h1v1h-1zM206 1348h1v1h-1zM208 1348h1v1h-1zM232 1348h1v1h-1zM272 1348h1v1h-1zM315 1348h1v1h-1zM345 1348h1v1h-1zM351 1348h1v1h-1zM466 1348h1v1h-1zM492 1348h1v1h-1zM544 1348h1v1h-1zM642 1348h1v1h-1zM683 1348h1v1h-1zM697 1348h1v1h-1zM708 1348h1v1h-1zM729 1348h1v1h-1zM766 1348h1v1h-1zM204 1349h1v1h-1zM232 1349h1v1h-1zM315 1349h1v1h-1zM315 1350h1v1h-1z"/><path fill="#0000ff" d="M52 1361h1v1h-1zM54 1361h2v1h-2zM59 1361h1v1h-1zM62 1361h2v1h-2zM65 1361h2v1h-2zM68 1361h2v1h-2zM79 1361h3v1h-3zM84 1361h2v1h-2zM88 1361h2v1h-2zM91 1361h1v1h-1zM95 1361h2v1h-2zM99 1361h3v1h-3zM103 1361h1v1h-1zM105 1361h2v1h-2zM110 1361h3v1h-3zM124 1361h1v1h-1zM134 1361h1v1h-1zM137 1361h1v1h-1zM141 1361h2v1h-2zM144 1361h1v1h-1zM147 1361h1v1h-1zM149 1361h1v1h-1zM152 1361h5v1h-5zM158 1361h2v1h-2zM161 1361h2v1h-2zM164 1361h4v1h-4zM169 1361h1v1h-1zM183 1361h6v1h-6zM191 1361h4v1h-4zM196 1361h3v1h-3zM200 1361h1v1h-1zM202 1361h2v1h-2zM205 1361h1v1h-1zM213 1361h2v1h-2zM216 1361h4v1h-4zM221 1361h1v1h-1zM225 1361h1v1h-1zM227 1361h1v1h-1zM236 1361h1v1h-1zM241 1361h1v1h-1zM248 1361h1v1h-1zM250 1361h4v1h-4zM258 1361h1v1h-1zM264 1361h4v1h-4zM271 1361h2v1h-2zM278 1361h1v1h-1zM280 1361h2v1h-2zM283 1361h1v1h-1zM291 1361h3v1h-3zM299 1361h2v1h-2zM302 1361h3v1h-3zM306 1361h1v1h-1zM308 1361h1v1h-1zM313 1361h1v1h-1zM315 1361h1v1h-1zM319 1361h4v1h-4zM326 1361h2v1h-2zM330 1361h2v1h-2zM335 1361h2v1h-2zM338 1361h2v1h-2zM344 1361h1v1h-1zM349 1361h2v1h-2zM353 1361h3v1h-3zM362 1361h1v1h-1zM364 1361h1v1h-1zM366 1361h1v1h-1zM369 1361h1v1h-1zM376 1361h2v1h-2zM383 1361h1v1h-1zM386 1361h2v1h-2zM390 1361h2v1h-2zM395 1361h1v1h-1zM400 1361h2v1h-2zM404 1361h1v1h-1zM406 1361h1v1h-1zM408 1361h1v1h-1zM410 1361h1v1h-1zM412 1361h5v1h-5zM418 1361h2v1h-2zM422 1361h1v1h-1zM424 1361h1v1h-1zM427 1361h4v1h-4zM433 1361h3v1h-3zM437 1361h2v1h-2zM440 1361h4v1h-4zM449 1361h1v1h-1zM452 1361h2v1h-2zM456 1361h2v1h-2zM459 1361h1v1h-1zM462 1361h2v1h-2zM465 1361h2v1h-2zM468 1361h2v1h-2zM471 1361h1v1h-1zM474 1361h1v1h-1zM477 1361h3v1h-3zM481 1361h3v1h-3zM486 1361h2v1h-2zM490 1361h2v1h-2zM498 1361h1v1h-1zM500 1361h7v1h-7zM510 1361h1v1h-1zM514 1361h2v1h-2zM517 1361h3v1h-3zM524 1361h2v1h-2zM529 1361h2v1h-2zM538 1361h3v1h-3zM542 1361h1v1h-1zM545 1361h3v1h-3zM551 1361h1v1h-1zM555 1361h5v1h-5zM561 1361h2v1h-2zM565 1361h1v1h-1zM574 1361h1v1h-1zM581 1361h1v1h-1zM584 1361h2v1h-2zM590 1361h1v1h-1zM592 1361h1v1h-1zM594 1361h1v1h-1zM597 1361h3v1h-3zM603 1361h2v1h-2zM606 1361h4v1h-4zM614 1361h1v1h-1zM620 1361h4v1h-4zM627 1361h1v1h-1zM629 1361h2v1h-2zM632 1361h1v1h-1zM634 1361h1v1h-1zM636 1361h1v1h-1zM638 1361h1v1h-1zM641 1361h2v1h-2zM644 1361h1v1h-1zM648 1361h1v1h-1zM650 1361h3v1h-3zM654 1361h2v1h-2zM657 1361h1v1h-1zM660 1361h2v1h-2zM663 1361h3v1h-3zM669 1361h2v1h-2zM674 1361h1v1h-1zM677 1361h1v1h-1zM681 1361h1v1h-1zM685 1361h2v1h-2zM688 1361h1v1h-1zM691 1361h3v1h-3zM696 1361h2v1h-2zM701 1361h1v1h-1zM709 1361h2v1h-2zM713 1361h1v1h-1zM720 1361h4v1h-4zM726 1361h1v1h-1zM729 1361h1v1h-1zM733 1361h1v1h-1zM735 1361h1v1h-1zM741 1361h1v1h-1zM743 1361h1v1h-1zM747 1361h2v1h-2zM750 1361h3v1h-3zM767 1361h1v1h-1zM63 1363h1v1h-1zM74 1363h1v1h-1zM95 1363h1v1h-1zM98 1363h1v1h-1zM126 1363h2v1h-2zM141 1363h1v1h-1zM147 1363h1v1h-1zM239 1363h1v1h-1zM249 1363h1v1h-1zM321 1363h1v1h-1zM356 1363h1v1h-1zM360 1363h1v1h-1zM465 1363h1v1h-1zM485 1363h1v1h-1zM517 1363h1v1h-1zM535 1363h1v1h-1zM618 1363h1v1h-1zM762 1363h1v1h-1zM141 1364h1v1h-1z"/><path fill="#006400" d="M166 1374h1v1h-1zM166 1375h1v1h-1zM52 1376h1v1h-1zM54 1376h3v1h-3zM62 1376h2v1h-2zM65 1376h1v1h-1zM82 1376h7v1h-7zM90 1376h5v1h-5zM99 1376h3v1h-3zM103 1376h4v1h-4zM108 1376h5v1h-5zM117 1376h1v1h-1zM119 1376h2v1h-2zM123 1376h3v1h-3zM127 1376h2v1h-2zM132 1376h1v1h-1zM136 1376h2v1h-2zM144 1376h3v1h-3zM149 1376h2v1h-2zM166 1376h2v1h-2zM170 1376h4v1h-4zM180 1376h1v1h-1zM185 1376h2v1h-2zM190 1376h2v1h-2zM193 1376h3v1h-3zM197 1376h2v1h-2zM200 1376h1v1h-1zM203 1376h1v1h-1zM207 1376h1v1h-1zM210 1376h1v1h-1zM212 1376h10v1h-10zM233 1376h1v1h-1zM235 1376h1v1h-1zM242 1376h2v1h-2zM248 1376h1v1h-1zM252 1376h1v1h-1zM254 1376h1v1h-1zM256 1376h1v1h-1zM258 1376h4v1h-4zM264 1376h1v1h-1zM268 1376h1v1h-1zM274 1376h6v1h-6zM283 1376h7v1h-7zM293 1376h6v1h-6zM301 1376h2v1h-2zM304 1376h5v1h-5zM310 1376h2v1h-2zM313 1376h2v1h-2zM317 1376h1v1h-1zM325 1376h1v1h-1zM330 1376h2v1h-2zM335 1376h1v1h-1zM340 1376h1v1h-1zM347 1376h1v1h-1zM351 1376h1v1h-1zM354 1376h3v1h-3zM364 1376h1v1h-1zM367 1376h2v1h-2zM372 1376h2v1h-2zM375 1376h2v1h-2zM378 1376h1v1h-1zM384 1376h1v1h-1zM390 1376h2v1h-2zM394 1376h6v1h-6zM410 1376h2v1h-2zM419 1376h3v1h-3zM424 1376h1v1h-1zM428 1376h4v1h-4zM435 1376h2v1h-2zM444 1376h1v1h-1zM447 1376h1v1h-1zM453 1376h1v1h-1zM455 1376h10v1h-10zM470 1376h4v1h-4zM481 1376h1v1h-1zM486 1376h1v1h-1zM488 1376h3v1h-3zM495 1376h2v1h-2zM505 1376h1v1h-1zM511 1376h2v1h-2zM514 1376h1v1h-1zM524 1376h1v1h-1zM530 1376h1v1h-1zM532 1376h5v1h-5zM546 1376h1v1h-1zM548 1376h1v1h-1zM550 1376h1v1h-1zM553 1376h1v1h-1zM559 1376h3v1h-3zM564 1376h5v1h-5zM575 1376h1v1h-1zM579 1376h4v1h-4zM585 1376h1v1h-1zM589 1376h2v1h-2zM600 1376h5v1h-5zM606 1376h1v1h-1zM609 1376h1v1h-1zM614 1376h2v1h-2zM617 1376h1v1h-1zM623 1376h2v1h-2zM626 1376h1v1h-1zM633 1376h1v1h-1zM638 1376h1v1h-1zM640 1376h5v1h-5zM654 1376h1v1h-1zM658 1376h1v1h-1zM660 1376h1v1h-1zM664 1376h5v1h-5zM676 1376h1v1h-1zM680 1376h1v1h-1zM682 1376h3v1h-3zM688 1376h3v1h-3zM692 1376h3v1h-3zM698 1376h2v1h-2zM701 1376h1v1h-1zM704 1376h1v1h-1zM708 1376h2v1h-2zM717 1376h4v1h-4zM722 1376h1v1h-1zM726 1376h1v1h-1zM734 1376h1v1h-1zM736 1376h2v1h-2zM746 1376h1v1h-1zM750 1376h1v1h-1zM752 1376h1v1h-1zM754 1376h7v1h-7zM763 1376h1v1h-1zM765 1376h2v1h-2zM769 1376h1v1h-1zM108 1378h1v1h-1zM114 1378h1v1h-1zM154 1378h1v1h-1zM169 1378h1v1h-1zM181 1378h1v1h-1zM244 1378h1v1h-1zM248 1378h1v1h-1zM258 1378h1v1h-1zM264 1378h1v1h-1zM268 1378h1v1h-1zM331 1378h1v1h-1zM349 1378h1v1h-1zM440 1378h1v1h-1zM470 1378h1v1h-1zM489 1378h1v1h-1zM531 1378h1v1h-1zM564 1378h1v1h-1zM626 1378h1v1h-1zM684 1378h1v1h-1zM693 1378h1v1h-1zM169 1379h1v1h-1zM258 1379h1v1h-1zM440 1379h1v1h-1z"/><path fill="#000000" d="M51 1391h2v1h-2zM58 1391h1v1h-1zM66 1391h3v1h-3zM70 1391h2v1h-2zM75 1391h2v1h-2zM80 1391h1v1h-1zM91 1391h2v1h-2zM94 1391h1v1h-1zM102 1391h1v1h-1zM104 1391h1v1h-1zM106 1391h2v1h-2zM109 1391h2v1h-2zM116 1391h1v1h-1zM121 1391h2v1h-2zM124 1391h2v1h-2zM131 1391h1v1h-1zM133 1391h1v1h-1zM140 1391h1v1h-1zM143 1391h2v1h-2zM151 1391h1v1h-1zM160 1391h4v1h-4zM165 1391h1v1h-1zM167 1391h1v1h-1zM170 1391h4v1h-4zM176 1391h1v1h-1zM182 1391h1v1h-1zM186 1391h6v1h-6zM193 1391h2v1h-2zM197 1391h1v1h-1zM199 1391h1v1h-1zM206 1391h1v1h-1zM208 1391h2v1h-2zM217 1391h1v1h-1zM220 1391h1v1h-1zM238 1391h2v1h-2zM245 1391h1v1h-1zM248 1391h1v1h-1zM250 1391h2v1h-2zM253 1391h4v1h-4zM260 1391h2v1h-2zM265 1391h2v1h-2zM277 1391h1v1h-1zM288 1391h3v1h-3zM294 1391h1v1h-1zM296 1391h3v1h-3zM302 1391h1v1h-1zM305 1391h1v1h-1zM307 1391h1v1h-1zM322 1391h1v1h-1zM331 1391h1v1h-1zM334 1391h2v1h-2zM348 1391h1v1h-1zM350 1391h1v1h-1zM352 1391h2v1h-2zM357 1391h1v1h-1zM367 1391h1v1h-1zM370 1391h1v1h-1zM383 1391h2v1h-2zM390 1391h1v1h-1zM402 1391h5v1h-5zM414 1391h2v1h-2zM420 1391h2v1h-2zM423 1391h1v1h-1zM427 1391h1v1h-1zM432 1391h4v1h-4zM441 1391h1v1h-1zM443 1391h1v1h-1zM450 1391h3v1h-3zM456 1391h1v1h-1zM460 1391h3v1h-3zM466 1391h9v1h-9zM480 1391h1v1h-1zM485 1391h2v1h-2zM491 1391h1v1h-1zM495 1391h6v1h-6zM502 1391h2v1h-2zM509 1391h1v1h-1zM522 1391h3v1h-3zM526 1391h2v1h-2zM535 1391h1v1h-1zM539 1391h2v1h-2zM544 1391h2v1h-2zM547 1391h3v1h-3zM551 1391h3v1h-3zM557 1391h1v1h-1zM560 1391h1v1h-1zM562 1391h3v1h-3zM566 1391h2v1h-2zM571 1391h1v1h-1zM573 1391h2v1h-2zM578 1391h3v1h-3zM586 1391h2v1h-2zM591 1391h5v1h-5zM601 1391h2v1h-2zM606 1391h5v1h-5zM616 1391h1v1h-1zM618 1391h4v1h-4zM629 1391h2v1h-2zM632 1391h3v1h-3zM638 1391h1v1h-1zM640 1391h4v1h-4zM649 1391h2v1h-2zM653 1391h1v1h-1zM659 1391h5v1h-5zM668 1391h2v1h-2zM671 1391h1v1h-1zM674 1391h5v1h-5zM684 1391h6v1h-6zM698 1391h4v1h-4zM705 1391h1v1h-1zM708 1391h4v1h-4zM714 1391h3v1h-3zM728 1391h1v1h-1zM740 1391h5v1h-5zM746 1391h1v1h-1zM748 1391h1v1h-1zM760 1391h2v1h-2zM765 1391h1v1h-1zM768 1391h1v1h-1zM68 1393h1v1h-1zM76 1393h1v1h-1zM87 1393h1v1h-1zM90 1393h1v1h-1zM154 1393h1v1h-1zM167 1393h1v1h-1zM231 1393h1v1h-1zM356 1393h1v1h-1zM360 1393h1v1h-1zM365 1393h1v1h-1zM368 1393h1v1h-1zM404 1393h1v1h-1zM423 1393h1v1h-1zM438 1393h1v1h-1zM596 1393h1v1h-1zM767 1393h1v1h-1zM68 1394h1v1h-1zM154 1394h1v1h-1zM365 1394h1v1h-1z"/><path fill="#ff0000" d="M51 1406h1v1h-1zM56 1406h4v1h-4zM61 1406h1v1h-1zM63 1406h1v1h-1zM66 1406h1v1h-1zM68 1406h5v1h-5zM75 1406h1v1h-1zM78 1406h5v1h-5zM84 1406h2v1h-2zM90 1406h1v1h-1zM92 1406h4v1h-4zM97 1406h2v1h-2zM100 1406h1v1h-1zM102 1406h1v1h-1zM104 1406h1v1h-1zM108 1406h2v1h-2zM111 1406h1v1h-1zM116 1406h1v1h-1zM120 1406h1v1h-1zM124 1406h4v1h-4zM129 1406h3v1h-3zM135 1406h1v1h-1zM138 1406h2v1h-2zM141 1406h4v1h-4zM147 1406h1v1h-1zM151 1406h1v1h-1zM153 1406h1v1h-1zM158 1406h1v1h-1zM165 1406h1v1h-1zM176 1406h3v1h-3zM180 1406h4v1h-4zM187 1406h1v1h-1zM190 1406h4v1h-4zM197 1406h5v1h-5zM205 1406h2v1h-2zM212 1406h2v1h-2zM215 1406h1v1h-1zM218 1406h2v1h-2zM227 1406h2v1h-2zM230 1406h3v1h-3zM234 1406h2v1h-2zM241 1406h1v1h-1zM243 1406h2v1h-2zM252 1406h2v1h-2zM255 1406h3v1h-3zM264 1406h2v1h-2zM270 1406h2v1h-2zM276 1406h1v1h-1zM279 1406h1v1h-1zM284 1406h4v1h-4zM289 1406h2v1h-2zM292 1406h2v1h-2zM296 1406h5v1h-5zM304 1406h1v1h-1zM310 1406h2v1h-2zM313 1406h5v1h-5zM319 1406h1v1h-1zM321 1406h1v1h-1zM331 1406h1v1h-1zM337 1406h5v1h-5zM345 1406h5v1h-5zM351 1406h2v1h-2zM354 1406h1v1h-1zM356 1406h4v1h-4zM363 1406h1v1h-1zM365 1406h1v1h-1zM367 1406h1v1h-1zM369 1406h4v1h-4zM374 1406h12v1h-12zM387 1406h1v1h-1zM389 1406h1v1h-1zM391 1406h1v1h-1zM393 1406h3v1h-3zM400 1406h2v1h-2zM404 1406h1v1h-1zM406 1406h4v1h-4zM411 1406h1v1h-1zM413 1406h3v1h-3zM421 1406h1v1h-1zM423 1406h1v1h-1zM425 1406h2v1h-2zM428 1406h4v1h-4zM433 1406h5v1h-5zM440 1406h1v1h-1zM442 1406h1v1h-1zM445 1406h3v1h-3zM449 1406h4v1h-4zM455 1406h1v1h-1zM457 1406h1v1h-1zM459 1406h1v1h-1zM464 1406h1v1h-1zM466 1406h3v1h-3zM473 1406h1v1h-1zM478 1406h1v1h-1zM482 1406h1v1h-1zM485 1406h1v1h-1zM488 1406h1v1h-1zM491 1406h1v1h-1zM495 1406h1v1h-1zM500 1406h8v1h-8zM509 1406h2v1h-2zM512 1406h1v1h-1zM517 1406h1v1h-1zM522 1406h3v1h-3zM532 1406h2v1h-2zM541 1406h2v1h-2zM544 1406h1v1h-1zM546 1406h2v1h-2zM550 1406h3v1h-3zM555 1406h2v1h-2zM560 1406h2v1h-2zM568 1406h4v1h-4zM576 1406h2v1h-2zM583 1406h1v1h-1zM587 1406h3v1h-3zM591 1406h3v1h-3zM597 1406h4v1h-4zM604 1406h2v1h-2zM607 1406h3v1h-3zM612 1406h1v1h-1zM615 1406h2v1h-2zM618 1406h4v1h-4zM625 1406h1v1h-1zM628 1406h1v1h-1zM632 1406h1v1h-1zM636 1406h5v1h-5zM642 1406h4v1h-4zM648 1406h1v1h-1zM651 1406h1v1h-1zM657 1406h2v1h-2zM662 1406h4v1h-4zM670 1406h3v1h-3zM676 1406h1v1h-1zM680 1406h1v1h-1zM682 1406h1v1h-1zM685 1406h7v1h-7zM695 1406h1v1h-1zM697 1406h2v1h-2zM700 1406h4v1h-4zM705 1406h3v1h-3zM709 1406h3v1h-3zM713 1406h4v1h-4zM720 1406h2v1h-2zM723 1406h1v1h-1zM730 1406h1v1h-1zM733 1406h2v1h-2zM736 1406h1v1h-1zM740 1406h3v1h-3zM744 1406h1v1h-1zM753 1406h2v1h-2zM761 1406h1v1h-1zM763 1406h3v1h-3zM768 1406h2v1h-2zM54 1408h1v1h-1zM110 1408h1v1h-1zM138 1408h1v1h-1zM142 1408h1v1h-1zM149 1408h2v1h-2zM184 1408h1v1h-1zM209 1408h1v1h-1zM221 1408h1v1h-1zM261 1408h1v1h-1zM292 1408h1v1h-1zM310 1408h1v1h-1zM326 1408h1v1h-1zM380 1408h1v1h-1zM392 1408h1v1h-1zM407 1408h1v1h-1zM424 1408h1v1h-1zM445 1408h1v1h-1zM469 1408h1v1h-1zM517 1408h1v1h-1zM541 1408h1v1h-1zM556 1408h1v1h-1zM574 1408h1v1h-1zM672 1408h1v1h-1zM676 1408h1v1h-1zM726 1408h1v1h-1zM142 1409h1v1h-1zM221 1409h1v1h-1zM672 1409h1v1h-1zM676 1409h1v1h-1z"/><path fill="#0000ff" d="M55 1421h1v1h-1zM58 1421h1v1h-1zM63 1421h1v1h-1zM65 1421h3v1h-3zM71 1421h1v1h-1zM74 1421h2v1h-2zM78 1421h1v1h-1zM81 1421h1v1h-1zM84 1421h1v1h-1zM88 1421h5v1h-5zM95 1421h2v1h-2zM98 1421h1v1h-1zM101 1421h2v1h-2zM108 1421h2v1h-2zM112 1421h1v1h-1zM117 1421h1v1h-1zM119 1421h1v1h-1zM123 1421h1v1h-1zM128 1421h7v1h-7zM143 1421h2v1h-2zM151 1421h1v1h-1zM153 1421h1v1h-1zM158 1421h1v1h-1zM168 1421h2v1h-2zM173 1421h1v1h-1zM175 1421h3v1h-3zM183 1421h4v1h-4zM188 1421h1v1h-1zM190 1421h1v1h-1zM193 1421h1v1h-1zM197 1421h1v1h-1zM201 1421h3v1h-3zM205 1421h3v1h-3zM209 1421h1v1h-1zM218 1421h1v1h-1zM220 1421h1v1h-1zM223 1421h1v1h-1zM225 1421h1v1h-1zM229 1421h1v1h-1zM232 1421h2v1h-2zM235 1421h1v1h-1zM237 1421h1v1h-1zM240 1421h1v1h-1zM243 1421h8v1h-8zM258 1421h1v1h-1zM261 1421h1v1h-1zM264 1421h2v1h-2zM267 1421h1v1h-1zM273 1421h3v1h-3zM277 1421h1v1h-1zM279 1421h2v1h-2zM282 1421h1v1h-1zM287 1421h1v1h-1zM291 1421h2v1h-2zM296 1421h1v1h-1zM298 1421h4v1h-4zM304 1421h1v1h-1zM309 1421h1v1h-1zM313 1421h3v1h-3zM319 1421h1v1h-1zM321 1421h2v1h-2zM326 1421h1v1h-1zM328 1421h1v1h-1zM332 1421h1v1h-1zM338 1421h1v1h-1zM342 1421h1v1h-1zM349 1421h3v1h-3zM357 1421h1v1h-1zM360 1421h2v1h-2zM364 1421h5v1h-5zM370 1421h6v1h-6zM382 1421h7v1h-7zM396 1421h2v1h-2zM403 1421h1v1h-1zM407 1421h2v1h-2zM412 1421h1v1h-1zM416 1421h1v1h-1zM426 1421h1v1h-1zM431 1421h4v1h-4zM438 1421h6v1h-6zM445 1421h1v1h-1zM447 1421h1v1h-1zM450 1421h1v1h-1zM453 1421h1v1h-1zM460 1421h1v1h-1zM464 1421h4v1h-4zM474 1421h1v1h-1zM477 1421h2v1h-2zM482 1421h1v1h-1zM485 1421h1v1h-1zM491 1421h1v1h-1zM498 1421h1v1h-1zM505 1421h3v1h-3zM512 1421h1v1h-1zM514 1421h1v1h-1zM518 1421h1v1h-1zM523 1421h2v1h-2zM533 1421h2v1h-2zM537 1421h1v1h-1zM539 1421h2v1h-2zM543 1421h1v1h-1zM546 1421h1v1h-1zM548 1421h2v1h-2zM551 1421h1v1h-1zM554 1421h3v1h-3zM563 1421h1v1h-1zM571 1421h1v1h-1zM574 1421h1v1h-1zM577 1421h2v1h-2zM580 1421h1v1h-1zM585 1421h2v1h-2zM588 1421h4v1h-4zM595 1421h5v1h-5zM603 1421h2v1h-2zM615 1421h2v1h-2zM618 1421h1v1h-1zM621 1421h5v1h-5zM632 1421h1v1h-1zM634 1421h6v1h-6zM641 1421h4v1h-4zM648 1421h1v1h-1zM651 1421h1v1h-1zM653 1421h4v1h-4zM658 1421h7v1h-7zM666 1421h4v1h-4zM671 1421h2v1h-2zM675 1421h2v1h-2zM678 1421h2v1h-2zM685 1421h1v1h-1zM687 1421h3v1h-3zM694 1421h2v1h-2zM701 1421h2v1h-2zM704 1421h4v1h-4zM711 1421h1v1h-1zM717 1421h2v1h-2zM720 1421h1v1h-1zM726 1421h1v1h-1zM730 1421h1v1h-1zM732 1421h1v1h-1zM734 1421h3v1h-3zM740 1421h1v1h-1zM747 1421h2v1h-2zM760 1421h2v1h-2zM768 1421h2v1h-2zM95 1423h1v1h-1zM105 1423h1v1h-1zM128 1423h1v1h-1zM169 1423h1v1h-1zM172 1423h1v1h-1zM185 1423h1v1h-1zM196 1423h1v1h-1zM249 1423h1v1h-1zM269 1423h1v1h-1zM370 1423h1v1h-1zM380 1423h1v1h-1zM492 1423h1v1h-1zM512 1423h1v1h-1zM536 1423h1v1h-1zM587 1423h2v1h-2zM492 1424h1v1h-1z"/><path fill="#006400" d="M52 1436h4v1h-4zM58 1436h1v1h-1zM60 1436h4v1h-4zM67 1436h1v1h-1zM75 1436h2v1h-2zM79 1436h3v1h-3zM84 1436h1v1h-1zM86 1436h3v1h-3zM93 1436h1v1h-1zM96 1436h3v1h-3zM101 1436h2v1h-2zM115 1436h2v1h-2zM120 1436h3v1h-3zM125 1436h3v1h-3zM133 1436h1v1h-1zM137 1436h2v1h-2zM144 1436h1v1h-1zM146 1436h3v1h-3zM152 1436h1v1h-1zM155 1436h5v1h-5zM173 1436h2v1h-2zM176 1436h2v1h-2zM182 1436h4v1h-4zM187 1436h2v1h-2zM191 1436h1v1h-1zM198 1436h1v1h-1zM201 1436h3v1h-3zM205 1436h1v1h-1zM219 1436h1v1h-1zM224 1436h4v1h-4zM232 1436h1v1h-1zM235 1436h2v1h-2zM241 1436h1v1h-1zM248 1436h4v1h-4zM255 1436h1v1h-1zM259 1436h1v1h-1zM261 1436h4v1h-4zM275 1436h2v1h-2zM279 1436h4v1h-4zM287 1436h4v1h-4zM293 1436h1v1h-1zM295 1436h1v1h-1zM316 1436h1v1h-1zM319 1436h3v1h-3zM331 1436h1v1h-1zM338 1436h1v1h-1zM342 1436h2v1h-2zM350 1436h1v1h-1zM354 1436h4v1h-4zM366 1436h1v1h-1zM369 1436h3v1h-3zM383 1436h1v1h-1zM389 1436h3v1h-3zM405 1436h1v1h-1zM411 1436h1v1h-1zM417 1436h2v1h-2zM421 1436h2v1h-2zM424 1436h7v1h-7zM432 1436h9v1h-9zM444 1436h2v1h-2zM449 1436h2v1h-2zM454 1436h1v1h-1zM456 1436h2v1h-2zM459 1436h1v1h-1zM462 1436h1v1h-1zM468 1436h5v1h-5zM474 1436h1v1h-1zM479 1436h2v1h-2zM487 1436h3v1h-3zM501 1436h2v1h-2zM509 1436h2v1h-2zM512 1436h4v1h-4zM517 1436h2v1h-2zM522 1436h2v1h-2zM525 1436h1v1h-1zM533 1436h1v1h-1zM535 1436h1v1h-1zM543 1436h2v1h-2zM546 1436h3v1h-3zM551 1436h1v1h-1zM558 1436h2v1h-2zM562 1436h1v1h-1zM568 1436h4v1h-4zM574 1436h1v1h-1zM580 1436h1v1h-1zM587 1436h1v1h-1zM594 1436h1v1h-1zM598 1436h1v1h-1zM600 1436h1v1h-1zM607 1436h1v1h-1zM609 1436h3v1h-3zM617 1436h3v1h-3zM624 1436h1v1h-1zM629 1436h1v1h-1zM640 1436h1v1h-1zM645 1436h3v1h-3zM649 1436h2v1h-2zM654 1436h2v1h-2zM668 1436h3v1h-3zM676 1436h2v1h-2zM681 1436h4v1h-4zM686 1436h1v1h-1zM691 1436h1v1h-1zM695 1436h1v1h-1zM700 1436h1v1h-1zM703 1436h1v1h-1zM705 1436h2v1h-2zM711 1436h1v1h-1zM717 1436h1v1h-1zM720 1436h1v1h-1zM723 1436h3v1h-3zM732 1436h2v1h-2zM743 1436h1v1h-1zM750 1436h1v1h-1zM760 1436h2v1h-2zM766 1436h4v1h-4zM76 1438h1v1h-1zM155 1438h1v1h-1zM228 1438h1v1h-1zM247 1438h1v1h-1zM338 1438h1v1h-1zM407 1438h1v1h-1zM463 1438h1v1h-1zM537 1438h1v1h-1zM657 1438h1v1h-1zM675 1438h1v1h-1zM734 1438h1v1h-1zM407 1439h1v1h-1zM657 1439h1v1h-1z"/><path fill="#000000" d="M51 1451h3v1h-3zM57 1451h1v1h-1zM61 1451h1v1h-1zM74 1451h1v1h-1zM81 1451h1v1h-1zM83 1451h1v1h-1zM85 1451h1v1h-1zM87 1451h1v1h-1zM93 1451h1v1h-1zM95 1451h1v1h-1zM97 1451h2v1h-2zM101 1451h3v1h-3zM106 1451h7v1h-7zM115 1451h2v1h-2zM118 1451h2v1h-2zM121 1451h1v1h-1zM123 1451h2v1h-2zM132 1451h1v1h-1zM136 1451h6v1h-6zM143 1451h1v1h-1zM145 1451h1v1h-1zM150 1451h2v1h-2zM153 1451h1v1h-1zM159 1451h1v1h-1zM161 1451h3v1h-3zM165 1451h1v1h-1zM167 1451h4v1h-4zM172 1451h2v1h-2zM175 1451h6v1h-6zM182 1451h2v1h-2zM185 1451h1v1h-1zM192 1451h1v1h-1zM200 1451h2v1h-2zM203 1451h2v1h-2zM206 1451h1v1h-1zM208 1451h12v1h-12zM222 1451h1v1h-1zM230 1451h1v1h-1zM237 1451h1v1h-1zM242 1451h1v1h-1zM247 1451h2v1h-2zM251 1451h6v1h-6zM264 1451h1v1h-1zM267 1451h1v1h-1zM270 1451h1v1h-1zM275 1451h1v1h-1zM277 1451h2v1h-2zM286 1451h1v1h-1zM291 1451h2v1h-2zM294 1451h3v1h-3zM298 1451h1v1h-1zM301 1451h1v1h-1zM303 1451h2v1h-2zM306 1451h2v1h-2zM309 1451h8v1h-8zM325 1451h1v1h-1zM328 1451h1v1h-1zM334 1451h1v1h-1zM338 1451h1v1h-1zM341 1451h2v1h-2zM347 1451h1v1h-1zM351 1451h1v1h-1zM353 1451h1v1h-1zM361 1451h3v1h-3zM369 1451h1v1h-1zM372 1451h1v1h-1zM376 1451h3v1h-3zM383 1451h1v1h-1zM387 1451h1v1h-1zM392 1451h3v1h-3zM398 1451h4v1h-4zM405 1451h1v1h-1zM413 1451h1v1h-1zM420 1451h1v1h-1zM424 1451h3v1h-3zM429 1451h1v1h-1zM434 1451h1v1h-1zM438 1451h1v1h-1zM441 1451h2v1h-2zM446 1451h1v1h-1zM452 1451h1v1h-1zM455 1451h2v1h-2zM458 1451h1v1h-1zM462 1451h1v1h-1zM464 1451h2v1h-2zM472 1451h1v1h-1zM475 1451h2v1h-2zM478 1451h1v1h-1zM483 1451h1v1h-1zM490 1451h3v1h-3zM497 1451h3v1h-3zM502 1451h1v1h-1zM504 1451h2v1h-2zM507 1451h1v1h-1zM516 1451h2v1h-2zM519 1451h1v1h-1zM522 1451h1v1h-1zM531 1451h1v1h-1zM537 1451h1v1h-1zM539 1451h5v1h-5zM547 1451h2v1h-2zM556 1451h4v1h-4zM561 1451h2v1h-2zM565 1451h1v1h-1zM577 1451h3v1h-3zM582 1451h3v1h-3zM589 1451h1v1h-1zM596 1451h2v1h-2zM607 1451h1v1h-1zM614 1451h1v1h-1zM619 1451h1v1h-1zM624 1451h1v1h-1zM628 1451h1v1h-1zM630 1451h1v1h-1zM638 1451h1v1h-1zM641 1451h8v1h-8zM650 1451h2v1h-2zM655 1451h1v1h-1zM659 1451h1v1h-1zM663 1451h2v1h-2zM666 1451h1v1h-1zM668 1451h1v1h-1zM675 1451h2v1h-2zM681 1451h1v1h-1zM688 1451h5v1h-5zM698 1451h2v1h-2zM701 1451h4v1h-4zM707 1451h3v1h-3zM714 1451h1v1h-1zM716 1451h4v1h-4zM721 1451h1v1h-1zM724 1451h1v1h-1zM730 1451h1v1h-1zM734 1451h2v1h-2zM737 1451h3v1h-3zM745 1451h3v1h-3zM754 1451h3v1h-3zM761 1451h1v1h-1zM763 1451h1v1h-1zM765 1451h5v1h-5zM92 1453h1v1h-1zM99 1453h1v1h-1zM125 1453h1v1h-1zM131 1453h1v1h-1zM150 1453h1v1h-1zM171 1453h1v1h-1zM199 1453h1v1h-1zM237 1453h1v1h-1zM265 1453h1v1h-1zM275 1453h1v1h-1zM278 1453h1v1h-1zM316 1453h1v1h-1zM347 1453h1v1h-1zM463 1453h1v1h-1zM473 1453h1v1h-1zM483 1453h1v1h-1zM514 1453h1v1h-1zM562 1453h1v1h-1zM623 1453h1v1h-1zM655 1453h1v1h-1zM676 1453h1v1h-1zM680 1453h1v1h-1zM685 1453h1v1h-1zM692 1453h1v1h-1zM711 1453h1v1h-1zM125 1454h1v1h-1zM171 1454h1v1h-1zM275 1454h1v1h-1zM278 1454h1v1h-1zM680 1454h1v1h-1zM692 1454h1v1h-1z"/><path fill="#ff0000" d="M52 1466h2v1h-2zM55 1466h2v1h-2zM63 1466h3v1h-3zM69 1466h1v1h-1zM74 1466h3v1h-3zM83 1466h2v1h-2zM86 1466h1v1h-1zM90 1466h1v1h-1zM96 1466h1v1h-1zM101 1466h2v1h-2zM107 1466h1v1h-1zM111 1466h1v1h-1zM117 1466h1v1h-1zM126 1466h1v1h-1zM132 1466h1v1h-1zM136 1466h1v1h-1zM143 1466h3v1h-3zM147 1466h1v1h-1zM150 1466h5v1h-5zM159 1466h3v1h-3zM166 1466h2v1h-2zM172 1466h3v1h-3zM176 1466h1v1h-1zM179 1466h1v1h-1zM182 1466h1v1h-1zM186 1466h1v1h-1zM190 1466h1v1h-1zM192 1466h5v1h-5zM199 1466h2v1h-2zM203 1466h2v1h-2zM206 1466h2v1h-2zM211 1466h1v1h-1zM215 1466h3v1h-3zM219 1466h2v1h-2zM222 1466h2v1h-2zM226 1466h2v1h-2zM229 1466h1v1h-1zM235 1466h6v1h-6zM243 1466h3v1h-3zM251 1466h1v1h-1zM256 1466h1v1h-1zM265 1466h1v1h-1zM267 1466h1v1h-1zM269 1466h1v1h-1zM277 1466h1v1h-1zM279 1466h3v1h-3zM283 1466h2v1h-2zM286 1466h1v1h-1zM290 1466h1v1h-1zM292 1466h2v1h-2zM296 1466h3v1h-3zM303 1466h1v1h-1zM305 1466h1v1h-1zM310 1466h1v1h-1zM312 1466h1v1h-1zM314 1466h2v1h-2zM326 1466h1v1h-1zM332 1466h1v1h-1zM337 1466h1v1h-1zM341 1466h2v1h-2zM349 1466h2v1h-2zM353 1466h2v1h-2zM358 1466h4v1h-4zM376 1466h1v1h-1zM381 1466h1v1h-1zM387 1466h2v1h-2zM390 1466h1v1h-1zM393 1466h1v1h-1zM395 1466h1v1h-1zM401 1466h2v1h-2zM404 1466h1v1h-1zM407 1466h1v1h-1zM410 1466h1v1h-1zM412 1466h2v1h-2zM415 1466h1v1h-1zM418 1466h5v1h-5zM426 1466h1v1h-1zM437 1466h1v1h-1zM443 1466h1v1h-1zM446 1466h2v1h-2zM450 1466h3v1h-3zM462 1466h2v1h-2zM466 1466h1v1h-1zM470 1466h1v1h-1zM472 1466h2v1h-2zM476 1466h4v1h-4zM482 1466h2v1h-2zM497 1466h3v1h-3zM501 1466h3v1h-3zM506 1466h1v1h-1zM509 1466h5v1h-5zM518 1466h3v1h-3zM524 1466h1v1h-1zM529 1466h1v1h-1zM531 1466h1v1h-1zM534 1466h1v1h-1zM537 1466h2v1h-2zM542 1466h1v1h-1zM546 1466h4v1h-4zM552 1466h3v1h-3zM558 1466h1v1h-1zM561 1466h2v1h-2zM568 1466h2v1h-2zM571 1466h2v1h-2zM575 1466h1v1h-1zM577 1466h2v1h-2zM585 1466h2v1h-2zM589 1466h5v1h-5zM595 1466h3v1h-3zM600 1466h2v1h-2zM606 1466h2v1h-2zM609 1466h1v1h-1zM614 1466h1v1h-1zM618 1466h2v1h-2zM622 1466h1v1h-1zM624 1466h4v1h-4zM631 1466h2v1h-2zM637 1466h1v1h-1zM639 1466h1v1h-1zM645 1466h2v1h-2zM655 1466h3v1h-3zM663 1466h1v1h-1zM667 1466h1v1h-1zM671 1466h1v1h-1zM674 1466h1v1h-1zM678 1466h2v1h-2zM682 1466h3v1h-3zM695 1466h2v1h-2zM698 1466h3v1h-3zM703 1466h1v1h-1zM711 1466h1v1h-1zM716 1466h1v1h-1zM718 1466h1v1h-1zM724 1466h1v1h-1zM728 1466h1v1h-1zM730 1466h2v1h-2zM734 1466h1v1h-1zM736 1466h2v1h-2zM740 1466h14v1h-14zM757 1466h7v1h-7zM112 1468h1v1h-1zM124 1468h1v1h-1zM137 1468h1v1h-1zM175 1468h1v1h-1zM184 1468h1v1h-1zM186 1468h1v1h-1zM189 1468h1v1h-1zM194 1468h1v1h-1zM201 1468h1v1h-1zM225 1468h1v1h-1zM245 1468h1v1h-1zM258 1468h1v1h-1zM270 1468h1v1h-1zM278 1468h1v1h-1zM284 1468h1v1h-1zM330 1468h1v1h-1zM351 1468h1v1h-1zM391 1468h1v1h-1zM404 1468h1v1h-1zM454 1468h1v1h-1zM457 1468h1v1h-1zM545 1468h1v1h-1zM566 1468h1v1h-1zM629 1468h1v1h-1zM635 1468h1v1h-1zM643 1468h1v1h-1zM647 1468h1v1h-1zM670 1468h1v1h-1zM730 1468h1v1h-1zM737 1468h1v1h-1zM755 1468h1v1h-1zM175 1469h1v1h-1zM278 1469h1v1h-1zM670 1469h1v1h-1zM737 1469h1v1h-1z"/><path fill="#0000ff" d="M53 1481h1v1h-1zM57 1481h3v1h-3zM65 1481h2v1h-2zM82 1481h7v1h-7zM90 1481h1v1h-1zM92 1481h1v1h-1zM94 1481h1v1h-1zM96 1481h1v1h-1zM104 1481h1v1h-1zM108 1481h1v1h-1zM115 1481h2v1h-2zM119 1481h3v1h-3zM123 1481h3v1h-3zM137 1481h2v1h-2zM140 1481h1v1h-1zM148 1481h2v1h-2zM154 1481h1v1h-1zM159 1481h2v1h-2zM165 1481h1v1h-1zM167 1481h2v1h-2zM170 1481h1v1h-1zM180 1481h2v1h-2zM190 1481h1v1h-1zM200 1481h1v1h-1zM202 1481h1v1h-1zM204 1481h1v1h-1zM209 1481h1v1h-1zM211 1481h2v1h-2zM215 1481h4v1h-4zM220 1481h3v1h-3zM225 1481h4v1h-4zM232 1481h1v1h-1zM235 1481h3v1h-3zM241 1481h2v1h-2zM244 1481h2v1h-2zM249 1481h3v1h-3zM257 1481h4v1h-4zM262 1481h1v1h-1zM272 1481h1v1h-1zM274 1481h1v1h-1zM276 1481h3v1h-3zM280 1481h1v1h-1zM288 1481h1v1h-1zM292 1481h2v1h-2zM295 1481h2v1h-2zM298 1481h1v1h-1zM301 1481h1v1h-1zM303 1481h1v1h-1zM305 1481h1v1h-1zM307 1481h1v1h-1zM310 1481h1v1h-1zM315 1481h5v1h-5zM323 1481h1v1h-1zM329 1481h1v1h-1zM338 1481h2v1h-2zM341 1481h1v1h-1zM348 1481h1v1h-1zM350 1481h1v1h-1zM353 1481h1v1h-1zM359 1481h1v1h-1zM361 1481h4v1h-4zM366 1481h1v1h-1zM371 1481h1v1h-1zM377 1481h1v1h-1zM379 1481h1v1h-1zM385 1481h1v1h-1zM388 1481h1v1h-1zM395 1481h1v1h-1zM404 1481h2v1h-2zM408 1481h3v1h-3zM412 1481h3v1h-3zM417 1481h1v1h-1zM421 1481h2v1h-2zM425 1481h2v1h-2zM430 1481h1v1h-1zM437 1481h1v1h-1zM439 1481h1v1h-1zM451 1481h1v1h-1zM453 1481h4v1h-4zM460 1481h1v1h-1zM462 1481h5v1h-5zM470 1481h2v1h-2zM474 1481h1v1h-1zM477 1481h2v1h-2zM480 1481h1v1h-1zM482 1481h2v1h-2zM485 1481h2v1h-2zM490 1481h1v1h-1zM495 1481h3v1h-3zM503 1481h1v1h-1zM507 1481h1v1h-1zM513 1481h2v1h-2zM519 1481h1v1h-1zM524 1481h2v1h-2zM529 1481h4v1h-4zM540 1481h7v1h-7zM550 1481h1v1h-1zM552 1481h1v1h-1zM554 1481h1v1h-1zM556 1481h1v1h-1zM560 1481h1v1h-1zM562 1481h2v1h-2zM566 1481h3v1h-3zM573 1481h1v1h-1zM575 1481h1v1h-1zM581 1481h1v1h-1zM584 1481h1v1h-1zM590 1481h3v1h-3zM601 1481h1v1h-1zM603 1481h2v1h-2zM608 1481h1v1h-1zM619 1481h1v1h-1zM627 1481h1v1h-1zM633 1481h1v1h-1zM636 1481h3v1h-3zM646 1481h1v1h-1zM653 1481h1v1h-1zM658 1481h3v1h-3zM665 1481h1v1h-1zM667 1481h1v1h-1zM669 1481h2v1h-2zM674 1481h2v1h-2zM679 1481h2v1h-2zM683 1481h1v1h-1zM687 1481h3v1h-3zM694 1481h3v1h-3zM701 1481h1v1h-1zM705 1481h2v1h-2zM713 1481h1v1h-1zM715 1481h2v1h-2zM720 1481h1v1h-1zM722 1481h2v1h-2zM726 1481h3v1h-3zM731 1481h1v1h-1zM740 1481h1v1h-1zM742 1481h1v1h-1zM744 1481h1v1h-1zM746 1481h5v1h-5zM756 1481h5v1h-5zM762 1481h1v1h-1zM146 1483h1v1h-1zM150 1483h1v1h-1zM185 1483h1v1h-1zM196 1483h1v1h-1zM205 1483h1v1h-1zM270 1483h1v1h-1zM306 1483h1v1h-1zM331 1483h1v1h-1zM362 1483h1v1h-1zM370 1483h1v1h-1zM374 1483h1v1h-1zM397 1483h2v1h-2zM403 1483h1v1h-1zM435 1483h1v1h-1zM470 1483h1v1h-1zM549 1483h1v1h-1zM554 1483h1v1h-1zM566 1483h1v1h-1zM641 1483h1v1h-1zM659 1483h1v1h-1zM676 1483h1v1h-1zM741 1483h1v1h-1zM746 1483h1v1h-1zM403 1484h1v1h-1zM470 1484h1v1h-1zM641 1484h1v1h-1z"/><path fill="#006400" d="M669 1494h1v1h-1zM667 1495h3v1h-3zM51 1496h2v1h-2zM56 1496h3v1h-3zM61 1496h2v1h-2zM76 1496h2v1h-2zM82 1496h1v1h-1zM85 1496h3v1h-3zM93 1496h1v1h-1zM95 1496h2v1h-2zM98 1496h2v1h-2zM103 1496h1v1h-1zM105 1496h1v1h-1zM107 1496h1v1h-1zM111 1496h3v1h-3zM115 1496h1v1h-1zM117 1496h1v1h-1zM119 1496h2v1h-2zM123 1496h1v1h-1zM125 1496h2v1h-2zM145 1496h3v1h-3zM154 1496h3v1h-3zM158 1496h1v1h-1zM162 1496h1v1h-1zM164 1496h7v1h-7zM176 1496h1v1h-1zM178 1496h1v1h-1zM183 1496h1v1h-1zM189 1496h2v1h-2zM193 1496h1v1h-1zM196 1496h1v1h-1zM204 1496h1v1h-1zM211 1496h1v1h-1zM217 1496h1v1h-1zM225 1496h3v1h-3zM243 1496h3v1h-3zM262 1496h2v1h-2zM266 1496h2v1h-2zM269 1496h3v1h-3zM275 1496h2v1h-2zM278 1496h1v1h-1zM280 1496h10v1h-10zM291 1496h1v1h-1zM293 1496h1v1h-1zM298 1496h2v1h-2zM301 1496h1v1h-1zM305 1496h1v1h-1zM311 1496h1v1h-1zM313 1496h2v1h-2zM320 1496h1v1h-1zM325 1496h3v1h-3zM331 1496h2v1h-2zM334 1496h4v1h-4zM344 1496h3v1h-3zM348 1496h1v1h-1zM363 1496h3v1h-3zM371 1496h1v1h-1zM373 1496h2v1h-2zM376 1496h1v1h-1zM380 1496h2v1h-2zM383 1496h1v1h-1zM389 1496h1v1h-1zM394 1496h1v1h-1zM397 1496h2v1h-2zM401 1496h1v1h-1zM403 1496h2v1h-2zM406 1496h2v1h-2zM409 1496h2v1h-2zM412 1496h1v1h-1zM417 1496h1v1h-1zM419 1496h1v1h-1zM424 1496h4v1h-4zM430 1496h3v1h-3zM436 1496h2v1h-2zM439 1496h1v1h-1zM445 1496h1v1h-1zM447 1496h2v1h-2zM450 1496h2v1h-2zM459 1496h3v1h-3zM464 1496h1v1h-1zM467 1496h1v1h-1zM470 1496h4v1h-4zM475 1496h6v1h-6zM487 1496h2v1h-2zM498 1496h1v1h-1zM500 1496h4v1h-4zM505 1496h1v1h-1zM509 1496h1v1h-1zM513 1496h1v1h-1zM516 1496h1v1h-1zM524 1496h1v1h-1zM527 1496h1v1h-1zM533 1496h1v1h-1zM535 1496h1v1h-1zM537 1496h2v1h-2zM540 1496h3v1h-3zM544 1496h1v1h-1zM547 1496h1v1h-1zM550 1496h1v1h-1zM552 1496h5v1h-5zM558 1496h2v1h-2zM567 1496h3v1h-3zM578 1496h3v1h-3zM586 1496h2v1h-2zM591 1496h1v1h-1zM594 1496h2v1h-2zM597 1496h1v1h-1zM603 1496h4v1h-4zM610 1496h1v1h-1zM612 1496h1v1h-1zM614 1496h2v1h-2zM620 1496h1v1h-1zM622 1496h1v1h-1zM625 1496h1v1h-1zM629 1496h2v1h-2zM632 1496h1v1h-1zM638 1496h3v1h-3zM643 1496h1v1h-1zM645 1496h3v1h-3zM650 1496h2v1h-2zM653 1496h1v1h-1zM661 1496h1v1h-1zM666 1496h6v1h-6zM682 1496h7v1h-7zM690 1496h3v1h-3zM697 1496h1v1h-1zM699 1496h1v1h-1zM701 1496h2v1h-2zM705 1496h3v1h-3zM709 1496h1v1h-1zM719 1496h2v1h-2zM723 1496h1v1h-1zM729 1496h3v1h-3zM734 1496h2v1h-2zM739 1496h2v1h-2zM742 1496h2v1h-2zM749 1496h1v1h-1zM753 1496h1v1h-1zM759 1496h2v1h-2zM766 1496h1v1h-1zM668 1497h3v1h-3zM63 1498h1v1h-1zM85 1498h1v1h-1zM93 1498h1v1h-1zM172 1498h1v1h-1zM208 1498h1v1h-1zM223 1498h1v1h-1zM245 1498h1v1h-1zM269 1498h1v1h-1zM357 1498h1v1h-1zM410 1498h1v1h-1zM520 1498h1v1h-1zM524 1498h1v1h-1zM583 1498h1v1h-1zM669 1498h1v1h-1zM733 1498h1v1h-1zM747 1498h1v1h-1zM750 1498h1v1h-1zM85 1499h1v1h-1zM357 1499h1v1h-1zM524 1499h1v1h-1z"/><path fill="#000" d="M50 72h721v1h-721zM50 87h721v1h-721zM50 102h721v1h-721zM50 117h721v1h-721zM50 132h721v1h-721zM50 147h721v1h-721zM50 162h721v1h-721zM50 177h721v1h-721zM50 192h721v1h-721zM50 207h721v1h-721zM50 222h721v1h-721zM50 237h721v1h-721zM50 252h721v1h-721zM50 267h721v1h-721zM50 282h721v1h-721zM50 297h721v1h-721zM50 312h721v1h-721zM50 327h721v1h-721zM50 342h721v1h-721zM50 357h721v1h-721zM50 372h721v1h-721zM50 387h721v1h-721zM50 402h721v1h-721zM50 417h721v1h-721zM50 432h721v1h-721zM50 447h721v1h-721zM50 462h721v1h-721zM50 477h721v1h-721zM50 492h721v1h-721zM50 507h721v1h-721zM50 522h721v1h-721zM50 537h721v1h-721zM50 552h721v1h-721zM50 567h721v1h-721zM50 582h721v1h-721zM50 597h721v1h-721zM50 612h721v1h-721zM50 627h721v1h-721zM50 642h721v1h-721zM50 657h721v1h-721zM50 672h721v1h-721zM50 687h721v1h-721zM50 702h721v1h-721zM50 717h721v1h-721zM50 732h721v1h-721zM50 747h721v1h-721zM50 762h721v1h-721zM50 777h721v1h-721zM50 792h721v1h-721zM50 807h721v1h-721zM50 822h721v1h-721zM50 837h721v1h-721zM50 852h721v1h-721zM50 867h721v1h-721zM50 882h721v1h-721zM50 897h721v1h-721zM50 912h721v1h-721zM50 927h721v1h-721zM50 942h721v1h-721zM50 957h721v1h-721zM50 972h721v1h-721zM50 987h721v1h-721zM50 1002h721v1h-721zM50 1017h721v1h-721zM50 1032h721v1h-721zM50 1047h721v1h-721zM50 1062h721v1h-721zM50 1077h721v1h-721zM50 1092h721v1h-721zM50 1107h721v1h-721zM50 1122h721v1h-721zM50 1137h721v1h-721zM50 1152h721v1h-721zM50 1167h721v1h-721zM50 1182h721v1h-721zM50 1197h721v1h-721zM50 1212h721v1h-721zM50 1227h721v1h-721zM50 1242h721v1h-721zM50 1257h721v1h-721zM50 1272h721v1h-721zM50 1287h721v1h-721zM50 1302h721v1h-721zM50 1317h721v1h-721zM50 1332h721v1h-721zM50 1347h721v1h-721zM50 1362h721v1h-721zM50 1377h721v1h-721zM50 1392h721v1h-721zM50 1407h721v1h-721zM50 1422h721v1h-721zM50 1437h721v1h-721zM50 1452h721v1h-721zM50 1467h721v1h-721zM50 1482h721v1h-721z"/><path fill="#006400" d="M50 1497h721v1h-721z"/><path fill="#808080" d="M50 64h1v1440h-1zM98 64h1v1440h-1zM146 64h1v1440h-1zM194 64h1v1440h-1zM242 64h1v1440h-1zM290 64h1v1440h-1zM338 64h1v1440h-1zM386 64h1v1440h-1zM434 64h1v1440h-1zM482 64h1v1440h-1zM530 64h1v1440h-1zM578 64h1v1440h-1zM626 64h1v1440h-1zM674 64h1v1440h-1zM722 64h1v1440h-1zM770 64h1v1440h-1z"/><rect x="50" y="64" width="721" height="1" fill="#000"/><path fill="#000" d="M50 1504h721v1h-721zM50 1504h1v11h-1zM58 1504h1v8h-1zM66 1504h1v8h-1zM74 1504h1v8h-1zM82 1504h1v8h-1zM90 1504h1v8h-1zM98 1504h1v11h-1zM106 1504h1v8h-1zM114 1504h1v8h-1zM122 1504h1v8h-1zM130 1504h1v8h-1zM138 1504h1v8h-1zM146 1504h1v11h-1zM154 1504h1v8h-1zM162 1504h1v8h-1zM170 1504h1v8h-1zM178 1504h1v8h-1zM186 1504h1v8h-1zM194 1504h1v11h-1zM202 1504h1v8h-1zM210 1504h1v8h-1zM218 1504h1v8h-1zM226 1504h1v8h-1zM234 1504h1v8h-1zM242 1504h1v11h-1zM250 1504h1v8h-1zM258 1504h1v8h-1zM266 1504h1v8h-1zM274 1504h1v8h-1zM282 1504h1v8h-1zM290 1504h1v11h-1zM298 1504h1v8h-1zM306 1504h1v8h-1zM314 1504h1v8h-1zM322 1504h1v8h-1zM330 1504h1v8h-1zM338 1504h1v11h-1zM346 1504h1v8h-1zM354 1504h1v8h-1zM362 1504h1v8h-1zM370 1504h1v8h-1zM378 1504h1v8h-1zM386 1504h1v11h-1zM394 1504h1v8h-1zM402 1504h1v8h-1zM410 1504h1v8h-1zM418 1504h1v8h-1zM426 1504h1v8h-1zM434 1504h1v11h-1zM442 1504h1v8h-1zM450 1504h1v8h-1zM458 1504h1v8h-1zM466 1504h1v8h-1zM474 1504h1v8h-1zM482 1504h1v11h-1zM490 1504h1v8h-1zM498 1504h1v8h-1zM506 1504h1v8h-1zM514 1504h1v8h-1zM522 1504h1v8h-1zM530 1504h1v11h-1zM538 1504h1v8h-1zM546 1504h1v8h-1zM554 1504h1v8h-1zM562 1504h1v8h-1zM570 1504h1v8h-1zM578 1504h1v11h-1zM586 1504h1v8h-1zM594 1504h1v8h-1zM602 1504h1v8h-1zM610 1504h1v8h-1zM618 1504h1v8h-1zM626 1504h1v11h-1zM634 1504h1v8h-1zM642 1504h1v8h-1zM650 1504h1v8h-1zM658 1504h1v8h-1zM666 1504h1v8h-1zM674 1504h1v11h-1zM682 1504h1v8h-1zM690 1504h1v8h-1zM698 1504h1v8h-1zM706 1504h1v8h-1zM714 1504h1v8h-1zM722 1504h1v11h-1zM730 1504h1v8h-1zM738 1504h1v8h-1zM746 1504h1v8h-1zM754 1504h1v8h-1zM762 1504h1v8h-1zM770 1504h1v11h-1z"/><text x="367 374 381 388 395 402 409 416 423 430" y="15" style="font-family:'Liberation Mono',monospace;font-weight:bold;font-size:13px" xml:space="preserve">MCV EHZ NC</text><text x="361 368 375 382 389 396 403 410 417 424 431 438 445 452 459" y="30" style="font-family:'Liberation Mono',monospace;font-weight:bold;font-size:13px" xml:space="preserve">(Convict Lake )</text><text x="13 20 27" y="30" style="font-family:'Liberation Mono',monospace;font-weight:bold;font-size:13px" xml:space="preserve">UTC</text><text x="13 20 27 34 41 48 55 62 69 76" y="45" style="font-family:'Liberation Mono',monospace;font-weight:bold;font-size:13px" xml:space="preserve">Sep13,2<tspan dx="1" style="font-family:'Liberation Serif',serif;font-size:14px">0</tspan>25</text><text x="773 780 787" y="30" style="font-family:'Liberation Mono',monospace;font-weight:bold;font-size:13px" xml:space="preserve">PDT</text><text x="773 780 787 794 801 808 815 822 829 836" y="45" style="font-family:'Liberation Mono',monospace;font-weight:bold;font-size:13px" xml:space="preserve">Sep13,2<tspan dx="1" style="font-family:'Liberation Serif',serif;font-size:14px">0</tspan>25</text><text x="367 373 379 385 391 397 403 409 415 421 427 433 439 445 451 457 463" y="53" style="font-family:'Liberation Mono',monospace;font-size:10px;font-weight:bold" xml:space="preserve">= 0.000100 cm/sec</text><text x="13 20 27 34 41" y="78" style="font-family:'Liberation Mono',monospace;font-weight:bold;font-size:13px" xml:space="preserve"><tspan dx="1" style="font-family:'Liberation Serif',serif;font-size:14px">0</tspan>7:<tspan dx="1" style="font-family:'Liberation Serif',serif;font-size:14px">0</tspan><tspan dx="1" style="font-family:'Liberation Serif',serif;font-size:14px">0</tspan></text><text x="773 780 787 794 801" y="78" style="font-family:'Liberation Mono',monospace;font-weight:bold;font-size:13px" xml:space="preserve"><tspan dx="1" style="font-family:'Liberation Serif',serif;font-size:14px">0</tspan><tspan dx="1" style="font-family:'Liberation Serif',serif;font-size:14px">0</tspan>:15</text><text x="13 20 27 34 41" y="138" style="font-family:'Liberation Mono',monospace;font-weight:bold;font-size:13px" xml:space="preserve"><tspan dx="1" style="font-family:'Liberation Serif',serif;font-size:14px">0</tspan>8:<tspan dx="1" style="font-family:'Liberation Serif',serif;font-size:14px">0</tspan><tspan dx="1" style="font-family:'Liberation Serif',serif;font-size:14px">0</tspan></text><text x="773 780 787 794 801" y="138" style="font-family:'Liberation Mono',monospace;font-weight:bold;font-size:13px" xml:space="preserve"><tspan dx="1" style="font-family:'Liberation Serif',serif;font-size:14px">0</tspan>1:15</text><text x="13 20 27 34 41" y="198" style="font-family:'Liberation Mono',monospace;font-weight:bold;font-size:13px" xml:space="preserve"><tspan dx="1" style="font-family:'Liberation Serif',serif;font-size:14px">0</tspan>9:<tspan dx="1" style="font-family:'Liberation Serif',serif;font-size:14px">0</tspan><tspan dx="1" style="font-family:'Liberation Serif',serif;font-size:14px">0</tspan></text><text x="773 780 787 794 801" y="198" style="font-family:'Liberation Mono',monospace;font-weight:bold;font-size:13px" xml:space="preserve"><tspan dx="1" style="font-family:'Liberation Serif',serif;font-size:14px">0</tspan>2:15</text><text x="13 20 27 34 41" y="258" style="font-family:'Liberation Mono',monospace;font-weight:bold;font-size:13px" xml:space="preserve">1<tspan dx="1" style="font-family:'Liberation Serif',serif;font-size:14px">0</tspan>:<tspan dx="1" style="font-family:'Liberation Serif',serif;font-size:14px">0</tspan><tspan dx="1" style="font-family:'Liberation Serif',serif;font-size:14px">0</tspan></text><text x="773 780 787 794 801" y="258" style="font-family:'Liberation Mono',monospace;font-weight:bold;font-size:13px" xml:space="preserve"><tspan dx="1" style="font-family:'Liberation Serif',serif;font-size:14px">0</tspan>3:15</text><text x="13 20 27 34 41" y="318" style="font-family:'Liberation Mono',monospace;font-weight:bold;font-size:13px" xml:space="preserve">11:<tspan dx="1" style="font-family:'Liberation Serif',serif;font-size:14px">0</tspan><tspan dx="1" style="font-family:'Liberation Serif',serif;font-size:14px">0</tspan></text><text x="773 780 787 794 801" y="318" style="font-family:'Liberation Mono',monospace;font-weight:bold;font-size:13px" xml:space="preserve"><tspan dx="1" style="font-family:'Liberation Serif',serif;font-size:14px">0</tspan>4:15</text><text x="13 20 27 34 41" y="378" style="font-family:'Liberation Mono',monospace;font-weight:bold;font-size:13px" xml:space="preserve">12:<tspan dx="1" style="font-family:'Liberation Serif',serif;font-size:14px">0</tspan><tspan dx="1" style="font-family:'Liberation Serif',serif;font-size:14px">0</tspan></text><text x="773 780 787 794 801" y="378" style="font-family:'Liberation Mono',monospace;font-weight:bold;font-size:13px" xml:space="preserve"><tspan dx="1" style="font-family:'Liberation Serif',serif;font-size:14px">0</tspan>5:15</text><text x="13 20 27 34 41" y="438" style="font-family:'Liberation Mono',monospace;font-weight:bold;font-size:13px" xml:space="preserve">13:<tspan dx="1" style="font-family:'Liberation Serif',serif;font-size:14px">0</tspan><tspan dx="1" style="font-family:'Liberation Serif',serif;font-size:14px">0</tspan></text><text x="773 780 787 794 801" y="438" style="font-family:'Liberation Mono',monospace;font-weight:bold;font-size:13px" xml:space="preserve"><tspan dx="1" style="font-family:'Liberation Serif',serif;font-size:14px">0</tspan>6:15</text><text x="13 20 27 34 41" y="498" style="font-family:'Liberation Mono',monospace;font-weight:bold;font-size:13px" xml:space="preserve">14:<tspan dx="1" style="font-family:'Liberation Serif',serif;font-size:14px">0</tspan><tspan dx="1" style="font-family:'Liberation Serif',serif;font-size:14px">0</tspan></text><text x="773 780 787 794 801" y="498" style="font-family:'Liberation Mono',monospace;font-weight:bold;font-size:13px" xml:space="preserve"><tspan dx="1" style="font-family:'Liberation Serif',serif;font-size:14px">0</tspan>7:15</text><text x="13 20 27 34 41" y="558" style="font-family:'Liberation Mono',monospace;font-weight:bold;font-size:13px" xml:space="preserve">15:<tspan dx="1" style="font-family:'Liberation Serif',serif;font-size:14px">0</tspan><tspan dx="1" style="font-family:'Liberation Serif',serif;font-size:14px">0</tspan></text><text x="773 780 787 794 801" y="558" style="font-family:'Liberation Mono',monospace;font-weight:bold;font-size:13px" xml:space="preserve"><tspan dx="1" style="font-family:'Liberation Serif',serif;font-size:14px">0</tspan>8:15</text><text x="13 20 27 34 41" y="618" style="font-family:'Liberation Mono',monospace;font-weight:bold;font-size:13px" xml:space="preserve">16:<tspan dx="1" style="font-family:'Liberation Serif',serif;font-size:14px">0</tspan><tspan dx="1" style="font-family:'Liberation Serif',serif;font-size:14px">0</tspan></text><text x="773 780 787 794 801" y="618" style="font-family:'Liberation Mono',monospace;font-weight:bold;font-size:13px" xml:space="preserve"><tspan dx="1" style="font-family:'Liberation Serif',serif;font-size:14px">0</tspan>9:15</text><text x="13 20 27 34 41" y="678" style="font-family:'Liberation Mono',monospace;font-weight:bold;font-size:13px" xml:space="preserve">17:<tspan dx="1" style="font-family:'Liberation Serif',serif;font-size:14px">0</tspan><tspan dx="1" style="font-family:'Liberation Serif',serif;font-size:14px">0</tspan></text><text x="773 780 787 794 801" y="678" style="font-family:'Liberation Mono',monospace;font-weight:bold;font-size:13px" xml:space="preserve">1<tspan dx="1" style="font-family:'Liberation Serif',serif;font-size:14px">0</tspan>:15</text><text x="13 20 27 34 41" y="738" style="font-family:'Liberation Mono',monospace;font-weight:bold;font-size:13px" xml:space="preserve">18:<tspan dx="1" style="font-family:'Liberation Serif',serif;font-size:14px">0</tspan><tspan dx="1" style="font-family:'Liberation Serif',serif;font-size:14px">0</tspan></text><text x="773 780 787 794 801" y="738" style="font-family:'Liberation Mono',monospace;font-weight:bold;font-size:13px" xml:space="preserve">11:15</text><text x="13 20 27 34 41" y="798" style="font-family:'Liberation Mono',monospace;font-weight:bold;font-size:13px" xml:space="preserve">19:<tspan dx="1" style="font-family:'Liberation Serif',serif;font-size:14px">0</tspan><tspan dx="1" style="font-family:'Liberation Serif',serif;font-size:14px">0</tspan></text><text x="773 780 787 794 801" y="798" style="font-family:'Liberation Mono',monospace;font-weight:bold;font-size:13px" xml:space="preserve">12:15</text><text x="13 20 27 34 41" y="858" style="font-family:'Liberation Mono',monospace;font-weight:bold;font-size:13px" xml:space="preserve">2<tspan dx="1" style="font-family:'Liberation Serif',serif;font-size:14px">0</tspan>:<tspan dx="1" style="font-family:'Liberation Serif',serif;font-size:14px">0</tspan><tspan dx="1" style="font-family:'Liberation Serif',serif;font-size:14px">0</tspan></text><text x="773 780 787 794 801" y="858" style="font-family:'Liberation Mono',monospace;font-weight:bold;font-size:13px" xml:space="preserve">13:15</text><text x="13 20 27 34 41" y="918" style="font-family:'Liberation Mono',monospace;font-weight:bold;font-size:13px" xml:space="preserve">21:<tspan dx="1" style="font-family:'Liberation Serif',serif;font-size:14px">0</tspan><tspan dx="1" style="font-family:'Liberation Serif',serif;font-size:14px">0</tspan></text><text x="773 780 787 794 801" y="918" style="font-family:'Liberation Mono',monospace;font-weight:bold;font-size:13px" xml:space="preserve">14:15</text><text x="13 20 27 34 41" y="978" style="font-family:'Liberation Mono',monospace;font-weight:bold;font-size:13px" xml:space="preserve">22:<tspan dx="1" style="font-family:'Liberation Serif',serif;font-size:14px">0</tspan><tspan dx="1" style="font-family:'Liberation Serif',serif;font-size:14px">0</tspan></text><text x="773 780 787 794 801" y="978" style="font-family:'Liberation Mono',monospace;font-weight:bold;font-size:13px" xml:space="preserve">15:15</text><text x="13 20 27 34 41" y="1038" style="font-family:'Liberation Mono',monospace;font-weight:bold;font-size:13px" xml:space="preserve">23:<tspan dx="1" style="font-family:'Liberation Serif',serif;font-size:14px">0</tspan><tspan dx="1" style="font-family:'Liberation Serif',serif;font-size:14px">0</tspan></text><text x="773 780 787 794 801" y="1038" style="font-family:'Liberation Mono',monospace;font-weight:bold;font-size:13px" xml:space="preserve">16:15</text><text x="13 20 27 34 41" y="1098" style="font-family:'Liberation Mono',monospace;font-weight:bold;font-size:13px" xml:space="preserve"><tspan dx="1" style="font-family:'Liberation Serif',serif;font-size:14px">0</tspan><tspan dx="1" style="font-family:'Liberation Serif',serif;font-size:14px">0</tspan>:<tspan dx="1" style="font-family:'Liberation Serif',serif;font-size:14px">0</tspan><tspan dx="1" style="font-family:'Liberation Serif',serif;font-size:14px">0</tspan></text><text x="773 780 787 794 801" y="1098" style="font-family:'Liberation Mono',monospace;font-weight:bold;font-size:13px" xml:space="preserve">17:15</text><text x="13 20 27 34 41" y="1158" style="font-family:'Liberation Mono',monospace;font-weight:bold;font-size:13px" xml:space="preserve"><tspan dx="1" style="font-family:'Liberation Serif',serif;font-size:14px">0</tspan>1:<tspan dx="1" style="font-family:'Liberation Serif',serif;font-size:14px">0</tspan><tspan dx="1" style="font-family:'Liberation Serif',serif;font-size:14px">0</tspan></text><text x="773 780 787 794 801" y="1158" style="font-family:'Liberation Mono',monospace;font-weight:bold;font-size:13px" xml:space="preserve">18:15</text><text x="13 20 27 34 41" y="1218" style="font-family:'Liberation Mono',monospace;font-weight:bold;font-size:13px" xml:space="preserve"><tspan dx="1" style="font-family:'Liberation Serif',serif;font-size:14px">0</tspan>2:<tspan dx="1" style="font-family:'Liberation Serif',serif;font-size:14px">0</tspan><tspan dx="1" style="font-family:'Liberation Serif',serif;font-size:14px">0</tspan></text><text x="773 780 787 794 801" y="1218" style="font-family:'Liberation Mono',monospace;font-weight:bold;font-size:13px" xml:space="preserve">19:15</text><text x="13 20 27 34 41" y="1278" style="font-family:'Liberation Mono',monospace;font-weight:bold;font-size:13px" xml:space="preserve"><tspan dx="1" style="font-family:'Liberation Serif',serif;font-size:14px">0</tspan>3:<tspan dx="1" style="font-family:'Liberation Serif',serif;font-size:14px">0</tspan><tspan dx="1" style="font-family:'Liberation Serif',serif;font-size:14px">0</tspan></text><text x="773 780 787 794 801" y="1278" style="font-family:'Liberation Mono',monospace;font-weight:bold;font-size:13px" xml:space="preserve">2<tspan dx="1" style="font-family:'Liberation Serif',serif;font-size:14px">0</tspan>:15</text><text x="13 20 27 34 41" y="1338" style="font-family:'Liberation Mono',monospace;font-weight:bold;font-size:13px" xml:space="preserve"><tspan dx="1" style="font-family:'Liberation Serif',serif;font-size:14px">0</tspan>4:<tspan dx="1" style="font-family:'Liberation Serif',serif;font-size:14px">0</tspan><tspan dx="1" style="font-family:'Liberation Serif',serif;font-size:14px">0</tspan></text><text x="773 780 787 794 801" y="1338" style="font-family:'Liberation Mono',monospace;font-weight:bold;font-size:13px" xml:space="preserve">21:15</text><text x="13 20 27 34 41" y="1398" style="font-family:'Liberation Mono',monospace;font-weight:bold;font-size:13px" xml:space="preserve"><tspan dx="1" style="font-family:'Liberation Serif',serif;font-size:14px">0</tspan>5:<tspan dx="1" style="font-family:'Liberation Serif',serif;font-size:14px">0</tspan><tspan dx="1" style="font-family:'Liberation Serif',serif;font-size:14px">0</tspan></text><text x="773 780 787 794 801" y="1398" style="font-family:'Liberation Mono',monospace;font-weight:bold;font-size:13px" xml:space="preserve">22:15</text><text x="13 20 27 34 41" y="1458" style="font-family:'Liberation Mono',monospace;font-weight:bold;font-size:13px" xml:space="preserve"><tspan dx="1" style="font-family:'Liberation Serif',serif;font-size:14px">0</tspan>6:<tspan dx="1" style="font-family:'Liberation Serif',serif;font-size:14px">0</tspan><tspan dx="1" style="font-family:'Liberation Serif',serif;font-size:14px">0</tspan></text><text x="773 780 787 794 801" y="1458" style="font-family:'Liberation Mono',monospace;font-weight:bold;font-size:13px" xml:space="preserve">23:15</text><text x="13 20 27 34 41" y="1083" style="font-family:'Liberation Mono',monospace;font-weight:bold;font-size:13px" xml:space="preserve">Sep14</text><text x="46" y="1525" style="font-family:'Liberation Mono',monospace;font-weight:bold;font-size:13px" xml:space="preserve"><tspan dx="1" style="font-family:'Liberation Serif',serif;font-size:14px">0</tspan></text><text x="94" y="1525" style="font-family:'Liberation Mono',monospace;font-weight:bold;font-size:13px" xml:space="preserve">1</text><text x="142" y="1525" style="font-family:'Liberation Mono',monospace;font-weight:bold;font-size:13px" xml:space="preserve">2</text><text x="190" y="1525" style="font-family:'Liberation Mono',monospace;font-weight:bold;font-size:13px" xml:space="preserve">3</text><text x="238" y="1525" style="font-family:'Liberation Mono',monospace;font-weight:bold;font-size:13px" xml:space="preserve">4</text><text x="286" y="1525" style="font-family:'Liberation Mono',monospace;font-weight:bold;font-size:13px" xml:space="preserve">5</text><text x="334" y="1525" style="font-family:'Liberation Mono',monospace;font-weight:bold;font-size:13px" xml:space="preserve">6</text><text x="382" y="1525" style="font-family:'Liberation Mono',monospace;font-weight:bold;font-size:13px" xml:space="preserve">7</text><text x="430" y="1525" style="font-family:'Liberation Mono',monospace;font-weight:bold;font-size:13px" xml:space="preserve">8</text><text x="478" y="1525" style="font-family:'Liberation Mono',monospace;font-weight:bold;font-size:13px" xml:space="preserve">9</text><text x="523 530" y="1525" style="font-family:'Liberation Mono',monospace;font-weight:bold;font-size:13px" xml:space="preserve">1<tspan dx="1" style="font-family:'Liberation Serif',serif;font-size:14px">0</tspan></text><text x="571 578" y="1525" style="font-family:'Liberation Mono',monospace;font-weight:bold;font-size:13px" xml:space="preserve">11</text><text x="619 626" y="1525" style="font-family:'Liberation Mono',monospace;font-weight:bold;font-size:13px" xml:space="preserve">12</text><text x="667 674" y="1525" style="font-family:'Liberation Mono',monospace;font-weight:bold;font-size:13px" xml:space="preserve">13</text><text x="715 722" y="1525" style="font-family:'Liberation Mono',monospace;font-weight:bold;font-size:13px" xml:space="preserve">14</text><text x="763 770" y="1525" style="font-family:'Liberation Mono',monospace;font-weight:bold;font-size:13px" xml:space="preserve">15</text><text x="374 381 388 395 402 409 416 423 430 437 444 451 458 465" y="1536" style="font-family:'Liberation Mono',monospace;font-weight:bold;font-size:13px" xml:space="preserve">TIME (MINUTES)</text><text x="26 32 38 44 50 56 62 68 74 80 86 92 98 104 110 116 122 128 134 140 146 152 158 164 170 176 182 188 194 200 206 212 218 224 230 236 242 248" y="1575" style="font-family:'Liberation Mono',monospace;font-size:10px;font-weight:bold" xml:space="preserve">= 0.000100 cm/sec =     100 microvolts</text><rect x="354" y="39" width="5" height="1" fill="#000"/><rect x="356" y="39" width="1" height="16" fill="#000"/><rect x="354" y="54" width="5" height="1" fill="#000"/><rect x="13" y="1561" width="5" height="1" fill="#000"/><rect x="15" y="1561" width="1" height="16" fill="#000"/><rect x="13" y="1576" width="5" height="1" fill="#000"/></svg>
<div class="mu">н</div>
</body></html>
